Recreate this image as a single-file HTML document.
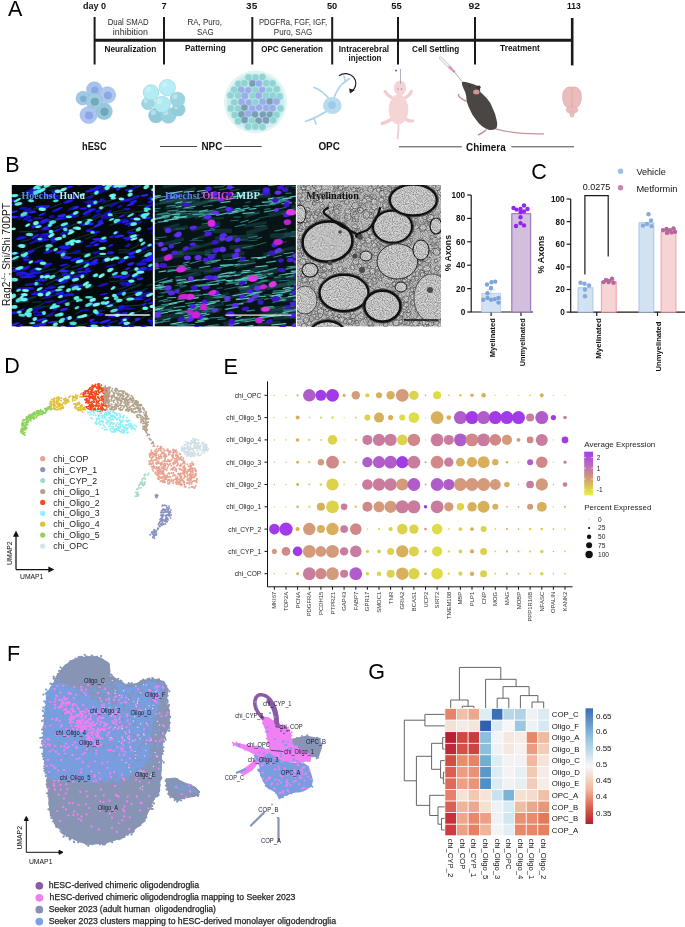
<!DOCTYPE html><html><head><meta charset="utf-8"><style>html,body{margin:0;padding:0;background:#fff;}body{width:685px;height:927px;overflow:hidden;}svg{display:block;will-change:transform;}</style></head><body>
<svg width="685" height="927" viewBox="0 0 685 927">
<defs><filter id="emn" x="0" y="0" width="100%" height="100%"><feTurbulence type="fractalNoise" baseFrequency="0.9" numOctaves="2" seed="3" result="t"/><feColorMatrix in="t" type="matrix" values="0 0 0 0 0  0 0 0 0 0  0 0 0 0 0  0 0 0 1.6 -0.55" result="a"/><feComposite in="a" in2="SourceGraphic" operator="in"/></filter><filter id="bl4"><feGaussianBlur stdDeviation="0.4"/></filter><filter id="bl5"><feGaussianBlur stdDeviation="0.6"/></filter><linearGradient id="gexp" x1="0" y1="0" x2="0" y2="1"><stop offset="0" stop-color="#a23cf0"/><stop offset="0.35" stop-color="#c070b4"/><stop offset="0.65" stop-color="#d6a468"/><stop offset="1" stop-color="#e8f43c"/></linearGradient><linearGradient id="ghm" x1="0" y1="0" x2="0" y2="1"><stop offset="0" stop-color="#3b6db3"/><stop offset="0.25" stop-color="#8fc2de"/><stop offset="0.5" stop-color="#f7f7f7"/><stop offset="0.7" stop-color="#f2b79c"/><stop offset="0.85" stop-color="#dc6450"/><stop offset="1" stop-color="#b51f2e"/></linearGradient><radialGradient id="gnpc" cx="0.4" cy="0.35" r="0.7"><stop offset="0" stop-color="#c4f0f6"/><stop offset="1" stop-color="#8cd4e2"/></radialGradient><radialGradient id="gsph" cx="0.5" cy="0.5" r="0.5"><stop offset="0.85" stop-color="#d6f1f0"/><stop offset="1" stop-color="#e6f6f5"/></radialGradient></defs>
<text x="8.0" y="16.1" font-size="21.5" font-weight="normal" fill="#000" text-anchor="start" font-family='"Liberation Sans", sans-serif' >A</text>
<text x="5.3" y="171.6" font-size="21.5" font-weight="normal" fill="#000" text-anchor="start" font-family='"Liberation Sans", sans-serif' >B</text>
<text x="531.2" y="178.8" font-size="21.5" font-weight="normal" fill="#000" text-anchor="start" font-family='"Liberation Sans", sans-serif' >C</text>
<text x="4.2" y="373.3" font-size="21.5" font-weight="normal" fill="#000" text-anchor="start" font-family='"Liberation Sans", sans-serif' >D</text>
<text x="223.6" y="373.9" font-size="21.5" font-weight="normal" fill="#000" text-anchor="start" font-family='"Liberation Sans", sans-serif' >E</text>
<text x="7.0" y="660.7" font-size="21.5" font-weight="normal" fill="#000" text-anchor="start" font-family='"Liberation Sans", sans-serif' >F</text>
<text x="368.3" y="679.0" font-size="21.5" font-weight="normal" fill="#000" text-anchor="start" font-family='"Liberation Sans", sans-serif' >G</text>
<g stroke="#1a1a1a" stroke-linecap="butt">
<line x1="94.6" y1="40.3" x2="572.5" y2="40.3" stroke-width="3"/>
<line x1="94.6" y1="17" x2="94.6" y2="64.5" stroke-width="2"/>
<line x1="164.0" y1="17" x2="164.0" y2="64.5" stroke-width="2"/>
<line x1="252.3" y1="17" x2="252.3" y2="64.5" stroke-width="2"/>
<line x1="332.2" y1="17" x2="332.2" y2="64.5" stroke-width="2"/>
<line x1="398.0" y1="17" x2="398.0" y2="64.5" stroke-width="2"/>
<line x1="475.0" y1="17" x2="475.0" y2="64.5" stroke-width="2"/>
<line x1="572.2" y1="18" x2="572.2" y2="65.4" stroke-width="2.6"/>
</g>
<text x="82.9" y="9.1" font-size="9.2" font-weight="bold" fill="#111" text-anchor="start" font-family='"Liberation Sans", sans-serif' textLength="23.1" lengthAdjust="spacingAndGlyphs" >day 0</text>
<text x="161.5" y="9.1" font-size="9.2" font-weight="bold" fill="#111" text-anchor="start" font-family='"Liberation Sans", sans-serif' textLength="5.1" lengthAdjust="spacingAndGlyphs" >7</text>
<text x="246.1" y="9.1" font-size="9.2" font-weight="bold" fill="#111" text-anchor="start" font-family='"Liberation Sans", sans-serif' textLength="11.1" lengthAdjust="spacingAndGlyphs" >35</text>
<text x="326.9" y="9.1" font-size="9.2" font-weight="bold" fill="#111" text-anchor="start" font-family='"Liberation Sans", sans-serif' textLength="10.3" lengthAdjust="spacingAndGlyphs" >50</text>
<text x="391.3" y="9.1" font-size="9.2" font-weight="bold" fill="#111" text-anchor="start" font-family='"Liberation Sans", sans-serif' textLength="10.5" lengthAdjust="spacingAndGlyphs" >55</text>
<text x="468.4" y="9.1" font-size="9.2" font-weight="bold" fill="#111" text-anchor="start" font-family='"Liberation Sans", sans-serif' textLength="11.6" lengthAdjust="spacingAndGlyphs" >92</text>
<text x="567.0" y="9.1" font-size="9.2" font-weight="bold" fill="#111" text-anchor="start" font-family='"Liberation Sans", sans-serif' textLength="13.6" lengthAdjust="spacingAndGlyphs" >113</text>
<text x="107.7" y="24.8" font-size="9.2" font-weight="normal" fill="#2a2a2a" text-anchor="start" font-family='"Liberation Sans", sans-serif' textLength="40.9" lengthAdjust="spacingAndGlyphs" >Dual SMAD</text>
<text x="112.8" y="35.0" font-size="9.2" font-weight="normal" fill="#2a2a2a" text-anchor="start" font-family='"Liberation Sans", sans-serif' textLength="35.1" lengthAdjust="spacingAndGlyphs" >inhibition</text>
<text x="104.5" y="51.6" font-size="9.0" font-weight="bold" fill="#111" text-anchor="start" font-family='"Liberation Sans", sans-serif' textLength="51.7" lengthAdjust="spacingAndGlyphs" >Neuralization</text>
<text x="187.4" y="24.8" font-size="9.0" font-weight="normal" fill="#2a2a2a" text-anchor="start" font-family='"Liberation Sans", sans-serif' textLength="34.6" lengthAdjust="spacingAndGlyphs" >RA, Puro,</text>
<text x="196.9" y="35.0" font-size="9.2" font-weight="normal" fill="#2a2a2a" text-anchor="start" font-family='"Liberation Sans", sans-serif' textLength="16.8" lengthAdjust="spacingAndGlyphs" >SAG</text>
<text x="185.1" y="51.4" font-size="9.0" font-weight="bold" fill="#111" text-anchor="start" font-family='"Liberation Sans", sans-serif' textLength="40.6" lengthAdjust="spacingAndGlyphs" >Patterning</text>
<text x="258.9" y="24.5" font-size="9.0" font-weight="normal" fill="#2a2a2a" text-anchor="start" font-family='"Liberation Sans", sans-serif' textLength="68.3" lengthAdjust="spacingAndGlyphs" >PDGFRa, FGF, IGF,</text>
<text x="273.8" y="35.0" font-size="9.0" font-weight="normal" fill="#2a2a2a" text-anchor="start" font-family='"Liberation Sans", sans-serif' textLength="38.5" lengthAdjust="spacingAndGlyphs" >Puro, SAG</text>
<text x="261.2" y="52.0" font-size="9.2" font-weight="bold" fill="#111" text-anchor="start" font-family='"Liberation Sans", sans-serif' textLength="61.7" lengthAdjust="spacingAndGlyphs" >OPC Generation</text>
<text x="338.8" y="51.6" font-size="9.0" font-weight="bold" fill="#111" text-anchor="start" font-family='"Liberation Sans", sans-serif' textLength="50.3" lengthAdjust="spacingAndGlyphs" >Intracerebral</text>
<text x="348.6" y="61.0" font-size="9.0" font-weight="bold" fill="#111" text-anchor="start" font-family='"Liberation Sans", sans-serif' textLength="32.9" lengthAdjust="spacingAndGlyphs" >injection</text>
<text x="412.1" y="51.8" font-size="9.2" font-weight="bold" fill="#111" text-anchor="start" font-family='"Liberation Sans", sans-serif' textLength="47.1" lengthAdjust="spacingAndGlyphs" >Cell Settling</text>
<text x="500.1" y="51.3" font-size="8.6" font-weight="bold" fill="#111" text-anchor="start" font-family='"Liberation Sans", sans-serif' textLength="39.7" lengthAdjust="spacingAndGlyphs" >Treatment</text>
<text x="82.0" y="149.7" font-size="11.0" font-weight="bold" fill="#111" text-anchor="start" font-family='"Liberation Sans", sans-serif' textLength="24.6" lengthAdjust="spacingAndGlyphs" >hESC</text>
<text x="201.5" y="149.8" font-size="11.0" font-weight="bold" fill="#111" text-anchor="start" font-family='"Liberation Sans", sans-serif' textLength="20.8" lengthAdjust="spacingAndGlyphs" >NPC</text>
<text x="318.4" y="150.0" font-size="11.0" font-weight="bold" fill="#111" text-anchor="start" font-family='"Liberation Sans", sans-serif' textLength="21.5" lengthAdjust="spacingAndGlyphs" >OPC</text>
<text x="466.0" y="150.5" font-size="11.0" font-weight="bold" fill="#111" text-anchor="start" font-family='"Liberation Sans", sans-serif' textLength="39.7" lengthAdjust="spacingAndGlyphs" >Chimera</text>
<g stroke="#333" stroke-width="0.9">
<line x1="160" y1="146.5" x2="197" y2="146.5"/><line x1="224.4" y1="146.5" x2="261.7" y2="146.5"/>
<line x1="399" y1="146.8" x2="461.8" y2="146.8"/><line x1="511.4" y1="146.8" x2="574" y2="146.8"/>
</g>
<circle cx="82.9" cy="98.2" r="6.9" fill="#a2c6e6" stroke="#8fb4dc" stroke-width="0.5"/>
<circle cx="83.4" cy="98.7" r="3.3" fill="#7fb0cc"/>
<circle cx="94.3" cy="89.6" r="7.8" fill="#a8c2ee" stroke="#8fb4dc" stroke-width="0.5"/>
<circle cx="94.8" cy="90.1" r="3.7" fill="#8aa6e2"/>
<circle cx="107.4" cy="95.0" r="8.3" fill="#b0c8f0" stroke="#8fb4dc" stroke-width="0.5"/>
<circle cx="107.9" cy="95.5" r="4.0" fill="#8ea8e6"/>
<circle cx="104.0" cy="111.3" r="8.3" fill="#96c8dc" stroke="#8fb4dc" stroke-width="0.5"/>
<circle cx="104.5" cy="111.8" r="4.0" fill="#6fa6b8"/>
<circle cx="94.3" cy="101.2" r="8.3" fill="#9ccde0" stroke="#8fb4dc" stroke-width="0.5"/>
<circle cx="94.8" cy="101.7" r="4.0" fill="#73a9ba"/>
<circle cx="88.6" cy="115.0" r="8.6" fill="#aec4f0" stroke="#8fb4dc" stroke-width="0.5"/>
<circle cx="89.1" cy="115.5" r="4.1" fill="#8ca6e4"/>
<circle cx="156" cy="115.5" r="7.4" fill="#90cad8" stroke="#84cadb" stroke-width="0.5"/>
<circle cx="153.4" cy="112.5" r="2.6" fill="#d8f6fa" opacity="0.5"/>
<circle cx="168.3" cy="115.5" r="7.8" fill="#98d0dc" stroke="#84cadb" stroke-width="0.5"/>
<circle cx="165.6" cy="112.4" r="2.7" fill="#d8f6fa" opacity="0.5"/>
<circle cx="178.5" cy="109.5" r="6.6" fill="#94ccda" stroke="#84cadb" stroke-width="0.5"/>
<circle cx="176.2" cy="106.9" r="2.3" fill="#d8f6fa" opacity="0.5"/>
<circle cx="177.5" cy="99.6" r="7.4" fill="#9ad4e0" stroke="#84cadb" stroke-width="0.5"/>
<circle cx="174.9" cy="96.6" r="2.6" fill="#d8f6fa" opacity="0.5"/>
<circle cx="147.9" cy="103.5" r="6.3" fill="#9ed6e2" stroke="#84cadb" stroke-width="0.5"/>
<circle cx="145.7" cy="101.0" r="2.2" fill="#d8f6fa" opacity="0.5"/>
<circle cx="151" cy="92.5" r="7.8" fill="#b4ecf4" stroke="#84cadb" stroke-width="0.5"/>
<circle cx="148.3" cy="89.4" r="2.7" fill="#d8f6fa" opacity="0.5"/>
<circle cx="167.3" cy="87.6" r="8.2" fill="#b6eef6" stroke="#84cadb" stroke-width="0.5"/>
<circle cx="164.4" cy="84.3" r="2.9" fill="#d8f6fa" opacity="0.5"/>
<circle cx="162.2" cy="104.5" r="8.2" fill="#b2eaf2" stroke="#84cadb" stroke-width="0.5"/>
<circle cx="159.3" cy="101.2" r="2.9" fill="#d8f6fa" opacity="0.5"/>
<circle cx="255.5" cy="102" r="31.5" fill="#e2f4f3"/>
<circle cx="255.5" cy="102" r="28.8" fill="#cdeceb"/>
<circle cx="248.5" cy="77.5" r="3.9" fill="#b8e6e4"/><circle cx="248.5" cy="77.5" r="3.15" fill="#8fd3d3"/>
<circle cx="255.5" cy="77.6" r="3.9" fill="#b8e6e4"/><circle cx="255.5" cy="77.6" r="3.15" fill="#8fd3d3"/>
<circle cx="262.4" cy="77.1" r="3.9" fill="#b8e6e4"/><circle cx="262.4" cy="77.1" r="3.15" fill="#8fd3d3"/>
<circle cx="238.5" cy="83.9" r="3.9" fill="#b8e6e4"/><circle cx="238.5" cy="83.9" r="3.15" fill="#8fd3d3"/>
<circle cx="244.4" cy="83.2" r="3.9" fill="#b8e6e4"/><circle cx="244.4" cy="83.2" r="3.15" fill="#8fd3d3"/>
<circle cx="252.5" cy="83.5" r="3.9" fill="#a6c6da"/><circle cx="252.5" cy="83.5" r="3.15" fill="#7a9fb2"/>
<circle cx="258.9" cy="83.6" r="3.9" fill="#b8c8f0"/><circle cx="258.9" cy="83.6" r="3.15" fill="#98aee8"/>
<circle cx="266.3" cy="83.2" r="3.9" fill="#b8e6e4"/><circle cx="266.3" cy="83.2" r="3.15" fill="#8fd3d3"/>
<circle cx="272.5" cy="83.3" r="3.9" fill="#b8e6e4"/><circle cx="272.5" cy="83.3" r="3.15" fill="#8fd3d3"/>
<circle cx="234.1" cy="90.0" r="3.9" fill="#b8e6e4"/><circle cx="234.1" cy="90.0" r="3.15" fill="#8fd3d3"/>
<circle cx="241.1" cy="89.9" r="3.9" fill="#b8c8f0"/><circle cx="241.1" cy="89.9" r="3.15" fill="#98aee8"/>
<circle cx="248.4" cy="90.3" r="3.9" fill="#b8c8f0"/><circle cx="248.4" cy="90.3" r="3.15" fill="#98aee8"/>
<circle cx="255.2" cy="90.2" r="3.9" fill="#b8e6e4"/><circle cx="255.2" cy="90.2" r="3.15" fill="#8fd3d3"/>
<circle cx="262.3" cy="90.1" r="3.9" fill="#b8c8f0"/><circle cx="262.3" cy="90.1" r="3.15" fill="#98aee8"/>
<circle cx="269.1" cy="90.3" r="3.9" fill="#b8e6e4"/><circle cx="269.1" cy="90.3" r="3.15" fill="#8fd3d3"/>
<circle cx="276.7" cy="89.2" r="3.9" fill="#b8e6e4"/><circle cx="276.7" cy="89.2" r="3.15" fill="#8fd3d3"/>
<circle cx="230.5" cy="95.3" r="3.9" fill="#b8e6e4"/><circle cx="230.5" cy="95.3" r="3.15" fill="#8fd3d3"/>
<circle cx="238.1" cy="95.5" r="3.9" fill="#b8e6e4"/><circle cx="238.1" cy="95.5" r="3.15" fill="#8fd3d3"/>
<circle cx="244.8" cy="96.0" r="3.9" fill="#b8c8f0"/><circle cx="244.8" cy="96.0" r="3.15" fill="#98aee8"/>
<circle cx="252.6" cy="95.8" r="3.9" fill="#b8e6e4"/><circle cx="252.6" cy="95.8" r="3.15" fill="#8fd3d3"/>
<circle cx="258.6" cy="95.7" r="3.9" fill="#b8c8f0"/><circle cx="258.6" cy="95.7" r="3.15" fill="#98aee8"/>
<circle cx="265.8" cy="95.5" r="3.9" fill="#b8e6e4"/><circle cx="265.8" cy="95.5" r="3.15" fill="#8fd3d3"/>
<circle cx="272.7" cy="95.5" r="3.9" fill="#b8e6e4"/><circle cx="272.7" cy="95.5" r="3.15" fill="#8fd3d3"/>
<circle cx="279.6" cy="96.4" r="3.9" fill="#b8e6e4"/><circle cx="279.6" cy="96.4" r="3.15" fill="#8fd3d3"/>
<circle cx="234.2" cy="102.4" r="3.9" fill="#b8e6e4"/><circle cx="234.2" cy="102.4" r="3.15" fill="#8fd3d3"/>
<circle cx="241.6" cy="101.8" r="3.9" fill="#b8c8f0"/><circle cx="241.6" cy="101.8" r="3.15" fill="#98aee8"/>
<circle cx="249.0" cy="102.6" r="3.9" fill="#b8c8f0"/><circle cx="249.0" cy="102.6" r="3.15" fill="#98aee8"/>
<circle cx="255.2" cy="102.1" r="3.9" fill="#b8e6e4"/><circle cx="255.2" cy="102.1" r="3.15" fill="#8fd3d3"/>
<circle cx="262.6" cy="101.7" r="3.9" fill="#b8c8f0"/><circle cx="262.6" cy="101.7" r="3.15" fill="#98aee8"/>
<circle cx="269.8" cy="101.5" r="3.9" fill="#a6c6da"/><circle cx="269.8" cy="101.5" r="3.15" fill="#7a9fb2"/>
<circle cx="276.4" cy="101.5" r="3.9" fill="#b8c8f0"/><circle cx="276.4" cy="101.5" r="3.15" fill="#98aee8"/>
<circle cx="230.8" cy="108.4" r="3.9" fill="#b8e6e4"/><circle cx="230.8" cy="108.4" r="3.15" fill="#8fd3d3"/>
<circle cx="238.0" cy="108.7" r="3.9" fill="#b8e6e4"/><circle cx="238.0" cy="108.7" r="3.15" fill="#8fd3d3"/>
<circle cx="244.4" cy="107.6" r="3.9" fill="#a6c6da"/><circle cx="244.4" cy="107.6" r="3.15" fill="#7a9fb2"/>
<circle cx="252.2" cy="108.7" r="3.9" fill="#b8c8f0"/><circle cx="252.2" cy="108.7" r="3.15" fill="#98aee8"/>
<circle cx="259.1" cy="107.6" r="3.9" fill="#b8c8f0"/><circle cx="259.1" cy="107.6" r="3.15" fill="#98aee8"/>
<circle cx="266.3" cy="107.9" r="3.9" fill="#b8c8f0"/><circle cx="266.3" cy="107.9" r="3.15" fill="#98aee8"/>
<circle cx="272.5" cy="108.2" r="3.9" fill="#b8c8f0"/><circle cx="272.5" cy="108.2" r="3.15" fill="#98aee8"/>
<circle cx="280.5" cy="108.4" r="3.9" fill="#b8e6e4"/><circle cx="280.5" cy="108.4" r="3.15" fill="#8fd3d3"/>
<circle cx="234.8" cy="114.8" r="3.9" fill="#b8e6e4"/><circle cx="234.8" cy="114.8" r="3.15" fill="#8fd3d3"/>
<circle cx="241.6" cy="114.5" r="3.9" fill="#a6c6da"/><circle cx="241.6" cy="114.5" r="3.15" fill="#7a9fb2"/>
<circle cx="248.4" cy="113.7" r="3.9" fill="#b8c8f0"/><circle cx="248.4" cy="113.7" r="3.15" fill="#98aee8"/>
<circle cx="255.0" cy="114.5" r="3.9" fill="#a6c6da"/><circle cx="255.0" cy="114.5" r="3.15" fill="#7a9fb2"/>
<circle cx="263.0" cy="114.6" r="3.9" fill="#a6c6da"/><circle cx="263.0" cy="114.6" r="3.15" fill="#7a9fb2"/>
<circle cx="270.0" cy="114.6" r="3.9" fill="#a6c6da"/><circle cx="270.0" cy="114.6" r="3.15" fill="#7a9fb2"/>
<circle cx="276.4" cy="114.7" r="3.9" fill="#b8e6e4"/><circle cx="276.4" cy="114.7" r="3.15" fill="#8fd3d3"/>
<circle cx="238.1" cy="121.0" r="3.9" fill="#b8e6e4"/><circle cx="238.1" cy="121.0" r="3.15" fill="#8fd3d3"/>
<circle cx="244.7" cy="119.9" r="3.9" fill="#a6c6da"/><circle cx="244.7" cy="119.9" r="3.15" fill="#7a9fb2"/>
<circle cx="251.6" cy="120.6" r="3.9" fill="#b8e6e4"/><circle cx="251.6" cy="120.6" r="3.15" fill="#8fd3d3"/>
<circle cx="258.6" cy="121.0" r="3.9" fill="#a6c6da"/><circle cx="258.6" cy="121.0" r="3.15" fill="#7a9fb2"/>
<circle cx="266.0" cy="120.2" r="3.9" fill="#a6c6da"/><circle cx="266.0" cy="120.2" r="3.15" fill="#7a9fb2"/>
<circle cx="273.2" cy="120.1" r="3.9" fill="#b8e6e4"/><circle cx="273.2" cy="120.1" r="3.15" fill="#8fd3d3"/>
<circle cx="248.1" cy="126.6" r="3.9" fill="#b8e6e4"/><circle cx="248.1" cy="126.6" r="3.15" fill="#8fd3d3"/>
<circle cx="255.2" cy="126.3" r="3.9" fill="#b8e6e4"/><circle cx="255.2" cy="126.3" r="3.15" fill="#8fd3d3"/>
<circle cx="262.4" cy="126.8" r="3.9" fill="#b8e6e4"/><circle cx="262.4" cy="126.8" r="3.15" fill="#8fd3d3"/>
<g stroke="#a9d3ee" stroke-width="1.6" fill="none" stroke-linecap="round"><path d="M330 100 Q322 90 314 87.5"/><path d="M334 98 Q338 86 346 81 L349.5 78.5 M345.5 82 L344 76"/><path d="M327 111 Q316 118 305.5 121.5 M314 118.5 L316 124"/></g>
<ellipse cx="332.3" cy="105.5" rx="9.3" ry="8.6" fill="#b7dcf2"/><circle cx="332" cy="105" r="3.9" fill="#9ccbea"/>
<path d="M339 75.8 A10 9.5 0 1 1 352 91" fill="none" stroke="#222" stroke-width="1.1"/><path d="M349 88.5 L355 90 L350 93.5 Z" fill="#222"/>
<g fill="none" stroke="#f2cdd0" stroke-linecap="round"><path d="M391.5 97.5 Q387.5 95.5 385 91.5" stroke-width="3.2"/><path d="M405.5 97.5 Q409.5 95.5 411.5 91.5" stroke-width="3.2"/><path d="M392 119 Q386.5 122.5 382 123.5" stroke-width="3.4"/><path d="M405 119 Q410 121.5 412.5 121" stroke-width="3.4"/><path d="M398.5 124 Q398.8 131 397.6 138.5" stroke-width="1.8"/></g><g fill="#f5d4d6"><ellipse cx="398.5" cy="109.5" rx="9.8" ry="15"/><ellipse cx="400" cy="88" rx="6.2" ry="7.6"/></g>
<line x1="400.5" y1="69" x2="400.5" y2="84" stroke="#9aa0b0" stroke-width="0.8"/><circle cx="396" cy="70.5" r="1" fill="#4060d0"/><circle cx="398" cy="89" r="0.6" fill="#506080"/><circle cx="401.5" cy="89" r="0.6" fill="#506080"/>
<g stroke-linecap="round"><line x1="440.5" y1="58" x2="450.5" y2="68" stroke="#c8c8cc" stroke-width="3.2"/><line x1="440.5" y1="58" x2="450.5" y2="68" stroke="#f0f0f2" stroke-width="2"/><line x1="449.5" y1="67" x2="454" y2="71.5" stroke="#e890c0" stroke-width="2.4"/><line x1="454" y1="71.5" x2="461.5" y2="81" stroke="#777" stroke-width="0.6"/></g>
<path d="M466 101.2 Q462 99 459.5 97 Q458 95.5 458.5 94.5" stroke="#c89090" stroke-width="1.5" fill="none" stroke-linecap="round"/><path d="M495.4 128.9 Q515 134.5 544.1 133.9" stroke="#c89494" stroke-width="1.2" fill="none"/><path d="M486 130 Q482 133.5 478.6 134.7" stroke="#c48c8c" stroke-width="1.6" fill="none" stroke-linecap="round"/><path d="M461.9 81.9 Q464 81.5 468.6 82.7 Q474 84 477.8 86.1 Q480.5 88.5 480.3 91.9 Q484 95 487 98.6 Q491 103 492.9 108.7 Q495.5 114 496.3 118.8 Q497.5 123 497.1 125.5 Q497 128 495.4 128.9 Q492 130.5 488.7 129.7 Q485 128.5 482 126.3 Q478 123 475.3 118.8 Q472 114.5 470.3 110.4 Q468 106 466.9 102 Q466.3 98.5 466.1 95.3 Q465.5 92 463.5 88.6 Q461.5 85 461.9 81.9 Z" fill="#4a4643"/><ellipse cx="478.6" cy="87.3" rx="2" ry="1.9" fill="#3a3634"/><ellipse cx="476.3" cy="92" rx="3.2" ry="2.5" fill="#d49494"/><circle cx="469.4" cy="86.1" r="0.6" fill="#111"/>
<g fill="#ebbcbc" stroke="#dca4a4" stroke-width="0.4"><path d="M572 87 Q566 86 563 92 Q561 100 565 106 Q569 110 572 109 Q575 110 579 106 Q583 100 581 92 Q578 86 572 87 Z"/><ellipse cx="572" cy="110" rx="6" ry="3.5"/><rect x="570" y="111" width="4" height="6" rx="1.5"/></g><line x1="572" y1="88" x2="572" y2="108" stroke="#d49a9a" stroke-width="0.5"/>
<svg x="11.8" y="185.0" width="141.2" height="141.3" overflow="hidden">
<rect width="141.2" height="141.3" fill="#040a0c"/>
<g filter="url(#bl4)">
<line x1="21.3" y1="98.6" x2="36.3" y2="94.4" stroke="#123030" stroke-width="1.2"/>
<line x1="28.8" y1="113.8" x2="45.9" y2="109.3" stroke="#123030" stroke-width="1.2"/>
<line x1="71.3" y1="31.8" x2="79.0" y2="29.2" stroke="#123030" stroke-width="1.2"/>
<line x1="83.2" y1="7.2" x2="99.4" y2="0.6" stroke="#123030" stroke-width="1.2"/>
<line x1="31.3" y1="3.2" x2="51.0" y2="0.2" stroke="#123030" stroke-width="1.2"/>
<line x1="125.8" y1="87.7" x2="133.7" y2="84.9" stroke="#123030" stroke-width="1.2"/>
<line x1="70.2" y1="14.1" x2="88.7" y2="7.9" stroke="#123030" stroke-width="1.2"/>
<line x1="19.8" y1="117.4" x2="29.3" y2="116.8" stroke="#123030" stroke-width="1.2"/>
<line x1="63.7" y1="78.3" x2="75.4" y2="75.1" stroke="#123030" stroke-width="1.2"/>
<line x1="24.5" y1="2.5" x2="41.6" y2="-4.4" stroke="#123030" stroke-width="1.2"/>
<line x1="111.9" y1="27.7" x2="131.4" y2="26.1" stroke="#123030" stroke-width="1.2"/>
<line x1="108.1" y1="109.4" x2="122.9" y2="107.0" stroke="#123030" stroke-width="1.2"/>
<line x1="15.0" y1="67.2" x2="31.6" y2="60.2" stroke="#123030" stroke-width="1.2"/>
<line x1="132.9" y1="127.7" x2="145.1" y2="123.6" stroke="#123030" stroke-width="1.2"/>
<line x1="63.4" y1="53.8" x2="82.4" y2="47.7" stroke="#123030" stroke-width="1.2"/>
<line x1="1.0" y1="10.7" x2="17.6" y2="10.1" stroke="#123030" stroke-width="1.2"/>
<line x1="70.0" y1="69.4" x2="84.5" y2="67.2" stroke="#123030" stroke-width="1.2"/>
<line x1="29.7" y1="86.7" x2="44.1" y2="83.7" stroke="#123030" stroke-width="1.2"/>
<line x1="23.6" y1="22.1" x2="35.7" y2="21.2" stroke="#123030" stroke-width="1.2"/>
<line x1="48.0" y1="85.0" x2="58.6" y2="80.0" stroke="#123030" stroke-width="1.2"/>
<line x1="6.7" y1="116.9" x2="23.1" y2="111.4" stroke="#123030" stroke-width="1.2"/>
<line x1="97.6" y1="96.6" x2="116.3" y2="95.5" stroke="#123030" stroke-width="1.2"/>
<line x1="56.9" y1="142.7" x2="76.0" y2="138.4" stroke="#123030" stroke-width="1.2"/>
<line x1="127.0" y1="69.3" x2="138.6" y2="64.7" stroke="#123030" stroke-width="1.2"/>
<line x1="126.0" y1="20.9" x2="134.7" y2="19.8" stroke="#123030" stroke-width="1.2"/>
<line x1="110.9" y1="68.2" x2="127.0" y2="60.1" stroke="#123030" stroke-width="1.2"/>
<line x1="35.0" y1="39.7" x2="46.9" y2="34.5" stroke="#123030" stroke-width="1.2"/>
<line x1="7.2" y1="46.8" x2="26.0" y2="46.0" stroke="#123030" stroke-width="1.2"/>
<line x1="106.8" y1="67.6" x2="117.8" y2="67.0" stroke="#123030" stroke-width="1.2"/>
<line x1="74.4" y1="104.3" x2="82.1" y2="101.1" stroke="#123030" stroke-width="1.2"/>
<line x1="120.4" y1="114.1" x2="138.5" y2="110.2" stroke="#123030" stroke-width="1.2"/>
<line x1="59.7" y1="82.6" x2="76.8" y2="76.4" stroke="#123030" stroke-width="1.2"/>
<line x1="75.7" y1="37.7" x2="90.9" y2="29.6" stroke="#123030" stroke-width="1.2"/>
<line x1="97.9" y1="137.5" x2="106.0" y2="135.7" stroke="#123030" stroke-width="1.2"/>
<line x1="91.8" y1="122.5" x2="105.8" y2="117.0" stroke="#123030" stroke-width="1.2"/>
<line x1="56.7" y1="138.2" x2="73.9" y2="130.4" stroke="#123030" stroke-width="1.2"/>
<line x1="11.0" y1="10.8" x2="18.9" y2="8.5" stroke="#123030" stroke-width="1.2"/>
<line x1="17.7" y1="124.8" x2="32.1" y2="118.1" stroke="#123030" stroke-width="1.2"/>
<line x1="76.3" y1="44.8" x2="89.2" y2="39.5" stroke="#123030" stroke-width="1.2"/>
<line x1="21.4" y1="24.1" x2="33.8" y2="22.0" stroke="#123030" stroke-width="1.2"/>
<line x1="78.0" y1="3.8" x2="94.4" y2="2.3" stroke="#123030" stroke-width="1.2"/>
<line x1="111.0" y1="113.5" x2="118.8" y2="111.3" stroke="#123030" stroke-width="1.2"/>
<line x1="6.3" y1="109.5" x2="16.3" y2="107.9" stroke="#123030" stroke-width="1.2"/>
<line x1="34.2" y1="99.6" x2="44.7" y2="94.3" stroke="#123030" stroke-width="1.2"/>
<line x1="54.2" y1="42.6" x2="71.9" y2="36.0" stroke="#123030" stroke-width="1.2"/>
<line x1="71.1" y1="77.9" x2="88.6" y2="69.6" stroke="#123030" stroke-width="1.2"/>
<line x1="85.5" y1="71.9" x2="102.3" y2="71.0" stroke="#123030" stroke-width="1.2"/>
<line x1="42.7" y1="100.0" x2="56.6" y2="96.7" stroke="#123030" stroke-width="1.2"/>
<line x1="6.4" y1="117.0" x2="25.1" y2="110.7" stroke="#123030" stroke-width="1.2"/>
<line x1="43.8" y1="143.3" x2="52.2" y2="139.2" stroke="#123030" stroke-width="1.2"/>
<line x1="7.8" y1="117.0" x2="24.2" y2="112.1" stroke="#123030" stroke-width="1.2"/>
<line x1="88.5" y1="-0.1" x2="103.6" y2="-4.6" stroke="#123030" stroke-width="1.2"/>
<line x1="73.2" y1="54.4" x2="85.0" y2="49.5" stroke="#123030" stroke-width="1.2"/>
<line x1="4.2" y1="60.9" x2="15.0" y2="59.1" stroke="#123030" stroke-width="1.2"/>
<line x1="117.3" y1="103.6" x2="129.8" y2="98.6" stroke="#123030" stroke-width="1.2"/>
<line x1="53.7" y1="68.7" x2="69.3" y2="67.9" stroke="#123030" stroke-width="1.2"/>
<line x1="9.6" y1="67.7" x2="23.3" y2="65.4" stroke="#123030" stroke-width="1.2"/>
<line x1="128.1" y1="111.8" x2="143.4" y2="109.6" stroke="#123030" stroke-width="1.2"/>
<line x1="95.3" y1="123.5" x2="111.5" y2="120.6" stroke="#123030" stroke-width="1.2"/>
<line x1="33.1" y1="132.0" x2="45.5" y2="129.4" stroke="#123030" stroke-width="1.2"/>
<line x1="118.4" y1="139.0" x2="136.0" y2="129.7" stroke="#123030" stroke-width="1.2"/>
<line x1="43.0" y1="42.9" x2="54.6" y2="37.7" stroke="#123030" stroke-width="1.2"/>
<line x1="78.4" y1="8.7" x2="90.0" y2="8.0" stroke="#123030" stroke-width="1.2"/>
<line x1="106.3" y1="65.1" x2="115.6" y2="64.6" stroke="#123030" stroke-width="1.2"/>
<line x1="100.6" y1="27.3" x2="112.4" y2="25.0" stroke="#123030" stroke-width="1.2"/>
<line x1="97.3" y1="35.4" x2="115.6" y2="28.9" stroke="#123030" stroke-width="1.2"/>
<line x1="34.4" y1="121.5" x2="44.1" y2="119.8" stroke="#123030" stroke-width="1.2"/>
<line x1="26.4" y1="85.1" x2="37.2" y2="81.6" stroke="#123030" stroke-width="1.2"/>
<line x1="135.5" y1="65.8" x2="148.4" y2="63.0" stroke="#123030" stroke-width="1.2"/>
<line x1="38.3" y1="22.7" x2="50.1" y2="18.2" stroke="#123030" stroke-width="1.2"/>
<line x1="24.7" y1="138.5" x2="33.1" y2="137.5" stroke="#123030" stroke-width="1.2"/>
<line x1="134.6" y1="100.8" x2="142.5" y2="98.7" stroke="#123030" stroke-width="1.2"/>
<line x1="2.8" y1="86.5" x2="18.0" y2="80.5" stroke="#123030" stroke-width="1.2"/>
<line x1="-1.9" y1="77.2" x2="6.7" y2="74.1" stroke="#123030" stroke-width="1.2"/>
<line x1="63.8" y1="128.8" x2="75.2" y2="123.6" stroke="#123030" stroke-width="1.2"/>
<line x1="113.5" y1="118.1" x2="126.4" y2="111.7" stroke="#123030" stroke-width="1.2"/>
<line x1="24.6" y1="56.4" x2="38.2" y2="50.8" stroke="#123030" stroke-width="1.2"/>
<line x1="115.1" y1="121.2" x2="134.1" y2="119.6" stroke="#123030" stroke-width="1.2"/>
<line x1="-0.4" y1="82.7" x2="8.5" y2="82.0" stroke="#123030" stroke-width="1.2"/>
<line x1="106.9" y1="108.8" x2="116.1" y2="104.3" stroke="#123030" stroke-width="1.2"/>
<line x1="117.0" y1="86.3" x2="131.9" y2="82.1" stroke="#123030" stroke-width="1.2"/>
<line x1="114.8" y1="46.8" x2="125.4" y2="43.2" stroke="#123030" stroke-width="1.2"/>
<line x1="40.9" y1="89.4" x2="57.6" y2="81.1" stroke="#123030" stroke-width="1.2"/>
<line x1="7.0" y1="72.4" x2="21.8" y2="66.1" stroke="#123030" stroke-width="1.2"/>
<line x1="36.7" y1="5.7" x2="44.9" y2="3.5" stroke="#123030" stroke-width="1.2"/>
<line x1="97.2" y1="93.2" x2="106.2" y2="89.0" stroke="#123030" stroke-width="1.2"/>
<line x1="134.0" y1="76.3" x2="146.7" y2="74.1" stroke="#123030" stroke-width="1.2"/>
<line x1="104.1" y1="74.3" x2="113.0" y2="73.3" stroke="#123030" stroke-width="1.2"/>
<line x1="28.5" y1="3.0" x2="40.3" y2="-0.0" stroke="#123030" stroke-width="1.2"/>
<line x1="89.5" y1="22.6" x2="105.4" y2="18.3" stroke="#123030" stroke-width="1.2"/>
<line x1="20.8" y1="122.3" x2="38.5" y2="121.0" stroke="#123030" stroke-width="1.2"/>
<line x1="97.0" y1="29.0" x2="114.3" y2="27.6" stroke="#123030" stroke-width="1.2"/>
<line x1="75.5" y1="130.8" x2="94.2" y2="124.8" stroke="#123030" stroke-width="1.2"/>
<line x1="135.6" y1="135.0" x2="151.2" y2="126.8" stroke="#123030" stroke-width="1.2"/>
<line x1="48.8" y1="87.4" x2="63.9" y2="85.2" stroke="#123030" stroke-width="1.2"/>
<line x1="92.2" y1="20.8" x2="110.8" y2="16.1" stroke="#123030" stroke-width="1.2"/>
<line x1="126.8" y1="27.5" x2="146.2" y2="22.8" stroke="#123030" stroke-width="1.2"/>
<line x1="111.2" y1="106.0" x2="128.8" y2="100.1" stroke="#123030" stroke-width="1.2"/>
<line x1="9.2" y1="56.7" x2="19.0" y2="54.3" stroke="#123030" stroke-width="1.2"/>
<line x1="117.0" y1="50.4" x2="125.5" y2="46.0" stroke="#123030" stroke-width="1.2"/>
<line x1="59.3" y1="82.5" x2="67.4" y2="81.0" stroke="#123030" stroke-width="1.2"/>
<line x1="28.0" y1="12.8" x2="46.6" y2="8.0" stroke="#123030" stroke-width="1.2"/>
<line x1="128.8" y1="72.7" x2="137.6" y2="69.2" stroke="#123030" stroke-width="1.2"/>
<line x1="59.5" y1="91.4" x2="76.5" y2="88.9" stroke="#123030" stroke-width="1.2"/>
<line x1="92.8" y1="34.3" x2="105.3" y2="30.2" stroke="#123030" stroke-width="1.2"/>
<line x1="69.1" y1="36.1" x2="83.0" y2="32.1" stroke="#123030" stroke-width="1.2"/>
<line x1="2.2" y1="118.2" x2="17.2" y2="116.3" stroke="#123030" stroke-width="1.2"/>
<line x1="105.4" y1="104.7" x2="124.3" y2="98.4" stroke="#123030" stroke-width="1.2"/>
<line x1="54.9" y1="-2.4" x2="70.5" y2="-6.0" stroke="#123030" stroke-width="1.2"/>
<line x1="81.9" y1="144.0" x2="91.5" y2="140.1" stroke="#123030" stroke-width="1.2"/>
<line x1="105.1" y1="116.7" x2="117.4" y2="110.5" stroke="#123030" stroke-width="1.2"/>
<line x1="51.5" y1="118.7" x2="65.0" y2="114.9" stroke="#123030" stroke-width="1.2"/>
<line x1="54.3" y1="89.6" x2="69.3" y2="86.9" stroke="#123030" stroke-width="1.2"/>
<line x1="124.4" y1="107.7" x2="136.0" y2="103.1" stroke="#123030" stroke-width="1.2"/>
<line x1="112.1" y1="113.8" x2="129.7" y2="106.4" stroke="#123030" stroke-width="1.2"/>
<line x1="121.8" y1="128.2" x2="130.2" y2="125.1" stroke="#123030" stroke-width="1.2"/>
<line x1="90.3" y1="18.5" x2="107.0" y2="12.1" stroke="#123030" stroke-width="1.2"/>
<line x1="97.4" y1="40.6" x2="107.2" y2="36.5" stroke="#123030" stroke-width="1.2"/>
<line x1="70.2" y1="102.0" x2="80.7" y2="100.2" stroke="#123030" stroke-width="1.2"/>
<line x1="46.3" y1="92.6" x2="57.8" y2="87.8" stroke="#123030" stroke-width="1.2"/>
<ellipse transform="translate(17.8,5.5) rotate(-26)" rx="4.9" ry="1.2" fill="#1a12a0"/>
<ellipse transform="translate(93.4,0.1) rotate(-17)" rx="5.0" ry="1.3" fill="#1a12a0"/>
<ellipse transform="translate(76.1,77.8) rotate(-1)" rx="4.0" ry="0.9" fill="#2418f0"/>
<ellipse transform="translate(48.0,108.2) rotate(-15)" rx="4.7" ry="1.2" fill="#2418f0"/>
<ellipse transform="translate(61.6,31.2) rotate(-5)" rx="5.5" ry="1.5" fill="#1a12a0"/>
<ellipse transform="translate(129.8,107.3) rotate(-30)" rx="3.7" ry="1.0" fill="#1410b8"/>
<ellipse transform="translate(45.1,45.4) rotate(-24)" rx="3.3" ry="0.9" fill="#2418f0"/>
<ellipse transform="translate(-1.5,20.3) rotate(-25)" rx="3.0" ry="1.3" fill="#1c14e0"/>
<ellipse transform="translate(89.5,15.0) rotate(-24)" rx="2.9" ry="1.4" fill="#1c14e0"/>
<ellipse transform="translate(9.5,32.7) rotate(-24)" rx="4.6" ry="1.0" fill="#1a12a0"/>
<ellipse transform="translate(113.1,133.8) rotate(-18)" rx="4.9" ry="1.5" fill="#1410b8"/>
<ellipse transform="translate(115.7,98.2) rotate(-13)" rx="5.6" ry="1.2" fill="#1c14e0"/>
<ellipse transform="translate(128.2,110.6) rotate(-2)" rx="4.5" ry="1.0" fill="#1c14e0"/>
<ellipse transform="translate(111.7,34.8) rotate(-5)" rx="4.2" ry="1.1" fill="#1410b8"/>
<ellipse transform="translate(47.2,94.8) rotate(-6)" rx="4.8" ry="1.2" fill="#1c14e0"/>
<ellipse transform="translate(14.0,83.2) rotate(-26)" rx="4.2" ry="1.5" fill="#2418f0"/>
<ellipse transform="translate(42.9,54.5) rotate(-3)" rx="3.4" ry="1.4" fill="#1c14e0"/>
<ellipse transform="translate(52.1,124.4) rotate(-11)" rx="4.0" ry="1.4" fill="#2a22f4"/>
<ellipse transform="translate(29.1,127.1) rotate(-11)" rx="5.0" ry="0.9" fill="#1a12a0"/>
<ellipse transform="translate(45.6,24.5) rotate(-24)" rx="5.7" ry="1.2" fill="#1c14e0"/>
<ellipse transform="translate(29.0,21.4) rotate(-7)" rx="5.9" ry="0.9" fill="#2a22f4"/>
<ellipse transform="translate(33.6,49.2) rotate(-9)" rx="5.5" ry="1.0" fill="#2418f0"/>
<ellipse transform="translate(98.8,67.7) rotate(-5)" rx="3.6" ry="1.5" fill="#2418f0"/>
<ellipse transform="translate(39.4,107.5) rotate(-28)" rx="4.9" ry="1.4" fill="#1c14e0"/>
<ellipse transform="translate(33.2,143.8) rotate(-1)" rx="3.6" ry="1.2" fill="#2418f0"/>
<ellipse transform="translate(103.2,1.1) rotate(-24)" rx="4.5" ry="1.5" fill="#1a12a0"/>
<ellipse transform="translate(109.9,31.0) rotate(-24)" rx="2.9" ry="0.9" fill="#2a22f4"/>
<ellipse transform="translate(141.0,70.5) rotate(-1)" rx="5.0" ry="1.3" fill="#2a22f4"/>
<ellipse transform="translate(53.0,133.8) rotate(-29)" rx="5.2" ry="1.3" fill="#1c14e0"/>
<ellipse transform="translate(108.0,21.4) rotate(-28)" rx="2.9" ry="1.2" fill="#1410b8"/>
<ellipse transform="translate(13.4,72.2) rotate(-9)" rx="3.5" ry="1.2" fill="#2a22f4"/>
<ellipse transform="translate(109.9,137.1) rotate(-30)" rx="4.4" ry="1.1" fill="#2a22f4"/>
<ellipse transform="translate(119.9,141.3) rotate(-21)" rx="3.4" ry="1.3" fill="#1410b8"/>
<ellipse transform="translate(121.6,16.9) rotate(-19)" rx="3.7" ry="1.6" fill="#2418f0"/>
<ellipse transform="translate(117.5,38.1) rotate(-20)" rx="5.2" ry="0.9" fill="#2418f0"/>
<ellipse transform="translate(113.2,99.1) rotate(-29)" rx="4.3" ry="0.9" fill="#1410b8"/>
<ellipse transform="translate(81.4,78.6) rotate(-11)" rx="5.5" ry="1.5" fill="#2418f0"/>
<ellipse transform="translate(86.4,26.2) rotate(-18)" rx="3.1" ry="1.4" fill="#1410b8"/>
<ellipse transform="translate(28.9,55.3) rotate(-8)" rx="5.3" ry="1.5" fill="#1c14e0"/>
<ellipse transform="translate(32.9,44.3) rotate(-4)" rx="3.6" ry="1.2" fill="#1c14e0"/>
<ellipse transform="translate(88.0,129.5) rotate(-2)" rx="4.1" ry="1.4" fill="#2418f0"/>
<ellipse transform="translate(24.5,87.7) rotate(-3)" rx="5.9" ry="1.5" fill="#1c14e0"/>
<ellipse transform="translate(129.7,78.8) rotate(-5)" rx="5.7" ry="1.6" fill="#1c14e0"/>
<ellipse transform="translate(87.7,-1.7) rotate(-14)" rx="5.2" ry="1.6" fill="#1c14e0"/>
<ellipse transform="translate(89.7,6.2) rotate(-17)" rx="5.8" ry="1.6" fill="#1a12a0"/>
<ellipse transform="translate(57.0,141.9) rotate(-15)" rx="5.5" ry="1.5" fill="#1410b8"/>
<ellipse transform="translate(24.4,40.9) rotate(-28)" rx="5.2" ry="1.1" fill="#2418f0"/>
<ellipse transform="translate(20.5,57.5) rotate(-19)" rx="3.6" ry="1.1" fill="#1a12a0"/>
<ellipse transform="translate(106.6,51.2) rotate(-11)" rx="4.3" ry="1.5" fill="#2418f0"/>
<ellipse transform="translate(64.7,66.6) rotate(-13)" rx="4.3" ry="1.1" fill="#1410b8"/>
<ellipse transform="translate(110.5,98.0) rotate(-8)" rx="3.6" ry="1.3" fill="#1a12a0"/>
<ellipse transform="translate(58.9,30.8) rotate(-24)" rx="5.6" ry="1.5" fill="#2418f0"/>
<ellipse transform="translate(140.8,74.8) rotate(-8)" rx="5.7" ry="1.0" fill="#1410b8"/>
<ellipse transform="translate(119.6,67.9) rotate(-15)" rx="4.6" ry="1.1" fill="#1c14e0"/>
<ellipse transform="translate(124.4,91.8) rotate(-21)" rx="4.7" ry="1.0" fill="#1c14e0"/>
<ellipse transform="translate(26.9,76.2) rotate(-13)" rx="4.9" ry="1.3" fill="#2418f0"/>
<ellipse transform="translate(91.3,99.9) rotate(-18)" rx="6.0" ry="1.5" fill="#1a12a0"/>
<ellipse transform="translate(98.9,60.5) rotate(-19)" rx="2.6" ry="1.1" fill="#2418f0"/>
<ellipse transform="translate(128.3,93.8) rotate(-10)" rx="3.4" ry="1.4" fill="#2a22f4"/>
<ellipse transform="translate(69.4,83.4) rotate(-19)" rx="5.6" ry="0.9" fill="#1410b8"/>
<ellipse transform="translate(138.4,75.0) rotate(-25)" rx="4.3" ry="1.1" fill="#2418f0"/>
<ellipse transform="translate(124.1,12.2) rotate(-25)" rx="4.8" ry="1.5" fill="#1a12a0"/>
<ellipse transform="translate(22.4,84.7) rotate(-27)" rx="5.0" ry="1.4" fill="#1c14e0"/>
<ellipse transform="translate(121.8,67.8) rotate(-25)" rx="5.5" ry="1.3" fill="#2a22f4"/>
<ellipse transform="translate(52.5,41.6) rotate(-26)" rx="5.2" ry="1.6" fill="#1a12a0"/>
<ellipse transform="translate(52.9,89.2) rotate(-19)" rx="3.1" ry="1.5" fill="#1c14e0"/>
<ellipse transform="translate(95.9,27.1) rotate(-27)" rx="4.3" ry="1.0" fill="#1410b8"/>
<ellipse transform="translate(2.8,139.3) rotate(-18)" rx="5.3" ry="1.1" fill="#2a22f4"/>
<ellipse transform="translate(37.2,116.6) rotate(-7)" rx="5.7" ry="0.9" fill="#1a12a0"/>
<ellipse transform="translate(81.8,18.7) rotate(-5)" rx="4.3" ry="1.0" fill="#2a22f4"/>
<ellipse transform="translate(55.6,93.6) rotate(-3)" rx="5.4" ry="1.4" fill="#1c14e0"/>
<ellipse transform="translate(57.6,91.9) rotate(-9)" rx="2.7" ry="1.5" fill="#1410b8"/>
<ellipse transform="translate(32.5,35.8) rotate(-23)" rx="4.5" ry="1.3" fill="#2a22f4"/>
<ellipse transform="translate(53.0,47.4) rotate(-24)" rx="5.8" ry="1.5" fill="#1410b8"/>
<ellipse transform="translate(120.8,38.9) rotate(-29)" rx="5.4" ry="1.4" fill="#1c14e0"/>
<ellipse transform="translate(141.5,7.3) rotate(-10)" rx="2.9" ry="1.2" fill="#1410b8"/>
<ellipse transform="translate(113.3,140.2) rotate(-22)" rx="3.7" ry="1.1" fill="#2418f0"/>
<ellipse transform="translate(23.1,107.5) rotate(-18)" rx="2.8" ry="1.2" fill="#1a12a0"/>
<ellipse transform="translate(139.2,72.6) rotate(-7)" rx="4.2" ry="1.5" fill="#2418f0"/>
<ellipse transform="translate(9.8,88.0) rotate(-2)" rx="5.8" ry="1.4" fill="#2418f0"/>
<ellipse transform="translate(58.2,30.4) rotate(-25)" rx="3.5" ry="1.0" fill="#2418f0"/>
<ellipse transform="translate(4.6,85.2) rotate(-13)" rx="4.6" ry="1.4" fill="#2a22f4"/>
<ellipse transform="translate(38.4,10.7) rotate(-0)" rx="4.5" ry="1.1" fill="#1c14e0"/>
<ellipse transform="translate(98.2,119.8) rotate(-19)" rx="3.4" ry="1.2" fill="#1410b8"/>
<ellipse transform="translate(6.1,141.7) rotate(-29)" rx="5.1" ry="1.1" fill="#2418f0"/>
<ellipse transform="translate(1.8,68.4) rotate(-2)" rx="5.8" ry="1.2" fill="#2a22f4"/>
<ellipse transform="translate(101.5,131.1) rotate(-11)" rx="4.5" ry="1.1" fill="#1c14e0"/>
<ellipse transform="translate(35.6,43.8) rotate(-1)" rx="3.1" ry="0.9" fill="#2418f0"/>
<ellipse transform="translate(80.8,119.0) rotate(-12)" rx="4.3" ry="1.0" fill="#2418f0"/>
<ellipse transform="translate(113.3,141.1) rotate(-7)" rx="3.4" ry="1.4" fill="#1a12a0"/>
<ellipse transform="translate(48.0,66.9) rotate(-15)" rx="5.2" ry="1.1" fill="#1410b8"/>
<ellipse transform="translate(32.9,95.0) rotate(-16)" rx="3.3" ry="1.0" fill="#2a22f4"/>
<ellipse transform="translate(136.6,21.2) rotate(-22)" rx="4.4" ry="1.2" fill="#1c14e0"/>
<ellipse transform="translate(18.2,35.4) rotate(-10)" rx="2.6" ry="1.4" fill="#2418f0"/>
<ellipse transform="translate(67.4,91.1) rotate(-19)" rx="5.4" ry="1.0" fill="#2a22f4"/>
<ellipse transform="translate(43.2,124.4) rotate(-17)" rx="3.0" ry="1.1" fill="#1410b8"/>
<ellipse transform="translate(41.0,53.8) rotate(-24)" rx="3.2" ry="1.5" fill="#1410b8"/>
<ellipse transform="translate(125.4,1.8) rotate(-22)" rx="5.2" ry="1.1" fill="#1a12a0"/>
<ellipse transform="translate(82.0,57.0) rotate(-25)" rx="4.8" ry="1.1" fill="#1c14e0"/>
<ellipse transform="translate(106.4,4.1) rotate(-15)" rx="2.6" ry="1.2" fill="#2a22f4"/>
<ellipse transform="translate(63.7,74.3) rotate(-17)" rx="5.4" ry="1.3" fill="#2418f0"/>
<ellipse transform="translate(18.8,125.6) rotate(-16)" rx="4.3" ry="0.9" fill="#1a12a0"/>
<ellipse transform="translate(141.1,59.8) rotate(-21)" rx="3.4" ry="1.6" fill="#1c14e0"/>
<ellipse transform="translate(35.5,42.0) rotate(-20)" rx="5.4" ry="1.0" fill="#2a22f4"/>
<ellipse transform="translate(104.1,47.7) rotate(-17)" rx="3.1" ry="1.4" fill="#2a22f4"/>
<ellipse transform="translate(29.7,93.0) rotate(-23)" rx="3.2" ry="1.3" fill="#1a12a0"/>
<ellipse transform="translate(69.2,86.8) rotate(-3)" rx="3.8" ry="1.0" fill="#2a22f4"/>
<ellipse transform="translate(109.9,123.6) rotate(-16)" rx="4.4" ry="1.6" fill="#1410b8"/>
<ellipse transform="translate(8.9,52.7) rotate(-14)" rx="4.5" ry="1.5" fill="#1410b8"/>
<ellipse transform="translate(52.0,96.7) rotate(-29)" rx="5.3" ry="1.3" fill="#1c14e0"/>
<ellipse transform="translate(54.2,62.8) rotate(-9)" rx="5.3" ry="1.5" fill="#1c14e0"/>
<ellipse transform="translate(1.6,32.0) rotate(-1)" rx="4.9" ry="1.2" fill="#2a22f4"/>
<ellipse transform="translate(20.4,27.0) rotate(-7)" rx="4.1" ry="1.3" fill="#2a22f4"/>
<ellipse transform="translate(56.9,2.2) rotate(-12)" rx="4.2" ry="1.2" fill="#2418f0"/>
<ellipse transform="translate(111.9,122.0) rotate(-11)" rx="6.0" ry="1.3" fill="#1410b8"/>
<ellipse transform="translate(16.0,26.0) rotate(-7)" rx="5.2" ry="1.5" fill="#1a12a0"/>
<ellipse transform="translate(11.1,23.1) rotate(-8)" rx="3.8" ry="1.2" fill="#1410b8"/>
<ellipse transform="translate(109.8,76.4) rotate(-29)" rx="4.0" ry="1.6" fill="#2418f0"/>
<ellipse transform="translate(141.2,16.0) rotate(-16)" rx="5.6" ry="1.3" fill="#1c14e0"/>
<ellipse transform="translate(39.7,102.8) rotate(-11)" rx="4.4" ry="1.2" fill="#1c14e0"/>
<ellipse transform="translate(85.3,2.4) rotate(-17)" rx="3.3" ry="1.1" fill="#1c14e0"/>
<ellipse transform="translate(122.7,51.1) rotate(-13)" rx="5.5" ry="1.0" fill="#2a22f4"/>
<ellipse transform="translate(-0.6,128.8) rotate(-21)" rx="4.9" ry="1.0" fill="#1c14e0"/>
<ellipse transform="translate(62.4,12.2) rotate(-8)" rx="3.7" ry="1.0" fill="#2418f0"/>
<ellipse transform="translate(64.5,91.2) rotate(-22)" rx="5.3" ry="1.3" fill="#1a12a0"/>
<ellipse transform="translate(80.0,18.2) rotate(-17)" rx="5.9" ry="1.2" fill="#1410b8"/>
<ellipse transform="translate(113.3,92.0) rotate(-24)" rx="5.6" ry="1.5" fill="#2418f0"/>
<ellipse transform="translate(85.0,67.6) rotate(-28)" rx="3.6" ry="1.2" fill="#1410b8"/>
<ellipse transform="translate(23.5,126.9) rotate(-29)" rx="3.0" ry="1.3" fill="#1410b8"/>
<ellipse transform="translate(113.7,36.6) rotate(-17)" rx="3.9" ry="1.2" fill="#2418f0"/>
<ellipse transform="translate(125.8,114.1) rotate(-1)" rx="6.0" ry="1.1" fill="#2a22f4"/>
<ellipse transform="translate(63.3,103.3) rotate(-5)" rx="2.9" ry="1.3" fill="#1410b8"/>
<ellipse transform="translate(88.4,36.6) rotate(-27)" rx="3.2" ry="1.4" fill="#2418f0"/>
<ellipse transform="translate(-2.5,143.6) rotate(-16)" rx="3.7" ry="0.9" fill="#1c14e0"/>
<ellipse transform="translate(78.1,45.7) rotate(-0)" rx="4.3" ry="1.3" fill="#2418f0"/>
<ellipse transform="translate(41.2,137.0) rotate(-8)" rx="5.3" ry="0.9" fill="#2a22f4"/>
<ellipse transform="translate(132.0,141.1) rotate(-5)" rx="3.0" ry="0.9" fill="#2418f0"/>
<ellipse transform="translate(72.9,125.3) rotate(-6)" rx="5.3" ry="1.0" fill="#1410b8"/>
<ellipse transform="translate(27.1,130.1) rotate(-1)" rx="5.4" ry="1.0" fill="#1410b8"/>
<ellipse transform="translate(115.0,24.1) rotate(-3)" rx="3.9" ry="1.3" fill="#1a12a0"/>
<ellipse transform="translate(15.0,33.1) rotate(-27)" rx="4.5" ry="1.0" fill="#2418f0"/>
<ellipse transform="translate(49.9,30.7) rotate(-12)" rx="4.3" ry="1.6" fill="#2a22f4"/>
<ellipse transform="translate(23.4,51.4) rotate(-30)" rx="4.5" ry="1.2" fill="#2418f0"/>
<ellipse transform="translate(-1.7,113.9) rotate(-21)" rx="3.1" ry="1.4" fill="#1a12a0"/>
<ellipse transform="translate(76.8,141.3) rotate(-3)" rx="3.0" ry="1.1" fill="#1410b8"/>
<ellipse transform="translate(43.8,54.5) rotate(-12)" rx="4.3" ry="1.2" fill="#2a22f4"/>
<ellipse transform="translate(65.8,11.9) rotate(-20)" rx="4.3" ry="1.0" fill="#1c14e0"/>
<ellipse transform="translate(131.4,63.8) rotate(-28)" rx="5.0" ry="1.2" fill="#2418f0"/>
<ellipse transform="translate(1.1,15.7) rotate(-9)" rx="5.9" ry="0.9" fill="#2a22f4"/>
<ellipse transform="translate(93.4,136.5) rotate(-18)" rx="5.7" ry="1.2" fill="#2a22f4"/>
<ellipse transform="translate(95.4,118.0) rotate(-27)" rx="3.0" ry="1.6" fill="#2418f0"/>
<ellipse transform="translate(75.5,84.0) rotate(-19)" rx="2.8" ry="1.1" fill="#2418f0"/>
<ellipse transform="translate(102.1,1.9) rotate(-19)" rx="2.8" ry="1.1" fill="#1c14e0"/>
<ellipse transform="translate(135.6,33.0) rotate(-6)" rx="4.3" ry="1.2" fill="#2418f0"/>
<ellipse transform="translate(19.9,7.2) rotate(-30)" rx="4.0" ry="1.6" fill="#2418f0"/>
<ellipse transform="translate(142.0,12.2) rotate(-17)" rx="5.9" ry="1.6" fill="#1c14e0"/>
<ellipse transform="translate(85.4,4.0) rotate(-25)" rx="4.1" ry="1.1" fill="#1c14e0"/>
<ellipse transform="translate(30.2,107.4) rotate(-5)" rx="5.7" ry="1.4" fill="#1410b8"/>
<ellipse transform="translate(94.0,74.6) rotate(-30)" rx="3.3" ry="1.5" fill="#2a22f4"/>
<ellipse transform="translate(38.5,129.4) rotate(-24)" rx="4.6" ry="1.2" fill="#1a12a0"/>
<ellipse transform="translate(138.4,83.9) rotate(-10)" rx="5.7" ry="1.5" fill="#1410b8"/>
<ellipse transform="translate(36.6,66.7) rotate(-15)" rx="4.7" ry="1.3" fill="#1c14e0"/>
<ellipse transform="translate(128.3,108.1) rotate(-27)" rx="3.2" ry="1.1" fill="#1410b8"/>
<ellipse transform="translate(42.2,56.6) rotate(-27)" rx="4.3" ry="1.3" fill="#1a12a0"/>
<ellipse transform="translate(132.7,110.6) rotate(-16)" rx="3.3" ry="1.1" fill="#1a12a0"/>
<ellipse transform="translate(115.9,83.6) rotate(-19)" rx="3.1" ry="1.0" fill="#2a22f4"/>
<ellipse transform="translate(24.4,140.8) rotate(-5)" rx="4.1" ry="1.3" fill="#2a22f4"/>
<ellipse transform="translate(23.0,5.6) rotate(-27)" rx="2.9" ry="1.3" fill="#2a22f4"/>
<ellipse transform="translate(118.8,47.7) rotate(-5)" rx="3.7" ry="1.0" fill="#1c14e0"/>
<ellipse transform="translate(118.9,4.9) rotate(-19)" rx="3.2" ry="1.3" fill="#1c14e0"/>
<ellipse transform="translate(34.1,36.5) rotate(-25)" rx="5.0" ry="1.1" fill="#2418f0"/>
<ellipse transform="translate(78.9,39.0) rotate(-8)" rx="3.1" ry="1.2" fill="#2a22f4"/>
<ellipse transform="translate(92.0,109.2) rotate(-13)" rx="4.1" ry="0.9" fill="#1c14e0"/>
<ellipse transform="translate(39.0,106.6) rotate(-9)" rx="4.2" ry="1.1" fill="#2418f0"/>
<ellipse transform="translate(26.6,54.4) rotate(-24)" rx="5.3" ry="1.3" fill="#1a12a0"/>
<ellipse transform="translate(115.8,52.8) rotate(-4)" rx="5.6" ry="1.1" fill="#1c14e0"/>
<ellipse transform="translate(71.0,-1.1) rotate(-14)" rx="5.9" ry="1.1" fill="#2418f0"/>
<ellipse transform="translate(59.6,109.8) rotate(-8)" rx="3.0" ry="1.2" fill="#2a22f4"/>
<ellipse transform="translate(109.5,108.0) rotate(-16)" rx="5.7" ry="1.3" fill="#1c14e0"/>
<ellipse transform="translate(18.4,89.0) rotate(-10)" rx="4.1" ry="1.3" fill="#1c14e0"/>
<ellipse transform="translate(139.2,118.1) rotate(-12)" rx="3.3" ry="1.0" fill="#2418f0"/>
<ellipse transform="translate(105.9,91.6) rotate(-7)" rx="5.5" ry="1.4" fill="#2a22f4"/>
<ellipse transform="translate(138.4,135.7) rotate(-1)" rx="2.8" ry="1.0" fill="#2418f0"/>
<ellipse transform="translate(140.5,138.1) rotate(-3)" rx="3.6" ry="1.3" fill="#1a12a0"/>
<ellipse transform="translate(116.9,4.6) rotate(-9)" rx="4.6" ry="0.9" fill="#1c14e0"/>
<ellipse transform="translate(52.1,86.1) rotate(-2)" rx="4.9" ry="1.0" fill="#2a22f4"/>
<ellipse transform="translate(124.7,106.8) rotate(-13)" rx="3.4" ry="1.0" fill="#2418f0"/>
<ellipse transform="translate(132.6,119.3) rotate(-20)" rx="2.9" ry="1.0" fill="#2418f0"/>
<ellipse transform="translate(62.4,22.9) rotate(-17)" rx="4.9" ry="1.5" fill="#2a22f4"/>
<ellipse transform="translate(52.0,79.9) rotate(-12)" rx="4.7" ry="1.0" fill="#1c14e0"/>
<ellipse transform="translate(49.7,67.1) rotate(-5)" rx="5.2" ry="1.5" fill="#2a22f4"/>
<ellipse transform="translate(84.8,47.3) rotate(-12)" rx="3.3" ry="1.4" fill="#1c14e0"/>
<ellipse transform="translate(43.4,6.7) rotate(-0)" rx="4.1" ry="1.2" fill="#2418f0"/>
<ellipse transform="translate(31.0,106.5) rotate(-11)" rx="5.1" ry="1.3" fill="#1c14e0"/>
<ellipse transform="translate(1.0,26.9) rotate(-11)" rx="5.2" ry="1.0" fill="#2a22f4"/>
<ellipse transform="translate(120.9,33.8) rotate(-2)" rx="3.7" ry="0.9" fill="#2418f0"/>
<ellipse transform="translate(78.6,12.0) rotate(-22)" rx="3.7" ry="1.6" fill="#1a12a0"/>
<ellipse transform="translate(87.0,39.7) rotate(-26)" rx="5.5" ry="1.4" fill="#2a22f4"/>
<ellipse transform="translate(13.2,114.3) rotate(-14)" rx="4.5" ry="1.6" fill="#1410b8"/>
<ellipse transform="translate(22.8,109.1) rotate(-3)" rx="3.9" ry="1.0" fill="#1c14e0"/>
<ellipse transform="translate(75.9,27.2) rotate(-25)" rx="5.5" ry="1.4" fill="#2a22f4"/>
<ellipse transform="translate(138.6,143.6) rotate(-14)" rx="3.4" ry="1.5" fill="#1410b8"/>
<ellipse transform="translate(26.0,99.2) rotate(-2)" rx="5.5" ry="1.3" fill="#1a12a0"/>
<ellipse transform="translate(93.9,32.1) rotate(-12)" rx="5.1" ry="1.4" fill="#1410b8"/>
<ellipse transform="translate(135.7,115.3) rotate(-25)" rx="4.2" ry="0.9" fill="#1c14e0"/>
<ellipse transform="translate(9.5,103.8) rotate(-7)" rx="4.9" ry="1.5" fill="#1a12a0"/>
<ellipse transform="translate(76.8,61.0) rotate(-9)" rx="3.7" ry="1.1" fill="#1a12a0"/>
<ellipse transform="translate(77.8,16.6) rotate(-8)" rx="6.0" ry="1.4" fill="#1a12a0"/>
<ellipse transform="translate(62.9,100.7) rotate(-6)" rx="5.0" ry="1.5" fill="#1a12a0"/>
<ellipse transform="translate(46.3,13.3) rotate(-24)" rx="2.5" ry="1.1" fill="#1410b8"/>
<ellipse transform="translate(70.3,39.5) rotate(-0)" rx="3.1" ry="1.4" fill="#1a12a0"/>
<ellipse transform="translate(17.7,99.4) rotate(-11)" rx="5.3" ry="1.3" fill="#1a12a0"/>
<ellipse transform="translate(67.5,101.1) rotate(-13)" rx="3.1" ry="1.5" fill="#2418f0"/>
<ellipse transform="translate(42.9,11.4) rotate(-10)" rx="6.0" ry="1.1" fill="#1c14e0"/>
<ellipse transform="translate(143.5,138.6) rotate(-19)" rx="3.6" ry="1.2" fill="#2418f0"/>
<ellipse transform="translate(37.0,102.5) rotate(-25)" rx="5.2" ry="1.0" fill="#1a12a0"/>
<ellipse transform="translate(142.7,26.9) rotate(-9)" rx="3.1" ry="0.9" fill="#1410b8"/>
<ellipse transform="translate(88.1,126.0) rotate(-16)" rx="2.8" ry="1.4" fill="#1a12a0"/>
<ellipse transform="translate(134.2,74.7) rotate(-23)" rx="3.3" ry="1.4" fill="#1c14e0"/>
<ellipse transform="translate(71.6,23.6) rotate(-4)" rx="3.6" ry="1.2" fill="#2418f0"/>
<ellipse transform="translate(22.3,85.5) rotate(-8)" rx="4.2" ry="1.3" fill="#1a12a0"/>
<ellipse transform="translate(59.5,23.6) rotate(-27)" rx="3.8" ry="1.0" fill="#1a12a0"/>
<ellipse transform="translate(33.8,22.8) rotate(-29)" rx="5.0" ry="1.2" fill="#2a22f4"/>
<ellipse transform="translate(94.4,141.9) rotate(-26)" rx="4.9" ry="1.1" fill="#2a22f4"/>
<ellipse transform="translate(84.9,30.2) rotate(-23)" rx="4.7" ry="1.1" fill="#1410b8"/>
<ellipse transform="translate(19.0,66.5) rotate(-18)" rx="3.9" ry="1.5" fill="#1c14e0"/>
<ellipse transform="translate(56.3,109.8) rotate(-11)" rx="5.2" ry="1.5" fill="#1c14e0"/>
<ellipse transform="translate(106.7,37.6) rotate(-21)" rx="4.6" ry="1.0" fill="#1410b8"/>
<ellipse transform="translate(49.0,109.4) rotate(-3)" rx="3.6" ry="1.4" fill="#1c14e0"/>
<ellipse transform="translate(128.3,37.4) rotate(-24)" rx="2.7" ry="1.1" fill="#1a12a0"/>
<ellipse transform="translate(117.6,123.7) rotate(-5)" rx="6.0" ry="0.9" fill="#1a12a0"/>
<ellipse transform="translate(32.6,54.6) rotate(-5)" rx="5.1" ry="1.1" fill="#2418f0"/>
<ellipse transform="translate(138.2,43.7) rotate(-3)" rx="3.3" ry="1.0" fill="#1410b8"/>
<ellipse transform="translate(14.8,74.8) rotate(-8)" rx="3.8" ry="1.1" fill="#2418f0"/>
<ellipse transform="translate(75.1,38.5) rotate(-28)" rx="4.9" ry="1.2" fill="#2a22f4"/>
<ellipse transform="translate(104.4,129.1) rotate(-16)" rx="3.7" ry="1.4" fill="#2a22f4"/>
<ellipse transform="translate(132.9,10.4) rotate(-9)" rx="3.9" ry="1.1" fill="#2a22f4"/>
<ellipse transform="translate(116.1,60.3) rotate(-29)" rx="3.0" ry="1.6" fill="#1a12a0"/>
<ellipse transform="translate(12.8,130.7) rotate(-18)" rx="3.3" ry="1.0" fill="#1c14e0"/>
<ellipse transform="translate(14.0,91.8) rotate(-5)" rx="5.9" ry="1.4" fill="#2418f0"/>
<ellipse transform="translate(9.6,53.3) rotate(-12)" rx="5.7" ry="1.1" fill="#1c14e0"/>
<ellipse transform="translate(35.9,79.7) rotate(-17)" rx="4.6" ry="1.6" fill="#1c14e0"/>
<ellipse transform="translate(83.2,76.0) rotate(-29)" rx="3.4" ry="1.5" fill="#2a22f4"/>
<ellipse transform="translate(25.5,3.2) rotate(-7)" rx="5.0" ry="1.2" fill="#1a12a0"/>
<ellipse transform="translate(82.5,137.7) rotate(-5)" rx="4.8" ry="1.0" fill="#1c14e0"/>
<ellipse transform="translate(9.1,89.8) rotate(-2)" rx="5.8" ry="1.4" fill="#1a12a0"/>
<ellipse transform="translate(15.6,24.1) rotate(-15)" rx="4.1" ry="1.0" fill="#1410b8"/>
<ellipse transform="translate(128.6,30.5) rotate(-0)" rx="2.6" ry="1.1" fill="#1c14e0"/>
<ellipse transform="translate(69.0,77.2) rotate(-21)" rx="2.6" ry="1.3" fill="#2a22f4"/>
<ellipse transform="translate(31.8,51.3) rotate(-6)" rx="5.5" ry="1.0" fill="#1a12a0"/>
<ellipse transform="translate(84.3,59.8) rotate(-14)" rx="3.0" ry="1.3" fill="#2a22f4"/>
<ellipse transform="translate(108.3,-1.2) rotate(-26)" rx="4.6" ry="1.3" fill="#1410b8"/>
<ellipse transform="translate(79.8,24.7) rotate(-7)" rx="4.2" ry="1.2" fill="#2418f0"/>
<ellipse transform="translate(7.6,126.2) rotate(-28)" rx="5.8" ry="1.0" fill="#2a22f4"/>
<ellipse transform="translate(93.5,29.9) rotate(-21)" rx="5.3" ry="1.3" fill="#1a12a0"/>
<ellipse transform="translate(27.6,95.1) rotate(-9)" rx="4.7" ry="1.0" fill="#1c14e0"/>
<ellipse transform="translate(135.2,108.4) rotate(-14)" rx="5.1" ry="1.3" fill="#1a12a0"/>
<ellipse transform="translate(89.6,16.2) rotate(-11)" rx="5.5" ry="1.0" fill="#1a12a0"/>
<ellipse transform="translate(50.1,116.7) rotate(-20)" rx="5.5" ry="1.1" fill="#2418f0"/>
<ellipse transform="translate(11.9,31.1) rotate(-7)" rx="5.3" ry="1.0" fill="#1c14e0"/>
<ellipse transform="translate(109.6,50.9) rotate(-9)" rx="2.8" ry="1.1" fill="#2a22f4"/>
<ellipse transform="translate(58.0,89.9) rotate(-29)" rx="5.4" ry="1.0" fill="#2a22f4"/>
<ellipse transform="translate(30.4,29.3) rotate(-22)" rx="4.2" ry="1.0" fill="#2418f0"/>
<ellipse transform="translate(26.3,33.2) rotate(-4)" rx="5.7" ry="1.2" fill="#1a12a0"/>
<ellipse transform="translate(76.9,78.7) rotate(-23)" rx="2.6" ry="1.1" fill="#1a12a0"/>
<ellipse transform="translate(44.0,119.6) rotate(-29)" rx="2.8" ry="1.5" fill="#1a12a0"/>
<ellipse transform="translate(142.1,68.0) rotate(-7)" rx="4.8" ry="1.2" fill="#1a12a0"/>
<ellipse transform="translate(120.1,-0.9) rotate(-18)" rx="2.7" ry="1.2" fill="#1c14e0"/>
<ellipse transform="translate(143.3,46.7) rotate(-21)" rx="3.8" ry="1.3" fill="#2a22f4"/>
<ellipse transform="translate(1.9,127.6) rotate(-3)" rx="3.8" ry="1.1" fill="#1c14e0"/>
<ellipse transform="translate(36.3,111.7) rotate(-15)" rx="4.9" ry="1.3" fill="#1410b8"/>
<ellipse transform="translate(80.0,135.2) rotate(-26)" rx="2.9" ry="1.2" fill="#2a22f4"/>
<ellipse transform="translate(135.3,75.1) rotate(-1)" rx="5.4" ry="1.5" fill="#2418f0"/>
<ellipse transform="translate(88.7,-0.0) rotate(-10)" rx="3.3" ry="1.3" fill="#1a12a0"/>
<ellipse transform="translate(30.8,139.1) rotate(-1)" rx="3.7" ry="1.3" fill="#2a22f4"/>
<ellipse transform="translate(81.0,115.5) rotate(-15)" rx="3.5" ry="1.1" fill="#1a12a0"/>
<ellipse transform="translate(115.2,15.2) rotate(-12)" rx="5.9" ry="1.4" fill="#1c14e0"/>
<ellipse transform="translate(100.1,51.7) rotate(-14)" rx="2.8" ry="1.5" fill="#1a12a0"/>
<ellipse transform="translate(78.8,5.5) rotate(-15)" rx="5.7" ry="1.4" fill="#2418f0"/>
<ellipse transform="translate(98.1,131.1) rotate(-29)" rx="2.6" ry="1.5" fill="#1410b8"/>
<ellipse transform="translate(75.3,27.1) rotate(-2)" rx="2.9" ry="1.4" fill="#2418f0"/>
<ellipse transform="translate(94.9,0.9) rotate(-29)" rx="3.8" ry="1.2" fill="#1410b8"/>
<ellipse transform="translate(101.7,19.6) rotate(-27)" rx="5.0" ry="1.3" fill="#1410b8"/>
<ellipse transform="translate(109.2,122.1) rotate(-29)" rx="3.5" ry="1.5" fill="#1c14e0"/>
<ellipse transform="translate(17.7,89.3) rotate(-7)" rx="4.5" ry="1.5" fill="#2418f0"/>
<ellipse transform="translate(17.1,103.5) rotate(-1)" rx="5.6" ry="1.4" fill="#1c14e0"/>
<ellipse transform="translate(16.4,33.5) rotate(-28)" rx="3.0" ry="1.6" fill="#1410b8"/>
<ellipse transform="translate(116.6,99.2) rotate(-11)" rx="3.5" ry="1.6" fill="#1c14e0"/>
<ellipse transform="translate(48.4,33.7) rotate(-6)" rx="5.7" ry="1.4" fill="#1c14e0"/>
<ellipse transform="translate(141.8,41.8) rotate(-10)" rx="2.5" ry="1.4" fill="#2a22f4"/>
<ellipse transform="translate(29.3,134.8) rotate(-16)" rx="5.4" ry="1.0" fill="#2a22f4"/>
<ellipse transform="translate(24.0,40.3) rotate(-14)" rx="5.0" ry="1.2" fill="#1c14e0"/>
<ellipse transform="translate(51.9,61.7) rotate(-8)" rx="5.7" ry="1.5" fill="#1c14e0"/>
<ellipse transform="translate(91.1,55.8) rotate(-5)" rx="4.6" ry="1.6" fill="#2a22f4"/>
<ellipse transform="translate(93.3,75.9) rotate(-20)" rx="3.7" ry="1.2" fill="#1410b8"/>
<ellipse transform="translate(131.3,76.7) rotate(-7)" rx="4.3" ry="1.3" fill="#1410b8"/>
<ellipse transform="translate(26.2,123.5) rotate(-15)" rx="5.4" ry="1.0" fill="#1410b8"/>
<ellipse transform="translate(56.7,16.4) rotate(-18)" rx="5.2" ry="1.4" fill="#2418f0"/>
<ellipse transform="translate(118.8,53.2) rotate(-21)" rx="5.9" ry="1.3" fill="#1c14e0"/>
<ellipse transform="translate(119.9,71.8) rotate(-10)" rx="3.7" ry="1.5" fill="#1c14e0"/>
<ellipse transform="translate(111.2,128.9) rotate(-13)" rx="5.0" ry="1.5" fill="#2418f0"/>
<ellipse transform="translate(86.0,6.7) rotate(-7)" rx="4.9" ry="1.4" fill="#1a12a0"/>
<ellipse transform="translate(75.4,86.3) rotate(-9)" rx="4.4" ry="1.4" fill="#1c14e0"/>
<ellipse transform="translate(97.2,28.5) rotate(-11)" rx="2.6" ry="1.4" fill="#1c14e0"/>
<ellipse transform="translate(50.9,85.4) rotate(-10)" rx="2.6" ry="1.4" fill="#2a22f4"/>
<ellipse transform="translate(66.8,132.5) rotate(-27)" rx="4.0" ry="0.9" fill="#1410b8"/>
<ellipse transform="translate(39.8,31.6) rotate(-13)" rx="2.8" ry="1.4" fill="#1410b8"/>
<ellipse transform="translate(20.1,91.6) rotate(-14)" rx="4.7" ry="1.1" fill="#1c14e0"/>
<ellipse transform="translate(119.0,78.8) rotate(-18)" rx="3.7" ry="1.4" fill="#2a22f4"/>
<ellipse transform="translate(98.8,80.8) rotate(-13)" rx="5.9" ry="1.0" fill="#1410b8"/>
<ellipse transform="translate(97.7,137.9) rotate(-16)" rx="3.5" ry="1.0" fill="#1410b8"/>
<ellipse transform="translate(123.0,-0.4) rotate(-10)" rx="3.2" ry="1.5" fill="#2418f0"/>
<ellipse transform="translate(68.2,57.1) rotate(-16)" rx="3.3" ry="1.3" fill="#1c14e0"/>
<ellipse transform="translate(9.4,113.0) rotate(-29)" rx="4.0" ry="1.3" fill="#1c14e0"/>
<ellipse transform="translate(129.3,84.5) rotate(-19)" rx="6.0" ry="1.6" fill="#2a22f4"/>
<ellipse transform="translate(125.8,134.3) rotate(-12)" rx="2.8" ry="1.5" fill="#2a22f4"/>
<ellipse transform="translate(86.1,54.2) rotate(-1)" rx="5.8" ry="1.2" fill="#2a22f4"/>
<ellipse transform="translate(54.4,72.5) rotate(-0)" rx="5.5" ry="1.5" fill="#2a22f4"/>
<ellipse transform="translate(118.6,19.7) rotate(-18)" rx="4.0" ry="0.9" fill="#2a22f4"/>
<ellipse transform="translate(34.8,89.7) rotate(-21)" rx="3.5" ry="1.4" fill="#1c14e0"/>
<ellipse transform="translate(74.7,80.6) rotate(-34)" rx="3.2" ry="1.4" fill="#50dcd4"/>
<ellipse transform="translate(75.9,100.7) rotate(-3)" rx="2.6" ry="1.2" fill="#50dcd4"/>
<ellipse transform="translate(26.7,84.1) rotate(4)" rx="3.3" ry="1.3" fill="#62f4e8"/>
<ellipse transform="translate(31.2,78.2) rotate(0)" rx="3.3" ry="1.7" fill="#62f4e8"/>
<ellipse transform="translate(118.2,9.7) rotate(-19)" rx="2.7" ry="1.9" fill="#62f4e8"/>
<ellipse transform="translate(39.2,46.7) rotate(-2)" rx="2.4" ry="1.9" fill="#62f4e8"/>
<ellipse transform="translate(20.4,138.1) rotate(-4)" rx="3.1" ry="1.2" fill="#50dcd4"/>
<ellipse transform="translate(44.0,15.9) rotate(-6)" rx="2.9" ry="1.4" fill="#50dcd4"/>
<ellipse transform="translate(111.8,0.5) rotate(-13)" rx="3.3" ry="1.9" fill="#5aeee2"/>
<ellipse transform="translate(24.1,38.1) rotate(-17)" rx="2.9" ry="1.9" fill="#72f8ee"/>
<ellipse transform="translate(30.4,24.2) rotate(5)" rx="3.7" ry="1.8" fill="#72f8ee"/>
<ellipse transform="translate(2.1,10.7) rotate(4)" rx="3.7" ry="1.5" fill="#5aeee2"/>
<ellipse transform="translate(89.3,22.8) rotate(-8)" rx="2.3" ry="1.6" fill="#50dcd4"/>
<ellipse transform="translate(50.5,134.4) rotate(-19)" rx="2.8" ry="1.5" fill="#50dcd4"/>
<ellipse transform="translate(124.6,84.0) rotate(-16)" rx="2.2" ry="1.7" fill="#62f4e8"/>
<ellipse transform="translate(46.0,6.2) rotate(-4)" rx="3.2" ry="1.8" fill="#72f8ee"/>
<ellipse transform="translate(56.6,105.1) rotate(-32)" rx="2.7" ry="1.8" fill="#62f4e8"/>
<ellipse transform="translate(6.9,83.5) rotate(-9)" rx="3.5" ry="1.2" fill="#72f8ee"/>
<ellipse transform="translate(48.6,111.7) rotate(-18)" rx="2.6" ry="1.4" fill="#72f8ee"/>
<ellipse transform="translate(34.3,1.2) rotate(-6)" rx="2.1" ry="1.4" fill="#72f8ee"/>
<ellipse transform="translate(8.7,82.7) rotate(-11)" rx="3.0" ry="1.6" fill="#62f4e8"/>
<ellipse transform="translate(75.5,70.4) rotate(-25)" rx="3.5" ry="1.6" fill="#5aeee2"/>
<ellipse transform="translate(118.8,30.2) rotate(-27)" rx="3.7" ry="1.2" fill="#50dcd4"/>
<ellipse transform="translate(134.3,25.7) rotate(3)" rx="2.4" ry="1.2" fill="#5aeee2"/>
<ellipse transform="translate(84.8,127.7) rotate(3)" rx="2.2" ry="1.8" fill="#50dcd4"/>
<ellipse transform="translate(126.7,44.3) rotate(-29)" rx="2.9" ry="1.9" fill="#50dcd4"/>
<ellipse transform="translate(49.4,95.0) rotate(-22)" rx="3.2" ry="1.5" fill="#72f8ee"/>
<ellipse transform="translate(109.6,13.9) rotate(3)" rx="2.9" ry="1.5" fill="#72f8ee"/>
<ellipse transform="translate(16.2,128.9) rotate(-2)" rx="3.8" ry="1.8" fill="#62f4e8"/>
<ellipse transform="translate(40.4,91.9) rotate(-26)" rx="3.4" ry="1.7" fill="#50dcd4"/>
<ellipse transform="translate(57.7,133.0) rotate(-16)" rx="2.4" ry="1.8" fill="#72f8ee"/>
<ellipse transform="translate(47.0,105.0) rotate(-6)" rx="3.8" ry="1.3" fill="#50dcd4"/>
<ellipse transform="translate(12.5,109.7) rotate(1)" rx="3.3" ry="1.6" fill="#72f8ee"/>
<ellipse transform="translate(133.4,123.3) rotate(2)" rx="3.0" ry="1.8" fill="#62f4e8"/>
<ellipse transform="translate(137.7,60.1) rotate(-26)" rx="2.3" ry="1.3" fill="#5aeee2"/>
<ellipse transform="translate(97.4,0.6) rotate(-20)" rx="3.6" ry="1.7" fill="#62f4e8"/>
<ellipse transform="translate(24.4,2.1) rotate(-31)" rx="3.5" ry="1.5" fill="#5aeee2"/>
<ellipse transform="translate(66.1,115.6) rotate(-23)" rx="2.2" ry="1.3" fill="#62f4e8"/>
<ellipse transform="translate(68.2,115.0) rotate(2)" rx="2.6" ry="1.6" fill="#50dcd4"/>
<ellipse transform="translate(40.7,37.2) rotate(-10)" rx="3.6" ry="1.9" fill="#50dcd4"/>
<ellipse transform="translate(2.3,94.6) rotate(2)" rx="3.9" ry="1.9" fill="#5aeee2"/>
<ellipse transform="translate(19.2,15.8) rotate(5)" rx="3.0" ry="1.5" fill="#5aeee2"/>
<ellipse transform="translate(26.8,3.1) rotate(-0)" rx="2.2" ry="1.5" fill="#5aeee2"/>
<ellipse transform="translate(2.9,68.4) rotate(-7)" rx="2.9" ry="1.3" fill="#5aeee2"/>
<ellipse transform="translate(11.0,70.1) rotate(-5)" rx="2.3" ry="1.6" fill="#50dcd4"/>
<ellipse transform="translate(2.4,122.3) rotate(-3)" rx="3.3" ry="1.4" fill="#62f4e8"/>
<ellipse transform="translate(104.5,0.2) rotate(-26)" rx="3.5" ry="1.9" fill="#50dcd4"/>
<ellipse transform="translate(46.6,53.6) rotate(-10)" rx="3.7" ry="1.7" fill="#62f4e8"/>
<ellipse transform="translate(95.3,3.0) rotate(-16)" rx="2.7" ry="2.0" fill="#62f4e8"/>
<ellipse transform="translate(97.9,120.8) rotate(-13)" rx="3.6" ry="1.2" fill="#50dcd4"/>
<ellipse transform="translate(46.1,121.2) rotate(-6)" rx="2.0" ry="1.2" fill="#50dcd4"/>
<ellipse transform="translate(89.8,90.7) rotate(-32)" rx="3.5" ry="1.6" fill="#72f8ee"/>
<ellipse transform="translate(119.5,96.1) rotate(-2)" rx="3.2" ry="1.6" fill="#72f8ee"/>
<ellipse transform="translate(84.6,7.7) rotate(-33)" rx="2.5" ry="1.8" fill="#62f4e8"/>
<ellipse transform="translate(137.8,109.9) rotate(-21)" rx="3.7" ry="1.5" fill="#72f8ee"/>
<ellipse transform="translate(36.3,-0.7) rotate(-1)" rx="3.2" ry="1.3" fill="#50dcd4"/>
<ellipse transform="translate(84.5,119.6) rotate(-17)" rx="3.9" ry="1.7" fill="#72f8ee"/>
<ellipse transform="translate(63.2,103.1) rotate(-24)" rx="3.9" ry="1.9" fill="#50dcd4"/>
<ellipse transform="translate(132.4,32.0) rotate(-8)" rx="2.3" ry="1.8" fill="#5aeee2"/>
<ellipse transform="translate(26.6,41.7) rotate(-11)" rx="3.3" ry="1.2" fill="#5aeee2"/>
<ellipse transform="translate(30.1,91.7) rotate(-5)" rx="2.1" ry="1.7" fill="#72f8ee"/>
<ellipse transform="translate(126.9,108.7) rotate(-20)" rx="3.8" ry="1.8" fill="#5aeee2"/>
<ellipse transform="translate(118.4,114.1) rotate(-5)" rx="4.0" ry="1.5" fill="#5aeee2"/>
<ellipse transform="translate(76.5,101.1) rotate(-28)" rx="3.4" ry="1.7" fill="#5aeee2"/>
<ellipse transform="translate(29.3,-0.2) rotate(-24)" rx="2.4" ry="1.5" fill="#72f8ee"/>
<ellipse transform="translate(37.2,60.9) rotate(-5)" rx="3.8" ry="1.9" fill="#50dcd4"/>
<ellipse transform="translate(101.3,13.2) rotate(-1)" rx="2.7" ry="1.4" fill="#62f4e8"/>
<ellipse transform="translate(64.1,43.0) rotate(-9)" rx="3.3" ry="1.5" fill="#50dcd4"/>
<ellipse transform="translate(60.4,58.8) rotate(-22)" rx="2.3" ry="1.7" fill="#72f8ee"/>
<ellipse transform="translate(61.3,138.3) rotate(-0)" rx="3.6" ry="1.9" fill="#50dcd4"/>
<ellipse transform="translate(7.3,114.8) rotate(-27)" rx="3.8" ry="2.0" fill="#50dcd4"/>
<ellipse transform="translate(35.4,0.3) rotate(-0)" rx="2.3" ry="1.6" fill="#50dcd4"/>
<ellipse transform="translate(99.7,34.5) rotate(-22)" rx="2.6" ry="1.2" fill="#5aeee2"/>
<ellipse transform="translate(107.7,0.9) rotate(-3)" rx="3.0" ry="1.8" fill="#72f8ee"/>
<ellipse transform="translate(107.4,115.6) rotate(-13)" rx="3.3" ry="1.8" fill="#5aeee2"/>
<ellipse transform="translate(24.5,98.7) rotate(-29)" rx="2.1" ry="1.9" fill="#50dcd4"/>
<ellipse transform="translate(83.5,126.3) rotate(-9)" rx="2.4" ry="2.0" fill="#62f4e8"/>
<ellipse transform="translate(7.5,127.2) rotate(-5)" rx="2.4" ry="1.5" fill="#5aeee2"/>
<ellipse transform="translate(40.8,122.0) rotate(-30)" rx="3.4" ry="1.4" fill="#62f4e8"/>
<ellipse transform="translate(13.6,105.5) rotate(3)" rx="3.5" ry="1.6" fill="#72f8ee"/>
<ellipse transform="translate(118.6,6.1) rotate(-14)" rx="2.3" ry="1.2" fill="#62f4e8"/>
<ellipse transform="translate(121.6,51.1) rotate(-14)" rx="3.6" ry="1.5" fill="#72f8ee"/>
<ellipse transform="translate(68.6,131.8) rotate(-10)" rx="3.5" ry="1.3" fill="#62f4e8"/>
<ellipse transform="translate(137.8,68.8) rotate(-6)" rx="2.5" ry="1.5" fill="#50dcd4"/>
<ellipse transform="translate(19.0,77.0) rotate(-26)" rx="2.5" ry="1.3" fill="#72f8ee"/>
<ellipse transform="translate(13.5,69.5) rotate(-33)" rx="3.1" ry="1.9" fill="#5aeee2"/>
<ellipse transform="translate(10.7,29.7) rotate(-23)" rx="2.2" ry="1.7" fill="#62f4e8"/>
<ellipse transform="translate(142.3,35.2) rotate(-14)" rx="3.4" ry="2.0" fill="#62f4e8"/>
<ellipse transform="translate(15.9,40.2) rotate(-30)" rx="2.8" ry="1.3" fill="#72f8ee"/>
<ellipse transform="translate(125.2,34.1) rotate(1)" rx="3.4" ry="1.5" fill="#72f8ee"/>
<ellipse transform="translate(25.3,7.1) rotate(-4)" rx="4.0" ry="1.5" fill="#50dcd4"/>
<ellipse transform="translate(12.4,29.1) rotate(-24)" rx="3.5" ry="1.9" fill="#50dcd4"/>
<ellipse transform="translate(78.1,35.1) rotate(3)" rx="3.0" ry="1.2" fill="#5aeee2"/>
<ellipse transform="translate(48.7,129.5) rotate(-13)" rx="3.1" ry="1.9" fill="#62f4e8"/>
<ellipse transform="translate(102.2,125.6) rotate(-16)" rx="3.9" ry="1.6" fill="#50dcd4"/>
<ellipse transform="translate(92.7,-0.9) rotate(-27)" rx="2.7" ry="1.5" fill="#5aeee2"/>
<ellipse transform="translate(90.6,63.4) rotate(-5)" rx="3.6" ry="1.5" fill="#72f8ee"/>
<ellipse transform="translate(9.9,61.0) rotate(2)" rx="3.7" ry="1.9" fill="#62f4e8"/>
<ellipse transform="translate(60.7,87.9) rotate(-2)" rx="2.0" ry="1.7" fill="#72f8ee"/>
<ellipse transform="translate(74.0,98.7) rotate(-31)" rx="3.6" ry="1.5" fill="#72f8ee"/>
<ellipse transform="translate(134.5,1.8) rotate(-33)" rx="3.2" ry="1.9" fill="#62f4e8"/>
<ellipse transform="translate(91.7,118.0) rotate(-3)" rx="3.1" ry="1.7" fill="#5aeee2"/>
<ellipse transform="translate(28.6,109.6) rotate(-3)" rx="3.0" ry="1.8" fill="#72f8ee"/>
<ellipse transform="translate(67.0,104.1) rotate(-10)" rx="2.6" ry="1.3" fill="#72f8ee"/>
<ellipse transform="translate(3.6,72.9) rotate(-25)" rx="3.9" ry="1.2" fill="#5aeee2"/>
<ellipse transform="translate(39.5,50.4) rotate(-32)" rx="3.5" ry="1.7" fill="#72f8ee"/>
<ellipse transform="translate(57.0,31.9) rotate(3)" rx="3.1" ry="1.3" fill="#5aeee2"/>
<ellipse transform="translate(63.9,27.9) rotate(-21)" rx="3.0" ry="1.7" fill="#5aeee2"/>
<ellipse transform="translate(82.3,140.8) rotate(2)" rx="3.7" ry="1.3" fill="#62f4e8"/>
<ellipse transform="translate(123.3,89.9) rotate(-27)" rx="3.6" ry="1.5" fill="#5aeee2"/>
<ellipse transform="translate(24.9,7.4) rotate(-31)" rx="4.0" ry="1.9" fill="#50dcd4"/>
<ellipse transform="translate(0.9,95.0) rotate(-22)" rx="2.2" ry="1.2" fill="#50dcd4"/>
<ellipse transform="translate(129.2,55.1) rotate(-16)" rx="2.1" ry="1.7" fill="#62f4e8"/>
<ellipse transform="translate(30.1,5.3) rotate(-27)" rx="3.9" ry="1.7" fill="#62f4e8"/>
<ellipse transform="translate(102.6,110.7) rotate(2)" rx="2.5" ry="1.9" fill="#62f4e8"/>
<ellipse transform="translate(112.6,88.1) rotate(-7)" rx="3.5" ry="1.8" fill="#50dcd4"/>
<ellipse transform="translate(59.1,47.7) rotate(-24)" rx="3.7" ry="1.4" fill="#72f8ee"/>
<ellipse transform="translate(114.3,72.6) rotate(-21)" rx="2.7" ry="1.4" fill="#72f8ee"/>
<ellipse transform="translate(142.7,3.9) rotate(-27)" rx="3.6" ry="1.7" fill="#72f8ee"/>
<ellipse transform="translate(80.7,47.4) rotate(-0)" rx="2.1" ry="1.4" fill="#50dcd4"/>
<ellipse transform="translate(66.0,56.4) rotate(-5)" rx="3.1" ry="1.5" fill="#72f8ee"/>
<ellipse transform="translate(1.8,43.8) rotate(-3)" rx="2.2" ry="1.4" fill="#72f8ee"/>
<ellipse transform="translate(126.7,66.0) rotate(-24)" rx="3.1" ry="1.7" fill="#5aeee2"/>
<ellipse transform="translate(23.0,134.0) rotate(-16)" rx="2.4" ry="1.8" fill="#62f4e8"/>
<ellipse transform="translate(27.8,104.0) rotate(-25)" rx="3.3" ry="1.4" fill="#62f4e8"/>
<ellipse transform="translate(119.9,128.5) rotate(-18)" rx="2.9" ry="1.3" fill="#62f4e8"/>
<ellipse transform="translate(91.9,53.1) rotate(-14)" rx="2.9" ry="1.5" fill="#5aeee2"/>
<ellipse transform="translate(90.9,68.9) rotate(1)" rx="3.5" ry="1.2" fill="#5aeee2"/>
<ellipse transform="translate(95.2,117.8) rotate(-33)" rx="2.7" ry="1.3" fill="#72f8ee"/>
<ellipse transform="translate(66.4,43.4) rotate(4)" rx="2.8" ry="1.7" fill="#72f8ee"/>
<ellipse transform="translate(138.5,80.3) rotate(-27)" rx="2.4" ry="1.4" fill="#50dcd4"/>
<ellipse transform="translate(53.4,44.4) rotate(1)" rx="2.3" ry="1.8" fill="#50dcd4"/>
<ellipse transform="translate(35.6,64.2) rotate(-30)" rx="2.2" ry="1.4" fill="#50dcd4"/>
<ellipse transform="translate(104.3,113.1) rotate(-34)" rx="2.6" ry="1.7" fill="#50dcd4"/>
<ellipse transform="translate(42.3,120.4) rotate(-29)" rx="2.3" ry="1.9" fill="#5aeee2"/>
<ellipse transform="translate(64.6,113.0) rotate(-17)" rx="2.9" ry="1.9" fill="#5aeee2"/>
<ellipse transform="translate(105.6,130.4) rotate(-1)" rx="2.6" ry="1.7" fill="#72f8ee"/>
<ellipse transform="translate(54.7,92.5) rotate(-11)" rx="3.7" ry="1.7" fill="#62f4e8"/>
<ellipse transform="translate(103.6,47.8) rotate(-34)" rx="2.1" ry="1.2" fill="#62f4e8"/>
<ellipse transform="translate(32.1,128.0) rotate(-34)" rx="2.0" ry="2.0" fill="#5aeee2"/>
<ellipse transform="translate(114.8,138.4) rotate(-31)" rx="2.3" ry="1.6" fill="#50dcd4"/>
<ellipse transform="translate(83.5,17.4) rotate(-17)" rx="2.1" ry="1.7" fill="#50dcd4"/>
<ellipse transform="translate(135.3,23.8) rotate(2)" rx="3.6" ry="1.3" fill="#50dcd4"/>
<ellipse transform="translate(59.0,45.7) rotate(-3)" rx="2.3" ry="1.4" fill="#5aeee2"/>
<ellipse transform="translate(17.1,130.5) rotate(-0)" rx="2.7" ry="2.0" fill="#5aeee2"/>
<ellipse transform="translate(131.1,58.6) rotate(-35)" rx="3.0" ry="1.3" fill="#50dcd4"/>
<ellipse transform="translate(77.0,119.6) rotate(-24)" rx="4.0" ry="1.7" fill="#50dcd4"/>
<ellipse transform="translate(67.7,76.3) rotate(-17)" rx="4.0" ry="1.6" fill="#62f4e8"/>
<ellipse transform="translate(77.1,112.2) rotate(-0)" rx="3.9" ry="1.3" fill="#50dcd4"/>
<ellipse transform="translate(105.1,0.9) rotate(-24)" rx="2.8" ry="1.3" fill="#72f8ee"/>
<ellipse transform="translate(49.4,102.1) rotate(-14)" rx="3.7" ry="1.3" fill="#50dcd4"/>
<ellipse transform="translate(60.2,56.4) rotate(-21)" rx="3.7" ry="1.8" fill="#62f4e8"/>
<ellipse transform="translate(128.5,87.3) rotate(-4)" rx="4.0" ry="1.5" fill="#72f8ee"/>
<ellipse transform="translate(75.6,37.8) rotate(-31)" rx="3.1" ry="1.7" fill="#50dcd4"/>
<ellipse transform="translate(104.1,36.3) rotate(-35)" rx="2.6" ry="1.8" fill="#5aeee2"/>
<ellipse transform="translate(104.4,73.1) rotate(-3)" rx="3.1" ry="1.5" fill="#5aeee2"/>
<ellipse transform="translate(35.5,-0.1) rotate(-22)" rx="4.0" ry="2.0" fill="#62f4e8"/>
<ellipse transform="translate(114.9,138.3) rotate(-5)" rx="3.4" ry="1.5" fill="#62f4e8"/>
<ellipse transform="translate(63.6,94.7) rotate(-15)" rx="3.6" ry="1.7" fill="#62f4e8"/>
<ellipse transform="translate(52.3,51.1) rotate(-9)" rx="2.1" ry="1.9" fill="#50dcd4"/>
<ellipse transform="translate(132.6,30.2) rotate(-14)" rx="3.9" ry="2.0" fill="#5aeee2"/>
<ellipse transform="translate(38.3,40.0) rotate(-30)" rx="2.4" ry="1.6" fill="#5aeee2"/>
<ellipse transform="translate(0.6,111.0) rotate(-24)" rx="3.7" ry="1.9" fill="#5aeee2"/>
<ellipse transform="translate(135.9,29.1) rotate(-34)" rx="2.1" ry="1.5" fill="#5aeee2"/>
<ellipse transform="translate(101.2,103.1) rotate(-33)" rx="2.7" ry="1.4" fill="#62f4e8"/>
<ellipse transform="translate(65.1,122.7) rotate(-24)" rx="2.5" ry="1.4" fill="#50dcd4"/>
<ellipse transform="translate(70.5,9.5) rotate(-13)" rx="2.7" ry="1.3" fill="#50dcd4"/>
<ellipse transform="translate(51.7,4.5) rotate(-21)" rx="3.4" ry="1.5" fill="#72f8ee"/>
<ellipse transform="translate(6.7,105.3) rotate(-21)" rx="2.5" ry="1.3" fill="#50dcd4"/>
<ellipse transform="translate(95.5,74.7) rotate(-16)" rx="3.2" ry="1.9" fill="#72f8ee"/>
<ellipse transform="translate(51.1,69.6) rotate(-25)" rx="2.6" ry="1.8" fill="#50dcd4"/>
<ellipse transform="translate(112.9,134.9) rotate(-5)" rx="2.2" ry="1.4" fill="#72f8ee"/>
<ellipse transform="translate(67.7,37.3) rotate(-2)" rx="2.6" ry="1.4" fill="#72f8ee"/>
<ellipse transform="translate(10.0,130.2) rotate(4)" rx="3.4" ry="1.4" fill="#50dcd4"/>
<ellipse transform="translate(122.2,53.9) rotate(-19)" rx="3.6" ry="1.2" fill="#72f8ee"/>
<ellipse transform="translate(141.8,14.4) rotate(-0)" rx="2.5" ry="1.4" fill="#50dcd4"/>
<ellipse transform="translate(49.5,136.2) rotate(-15)" rx="3.0" ry="1.8" fill="#5aeee2"/>
<ellipse transform="translate(140.5,121.3) rotate(-8)" rx="2.9" ry="1.6" fill="#72f8ee"/>
<ellipse transform="translate(55.8,58.5) rotate(-19)" rx="2.6" ry="1.8" fill="#50dcd4"/>
<ellipse transform="translate(94.4,113.1) rotate(-10)" rx="2.8" ry="1.3" fill="#62f4e8"/>
<ellipse transform="translate(98.5,85.0) rotate(-25)" rx="3.4" ry="1.8" fill="#62f4e8"/>
<ellipse transform="translate(36.2,108.8) rotate(-32)" rx="3.1" ry="1.9" fill="#62f4e8"/>
<ellipse transform="translate(52.5,39.3) rotate(-19)" rx="3.8" ry="1.6" fill="#5aeee2"/>
<ellipse transform="translate(0.7,112.2) rotate(-22)" rx="3.9" ry="1.5" fill="#62f4e8"/>
<ellipse transform="translate(77.2,21.0) rotate(-4)" rx="2.0" ry="1.6" fill="#72f8ee"/>
<ellipse transform="translate(98.4,29.8) rotate(3)" rx="2.6" ry="1.5" fill="#5aeee2"/>
<ellipse transform="translate(17.4,125.4) rotate(-33)" rx="3.7" ry="1.9" fill="#5aeee2"/>
<ellipse transform="translate(80.8,114.9) rotate(-17)" rx="3.3" ry="1.8" fill="#72f8ee"/>
<ellipse transform="translate(70.5,91.5) rotate(-30)" rx="2.1" ry="1.7" fill="#5aeee2"/>
<ellipse transform="translate(98.9,142.8) rotate(-21)" rx="2.4" ry="1.5" fill="#62f4e8"/>
<ellipse transform="translate(3.0,10.4) rotate(-8)" rx="3.4" ry="1.2" fill="#5aeee2"/>
<ellipse transform="translate(32.8,136.4) rotate(-24)" rx="3.3" ry="1.2" fill="#72f8ee"/>
<ellipse transform="translate(103.1,88.7) rotate(-24)" rx="3.4" ry="1.3" fill="#50dcd4"/>
<ellipse transform="translate(42.6,121.8) rotate(-10)" rx="3.2" ry="1.8" fill="#5aeee2"/>
<ellipse transform="translate(100.7,10.5) rotate(-10)" rx="3.5" ry="1.9" fill="#72f8ee"/>
<ellipse transform="translate(5.5,15.2) rotate(-28)" rx="4.0" ry="1.2" fill="#62f4e8"/>
<ellipse transform="translate(112.0,108.7) rotate(-33)" rx="2.2" ry="1.7" fill="#50dcd4"/>
<ellipse transform="translate(17.7,49.5) rotate(5)" rx="3.7" ry="1.8" fill="#50dcd4"/>
<ellipse transform="translate(83.7,90.3) rotate(-19)" rx="2.8" ry="1.7" fill="#5aeee2"/>
<ellipse transform="translate(45.3,130.2) rotate(-14)" rx="2.5" ry="1.5" fill="#50dcd4"/>
<ellipse transform="translate(55.5,119.2) rotate(-13)" rx="2.5" ry="1.8" fill="#50dcd4"/>
<ellipse transform="translate(43.5,139.4) rotate(-25)" rx="2.7" ry="1.9" fill="#5aeee2"/>
<ellipse transform="translate(72.5,130.8) rotate(-16)" rx="3.2" ry="1.6" fill="#72f8ee"/>
<ellipse transform="translate(12.4,114.6) rotate(-7)" rx="3.6" ry="1.9" fill="#62f4e8"/>
<ellipse transform="translate(105.2,35.5) rotate(-8)" rx="3.3" ry="1.6" fill="#50dcd4"/>
<ellipse transform="translate(9.9,112.1) rotate(-31)" rx="2.1" ry="1.3" fill="#72f8ee"/>
<ellipse transform="translate(35.1,91.6) rotate(-16)" rx="3.1" ry="1.7" fill="#72f8ee"/>
<ellipse transform="translate(2.4,121.6) rotate(-6)" rx="3.2" ry="1.5" fill="#62f4e8"/>
<ellipse transform="translate(43.8,64.6) rotate(-24)" rx="2.4" ry="1.6" fill="#50dcd4"/>
<ellipse transform="translate(135.6,69.8) rotate(-27)" rx="3.5" ry="1.5" fill="#50dcd4"/>
<ellipse transform="translate(121.8,39.1) rotate(-11)" rx="3.3" ry="1.8" fill="#5aeee2"/>
<ellipse transform="translate(100.5,74.3) rotate(-26)" rx="2.1" ry="1.4" fill="#72f8ee"/>
<ellipse transform="translate(28.0,54.1) rotate(0)" rx="2.5" ry="1.3" fill="#5aeee2"/>
<ellipse transform="translate(6.5,18.9) rotate(-12)" rx="3.9" ry="1.7" fill="#5aeee2"/>
<ellipse transform="translate(95.9,-1.2) rotate(-5)" rx="2.9" ry="1.4" fill="#5aeee2"/>
</g>
<line x1="93.2" y1="130.0" x2="138.2" y2="130.0" stroke="#e8e8e8" stroke-width="1.3"/>
</svg>
<text x="21.6" y="199.0" font-size="9.8" font-weight="bold" fill="#5a8ae4" text-anchor="start" font-family='"Liberation Serif", serif' textLength="34.4" lengthAdjust="spacingAndGlyphs" >Hoechst</text>
<text x="59.6" y="199.0" font-size="9.8" font-weight="bold" fill="#b8f0f6" text-anchor="start" font-family='"Liberation Serif", serif' textLength="25.4" lengthAdjust="spacingAndGlyphs" >HuNu</text>
<svg x="154.8" y="185.0" width="141.2" height="141.3" overflow="hidden">
<rect width="141.2" height="141.3" fill="#071416"/>
<g filter="url(#bl5)">
<line x1="79.1" y1="90.1" x2="113.4" y2="81.3" stroke="#2a7474" stroke-width="4.1" opacity="0.3"/>
<line x1="129.1" y1="130.9" x2="148.7" y2="128.5" stroke="#2a7474" stroke-width="4.0" opacity="0.3"/>
<line x1="68.6" y1="139.3" x2="96.3" y2="133.9" stroke="#2a7474" stroke-width="4.9" opacity="0.3"/>
<line x1="89.3" y1="41.4" x2="111.7" y2="37.4" stroke="#2a7474" stroke-width="2.6" opacity="0.3"/>
<line x1="84.9" y1="105.4" x2="110.5" y2="104.0" stroke="#2a7474" stroke-width="4.8" opacity="0.3"/>
<line x1="76.8" y1="97.4" x2="93.8" y2="91.6" stroke="#2a7474" stroke-width="5.0" opacity="0.3"/>
<line x1="34.4" y1="28.4" x2="71.7" y2="25.2" stroke="#2a7474" stroke-width="2.8" opacity="0.3"/>
<line x1="40.2" y1="32.7" x2="60.8" y2="25.3" stroke="#2a7474" stroke-width="3.8" opacity="0.3"/>
<line x1="37.5" y1="55.1" x2="56.2" y2="49.1" stroke="#2a7474" stroke-width="2.6" opacity="0.3"/>
<line x1="126.3" y1="107.1" x2="154.0" y2="98.4" stroke="#2a7474" stroke-width="2.9" opacity="0.3"/>
<line x1="8.7" y1="43.6" x2="24.6" y2="39.5" stroke="#2a7474" stroke-width="3.0" opacity="0.3"/>
<line x1="20.1" y1="93.3" x2="46.1" y2="88.5" stroke="#2a7474" stroke-width="3.4" opacity="0.3"/>
<line x1="74.2" y1="112.7" x2="95.7" y2="105.4" stroke="#2a7474" stroke-width="3.7" opacity="0.3"/>
<line x1="49.2" y1="112.0" x2="67.0" y2="111.2" stroke="#2a7474" stroke-width="2.5" opacity="0.3"/>
<line x1="74.7" y1="62.3" x2="97.6" y2="61.5" stroke="#2a7474" stroke-width="4.3" opacity="0.3"/>
<line x1="15.5" y1="69.9" x2="44.1" y2="59.9" stroke="#2a7474" stroke-width="2.7" opacity="0.3"/>
<line x1="84.0" y1="104.5" x2="110.0" y2="99.1" stroke="#2a7474" stroke-width="3.8" opacity="0.3"/>
<line x1="30.7" y1="126.1" x2="69.1" y2="119.1" stroke="#2a7474" stroke-width="2.6" opacity="0.3"/>
<line x1="52.0" y1="115.3" x2="74.0" y2="108.2" stroke="#2a7474" stroke-width="3.0" opacity="0.3"/>
<line x1="101.2" y1="88.6" x2="123.1" y2="85.7" stroke="#2a7474" stroke-width="4.4" opacity="0.3"/>
<line x1="140.9" y1="119.5" x2="166.7" y2="117.7" stroke="#2a7474" stroke-width="4.8" opacity="0.3"/>
<line x1="125.7" y1="107.5" x2="155.0" y2="102.5" stroke="#2a7474" stroke-width="4.6" opacity="0.3"/>
<line x1="87.6" y1="103.2" x2="107.3" y2="96.8" stroke="#2a7474" stroke-width="3.2" opacity="0.3"/>
<line x1="81.1" y1="81.4" x2="100.3" y2="75.8" stroke="#2a7474" stroke-width="4.9" opacity="0.3"/>
<line x1="1.2" y1="133.5" x2="35.1" y2="128.4" stroke="#2a7474" stroke-width="5.0" opacity="0.3"/>
<line x1="96.2" y1="-2.0" x2="133.9" y2="-9.8" stroke="#2a7474" stroke-width="4.8" opacity="0.3"/>
<line x1="117.1" y1="17.3" x2="132.2" y2="12.0" stroke="#2a7474" stroke-width="4.5" opacity="0.3"/>
<line x1="113.6" y1="30.6" x2="131.0" y2="26.7" stroke="#2a7474" stroke-width="4.5" opacity="0.3"/>
<line x1="105.7" y1="124.7" x2="144.8" y2="121.4" stroke="#2a7474" stroke-width="4.6" opacity="0.3"/>
<line x1="-7.4" y1="-2.0" x2="28.8" y2="-6.9" stroke="#2a7474" stroke-width="3.3" opacity="0.3"/>
<line x1="10.0" y1="46.0" x2="33.1" y2="41.9" stroke="#2a7474" stroke-width="3.6" opacity="0.3"/>
<line x1="21.6" y1="9.1" x2="40.7" y2="3.1" stroke="#2a7474" stroke-width="2.8" opacity="0.3"/>
<line x1="54.7" y1="16.2" x2="89.3" y2="10.6" stroke="#2a7474" stroke-width="3.7" opacity="0.3"/>
<line x1="89.8" y1="31.6" x2="104.6" y2="26.7" stroke="#2a7474" stroke-width="3.3" opacity="0.3"/>
<line x1="46.4" y1="34.2" x2="69.0" y2="32.9" stroke="#2a7474" stroke-width="2.5" opacity="0.3"/>
<line x1="60.1" y1="53.4" x2="82.1" y2="51.3" stroke="#2a7474" stroke-width="3.1" opacity="0.3"/>
<line x1="-3.4" y1="20.5" x2="35.0" y2="11.6" stroke="#2a7474" stroke-width="2.8" opacity="0.3"/>
<line x1="141.6" y1="92.0" x2="179.5" y2="83.0" stroke="#2a7474" stroke-width="4.5" opacity="0.3"/>
<line x1="-3.5" y1="32.0" x2="30.8" y2="26.1" stroke="#2a7474" stroke-width="4.5" opacity="0.3"/>
<line x1="50.3" y1="126.1" x2="67.1" y2="123.9" stroke="#2a7474" stroke-width="3.0" opacity="0.3"/>
<line x1="21.1" y1="127.1" x2="46.8" y2="125.4" stroke="#2a7474" stroke-width="3.2" opacity="0.3"/>
<line x1="104.1" y1="130.7" x2="133.6" y2="122.6" stroke="#2a7474" stroke-width="4.2" opacity="0.3"/>
<line x1="138.5" y1="115.0" x2="164.1" y2="109.6" stroke="#2a7474" stroke-width="2.7" opacity="0.3"/>
<line x1="110.0" y1="20.3" x2="129.3" y2="13.5" stroke="#2a7474" stroke-width="2.9" opacity="0.3"/>
<line x1="49.9" y1="67.2" x2="68.9" y2="63.3" stroke="#2a7474" stroke-width="4.4" opacity="0.3"/>
<line x1="5.1" y1="16.9" x2="33.2" y2="16.0" stroke="#2a7474" stroke-width="4.8" opacity="0.3"/>
<line x1="78.9" y1="10.5" x2="115.7" y2="10.4" stroke="#2a7474" stroke-width="4.7" opacity="0.3"/>
<line x1="72.9" y1="53.4" x2="102.5" y2="51.2" stroke="#2a7474" stroke-width="5.0" opacity="0.3"/>
<line x1="67.1" y1="71.6" x2="89.6" y2="68.0" stroke="#2a7474" stroke-width="3.9" opacity="0.3"/>
<line x1="34.2" y1="64.5" x2="70.8" y2="54.5" stroke="#2a7474" stroke-width="3.1" opacity="0.3"/>
<line x1="37.6" y1="123.5" x2="60.1" y2="122.1" stroke="#2a7474" stroke-width="4.8" opacity="0.3"/>
<line x1="126.8" y1="115.5" x2="146.3" y2="111.7" stroke="#2a7474" stroke-width="4.6" opacity="0.3"/>
<line x1="28.4" y1="85.6" x2="65.2" y2="84.8" stroke="#2a7474" stroke-width="3.4" opacity="0.3"/>
<line x1="8.6" y1="1.6" x2="31.3" y2="-2.0" stroke="#2a7474" stroke-width="3.2" opacity="0.3"/>
<line x1="118.7" y1="92.8" x2="149.2" y2="90.9" stroke="#2a7474" stroke-width="3.3" opacity="0.3"/>
<line x1="91.5" y1="48.7" x2="112.7" y2="41.9" stroke="#2a7474" stroke-width="4.5" opacity="0.3"/>
<line x1="130.6" y1="1.6" x2="161.8" y2="-9.0" stroke="#2a7474" stroke-width="3.5" opacity="0.3"/>
<line x1="39.4" y1="130.0" x2="64.9" y2="125.6" stroke="#2a7474" stroke-width="3.4" opacity="0.3"/>
<line x1="29.8" y1="32.8" x2="45.4" y2="27.3" stroke="#2a7474" stroke-width="3.9" opacity="0.3"/>
<line x1="105.3" y1="95.8" x2="126.8" y2="95.7" stroke="#2a7474" stroke-width="2.7" opacity="0.3"/>
<line x1="57.4" y1="46.2" x2="76.9" y2="45.9" stroke="#2a7474" stroke-width="4.3" opacity="0.3"/>
<line x1="10.5" y1="23.1" x2="44.9" y2="15.4" stroke="#2a7474" stroke-width="3.3" opacity="0.3"/>
<line x1="36.3" y1="44.9" x2="65.2" y2="37.9" stroke="#2a7474" stroke-width="4.0" opacity="0.3"/>
<line x1="-0.1" y1="75.8" x2="28.7" y2="68.9" stroke="#2a7474" stroke-width="4.7" opacity="0.3"/>
<line x1="135.0" y1="93.8" x2="159.2" y2="86.5" stroke="#2a7474" stroke-width="4.1" opacity="0.3"/>
<line x1="35.1" y1="21.3" x2="62.4" y2="13.5" stroke="#2a7474" stroke-width="4.1" opacity="0.3"/>
<line x1="108.7" y1="-1.3" x2="138.3" y2="-9.9" stroke="#2a7474" stroke-width="3.3" opacity="0.3"/>
<line x1="103.0" y1="139.2" x2="125.7" y2="137.2" stroke="#2a7474" stroke-width="3.4" opacity="0.3"/>
<line x1="136.9" y1="22.6" x2="166.9" y2="12.6" stroke="#2a7474" stroke-width="3.9" opacity="0.3"/>
<line x1="106.1" y1="131.5" x2="139.8" y2="126.2" stroke="#2a7474" stroke-width="3.5" opacity="0.3"/>
<line x1="88.4" y1="92.5" x2="118.5" y2="89.5" stroke="#2a7474" stroke-width="4.4" opacity="0.3"/>
<line x1="136.4" y1="88.4" x2="173.1" y2="85.1" stroke="#2a7474" stroke-width="3.5" opacity="0.3"/>
<line x1="115.3" y1="50.8" x2="151.0" y2="49.3" stroke="#2a7474" stroke-width="4.7" opacity="0.3"/>
<line x1="132.2" y1="99.0" x2="158.8" y2="92.2" stroke="#2a7474" stroke-width="4.1" opacity="0.3"/>
<line x1="129.4" y1="49.8" x2="149.6" y2="48.1" stroke="#2a7474" stroke-width="4.8" opacity="0.3"/>
<line x1="22.2" y1="17.5" x2="39.8" y2="14.7" stroke="#2a7474" stroke-width="4.6" opacity="0.3"/>
<line x1="28.7" y1="113.5" x2="44.2" y2="109.1" stroke="#2a7474" stroke-width="3.9" opacity="0.3"/>
<line x1="108.4" y1="69.7" x2="139.8" y2="62.6" stroke="#2a7474" stroke-width="3.4" opacity="0.3"/>
<line x1="71.4" y1="-2.7" x2="90.9" y2="-7.2" stroke="#2a7474" stroke-width="4.1" opacity="0.3"/>
<line x1="20.7" y1="32.9" x2="60.2" y2="28.0" stroke="#2a7474" stroke-width="3.5" opacity="0.3"/>
<line x1="112.3" y1="102.3" x2="147.3" y2="96.9" stroke="#2a7474" stroke-width="4.0" opacity="0.3"/>
<line x1="5.1" y1="60.1" x2="29.1" y2="53.8" stroke="#2a7474" stroke-width="3.4" opacity="0.3"/>
<line x1="128.4" y1="29.8" x2="145.8" y2="25.7" stroke="#2a7474" stroke-width="2.9" opacity="0.3"/>
<line x1="-6.3" y1="131.5" x2="20.7" y2="121.9" stroke="#2a7474" stroke-width="3.8" opacity="0.3"/>
<line x1="17.2" y1="68.2" x2="55.8" y2="67.9" stroke="#2a7474" stroke-width="3.5" opacity="0.3"/>
<line x1="112.2" y1="69.6" x2="128.9" y2="66.1" stroke="#2a7474" stroke-width="4.5" opacity="0.3"/>
<line x1="111.5" y1="103.5" x2="150.3" y2="95.0" stroke="#2a7474" stroke-width="4.3" opacity="0.3"/>
<line x1="117.8" y1="133.2" x2="154.5" y2="131.5" stroke="#2a7474" stroke-width="3.4" opacity="0.3"/>
<line x1="49.0" y1="88.1" x2="66.5" y2="83.8" stroke="#2a7474" stroke-width="3.4" opacity="0.3"/>
<line x1="22.1" y1="24.3" x2="52.6" y2="16.8" stroke="#2a7474" stroke-width="2.6" opacity="0.3"/>
<line x1="81.1" y1="114.5" x2="95.5" y2="113.2" stroke="#6ad6cc" stroke-width="1.3"/>
<line x1="116.4" y1="111.4" x2="125.6" y2="109.4" stroke="#6ad6cc" stroke-width="1.2"/>
<line x1="118.0" y1="106.2" x2="133.7" y2="105.2" stroke="#2e8480" stroke-width="1.2"/>
<line x1="120.7" y1="112.3" x2="126.3" y2="111.1" stroke="#5ccac2" stroke-width="1.0"/>
<line x1="39.9" y1="120.1" x2="50.2" y2="119.3" stroke="#3a9a96" stroke-width="1.2"/>
<line x1="32.5" y1="120.4" x2="43.7" y2="119.7" stroke="#5ccac2" stroke-width="1.0"/>
<line x1="126.3" y1="107.9" x2="136.4" y2="105.4" stroke="#5ccac2" stroke-width="1.2"/>
<line x1="44.7" y1="118.0" x2="50.3" y2="116.7" stroke="#5ccac2" stroke-width="1.2"/>
<line x1="81.4" y1="114.1" x2="91.6" y2="113.2" stroke="#3a9a96" stroke-width="0.8"/>
<line x1="41.5" y1="118.1" x2="51.4" y2="116.6" stroke="#4cb8b0" stroke-width="0.7"/>
<line x1="86.5" y1="117.4" x2="97.3" y2="116.6" stroke="#2e8480" stroke-width="0.8"/>
<line x1="0.0" y1="129.3" x2="13.4" y2="127.2" stroke="#6ad6cc" stroke-width="1.0"/>
<line x1="54.8" y1="117.3" x2="65.1" y2="115.6" stroke="#4cb8b0" stroke-width="1.1"/>
<line x1="10.5" y1="120.5" x2="22.5" y2="118.0" stroke="#6ad6cc" stroke-width="0.9"/>
<line x1="140.2" y1="105.6" x2="151.2" y2="103.7" stroke="#3a9a96" stroke-width="0.7"/>
<line x1="130.2" y1="105.0" x2="138.9" y2="102.8" stroke="#4cb8b0" stroke-width="1.1"/>
<line x1="5.5" y1="125.8" x2="16.9" y2="124.1" stroke="#3a9a96" stroke-width="0.8"/>
<line x1="-2.4" y1="127.6" x2="6.6" y2="126.9" stroke="#3a9a96" stroke-width="0.7"/>
<line x1="98.5" y1="111.2" x2="104.4" y2="110.1" stroke="#3a9a96" stroke-width="1.2"/>
<line x1="51.9" y1="119.2" x2="64.9" y2="116.0" stroke="#3a9a96" stroke-width="1.1"/>
<line x1="125.4" y1="115.1" x2="131.8" y2="114.4" stroke="#2e8480" stroke-width="0.9"/>
<line x1="-5.0" y1="125.0" x2="8.2" y2="123.4" stroke="#6ad6cc" stroke-width="1.1"/>
<line x1="-3.2" y1="132.1" x2="5.6" y2="131.3" stroke="#6ad6cc" stroke-width="0.8"/>
<line x1="94.6" y1="109.7" x2="101.4" y2="108.0" stroke="#4cb8b0" stroke-width="1.1"/>
<line x1="139.1" y1="102.0" x2="145.6" y2="101.2" stroke="#5ccac2" stroke-width="0.9"/>
<line x1="34.3" y1="125.0" x2="42.2" y2="123.6" stroke="#6ad6cc" stroke-width="0.7"/>
<line x1="134.5" y1="109.3" x2="147.4" y2="106.4" stroke="#4cb8b0" stroke-width="1.2"/>
<line x1="33.0" y1="121.1" x2="40.0" y2="120.4" stroke="#2e8480" stroke-width="1.0"/>
<line x1="128.2" y1="125.3" x2="141.4" y2="123.9" stroke="#3a9a96" stroke-width="0.7"/>
<line x1="114.9" y1="130.6" x2="122.4" y2="128.7" stroke="#3a9a96" stroke-width="0.9"/>
<line x1="81.0" y1="132.6" x2="86.6" y2="131.3" stroke="#4cb8b0" stroke-width="1.3"/>
<line x1="77.3" y1="137.1" x2="88.3" y2="134.4" stroke="#3a9a96" stroke-width="1.3"/>
<line x1="89.5" y1="137.0" x2="104.1" y2="134.5" stroke="#4cb8b0" stroke-width="0.9"/>
<line x1="117.6" y1="131.4" x2="127.2" y2="130.6" stroke="#5ccac2" stroke-width="1.0"/>
<line x1="62.7" y1="134.4" x2="70.8" y2="133.8" stroke="#5ccac2" stroke-width="0.7"/>
<line x1="77.5" y1="139.5" x2="84.5" y2="138.1" stroke="#5ccac2" stroke-width="1.2"/>
<line x1="3.6" y1="148.2" x2="16.0" y2="147.2" stroke="#2e8480" stroke-width="0.8"/>
<line x1="52.5" y1="140.9" x2="64.1" y2="139.7" stroke="#5ccac2" stroke-width="0.7"/>
<line x1="13.8" y1="143.0" x2="29.5" y2="140.0" stroke="#4cb8b0" stroke-width="0.7"/>
<line x1="104.0" y1="132.7" x2="119.1" y2="131.1" stroke="#6ad6cc" stroke-width="1.3"/>
<line x1="99.8" y1="134.8" x2="113.1" y2="132.3" stroke="#3a9a96" stroke-width="0.9"/>
<line x1="123.5" y1="129.3" x2="133.4" y2="128.2" stroke="#3a9a96" stroke-width="1.1"/>
<line x1="116.5" y1="140.0" x2="131.3" y2="138.6" stroke="#6ad6cc" stroke-width="1.2"/>
<line x1="-5.3" y1="154.8" x2="5.9" y2="153.3" stroke="#5ccac2" stroke-width="0.8"/>
<line x1="127.7" y1="127.7" x2="141.6" y2="124.8" stroke="#5ccac2" stroke-width="1.2"/>
<line x1="71.9" y1="143.5" x2="80.1" y2="141.8" stroke="#2e8480" stroke-width="0.8"/>
<line x1="80.0" y1="136.2" x2="93.5" y2="134.1" stroke="#4cb8b0" stroke-width="0.8"/>
<line x1="28.2" y1="140.3" x2="40.1" y2="139.5" stroke="#3a9a96" stroke-width="1.1"/>
<line x1="40.5" y1="137.4" x2="49.7" y2="136.1" stroke="#4cb8b0" stroke-width="1.2"/>
<line x1="76.1" y1="143.8" x2="84.1" y2="142.5" stroke="#3a9a96" stroke-width="1.0"/>
<line x1="3.9" y1="144.6" x2="17.3" y2="142.7" stroke="#6ad6cc" stroke-width="1.2"/>
<line x1="86.1" y1="136.3" x2="100.5" y2="133.0" stroke="#2e8480" stroke-width="1.3"/>
<line x1="91.7" y1="141.6" x2="98.4" y2="140.4" stroke="#6ad6cc" stroke-width="1.2"/>
<line x1="16.7" y1="146.7" x2="24.9" y2="145.5" stroke="#6ad6cc" stroke-width="1.0"/>
<line x1="100.4" y1="135.9" x2="109.8" y2="135.1" stroke="#4cb8b0" stroke-width="1.3"/>
<line x1="42.6" y1="142.3" x2="50.3" y2="141.4" stroke="#3a9a96" stroke-width="1.2"/>
<line x1="73.6" y1="28.6" x2="81.2" y2="26.8" stroke="#4cb8b0" stroke-width="1.0"/>
<line x1="-8.1" y1="39.4" x2="1.5" y2="38.1" stroke="#2e8480" stroke-width="1.1"/>
<line x1="101.1" y1="21.4" x2="111.4" y2="20.0" stroke="#3a9a96" stroke-width="1.0"/>
<line x1="120.7" y1="17.3" x2="132.7" y2="14.9" stroke="#5ccac2" stroke-width="1.0"/>
<line x1="20.4" y1="29.5" x2="36.0" y2="28.5" stroke="#3a9a96" stroke-width="0.7"/>
<line x1="43.9" y1="26.5" x2="52.5" y2="24.9" stroke="#5ccac2" stroke-width="0.8"/>
<line x1="3.0" y1="37.1" x2="13.3" y2="36.3" stroke="#6ad6cc" stroke-width="0.9"/>
<line x1="37.5" y1="27.1" x2="46.0" y2="25.7" stroke="#2e8480" stroke-width="0.8"/>
<line x1="117.7" y1="25.5" x2="131.5" y2="22.2" stroke="#3a9a96" stroke-width="0.7"/>
<line x1="144.9" y1="12.5" x2="158.4" y2="10.6" stroke="#2e8480" stroke-width="0.7"/>
<line x1="37.6" y1="29.6" x2="49.1" y2="28.9" stroke="#4cb8b0" stroke-width="1.0"/>
<line x1="8.9" y1="33.3" x2="14.6" y2="31.9" stroke="#2e8480" stroke-width="1.2"/>
<line x1="61.0" y1="23.9" x2="72.3" y2="21.9" stroke="#3a9a96" stroke-width="0.8"/>
<line x1="44.1" y1="27.5" x2="57.8" y2="25.5" stroke="#3a9a96" stroke-width="0.9"/>
<line x1="114.1" y1="19.4" x2="123.7" y2="17.9" stroke="#3a9a96" stroke-width="1.1"/>
<line x1="84.2" y1="26.0" x2="90.4" y2="24.8" stroke="#2e8480" stroke-width="1.0"/>
<line x1="124.5" y1="14.8" x2="137.0" y2="13.1" stroke="#3a9a96" stroke-width="1.1"/>
<line x1="109.1" y1="27.0" x2="119.7" y2="25.3" stroke="#4cb8b0" stroke-width="1.1"/>
<line x1="116.6" y1="18.4" x2="132.2" y2="15.3" stroke="#2e8480" stroke-width="1.2"/>
<line x1="88.1" y1="21.4" x2="93.7" y2="20.6" stroke="#2e8480" stroke-width="0.9"/>
<line x1="20.6" y1="32.9" x2="31.6" y2="32.3" stroke="#4cb8b0" stroke-width="1.1"/>
<line x1="17.2" y1="33.1" x2="32.4" y2="31.1" stroke="#5ccac2" stroke-width="1.0"/>
<line x1="126.5" y1="18.9" x2="137.1" y2="17.7" stroke="#5ccac2" stroke-width="1.0"/>
<line x1="8.7" y1="32.0" x2="14.7" y2="31.2" stroke="#4cb8b0" stroke-width="0.8"/>
<line x1="48.7" y1="32.7" x2="56.8" y2="31.8" stroke="#3a9a96" stroke-width="0.9"/>
<line x1="94.2" y1="24.3" x2="101.5" y2="23.5" stroke="#6ad6cc" stroke-width="1.0"/>
<line x1="9.1" y1="35.7" x2="23.7" y2="33.5" stroke="#5ccac2" stroke-width="1.3"/>
<line x1="48.5" y1="29.7" x2="57.6" y2="28.3" stroke="#3a9a96" stroke-width="0.9"/>
<line x1="70.5" y1="99.1" x2="85.2" y2="96.9" stroke="#3a9a96" stroke-width="1.0"/>
<line x1="72.4" y1="96.5" x2="77.7" y2="96.2" stroke="#4cb8b0" stroke-width="1.1"/>
<line x1="83.2" y1="94.9" x2="88.5" y2="93.6" stroke="#3a9a96" stroke-width="1.3"/>
<line x1="4.9" y1="104.7" x2="15.1" y2="103.4" stroke="#2e8480" stroke-width="1.3"/>
<line x1="99.4" y1="87.7" x2="104.8" y2="87.1" stroke="#4cb8b0" stroke-width="0.9"/>
<line x1="106.2" y1="96.0" x2="112.5" y2="95.2" stroke="#2e8480" stroke-width="1.2"/>
<line x1="87.1" y1="94.0" x2="97.0" y2="92.2" stroke="#2e8480" stroke-width="0.9"/>
<line x1="84.8" y1="97.9" x2="91.6" y2="97.2" stroke="#5ccac2" stroke-width="1.2"/>
<line x1="-7.6" y1="115.7" x2="0.9" y2="114.2" stroke="#4cb8b0" stroke-width="0.7"/>
<line x1="84.8" y1="96.2" x2="99.2" y2="94.0" stroke="#4cb8b0" stroke-width="1.0"/>
<line x1="7.1" y1="108.1" x2="14.8" y2="106.3" stroke="#2e8480" stroke-width="1.2"/>
<line x1="93.4" y1="94.4" x2="108.9" y2="93.0" stroke="#4cb8b0" stroke-width="1.1"/>
<line x1="79.7" y1="95.4" x2="95.4" y2="93.4" stroke="#6ad6cc" stroke-width="1.2"/>
<line x1="70.5" y1="95.7" x2="78.5" y2="95.2" stroke="#6ad6cc" stroke-width="1.0"/>
<line x1="56.3" y1="97.1" x2="70.3" y2="94.7" stroke="#4cb8b0" stroke-width="0.9"/>
<line x1="61.8" y1="96.2" x2="70.9" y2="94.6" stroke="#5ccac2" stroke-width="0.9"/>
<line x1="140.8" y1="88.5" x2="150.4" y2="86.9" stroke="#6ad6cc" stroke-width="1.3"/>
<line x1="-1.1" y1="104.8" x2="7.5" y2="102.9" stroke="#3a9a96" stroke-width="1.1"/>
<line x1="80.3" y1="99.3" x2="91.9" y2="97.9" stroke="#5ccac2" stroke-width="1.2"/>
<line x1="88.6" y1="93.5" x2="103.8" y2="90.6" stroke="#5ccac2" stroke-width="0.7"/>
<line x1="83.0" y1="103.0" x2="91.3" y2="102.2" stroke="#2e8480" stroke-width="1.0"/>
<line x1="119.4" y1="92.8" x2="126.1" y2="91.7" stroke="#2e8480" stroke-width="1.0"/>
<line x1="30.1" y1="106.3" x2="45.9" y2="105.1" stroke="#3a9a96" stroke-width="0.8"/>
<line x1="43.9" y1="101.1" x2="55.7" y2="99.7" stroke="#3a9a96" stroke-width="1.3"/>
<line x1="13.1" y1="106.4" x2="18.5" y2="105.8" stroke="#2e8480" stroke-width="0.9"/>
<line x1="35.2" y1="106.2" x2="44.9" y2="105.6" stroke="#6ad6cc" stroke-width="0.8"/>
<line x1="98.4" y1="92.9" x2="106.9" y2="91.0" stroke="#6ad6cc" stroke-width="0.8"/>
<line x1="86.6" y1="93.9" x2="95.3" y2="92.7" stroke="#6ad6cc" stroke-width="1.3"/>
<line x1="29.0" y1="7.2" x2="39.4" y2="6.2" stroke="#6ad6cc" stroke-width="1.0"/>
<line x1="135.2" y1="-3.8" x2="143.3" y2="-4.7" stroke="#3a9a96" stroke-width="1.2"/>
<line x1="128.5" y1="-4.6" x2="136.8" y2="-6.0" stroke="#5ccac2" stroke-width="1.1"/>
<line x1="-6.7" y1="14.6" x2="2.4" y2="13.5" stroke="#2e8480" stroke-width="1.2"/>
<line x1="64.3" y1="5.0" x2="79.5" y2="2.3" stroke="#2e8480" stroke-width="0.8"/>
<line x1="12.0" y1="12.9" x2="21.1" y2="11.8" stroke="#4cb8b0" stroke-width="1.1"/>
<line x1="16.5" y1="8.9" x2="23.2" y2="7.5" stroke="#4cb8b0" stroke-width="1.1"/>
<line x1="113.6" y1="0.8" x2="123.3" y2="-0.6" stroke="#6ad6cc" stroke-width="0.8"/>
<line x1="12.5" y1="8.7" x2="27.7" y2="6.3" stroke="#6ad6cc" stroke-width="1.0"/>
<line x1="10.9" y1="13.2" x2="24.8" y2="10.8" stroke="#5ccac2" stroke-width="1.3"/>
<line x1="113.3" y1="-2.9" x2="127.6" y2="-6.1" stroke="#5ccac2" stroke-width="1.0"/>
<line x1="125.6" y1="-1.6" x2="138.4" y2="-3.9" stroke="#4cb8b0" stroke-width="1.2"/>
<line x1="126.4" y1="-3.3" x2="140.6" y2="-4.5" stroke="#2e8480" stroke-width="0.7"/>
<line x1="40.6" y1="13.8" x2="49.6" y2="11.8" stroke="#2e8480" stroke-width="0.8"/>
<line x1="128.0" y1="-0.4" x2="138.6" y2="-2.6" stroke="#6ad6cc" stroke-width="0.8"/>
<line x1="144.2" y1="-6.0" x2="149.4" y2="-6.9" stroke="#3a9a96" stroke-width="1.0"/>
<line x1="141.6" y1="-6.8" x2="153.4" y2="-8.8" stroke="#4cb8b0" stroke-width="1.1"/>
<line x1="-3.9" y1="13.5" x2="10.9" y2="11.4" stroke="#4cb8b0" stroke-width="0.9"/>
<line x1="145.0" y1="-10.0" x2="159.0" y2="-12.3" stroke="#4cb8b0" stroke-width="1.1"/>
<line x1="106.5" y1="-1.8" x2="115.8" y2="-2.9" stroke="#4cb8b0" stroke-width="1.3"/>
<line x1="112.7" y1="-2.3" x2="121.8" y2="-3.7" stroke="#3a9a96" stroke-width="1.2"/>
<line x1="46.6" y1="8.3" x2="53.1" y2="6.7" stroke="#6ad6cc" stroke-width="1.1"/>
<line x1="68.2" y1="-1.7" x2="79.9" y2="-3.4" stroke="#5ccac2" stroke-width="1.3"/>
<line x1="119.6" y1="-2.1" x2="133.7" y2="-4.4" stroke="#4cb8b0" stroke-width="0.8"/>
<line x1="-1.7" y1="11.5" x2="6.0" y2="10.7" stroke="#5ccac2" stroke-width="1.3"/>
<line x1="4.7" y1="15.5" x2="19.2" y2="12.7" stroke="#5ccac2" stroke-width="1.0"/>
<line x1="42.3" y1="6.4" x2="50.8" y2="5.4" stroke="#6ad6cc" stroke-width="1.0"/>
<line x1="-8.6" y1="14.7" x2="-2.6" y2="13.3" stroke="#6ad6cc" stroke-width="0.7"/>
<line x1="4.3" y1="33.6" x2="14.9" y2="30.9" stroke="#3a9a96" stroke-width="1.0"/>
<line x1="-0.0" y1="33.7" x2="10.8" y2="31.2" stroke="#5ccac2" stroke-width="0.7"/>
<line x1="109.4" y1="24.5" x2="115.7" y2="23.6" stroke="#2e8480" stroke-width="1.0"/>
<line x1="52.7" y1="29.8" x2="62.6" y2="29.2" stroke="#4cb8b0" stroke-width="1.1"/>
<line x1="-5.8" y1="35.8" x2="9.6" y2="32.2" stroke="#4cb8b0" stroke-width="1.2"/>
<line x1="79.8" y1="26.0" x2="94.9" y2="22.6" stroke="#4cb8b0" stroke-width="1.1"/>
<line x1="145.3" y1="15.6" x2="159.5" y2="13.3" stroke="#4cb8b0" stroke-width="1.1"/>
<line x1="73.6" y1="29.0" x2="84.1" y2="26.9" stroke="#4cb8b0" stroke-width="1.0"/>
<line x1="140.1" y1="17.9" x2="147.6" y2="17.1" stroke="#5ccac2" stroke-width="1.0"/>
<line x1="19.0" y1="31.4" x2="25.0" y2="31.0" stroke="#6ad6cc" stroke-width="1.2"/>
<line x1="115.9" y1="18.5" x2="121.7" y2="17.5" stroke="#5ccac2" stroke-width="0.9"/>
<line x1="25.2" y1="27.0" x2="36.9" y2="26.1" stroke="#2e8480" stroke-width="1.0"/>
<line x1="64.1" y1="23.0" x2="70.5" y2="21.4" stroke="#3a9a96" stroke-width="1.0"/>
<line x1="144.7" y1="21.3" x2="151.6" y2="19.6" stroke="#2e8480" stroke-width="1.2"/>
<line x1="111.1" y1="20.9" x2="125.4" y2="17.4" stroke="#3a9a96" stroke-width="0.8"/>
<line x1="21.0" y1="27.3" x2="31.2" y2="25.9" stroke="#5ccac2" stroke-width="0.7"/>
<line x1="90.5" y1="17.6" x2="95.9" y2="16.7" stroke="#2e8480" stroke-width="0.8"/>
<line x1="12.3" y1="26.1" x2="23.6" y2="25.1" stroke="#2e8480" stroke-width="1.1"/>
<line x1="98.5" y1="21.5" x2="104.9" y2="20.6" stroke="#3a9a96" stroke-width="0.8"/>
<line x1="80.5" y1="23.8" x2="85.5" y2="23.4" stroke="#5ccac2" stroke-width="1.2"/>
<line x1="16.9" y1="29.7" x2="25.4" y2="28.8" stroke="#5ccac2" stroke-width="1.2"/>
<line x1="61.3" y1="30.4" x2="74.6" y2="27.7" stroke="#4cb8b0" stroke-width="1.2"/>
<line x1="117.6" y1="17.5" x2="125.5" y2="15.8" stroke="#5ccac2" stroke-width="1.1"/>
<line x1="45.4" y1="26.6" x2="53.2" y2="24.9" stroke="#4cb8b0" stroke-width="0.9"/>
<line x1="73.9" y1="26.6" x2="89.8" y2="25.6" stroke="#5ccac2" stroke-width="1.1"/>
<line x1="87.4" y1="28.6" x2="99.5" y2="27.4" stroke="#4cb8b0" stroke-width="1.2"/>
<line x1="145.2" y1="12.1" x2="160.4" y2="9.0" stroke="#3a9a96" stroke-width="1.1"/>
<line x1="44.0" y1="31.6" x2="58.5" y2="28.8" stroke="#3a9a96" stroke-width="1.3"/>
<line x1="28.7" y1="18.1" x2="36.8" y2="16.9" stroke="#4cb8b0" stroke-width="0.9"/>
<line x1="78.0" y1="11.9" x2="90.0" y2="10.2" stroke="#5ccac2" stroke-width="1.1"/>
<line x1="1.7" y1="29.5" x2="15.2" y2="28.4" stroke="#3a9a96" stroke-width="0.8"/>
<line x1="52.8" y1="16.3" x2="64.9" y2="14.6" stroke="#2e8480" stroke-width="1.0"/>
<line x1="99.0" y1="10.9" x2="110.8" y2="9.0" stroke="#3a9a96" stroke-width="0.8"/>
<line x1="48.1" y1="21.4" x2="57.8" y2="20.2" stroke="#2e8480" stroke-width="1.0"/>
<line x1="11.8" y1="21.1" x2="20.8" y2="20.3" stroke="#3a9a96" stroke-width="0.9"/>
<line x1="113.0" y1="14.1" x2="119.5" y2="12.9" stroke="#6ad6cc" stroke-width="1.2"/>
<line x1="134.9" y1="12.2" x2="146.7" y2="10.4" stroke="#5ccac2" stroke-width="1.3"/>
<line x1="143.2" y1="10.7" x2="149.1" y2="9.7" stroke="#2e8480" stroke-width="1.3"/>
<line x1="1.8" y1="29.6" x2="12.9" y2="27.4" stroke="#2e8480" stroke-width="1.0"/>
<line x1="6.7" y1="31.4" x2="16.7" y2="29.7" stroke="#4cb8b0" stroke-width="1.1"/>
<line x1="140.5" y1="3.4" x2="150.6" y2="0.9" stroke="#5ccac2" stroke-width="1.0"/>
<line x1="20.9" y1="22.1" x2="26.8" y2="21.2" stroke="#5ccac2" stroke-width="1.2"/>
<line x1="116.7" y1="14.8" x2="124.5" y2="13.2" stroke="#2e8480" stroke-width="1.1"/>
<line x1="143.5" y1="5.9" x2="150.8" y2="4.7" stroke="#4cb8b0" stroke-width="0.8"/>
<line x1="20.4" y1="18.3" x2="27.6" y2="16.8" stroke="#6ad6cc" stroke-width="1.1"/>
<line x1="-8.3" y1="26.4" x2="0.5" y2="25.0" stroke="#5ccac2" stroke-width="1.2"/>
<line x1="130.7" y1="8.4" x2="136.7" y2="8.0" stroke="#3a9a96" stroke-width="0.8"/>
<line x1="107.1" y1="17.3" x2="119.4" y2="16.5" stroke="#5ccac2" stroke-width="1.2"/>
<line x1="120.1" y1="13.1" x2="128.5" y2="11.9" stroke="#4cb8b0" stroke-width="0.8"/>
<line x1="127.7" y1="13.9" x2="135.5" y2="12.8" stroke="#6ad6cc" stroke-width="1.1"/>
<line x1="65.6" y1="17.6" x2="75.6" y2="16.4" stroke="#4cb8b0" stroke-width="1.1"/>
<line x1="70.7" y1="14.7" x2="81.4" y2="13.0" stroke="#4cb8b0" stroke-width="1.0"/>
<line x1="29.5" y1="23.0" x2="40.5" y2="21.3" stroke="#4cb8b0" stroke-width="1.1"/>
<line x1="-1.9" y1="23.9" x2="5.8" y2="23.2" stroke="#2e8480" stroke-width="0.9"/>
<line x1="140.9" y1="3.9" x2="154.9" y2="3.0" stroke="#2e8480" stroke-width="1.1"/>
<line x1="54.5" y1="13.2" x2="63.1" y2="12.1" stroke="#2e8480" stroke-width="0.9"/>
<line x1="85.8" y1="88.1" x2="94.0" y2="87.0" stroke="#6ad6cc" stroke-width="1.0"/>
<line x1="2.5" y1="100.5" x2="9.1" y2="99.9" stroke="#4cb8b0" stroke-width="0.9"/>
<line x1="53.0" y1="93.6" x2="60.9" y2="92.2" stroke="#6ad6cc" stroke-width="1.0"/>
<line x1="59.2" y1="93.6" x2="72.2" y2="90.9" stroke="#3a9a96" stroke-width="1.1"/>
<line x1="7.1" y1="98.0" x2="17.8" y2="96.1" stroke="#3a9a96" stroke-width="1.3"/>
<line x1="87.3" y1="86.0" x2="95.5" y2="85.4" stroke="#6ad6cc" stroke-width="1.0"/>
<line x1="102.6" y1="91.3" x2="111.2" y2="90.0" stroke="#3a9a96" stroke-width="0.8"/>
<line x1="136.1" y1="86.4" x2="144.8" y2="85.9" stroke="#5ccac2" stroke-width="1.2"/>
<line x1="39.4" y1="95.3" x2="53.9" y2="94.1" stroke="#3a9a96" stroke-width="1.0"/>
<line x1="130.9" y1="84.0" x2="142.6" y2="81.8" stroke="#3a9a96" stroke-width="1.3"/>
<line x1="11.3" y1="96.1" x2="17.0" y2="94.7" stroke="#2e8480" stroke-width="1.0"/>
<line x1="109.1" y1="86.2" x2="122.4" y2="82.9" stroke="#3a9a96" stroke-width="1.2"/>
<line x1="-6.8" y1="104.1" x2="8.5" y2="100.9" stroke="#3a9a96" stroke-width="1.0"/>
<line x1="29.5" y1="97.7" x2="44.5" y2="94.6" stroke="#6ad6cc" stroke-width="1.3"/>
<line x1="86.2" y1="94.4" x2="100.6" y2="92.9" stroke="#3a9a96" stroke-width="0.7"/>
<line x1="100.4" y1="81.9" x2="112.6" y2="80.7" stroke="#6ad6cc" stroke-width="1.0"/>
<line x1="112.9" y1="89.4" x2="118.1" y2="88.4" stroke="#4cb8b0" stroke-width="1.3"/>
<line x1="92.4" y1="90.5" x2="107.1" y2="89.2" stroke="#5ccac2" stroke-width="0.7"/>
<line x1="134.5" y1="81.9" x2="139.9" y2="81.5" stroke="#3a9a96" stroke-width="1.1"/>
<line x1="131.8" y1="81.8" x2="141.9" y2="81.0" stroke="#3a9a96" stroke-width="0.7"/>
<line x1="61.0" y1="91.9" x2="74.6" y2="90.4" stroke="#4cb8b0" stroke-width="1.2"/>
<line x1="24.6" y1="101.2" x2="31.2" y2="100.7" stroke="#2e8480" stroke-width="1.1"/>
<line x1="133.7" y1="88.6" x2="141.9" y2="88.1" stroke="#2e8480" stroke-width="0.9"/>
<line x1="21.7" y1="96.1" x2="31.4" y2="94.2" stroke="#6ad6cc" stroke-width="0.9"/>
<line x1="74.0" y1="89.0" x2="80.2" y2="87.9" stroke="#4cb8b0" stroke-width="0.8"/>
<line x1="63.4" y1="89.8" x2="76.8" y2="86.7" stroke="#2e8480" stroke-width="1.0"/>
<line x1="93.9" y1="87.1" x2="98.9" y2="86.8" stroke="#2e8480" stroke-width="1.1"/>
<line x1="41.8" y1="95.2" x2="49.4" y2="94.6" stroke="#2e8480" stroke-width="1.2"/>
<line x1="119.9" y1="66.9" x2="127.8" y2="65.5" stroke="#2e8480" stroke-width="0.9"/>
<line x1="131.5" y1="72.1" x2="138.1" y2="70.8" stroke="#3a9a96" stroke-width="1.0"/>
<line x1="12.7" y1="85.3" x2="19.0" y2="84.7" stroke="#3a9a96" stroke-width="1.0"/>
<line x1="96.3" y1="73.0" x2="111.2" y2="72.1" stroke="#6ad6cc" stroke-width="1.0"/>
<line x1="118.4" y1="72.3" x2="127.0" y2="70.2" stroke="#3a9a96" stroke-width="0.9"/>
<line x1="69.5" y1="81.4" x2="84.7" y2="79.0" stroke="#4cb8b0" stroke-width="0.9"/>
<line x1="28.2" y1="83.9" x2="35.7" y2="82.5" stroke="#3a9a96" stroke-width="1.2"/>
<line x1="78.6" y1="73.6" x2="86.8" y2="72.0" stroke="#3a9a96" stroke-width="1.2"/>
<line x1="18.5" y1="85.6" x2="30.9" y2="84.7" stroke="#3a9a96" stroke-width="1.2"/>
<line x1="12.5" y1="86.8" x2="27.0" y2="83.6" stroke="#3a9a96" stroke-width="1.2"/>
<line x1="82.9" y1="76.3" x2="94.0" y2="75.3" stroke="#3a9a96" stroke-width="1.0"/>
<line x1="128.7" y1="68.8" x2="138.8" y2="67.4" stroke="#4cb8b0" stroke-width="0.9"/>
<line x1="-7.2" y1="85.5" x2="4.4" y2="83.2" stroke="#5ccac2" stroke-width="0.7"/>
<line x1="44.3" y1="82.8" x2="55.4" y2="81.0" stroke="#4cb8b0" stroke-width="1.0"/>
<line x1="23.9" y1="81.1" x2="32.0" y2="79.5" stroke="#4cb8b0" stroke-width="0.8"/>
<line x1="80.4" y1="80.0" x2="91.4" y2="79.3" stroke="#6ad6cc" stroke-width="0.8"/>
<line x1="91.0" y1="79.1" x2="100.9" y2="77.8" stroke="#2e8480" stroke-width="0.8"/>
<line x1="102.6" y1="73.6" x2="111.0" y2="72.3" stroke="#6ad6cc" stroke-width="1.1"/>
<line x1="55.7" y1="76.8" x2="65.6" y2="74.8" stroke="#4cb8b0" stroke-width="1.2"/>
<line x1="49.7" y1="76.6" x2="59.9" y2="75.7" stroke="#2e8480" stroke-width="1.3"/>
<line x1="65.1" y1="80.5" x2="78.5" y2="79.7" stroke="#5ccac2" stroke-width="1.3"/>
<line x1="51.5" y1="79.0" x2="62.6" y2="76.5" stroke="#3a9a96" stroke-width="0.9"/>
<line x1="3.9" y1="87.0" x2="11.3" y2="85.9" stroke="#5ccac2" stroke-width="1.2"/>
<line x1="28.2" y1="78.2" x2="34.8" y2="76.9" stroke="#3a9a96" stroke-width="1.1"/>
<line x1="62.6" y1="83.0" x2="78.1" y2="79.9" stroke="#3a9a96" stroke-width="1.0"/>
<line x1="74.0" y1="74.7" x2="83.4" y2="73.0" stroke="#5ccac2" stroke-width="0.7"/>
<line x1="-8.1" y1="88.0" x2="0.1" y2="87.2" stroke="#2e8480" stroke-width="0.8"/>
<line x1="111.3" y1="77.5" x2="121.3" y2="76.2" stroke="#4cb8b0" stroke-width="1.2"/>
<line x1="124.7" y1="113.9" x2="135.9" y2="111.6" stroke="#2e8480" stroke-width="1.0"/>
<line x1="109.0" y1="110.1" x2="115.3" y2="109.7" stroke="#2e8480" stroke-width="0.8"/>
<line x1="133.2" y1="111.8" x2="141.5" y2="110.6" stroke="#5ccac2" stroke-width="1.2"/>
<line x1="13.0" y1="126.2" x2="27.0" y2="124.9" stroke="#4cb8b0" stroke-width="1.1"/>
<line x1="-3.3" y1="125.1" x2="7.8" y2="124.3" stroke="#2e8480" stroke-width="0.8"/>
<line x1="20.3" y1="128.7" x2="28.2" y2="128.2" stroke="#4cb8b0" stroke-width="1.3"/>
<line x1="117.2" y1="108.3" x2="127.5" y2="107.3" stroke="#4cb8b0" stroke-width="1.3"/>
<line x1="40.3" y1="122.6" x2="48.2" y2="120.8" stroke="#2e8480" stroke-width="1.2"/>
<line x1="87.5" y1="112.1" x2="101.5" y2="109.0" stroke="#6ad6cc" stroke-width="0.8"/>
<line x1="141.9" y1="105.1" x2="153.4" y2="103.2" stroke="#3a9a96" stroke-width="1.0"/>
<line x1="-8.8" y1="126.3" x2="5.1" y2="124.5" stroke="#5ccac2" stroke-width="1.3"/>
<line x1="114.4" y1="111.0" x2="127.9" y2="109.8" stroke="#5ccac2" stroke-width="1.2"/>
<line x1="47.9" y1="120.6" x2="60.7" y2="117.7" stroke="#5ccac2" stroke-width="1.2"/>
<line x1="97.5" y1="115.6" x2="108.6" y2="113.3" stroke="#2e8480" stroke-width="0.7"/>
<line x1="66.5" y1="117.3" x2="75.7" y2="115.5" stroke="#3a9a96" stroke-width="0.8"/>
<line x1="96.5" y1="112.2" x2="111.3" y2="111.3" stroke="#4cb8b0" stroke-width="1.0"/>
<line x1="14.0" y1="126.7" x2="25.5" y2="124.7" stroke="#5ccac2" stroke-width="0.8"/>
<line x1="48.7" y1="123.4" x2="54.4" y2="122.0" stroke="#3a9a96" stroke-width="0.8"/>
<line x1="81.2" y1="119.2" x2="88.5" y2="118.6" stroke="#6ad6cc" stroke-width="1.1"/>
<line x1="115.2" y1="113.4" x2="127.5" y2="112.3" stroke="#3a9a96" stroke-width="1.0"/>
<line x1="48.7" y1="118.4" x2="57.7" y2="116.3" stroke="#4cb8b0" stroke-width="0.8"/>
<line x1="118.2" y1="116.0" x2="130.6" y2="114.8" stroke="#5ccac2" stroke-width="1.2"/>
<line x1="22.5" y1="127.9" x2="37.2" y2="125.6" stroke="#3a9a96" stroke-width="1.1"/>
<line x1="71.2" y1="120.5" x2="81.7" y2="119.1" stroke="#2e8480" stroke-width="1.2"/>
<line x1="18.9" y1="122.6" x2="30.7" y2="121.2" stroke="#4cb8b0" stroke-width="0.9"/>
<line x1="32.7" y1="124.0" x2="45.0" y2="121.2" stroke="#4cb8b0" stroke-width="1.0"/>
<line x1="108.9" y1="114.4" x2="113.9" y2="113.6" stroke="#3a9a96" stroke-width="1.0"/>
<line x1="138.2" y1="115.0" x2="143.2" y2="114.4" stroke="#3a9a96" stroke-width="1.1"/>
<line x1="103.6" y1="93.7" x2="112.1" y2="91.7" stroke="#4cb8b0" stroke-width="1.3"/>
<line x1="86.9" y1="95.3" x2="92.6" y2="95.0" stroke="#3a9a96" stroke-width="0.8"/>
<line x1="72.1" y1="91.7" x2="78.1" y2="90.5" stroke="#2e8480" stroke-width="0.9"/>
<line x1="38.9" y1="100.6" x2="51.6" y2="99.6" stroke="#3a9a96" stroke-width="1.3"/>
<line x1="65.7" y1="89.3" x2="80.9" y2="86.8" stroke="#6ad6cc" stroke-width="1.0"/>
<line x1="23.9" y1="97.7" x2="32.5" y2="95.7" stroke="#3a9a96" stroke-width="1.0"/>
<line x1="130.4" y1="89.2" x2="145.3" y2="86.9" stroke="#6ad6cc" stroke-width="1.0"/>
<line x1="140.0" y1="88.2" x2="147.4" y2="87.7" stroke="#2e8480" stroke-width="1.1"/>
<line x1="62.1" y1="98.0" x2="67.6" y2="97.1" stroke="#2e8480" stroke-width="0.8"/>
<line x1="21.2" y1="95.2" x2="27.7" y2="94.7" stroke="#6ad6cc" stroke-width="0.8"/>
<line x1="47.6" y1="94.4" x2="62.1" y2="92.4" stroke="#5ccac2" stroke-width="1.2"/>
<line x1="0.3" y1="100.8" x2="5.5" y2="99.7" stroke="#6ad6cc" stroke-width="1.0"/>
<line x1="102.9" y1="87.2" x2="110.4" y2="85.7" stroke="#5ccac2" stroke-width="1.1"/>
<line x1="87.6" y1="92.9" x2="102.0" y2="90.2" stroke="#4cb8b0" stroke-width="0.9"/>
<line x1="-1.5" y1="103.2" x2="12.7" y2="101.5" stroke="#5ccac2" stroke-width="1.3"/>
<line x1="60.9" y1="96.2" x2="68.9" y2="95.1" stroke="#3a9a96" stroke-width="1.3"/>
<line x1="123.8" y1="90.3" x2="134.8" y2="88.4" stroke="#4cb8b0" stroke-width="0.9"/>
<line x1="50.9" y1="98.2" x2="57.1" y2="97.6" stroke="#3a9a96" stroke-width="0.9"/>
<line x1="36.4" y1="102.0" x2="51.2" y2="99.8" stroke="#3a9a96" stroke-width="1.1"/>
<line x1="21.9" y1="98.3" x2="30.0" y2="97.8" stroke="#5ccac2" stroke-width="0.9"/>
<line x1="104.1" y1="86.6" x2="113.6" y2="86.0" stroke="#2e8480" stroke-width="0.7"/>
<line x1="132.2" y1="83.5" x2="139.0" y2="82.8" stroke="#2e8480" stroke-width="0.8"/>
<line x1="137.9" y1="88.0" x2="143.9" y2="87.5" stroke="#3a9a96" stroke-width="0.9"/>
<line x1="81.8" y1="95.5" x2="88.6" y2="94.5" stroke="#5ccac2" stroke-width="0.8"/>
<line x1="70.8" y1="92.3" x2="81.9" y2="89.7" stroke="#3a9a96" stroke-width="1.0"/>
<line x1="52.4" y1="100.0" x2="64.0" y2="98.7" stroke="#6ad6cc" stroke-width="1.1"/>
<line x1="4.2" y1="97.8" x2="18.2" y2="94.7" stroke="#4cb8b0" stroke-width="1.0"/>
<line x1="79.4" y1="90.7" x2="85.7" y2="89.7" stroke="#6ad6cc" stroke-width="0.9"/>
<line x1="42.8" y1="111.1" x2="48.8" y2="109.7" stroke="#3a9a96" stroke-width="0.7"/>
<line x1="77.7" y1="110.7" x2="88.7" y2="109.0" stroke="#5ccac2" stroke-width="1.1"/>
<line x1="127.9" y1="103.5" x2="135.4" y2="102.2" stroke="#6ad6cc" stroke-width="1.2"/>
<line x1="0.6" y1="124.2" x2="9.6" y2="122.6" stroke="#5ccac2" stroke-width="0.9"/>
<line x1="139.4" y1="100.2" x2="146.3" y2="99.1" stroke="#6ad6cc" stroke-width="1.2"/>
<line x1="91.5" y1="110.3" x2="104.7" y2="108.6" stroke="#4cb8b0" stroke-width="0.9"/>
<line x1="57.6" y1="110.4" x2="66.1" y2="109.5" stroke="#5ccac2" stroke-width="1.1"/>
<line x1="3.6" y1="116.4" x2="12.8" y2="114.1" stroke="#3a9a96" stroke-width="0.9"/>
<line x1="30.4" y1="118.6" x2="40.4" y2="117.2" stroke="#2e8480" stroke-width="1.3"/>
<line x1="12.3" y1="112.9" x2="21.3" y2="112.5" stroke="#4cb8b0" stroke-width="1.0"/>
<line x1="99.1" y1="104.6" x2="104.5" y2="103.7" stroke="#3a9a96" stroke-width="1.0"/>
<line x1="22.6" y1="114.4" x2="33.9" y2="112.5" stroke="#2e8480" stroke-width="1.2"/>
<line x1="93.2" y1="108.3" x2="107.3" y2="106.8" stroke="#5ccac2" stroke-width="1.2"/>
<line x1="85.5" y1="102.3" x2="94.2" y2="101.1" stroke="#6ad6cc" stroke-width="1.0"/>
<line x1="6.4" y1="119.7" x2="14.8" y2="118.9" stroke="#3a9a96" stroke-width="0.9"/>
<line x1="102.8" y1="97.5" x2="113.4" y2="95.7" stroke="#2e8480" stroke-width="1.2"/>
<line x1="14.3" y1="118.7" x2="29.5" y2="115.9" stroke="#6ad6cc" stroke-width="1.0"/>
<line x1="-1.4" y1="122.8" x2="11.3" y2="120.9" stroke="#3a9a96" stroke-width="0.8"/>
<line x1="48.3" y1="109.5" x2="56.5" y2="108.8" stroke="#5ccac2" stroke-width="1.0"/>
<line x1="69.7" y1="104.4" x2="74.9" y2="103.5" stroke="#2e8480" stroke-width="0.7"/>
<line x1="133.5" y1="103.3" x2="147.6" y2="101.5" stroke="#3a9a96" stroke-width="1.1"/>
<line x1="38.8" y1="113.3" x2="43.8" y2="112.5" stroke="#5ccac2" stroke-width="1.3"/>
<line x1="7.9" y1="116.8" x2="16.7" y2="115.3" stroke="#2e8480" stroke-width="1.1"/>
<line x1="131.0" y1="92.3" x2="139.6" y2="90.4" stroke="#3a9a96" stroke-width="1.2"/>
<line x1="61.2" y1="113.1" x2="73.9" y2="111.5" stroke="#3a9a96" stroke-width="0.9"/>
<line x1="3.3" y1="121.5" x2="12.7" y2="120.6" stroke="#2e8480" stroke-width="0.9"/>
<line x1="85.8" y1="109.6" x2="93.3" y2="108.0" stroke="#5ccac2" stroke-width="1.2"/>
<line x1="58.5" y1="112.6" x2="70.2" y2="110.6" stroke="#2e8480" stroke-width="1.3"/>
<line x1="55.1" y1="133.0" x2="68.7" y2="132.1" stroke="#3a9a96" stroke-width="0.9"/>
<line x1="91.7" y1="126.0" x2="100.0" y2="125.2" stroke="#2e8480" stroke-width="1.3"/>
<line x1="107.9" y1="122.5" x2="118.7" y2="121.5" stroke="#4cb8b0" stroke-width="1.2"/>
<line x1="28.8" y1="131.1" x2="43.7" y2="127.5" stroke="#4cb8b0" stroke-width="1.0"/>
<line x1="46.1" y1="131.1" x2="54.9" y2="129.0" stroke="#6ad6cc" stroke-width="0.9"/>
<line x1="44.4" y1="124.6" x2="49.5" y2="124.2" stroke="#2e8480" stroke-width="1.3"/>
<line x1="49.8" y1="124.0" x2="57.4" y2="123.4" stroke="#2e8480" stroke-width="1.0"/>
<line x1="5.0" y1="137.1" x2="15.3" y2="135.9" stroke="#3a9a96" stroke-width="0.8"/>
<line x1="139.4" y1="118.3" x2="147.3" y2="116.8" stroke="#5ccac2" stroke-width="1.3"/>
<line x1="140.2" y1="115.7" x2="151.7" y2="113.2" stroke="#3a9a96" stroke-width="1.3"/>
<line x1="117.4" y1="117.6" x2="127.1" y2="115.6" stroke="#3a9a96" stroke-width="0.8"/>
<line x1="128.5" y1="122.7" x2="143.2" y2="120.0" stroke="#6ad6cc" stroke-width="0.7"/>
<line x1="9.0" y1="134.8" x2="15.0" y2="134.0" stroke="#2e8480" stroke-width="1.0"/>
<line x1="7.7" y1="135.3" x2="16.0" y2="133.2" stroke="#3a9a96" stroke-width="1.2"/>
<line x1="-7.1" y1="138.9" x2="3.6" y2="137.3" stroke="#2e8480" stroke-width="1.1"/>
<line x1="-6.6" y1="136.5" x2="1.9" y2="135.8" stroke="#4cb8b0" stroke-width="1.0"/>
<line x1="29.6" y1="132.9" x2="41.7" y2="130.5" stroke="#4cb8b0" stroke-width="1.3"/>
<line x1="106.6" y1="123.9" x2="120.3" y2="122.8" stroke="#4cb8b0" stroke-width="0.8"/>
<line x1="22.9" y1="135.1" x2="33.8" y2="133.5" stroke="#5ccac2" stroke-width="0.7"/>
<line x1="37.6" y1="130.1" x2="52.0" y2="128.0" stroke="#5ccac2" stroke-width="1.2"/>
<line x1="45.5" y1="134.1" x2="53.0" y2="133.1" stroke="#5ccac2" stroke-width="1.1"/>
<line x1="15.4" y1="139.2" x2="28.1" y2="136.9" stroke="#6ad6cc" stroke-width="1.1"/>
<line x1="137.4" y1="120.9" x2="151.8" y2="119.4" stroke="#2e8480" stroke-width="0.9"/>
<line x1="70.2" y1="124.5" x2="83.5" y2="121.8" stroke="#4cb8b0" stroke-width="1.3"/>
<line x1="16.9" y1="139.9" x2="28.7" y2="138.9" stroke="#2e8480" stroke-width="1.0"/>
<line x1="42.2" y1="136.0" x2="54.4" y2="133.8" stroke="#5ccac2" stroke-width="1.1"/>
<line x1="42.3" y1="133.6" x2="51.3" y2="132.3" stroke="#2e8480" stroke-width="0.8"/>
<line x1="-1.2" y1="138.7" x2="8.2" y2="136.9" stroke="#3a9a96" stroke-width="1.0"/>
<line x1="132.5" y1="100.6" x2="144.6" y2="96.6" stroke="#226260" stroke-width="0.8"/>
<line x1="58.9" y1="2.2" x2="69.1" y2="1.8" stroke="#2a7a78" stroke-width="0.9"/>
<line x1="113.4" y1="15.6" x2="124.3" y2="15.1" stroke="#348e8a" stroke-width="0.9"/>
<line x1="124.2" y1="58.3" x2="131.8" y2="56.5" stroke="#2a7a78" stroke-width="0.6"/>
<line x1="11.2" y1="16.5" x2="19.1" y2="15.6" stroke="#226260" stroke-width="0.9"/>
<line x1="108.0" y1="143.9" x2="115.2" y2="142.2" stroke="#226260" stroke-width="0.9"/>
<line x1="75.3" y1="35.9" x2="83.8" y2="35.1" stroke="#226260" stroke-width="1.0"/>
<line x1="107.4" y1="72.3" x2="115.0" y2="70.2" stroke="#348e8a" stroke-width="1.0"/>
<line x1="20.7" y1="91.9" x2="25.9" y2="91.5" stroke="#348e8a" stroke-width="0.8"/>
<line x1="92.3" y1="29.3" x2="105.0" y2="28.1" stroke="#2a7a78" stroke-width="0.7"/>
<line x1="49.8" y1="126.8" x2="55.0" y2="126.3" stroke="#226260" stroke-width="1.0"/>
<line x1="103.5" y1="33.2" x2="113.6" y2="31.3" stroke="#226260" stroke-width="0.8"/>
<line x1="119.6" y1="46.1" x2="131.4" y2="43.8" stroke="#2a7a78" stroke-width="1.1"/>
<line x1="35.8" y1="-2.8" x2="47.9" y2="-5.6" stroke="#226260" stroke-width="1.0"/>
<line x1="143.9" y1="2.4" x2="157.4" y2="1.7" stroke="#2a7a78" stroke-width="1.0"/>
<line x1="67.1" y1="1.3" x2="76.9" y2="-1.8" stroke="#226260" stroke-width="1.0"/>
<line x1="135.8" y1="51.8" x2="148.1" y2="50.3" stroke="#348e8a" stroke-width="0.6"/>
<line x1="-1.4" y1="53.1" x2="12.0" y2="51.8" stroke="#2a7a78" stroke-width="0.9"/>
<line x1="117.4" y1="20.2" x2="127.7" y2="16.7" stroke="#2a7a78" stroke-width="0.9"/>
<line x1="55.4" y1="11.1" x2="63.1" y2="9.3" stroke="#2a7a78" stroke-width="0.8"/>
<line x1="139.2" y1="107.8" x2="144.5" y2="106.1" stroke="#348e8a" stroke-width="0.9"/>
<line x1="59.5" y1="94.9" x2="66.9" y2="93.8" stroke="#226260" stroke-width="1.0"/>
<line x1="85.5" y1="37.5" x2="93.8" y2="35.0" stroke="#348e8a" stroke-width="1.1"/>
<line x1="20.4" y1="100.6" x2="27.5" y2="99.5" stroke="#2a7a78" stroke-width="0.9"/>
<line x1="49.0" y1="46.4" x2="60.3" y2="44.5" stroke="#348e8a" stroke-width="1.0"/>
<line x1="52.5" y1="98.3" x2="57.4" y2="96.6" stroke="#2a7a78" stroke-width="0.7"/>
<line x1="20.3" y1="-0.4" x2="32.7" y2="-0.6" stroke="#2a7a78" stroke-width="0.7"/>
<line x1="20.5" y1="43.9" x2="30.1" y2="43.9" stroke="#226260" stroke-width="1.0"/>
<line x1="99.1" y1="42.1" x2="110.4" y2="40.4" stroke="#226260" stroke-width="1.0"/>
<line x1="80.7" y1="55.3" x2="93.1" y2="54.9" stroke="#226260" stroke-width="1.0"/>
<line x1="4.0" y1="122.4" x2="10.8" y2="120.8" stroke="#226260" stroke-width="0.9"/>
<line x1="126.3" y1="28.5" x2="140.1" y2="27.4" stroke="#226260" stroke-width="0.7"/>
<line x1="87.5" y1="62.8" x2="100.5" y2="60.4" stroke="#348e8a" stroke-width="0.8"/>
<line x1="107.7" y1="101.7" x2="112.9" y2="101.3" stroke="#348e8a" stroke-width="0.6"/>
<line x1="49.9" y1="70.0" x2="61.8" y2="69.7" stroke="#348e8a" stroke-width="0.8"/>
<line x1="37.4" y1="54.5" x2="43.2" y2="53.1" stroke="#2a7a78" stroke-width="0.8"/>
<line x1="46.9" y1="39.1" x2="56.5" y2="37.6" stroke="#226260" stroke-width="1.1"/>
<line x1="35.1" y1="78.6" x2="47.0" y2="75.2" stroke="#2a7a78" stroke-width="1.1"/>
<line x1="83.2" y1="103.0" x2="92.3" y2="102.3" stroke="#2a7a78" stroke-width="0.7"/>
<line x1="46.2" y1="127.2" x2="59.0" y2="123.0" stroke="#348e8a" stroke-width="0.8"/>
<line x1="50.3" y1="124.7" x2="63.0" y2="123.8" stroke="#2a7a78" stroke-width="1.0"/>
<line x1="78.7" y1="32.1" x2="85.9" y2="32.0" stroke="#2a7a78" stroke-width="0.9"/>
<line x1="79.2" y1="81.6" x2="84.7" y2="80.2" stroke="#2a7a78" stroke-width="0.9"/>
<line x1="53.9" y1="93.8" x2="65.5" y2="90.3" stroke="#348e8a" stroke-width="1.0"/>
<line x1="81.0" y1="-0.4" x2="92.5" y2="-4.0" stroke="#226260" stroke-width="0.6"/>
<line x1="37.6" y1="111.5" x2="46.1" y2="109.6" stroke="#2a7a78" stroke-width="1.0"/>
<line x1="66.3" y1="55.3" x2="76.8" y2="51.6" stroke="#348e8a" stroke-width="0.7"/>
<line x1="-0.5" y1="97.4" x2="12.5" y2="92.8" stroke="#2a7a78" stroke-width="0.9"/>
<line x1="102.3" y1="53.6" x2="107.1" y2="52.2" stroke="#348e8a" stroke-width="0.9"/>
<line x1="18.9" y1="105.3" x2="32.1" y2="100.6" stroke="#226260" stroke-width="0.7"/>
<line x1="23.9" y1="94.9" x2="30.7" y2="94.8" stroke="#348e8a" stroke-width="0.8"/>
<line x1="138.5" y1="-1.9" x2="148.0" y2="-3.3" stroke="#348e8a" stroke-width="1.1"/>
<line x1="22.1" y1="85.9" x2="33.1" y2="84.3" stroke="#2a7a78" stroke-width="0.6"/>
<line x1="27.8" y1="23.6" x2="38.8" y2="23.4" stroke="#2a7a78" stroke-width="0.8"/>
<line x1="75.4" y1="5.9" x2="84.3" y2="4.4" stroke="#226260" stroke-width="0.9"/>
<line x1="129.0" y1="125.9" x2="142.7" y2="125.7" stroke="#348e8a" stroke-width="1.1"/>
<line x1="17.2" y1="22.2" x2="23.8" y2="21.9" stroke="#226260" stroke-width="1.0"/>
<line x1="55.4" y1="8.5" x2="64.7" y2="8.1" stroke="#2a7a78" stroke-width="0.7"/>
<line x1="92.0" y1="6.9" x2="105.7" y2="4.9" stroke="#2a7a78" stroke-width="0.8"/>
<line x1="73.8" y1="24.5" x2="83.4" y2="24.4" stroke="#2a7a78" stroke-width="0.9"/>
<line x1="61.9" y1="103.3" x2="67.7" y2="102.8" stroke="#348e8a" stroke-width="0.7"/>
<line x1="-9.2" y1="27.7" x2="3.7" y2="25.9" stroke="#2a7a78" stroke-width="1.0"/>
<line x1="116.4" y1="69.4" x2="125.3" y2="66.7" stroke="#348e8a" stroke-width="1.0"/>
<line x1="80.0" y1="41.8" x2="90.5" y2="39.4" stroke="#2a7a78" stroke-width="1.1"/>
<line x1="34.7" y1="55.6" x2="48.5" y2="55.4" stroke="#2a7a78" stroke-width="0.6"/>
<line x1="142.8" y1="13.0" x2="148.8" y2="11.5" stroke="#2a7a78" stroke-width="1.1"/>
<line x1="142.1" y1="1.6" x2="155.1" y2="-1.9" stroke="#348e8a" stroke-width="0.7"/>
<line x1="26.1" y1="137.0" x2="38.3" y2="134.5" stroke="#2a7a78" stroke-width="0.8"/>
<line x1="32.5" y1="89.9" x2="41.8" y2="87.4" stroke="#226260" stroke-width="0.7"/>
<line x1="2.0" y1="82.2" x2="9.1" y2="81.0" stroke="#226260" stroke-width="0.9"/>
<line x1="136.9" y1="1.6" x2="143.3" y2="1.5" stroke="#348e8a" stroke-width="0.7"/>
<line x1="50.6" y1="10.2" x2="57.3" y2="9.3" stroke="#2a7a78" stroke-width="0.8"/>
<line x1="21.9" y1="140.7" x2="32.5" y2="138.3" stroke="#348e8a" stroke-width="0.8"/>
<line x1="100.5" y1="98.1" x2="112.0" y2="95.6" stroke="#348e8a" stroke-width="0.6"/>
<line x1="-0.5" y1="137.3" x2="8.5" y2="137.2" stroke="#2a7a78" stroke-width="0.8"/>
<line x1="103.3" y1="110.5" x2="117.1" y2="109.7" stroke="#226260" stroke-width="0.6"/>
<line x1="136.3" y1="46.9" x2="150.2" y2="46.1" stroke="#348e8a" stroke-width="0.7"/>
<line x1="71.2" y1="9.4" x2="78.7" y2="8.2" stroke="#348e8a" stroke-width="1.0"/>
<line x1="26.8" y1="85.8" x2="36.2" y2="84.0" stroke="#226260" stroke-width="0.8"/>
<line x1="22.8" y1="108.8" x2="34.0" y2="105.9" stroke="#226260" stroke-width="0.9"/>
<line x1="68.6" y1="74.5" x2="76.3" y2="74.3" stroke="#348e8a" stroke-width="0.8"/>
<line x1="22.0" y1="82.7" x2="33.8" y2="80.4" stroke="#348e8a" stroke-width="0.7"/>
<line x1="26.6" y1="129.0" x2="35.6" y2="125.8" stroke="#2a7a78" stroke-width="0.9"/>
<line x1="-7.6" y1="130.6" x2="0.5" y2="128.0" stroke="#348e8a" stroke-width="0.9"/>
<line x1="82.5" y1="26.1" x2="88.2" y2="24.7" stroke="#226260" stroke-width="0.8"/>
<line x1="140.7" y1="85.4" x2="149.7" y2="84.3" stroke="#2a7a78" stroke-width="0.8"/>
<line x1="49.7" y1="78.4" x2="61.6" y2="74.8" stroke="#348e8a" stroke-width="1.0"/>
<line x1="11.7" y1="82.3" x2="25.3" y2="80.9" stroke="#2a7a78" stroke-width="0.7"/>
<line x1="132.9" y1="96.2" x2="138.7" y2="95.7" stroke="#226260" stroke-width="0.8"/>
<line x1="93.3" y1="-1.9" x2="103.1" y2="-4.8" stroke="#226260" stroke-width="0.7"/>
<line x1="74.3" y1="103.6" x2="87.4" y2="100.7" stroke="#2a7a78" stroke-width="0.8"/>
<line x1="142.7" y1="118.9" x2="152.9" y2="118.7" stroke="#2a7a78" stroke-width="0.6"/>
<line x1="54.9" y1="44.2" x2="64.6" y2="41.1" stroke="#348e8a" stroke-width="1.0"/>
<line x1="14.0" y1="60.1" x2="25.9" y2="57.5" stroke="#2a7a78" stroke-width="1.0"/>
<line x1="82.7" y1="79.9" x2="90.0" y2="79.6" stroke="#226260" stroke-width="0.9"/>
<line x1="132.8" y1="24.6" x2="145.4" y2="23.5" stroke="#226260" stroke-width="1.0"/>
<line x1="93.5" y1="52.6" x2="103.1" y2="51.0" stroke="#2a7a78" stroke-width="1.0"/>
<line x1="4.4" y1="108.1" x2="14.1" y2="106.3" stroke="#226260" stroke-width="1.0"/>
<line x1="-4.3" y1="59.5" x2="3.5" y2="57.9" stroke="#226260" stroke-width="0.8"/>
<line x1="77.3" y1="9.9" x2="89.9" y2="6.9" stroke="#2a7a78" stroke-width="0.6"/>
<line x1="127.8" y1="-0.1" x2="133.0" y2="-1.9" stroke="#2a7a78" stroke-width="0.7"/>
<line x1="-4.3" y1="54.5" x2="3.9" y2="54.5" stroke="#348e8a" stroke-width="0.8"/>
<line x1="93.3" y1="55.8" x2="102.5" y2="55.1" stroke="#2a7a78" stroke-width="0.7"/>
<line x1="124.2" y1="96.0" x2="134.8" y2="95.0" stroke="#2a7a78" stroke-width="0.9"/>
<line x1="2.6" y1="112.2" x2="8.6" y2="110.9" stroke="#348e8a" stroke-width="0.9"/>
<line x1="33.2" y1="26.3" x2="42.7" y2="26.1" stroke="#2a7a78" stroke-width="1.0"/>
<line x1="101.1" y1="60.3" x2="111.4" y2="57.3" stroke="#348e8a" stroke-width="0.7"/>
<line x1="93.3" y1="37.8" x2="104.1" y2="33.9" stroke="#2a7a78" stroke-width="1.0"/>
<line x1="71.5" y1="97.9" x2="85.2" y2="96.9" stroke="#2a7a78" stroke-width="0.9"/>
<line x1="119.1" y1="55.0" x2="130.2" y2="52.4" stroke="#226260" stroke-width="0.7"/>
<ellipse transform="translate(60.5,27.6) rotate(4)" rx="4.1" ry="1.9" fill="#6430ec"/>
<ellipse transform="translate(95.2,106.2) rotate(-1)" rx="2.9" ry="2.3" fill="#4a1ee8"/>
<ellipse transform="translate(90.5,123.7) rotate(-14)" rx="3.9" ry="2.0" fill="#3c18c8"/>
<ellipse transform="translate(61.2,107.7) rotate(-9)" rx="3.3" ry="2.1" fill="#6430ec"/>
<ellipse transform="translate(59.6,41.1) rotate(-18)" rx="3.4" ry="2.0" fill="#3c18c8"/>
<ellipse transform="translate(59.3,9.0) rotate(-24)" rx="3.5" ry="2.7" fill="#5a28f4"/>
<ellipse transform="translate(87.2,111.5) rotate(-16)" rx="2.9" ry="2.0" fill="#4a1ee8"/>
<ellipse transform="translate(60.2,125.4) rotate(-23)" rx="3.1" ry="1.9" fill="#6430ec"/>
<ellipse transform="translate(32.5,72.9) rotate(1)" rx="3.5" ry="2.3" fill="#6430ec"/>
<ellipse transform="translate(74.5,53.9) rotate(-25)" rx="3.9" ry="2.5" fill="#5a28f4"/>
<ellipse transform="translate(16.5,61.3) rotate(-15)" rx="2.9" ry="2.0" fill="#4a1ee8"/>
<ellipse transform="translate(36.1,93.8) rotate(-21)" rx="2.9" ry="2.6" fill="#6430ec"/>
<ellipse transform="translate(13.3,45.3) rotate(-7)" rx="3.2" ry="2.6" fill="#5a28f4"/>
<ellipse transform="translate(80.3,120.2) rotate(-9)" rx="3.6" ry="2.2" fill="#5a28f4"/>
<ellipse transform="translate(72.5,113.6) rotate(-24)" rx="3.3" ry="2.3" fill="#6430ec"/>
<ellipse transform="translate(102.9,103.2) rotate(-4)" rx="3.7" ry="2.6" fill="#6430ec"/>
<ellipse transform="translate(75.0,2.2) rotate(-3)" rx="3.0" ry="2.4" fill="#5a28f4"/>
<ellipse transform="translate(128.5,-1.0) rotate(-15)" rx="3.8" ry="1.8" fill="#6430ec"/>
<ellipse transform="translate(50.9,102.6) rotate(-8)" rx="4.0" ry="1.8" fill="#4a1ee8"/>
<ellipse transform="translate(26.3,134.3) rotate(-11)" rx="3.4" ry="2.3" fill="#3c18c8"/>
<ellipse transform="translate(142.3,90.2) rotate(1)" rx="3.2" ry="2.3" fill="#3c18c8"/>
<ellipse transform="translate(13.2,103.0) rotate(-14)" rx="3.7" ry="2.7" fill="#6430ec"/>
<ellipse transform="translate(67.4,53.5) rotate(-16)" rx="2.9" ry="2.2" fill="#6430ec"/>
<ellipse transform="translate(13.4,13.2) rotate(-10)" rx="3.3" ry="2.3" fill="#3c18c8"/>
<ellipse transform="translate(82.7,65.5) rotate(-12)" rx="3.2" ry="2.0" fill="#6430ec"/>
<ellipse transform="translate(38.3,42.6) rotate(-11)" rx="3.7" ry="2.0" fill="#5a28f4"/>
<ellipse transform="translate(61.3,65.5) rotate(-24)" rx="3.7" ry="2.4" fill="#4a1ee8"/>
<ellipse transform="translate(75.0,25.0) rotate(-21)" rx="3.7" ry="2.2" fill="#3c18c8"/>
<ellipse transform="translate(35.3,134.6) rotate(-24)" rx="4.1" ry="2.1" fill="#5a28f4"/>
<ellipse transform="translate(87.4,98.0) rotate(-15)" rx="3.6" ry="2.1" fill="#3c18c8"/>
<ellipse transform="translate(31.2,19.5) rotate(4)" rx="4.1" ry="2.1" fill="#3c18c8"/>
<ellipse transform="translate(130.1,4.7) rotate(-1)" rx="3.4" ry="2.2" fill="#3c18c8"/>
<ellipse transform="translate(37.9,121.3) rotate(-10)" rx="3.3" ry="2.1" fill="#4a1ee8"/>
<ellipse transform="translate(133.1,122.2) rotate(-4)" rx="3.6" ry="2.0" fill="#3c18c8"/>
<ellipse transform="translate(95.8,115.2) rotate(-22)" rx="4.1" ry="2.1" fill="#6430ec"/>
<ellipse transform="translate(61.0,84.0) rotate(-2)" rx="3.5" ry="1.9" fill="#3c18c8"/>
<ellipse transform="translate(22.3,106.2) rotate(-20)" rx="2.8" ry="1.9" fill="#5a28f4"/>
<ellipse transform="translate(22.5,50.6) rotate(3)" rx="3.7" ry="2.0" fill="#4a1ee8"/>
<ellipse transform="translate(139.0,118.8) rotate(3)" rx="4.2" ry="2.2" fill="#4a1ee8"/>
<ellipse transform="translate(135.8,75.0) rotate(-6)" rx="3.8" ry="2.3" fill="#4a1ee8"/>
<ellipse transform="translate(125.4,2.5) rotate(-10)" rx="3.4" ry="2.1" fill="#3c18c8"/>
<ellipse transform="translate(53.3,48.8) rotate(-9)" rx="3.8" ry="2.4" fill="#4a1ee8"/>
<ellipse transform="translate(127.6,142.3) rotate(-10)" rx="3.5" ry="2.4" fill="#3c18c8"/>
<ellipse transform="translate(117.1,68.0) rotate(4)" rx="3.5" ry="2.6" fill="#3c18c8"/>
<ellipse transform="translate(52.8,32.0) rotate(-1)" rx="3.2" ry="2.4" fill="#5a28f4"/>
<ellipse transform="translate(141.4,70.3) rotate(-17)" rx="4.0" ry="2.6" fill="#6430ec"/>
<ellipse transform="translate(140.7,140.2) rotate(-21)" rx="3.8" ry="2.3" fill="#6430ec"/>
<ellipse transform="translate(82.8,55.0) rotate(-23)" rx="3.0" ry="2.3" fill="#5a28f4"/>
<ellipse transform="translate(43.3,72.6) rotate(-9)" rx="3.6" ry="2.6" fill="#6430ec"/>
<ellipse transform="translate(87.8,73.7) rotate(-18)" rx="3.2" ry="1.9" fill="#3c18c8"/>
<ellipse transform="translate(9.5,64.1) rotate(-15)" rx="3.5" ry="2.0" fill="#6430ec"/>
<ellipse transform="translate(123.3,65.3) rotate(-23)" rx="3.7" ry="2.0" fill="#6430ec"/>
<ellipse transform="translate(31.1,63.4) rotate(-24)" rx="3.2" ry="2.2" fill="#4a1ee8"/>
<ellipse transform="translate(126.8,85.1) rotate(4)" rx="4.1" ry="2.1" fill="#3c18c8"/>
<ellipse transform="translate(114.3,136.5) rotate(-25)" rx="3.6" ry="1.9" fill="#3c18c8"/>
<ellipse transform="translate(3.0,129.7) rotate(-23)" rx="3.7" ry="2.7" fill="#6430ec"/>
<ellipse transform="translate(75.0,128.4) rotate(-14)" rx="4.0" ry="2.3" fill="#3c18c8"/>
<ellipse transform="translate(131.9,30.2) rotate(-13)" rx="3.6" ry="1.9" fill="#4a1ee8"/>
<ellipse transform="translate(20.9,9.9) rotate(-24)" rx="3.1" ry="1.8" fill="#3c18c8"/>
<ellipse transform="translate(111.2,7.6) rotate(-11)" rx="4.0" ry="2.7" fill="#3c18c8"/>
<ellipse transform="translate(55.9,71.9) rotate(-6)" rx="3.3" ry="2.1" fill="#5a28f4"/>
<ellipse transform="translate(59.5,107.7) rotate(-17)" rx="4.1" ry="2.5" fill="#4a1ee8"/>
<ellipse transform="translate(60.3,92.8) rotate(3)" rx="2.9" ry="2.2" fill="#5a28f4"/>
<ellipse transform="translate(56.9,72.2) rotate(-22)" rx="3.7" ry="2.6" fill="#4a1ee8"/>
<ellipse transform="translate(80.7,70.6) rotate(-21)" rx="3.8" ry="2.5" fill="#5a28f4"/>
<ellipse transform="translate(60.3,57.3) rotate(-6)" rx="3.5" ry="2.3" fill="#3c18c8"/>
<ellipse transform="translate(19.9,67.7) rotate(-9)" rx="3.4" ry="2.0" fill="#4a1ee8"/>
<ellipse transform="translate(123.2,7.6) rotate(-4)" rx="3.4" ry="2.2" fill="#6430ec"/>
<ellipse transform="translate(40.9,143.0) rotate(-23)" rx="3.6" ry="1.8" fill="#4a1ee8"/>
<ellipse transform="translate(121.4,24.9) rotate(-14)" rx="2.8" ry="1.8" fill="#6430ec"/>
<ellipse transform="translate(76.2,129.6) rotate(-4)" rx="3.7" ry="2.4" fill="#4a1ee8"/>
<ellipse transform="translate(1.3,80.2) rotate(-8)" rx="3.0" ry="2.6" fill="#6430ec"/>
<ellipse transform="translate(45.1,131.9) rotate(-24)" rx="3.6" ry="2.5" fill="#4a1ee8"/>
<ellipse transform="translate(8.4,80.4) rotate(5)" rx="3.7" ry="2.5" fill="#3c18c8"/>
<ellipse transform="translate(66.3,14.5) rotate(2)" rx="3.5" ry="2.1" fill="#6430ec"/>
<ellipse transform="translate(16.6,108.1) rotate(-9)" rx="3.6" ry="2.3" fill="#5a28f4"/>
<ellipse transform="translate(73.9,9.1) rotate(-2)" rx="2.9" ry="2.0" fill="#3c18c8"/>
<ellipse transform="translate(132.4,17.4) rotate(-22)" rx="3.3" ry="1.8" fill="#6430ec"/>
<ellipse transform="translate(105.7,117.3) rotate(4)" rx="3.1" ry="2.5" fill="#3c18c8"/>
<ellipse transform="translate(53.2,92.2) rotate(-12)" rx="3.9" ry="1.8" fill="#5a28f4"/>
<ellipse transform="translate(39.6,102.9) rotate(3)" rx="3.3" ry="2.6" fill="#3c18c8"/>
<ellipse transform="translate(55.9,92.9) rotate(-14)" rx="3.6" ry="2.3" fill="#4a1ee8"/>
<ellipse transform="translate(121.1,114.0) rotate(-7)" rx="4.2" ry="2.6" fill="#3c18c8"/>
<ellipse transform="translate(38.0,59.3) rotate(-5)" rx="3.2" ry="1.9" fill="#4a1ee8"/>
<ellipse transform="translate(73.7,24.1) rotate(-3)" rx="3.1" ry="2.2" fill="#5a28f4"/>
<ellipse transform="translate(76.5,139.3) rotate(1)" rx="3.0" ry="1.9" fill="#5a28f4"/>
<ellipse transform="translate(137.5,130.4) rotate(-15)" rx="3.6" ry="2.4" fill="#4a1ee8"/>
<ellipse transform="translate(111.5,5.0) rotate(3)" rx="3.5" ry="2.7" fill="#4a1ee8"/>
<ellipse transform="translate(23.6,49.3) rotate(-24)" rx="3.4" ry="2.4" fill="#6430ec"/>
<ellipse transform="translate(131.8,19.8) rotate(-8)" rx="3.1" ry="2.6" fill="#3c18c8"/>
<ellipse transform="translate(68.3,50.4) rotate(-13)" rx="3.8" ry="2.2" fill="#5a28f4"/>
<ellipse transform="translate(49.8,117.2) rotate(-22)" rx="2.9" ry="2.7" fill="#4a1ee8"/>
<ellipse transform="translate(50.8,75.1) rotate(-5)" rx="2.9" ry="2.4" fill="#4a1ee8"/>
<ellipse transform="translate(5.8,59.3) rotate(-15)" rx="2.9" ry="2.4" fill="#6430ec"/>
<ellipse transform="translate(67.9,64.5) rotate(-8)" rx="3.3" ry="2.7" fill="#6430ec"/>
<ellipse transform="translate(142.3,101.8) rotate(-10)" rx="3.7" ry="2.7" fill="#3c18c8"/>
<ellipse transform="translate(119.7,59.9) rotate(-10)" rx="3.2" ry="2.5" fill="#4a1ee8"/>
<ellipse transform="translate(100.4,111.4) rotate(-19)" rx="3.1" ry="2.2" fill="#6430ec"/>
<ellipse transform="translate(125.9,75.5) rotate(-12)" rx="3.0" ry="2.1" fill="#3c18c8"/>
<ellipse transform="translate(53.7,3.9) rotate(-6)" rx="3.2" ry="2.3" fill="#4a1ee8"/>
<ellipse transform="translate(37.4,131.5) rotate(-23)" rx="3.1" ry="2.2" fill="#6430ec"/>
<ellipse transform="translate(77.1,136.2) rotate(1)" rx="3.1" ry="2.5" fill="#3c18c8"/>
<ellipse transform="translate(120.5,15.3) rotate(-14)" rx="3.3" ry="2.4" fill="#3c18c8"/>
<ellipse transform="translate(139.2,107.8) rotate(-10)" rx="2.9" ry="1.8" fill="#4a1ee8"/>
<ellipse transform="translate(142.4,76.9) rotate(-3)" rx="3.6" ry="2.1" fill="#6430ec"/>
<ellipse transform="translate(35.4,111.8) rotate(-11)" rx="4.4" ry="3.0" fill="#d82ae0"/>
<ellipse transform="translate(56.6,38.2) rotate(-3)" rx="3.9" ry="3.6" fill="#d82ae0"/>
<ellipse transform="translate(41.0,129.7) rotate(-10)" rx="4.3" ry="3.6" fill="#cc24d8"/>
<ellipse transform="translate(48.8,121.9) rotate(-1)" rx="3.6" ry="3.5" fill="#cc24d8"/>
<ellipse transform="translate(26.3,84.3) rotate(-11)" rx="5.3" ry="3.1" fill="#d82ae0"/>
<ellipse transform="translate(35.1,126.8) rotate(-6)" rx="3.4" ry="2.7" fill="#c020d0"/>
<ellipse transform="translate(136.1,27.3) rotate(1)" rx="5.2" ry="3.3" fill="#e038e8"/>
<ellipse transform="translate(108.5,101.8) rotate(-10)" rx="3.7" ry="2.4" fill="#cc24d8"/>
<ellipse transform="translate(132.6,37.2) rotate(-7)" rx="3.7" ry="2.9" fill="#c020d0"/>
<ellipse transform="translate(13.3,72.5) rotate(-23)" rx="4.5" ry="3.1" fill="#cc24d8"/>
<ellipse transform="translate(28.2,111.7) rotate(-7)" rx="5.0" ry="2.8" fill="#cc24d8"/>
<ellipse transform="translate(110.7,124.2) rotate(-5)" rx="4.4" ry="2.4" fill="#e038e8"/>
<ellipse transform="translate(98.2,93.5) rotate(-8)" rx="5.3" ry="3.3" fill="#e038e8"/>
<ellipse transform="translate(57.5,107.7) rotate(-22)" rx="4.2" ry="2.4" fill="#d82ae0"/>
<ellipse transform="translate(104.1,135.3) rotate(2)" rx="3.7" ry="3.0" fill="#cc24d8"/>
<ellipse transform="translate(117.8,99.3) rotate(-23)" rx="4.1" ry="2.8" fill="#e038e8"/>
<ellipse transform="translate(123.3,57.1) rotate(-6)" rx="4.7" ry="3.1" fill="#c020d0"/>
</g>
<line x1="70.5" y1="130.2" x2="136.6" y2="130.2" stroke="#e8e8e8" stroke-width="1.3"/>
</svg>
<text x="165.0" y="199.0" font-size="9.8" font-weight="bold" fill="#5a84e0" text-anchor="start" font-family='"Liberation Serif", serif' textLength="35.0" lengthAdjust="spacingAndGlyphs" >Hoechst</text>
<text x="202.5" y="199.0" font-size="9.8" font-weight="bold" fill="#e848e0" text-anchor="start" font-family='"Liberation Serif", serif' textLength="31.5" lengthAdjust="spacingAndGlyphs" >OLIG2</text>
<text x="236.0" y="199.0" font-size="9.8" font-weight="bold" fill="#b0eaf0" text-anchor="start" font-family='"Liberation Serif", serif' textLength="24.0" lengthAdjust="spacingAndGlyphs" >MBP</text>
<svg x="297.0" y="185.0" width="144.0" height="141.3" overflow="hidden">
<rect width="144.0" height="141.3" fill="#c8c8c8"/>
<circle cx="58.8" cy="76.6" r="3.1" fill="#d6d6d6" stroke="#484848" stroke-width="0.5"/>
<circle cx="25.4" cy="31.8" r="1.3" fill="#d6d6d6" stroke="#484848" stroke-width="0.5"/>
<circle cx="16.8" cy="1.2" r="1.5" fill="#d6d6d6" stroke="#484848" stroke-width="0.5"/>
<circle cx="74.0" cy="139.8" r="2.7" fill="#d6d6d6" stroke="#484848" stroke-width="0.5"/>
<circle cx="54.5" cy="57.2" r="2.7" fill="#d6d6d6" stroke="#484848" stroke-width="0.5"/>
<circle cx="47.0" cy="10.4" r="3.1" fill="#d6d6d6" stroke="#484848" stroke-width="0.5"/>
<circle cx="88.9" cy="15.8" r="1.4" fill="#d6d6d6" stroke="#484848" stroke-width="0.5"/>
<circle cx="13.6" cy="135.5" r="1.4" fill="#d6d6d6" stroke="#484848" stroke-width="0.5"/>
<circle cx="90.0" cy="137.0" r="1.3" fill="#d6d6d6" stroke="#484848" stroke-width="0.5"/>
<circle cx="55.6" cy="67.4" r="3.2" fill="#d6d6d6" stroke="#484848" stroke-width="0.5"/>
<circle cx="27.2" cy="36.5" r="1.7" fill="#d6d6d6" stroke="#484848" stroke-width="0.5"/>
<circle cx="7.1" cy="95.2" r="3.0" fill="#d6d6d6" stroke="#484848" stroke-width="0.5"/>
<circle cx="62.8" cy="5.3" r="2.8" fill="#d6d6d6" stroke="#484848" stroke-width="0.5"/>
<circle cx="106.1" cy="92.3" r="1.9" fill="#d6d6d6" stroke="#484848" stroke-width="0.5"/>
<circle cx="119.6" cy="89.1" r="2.5" fill="#d6d6d6" stroke="#484848" stroke-width="0.5"/>
<circle cx="77.8" cy="33.0" r="2.2" fill="#d6d6d6" stroke="#484848" stroke-width="0.5"/>
<circle cx="114.3" cy="96.6" r="2.0" fill="#d6d6d6" stroke="#484848" stroke-width="0.5"/>
<circle cx="118.0" cy="118.6" r="1.3" fill="#d6d6d6" stroke="#484848" stroke-width="0.5"/>
<circle cx="22.6" cy="31.5" r="1.2" fill="#d6d6d6" stroke="#484848" stroke-width="0.5"/>
<circle cx="108.5" cy="91.4" r="2.4" fill="#d6d6d6" stroke="#484848" stroke-width="0.5"/>
<circle cx="143.2" cy="50.4" r="1.6" fill="#d6d6d6" stroke="#484848" stroke-width="0.5"/>
<circle cx="16.1" cy="48.1" r="3.0" fill="#d6d6d6" stroke="#484848" stroke-width="0.5"/>
<circle cx="87.4" cy="8.4" r="2.2" fill="#d6d6d6" stroke="#484848" stroke-width="0.5"/>
<circle cx="6.9" cy="88.0" r="1.5" fill="#d6d6d6" stroke="#484848" stroke-width="0.5"/>
<circle cx="25.8" cy="90.8" r="3.0" fill="#d6d6d6" stroke="#484848" stroke-width="0.5"/>
<circle cx="89.2" cy="41.5" r="2.6" fill="#d6d6d6" stroke="#484848" stroke-width="0.5"/>
<circle cx="39.2" cy="1.0" r="1.8" fill="#d6d6d6" stroke="#484848" stroke-width="0.5"/>
<circle cx="99.1" cy="88.5" r="1.6" fill="#d6d6d6" stroke="#484848" stroke-width="0.5"/>
<circle cx="121.0" cy="117.4" r="1.8" fill="#d6d6d6" stroke="#484848" stroke-width="0.5"/>
<circle cx="138.4" cy="37.1" r="1.3" fill="#d6d6d6" stroke="#484848" stroke-width="0.5"/>
<circle cx="73.8" cy="122.2" r="2.5" fill="#d6d6d6" stroke="#484848" stroke-width="0.5"/>
<circle cx="78.7" cy="68.9" r="1.8" fill="#d6d6d6" stroke="#484848" stroke-width="0.5"/>
<circle cx="43.2" cy="57.0" r="2.4" fill="#d6d6d6" stroke="#484848" stroke-width="0.5"/>
<circle cx="135.8" cy="10.3" r="1.8" fill="#d6d6d6" stroke="#484848" stroke-width="0.5"/>
<circle cx="135.9" cy="92.9" r="1.4" fill="#d6d6d6" stroke="#484848" stroke-width="0.5"/>
<circle cx="63.6" cy="92.0" r="3.2" fill="#d6d6d6" stroke="#484848" stroke-width="0.5"/>
<circle cx="12.1" cy="127.5" r="2.9" fill="#d6d6d6" stroke="#484848" stroke-width="0.5"/>
<circle cx="40.1" cy="75.4" r="3.0" fill="#d6d6d6" stroke="#484848" stroke-width="0.5"/>
<circle cx="35.0" cy="99.1" r="2.4" fill="#d6d6d6" stroke="#484848" stroke-width="0.5"/>
<circle cx="10.5" cy="38.4" r="2.1" fill="#d6d6d6" stroke="#484848" stroke-width="0.5"/>
<circle cx="20.1" cy="133.4" r="1.8" fill="#d6d6d6" stroke="#484848" stroke-width="0.5"/>
<circle cx="33.4" cy="84.4" r="2.4" fill="#d6d6d6" stroke="#484848" stroke-width="0.5"/>
<circle cx="46.0" cy="46.0" r="2.3" fill="#d6d6d6" stroke="#484848" stroke-width="0.5"/>
<circle cx="130.9" cy="11.2" r="3.2" fill="#d6d6d6" stroke="#484848" stroke-width="0.5"/>
<circle cx="135.1" cy="96.6" r="3.0" fill="#d6d6d6" stroke="#484848" stroke-width="0.5"/>
<circle cx="55.0" cy="136.0" r="2.8" fill="#d6d6d6" stroke="#484848" stroke-width="0.5"/>
<circle cx="98.9" cy="63.4" r="1.7" fill="#d6d6d6" stroke="#484848" stroke-width="0.5"/>
<circle cx="99.6" cy="104.0" r="1.2" fill="#d6d6d6" stroke="#484848" stroke-width="0.5"/>
<circle cx="44.8" cy="75.7" r="1.7" fill="#d6d6d6" stroke="#484848" stroke-width="0.5"/>
<circle cx="18.6" cy="26.6" r="1.2" fill="#d6d6d6" stroke="#484848" stroke-width="0.5"/>
<circle cx="17.4" cy="55.3" r="2.3" fill="#d6d6d6" stroke="#484848" stroke-width="0.5"/>
<circle cx="91.9" cy="43.5" r="1.5" fill="#d6d6d6" stroke="#484848" stroke-width="0.5"/>
<circle cx="132.5" cy="89.3" r="2.7" fill="#d6d6d6" stroke="#484848" stroke-width="0.5"/>
<circle cx="99.2" cy="45.5" r="2.5" fill="#d6d6d6" stroke="#484848" stroke-width="0.5"/>
<circle cx="45.9" cy="92.3" r="3.0" fill="#d6d6d6" stroke="#484848" stroke-width="0.5"/>
<circle cx="2.3" cy="112.4" r="1.5" fill="#d6d6d6" stroke="#484848" stroke-width="0.5"/>
<circle cx="2.3" cy="10.6" r="2.4" fill="#d6d6d6" stroke="#484848" stroke-width="0.5"/>
<circle cx="123.5" cy="130.8" r="1.5" fill="#d6d6d6" stroke="#484848" stroke-width="0.5"/>
<circle cx="61.8" cy="133.1" r="3.2" fill="#d6d6d6" stroke="#484848" stroke-width="0.5"/>
<circle cx="119.0" cy="35.1" r="1.8" fill="#d6d6d6" stroke="#484848" stroke-width="0.5"/>
<circle cx="21.5" cy="37.2" r="2.1" fill="#d6d6d6" stroke="#484848" stroke-width="0.5"/>
<circle cx="114.8" cy="93.3" r="1.6" fill="#d6d6d6" stroke="#484848" stroke-width="0.5"/>
<circle cx="25.7" cy="63.7" r="3.2" fill="#d6d6d6" stroke="#484848" stroke-width="0.5"/>
<circle cx="68.0" cy="111.5" r="2.7" fill="#d6d6d6" stroke="#484848" stroke-width="0.5"/>
<circle cx="126.4" cy="70.1" r="2.0" fill="#d6d6d6" stroke="#484848" stroke-width="0.5"/>
<circle cx="65.9" cy="113.3" r="1.8" fill="#d6d6d6" stroke="#484848" stroke-width="0.5"/>
<circle cx="27.8" cy="118.2" r="2.3" fill="#d6d6d6" stroke="#484848" stroke-width="0.5"/>
<circle cx="92.4" cy="24.6" r="1.3" fill="#d6d6d6" stroke="#484848" stroke-width="0.5"/>
<circle cx="32.4" cy="60.7" r="1.3" fill="#d6d6d6" stroke="#484848" stroke-width="0.5"/>
<circle cx="39.3" cy="133.3" r="2.2" fill="#d6d6d6" stroke="#484848" stroke-width="0.5"/>
<circle cx="0.7" cy="113.4" r="1.9" fill="#d6d6d6" stroke="#484848" stroke-width="0.5"/>
<circle cx="24.9" cy="90.1" r="2.7" fill="#d6d6d6" stroke="#484848" stroke-width="0.5"/>
<circle cx="46.7" cy="100.4" r="3.1" fill="#d6d6d6" stroke="#484848" stroke-width="0.5"/>
<circle cx="48.9" cy="70.2" r="1.2" fill="#d6d6d6" stroke="#484848" stroke-width="0.5"/>
<circle cx="85.2" cy="41.3" r="2.6" fill="#d6d6d6" stroke="#484848" stroke-width="0.5"/>
<circle cx="109.2" cy="48.1" r="2.7" fill="#d6d6d6" stroke="#484848" stroke-width="0.5"/>
<circle cx="135.7" cy="23.9" r="3.0" fill="#d6d6d6" stroke="#484848" stroke-width="0.5"/>
<circle cx="68.7" cy="133.3" r="1.4" fill="#d6d6d6" stroke="#484848" stroke-width="0.5"/>
<circle cx="55.2" cy="22.9" r="1.8" fill="#d6d6d6" stroke="#484848" stroke-width="0.5"/>
<circle cx="128.2" cy="75.0" r="2.0" fill="#d6d6d6" stroke="#484848" stroke-width="0.5"/>
<circle cx="138.6" cy="7.4" r="1.2" fill="#d6d6d6" stroke="#484848" stroke-width="0.5"/>
<circle cx="110.6" cy="78.8" r="3.0" fill="#d6d6d6" stroke="#484848" stroke-width="0.5"/>
<circle cx="71.5" cy="133.4" r="1.9" fill="#d6d6d6" stroke="#484848" stroke-width="0.5"/>
<circle cx="33.0" cy="124.9" r="2.4" fill="#d6d6d6" stroke="#484848" stroke-width="0.5"/>
<circle cx="4.3" cy="1.4" r="1.2" fill="#d6d6d6" stroke="#484848" stroke-width="0.5"/>
<circle cx="105.1" cy="90.2" r="1.4" fill="#d6d6d6" stroke="#484848" stroke-width="0.5"/>
<circle cx="114.7" cy="109.7" r="2.6" fill="#d6d6d6" stroke="#484848" stroke-width="0.5"/>
<circle cx="83.2" cy="61.3" r="2.7" fill="#d6d6d6" stroke="#484848" stroke-width="0.5"/>
<circle cx="56.0" cy="131.0" r="2.5" fill="#d6d6d6" stroke="#484848" stroke-width="0.5"/>
<circle cx="96.9" cy="130.8" r="3.4" fill="#d6d6d6" stroke="#484848" stroke-width="0.5"/>
<circle cx="76.7" cy="15.9" r="2.4" fill="#d6d6d6" stroke="#484848" stroke-width="0.5"/>
<circle cx="132.3" cy="29.4" r="1.8" fill="#d6d6d6" stroke="#484848" stroke-width="0.5"/>
<circle cx="39.6" cy="32.8" r="3.0" fill="#d6d6d6" stroke="#484848" stroke-width="0.5"/>
<circle cx="77.1" cy="12.1" r="2.3" fill="#d6d6d6" stroke="#484848" stroke-width="0.5"/>
<circle cx="100.2" cy="3.8" r="1.6" fill="#d6d6d6" stroke="#484848" stroke-width="0.5"/>
<circle cx="2.0" cy="98.4" r="2.1" fill="#d6d6d6" stroke="#484848" stroke-width="0.5"/>
<circle cx="2.0" cy="34.9" r="1.6" fill="#d6d6d6" stroke="#484848" stroke-width="0.5"/>
<circle cx="81.9" cy="60.3" r="2.1" fill="#d6d6d6" stroke="#484848" stroke-width="0.5"/>
<circle cx="47.4" cy="5.5" r="1.9" fill="#d6d6d6" stroke="#484848" stroke-width="0.5"/>
<circle cx="91.3" cy="76.0" r="2.5" fill="#d6d6d6" stroke="#484848" stroke-width="0.5"/>
<circle cx="22.9" cy="5.9" r="2.9" fill="#d6d6d6" stroke="#484848" stroke-width="0.5"/>
<circle cx="102.8" cy="93.0" r="3.3" fill="#d6d6d6" stroke="#484848" stroke-width="0.5"/>
<circle cx="44.1" cy="103.4" r="1.8" fill="#d6d6d6" stroke="#484848" stroke-width="0.5"/>
<circle cx="86.3" cy="128.1" r="2.2" fill="#d6d6d6" stroke="#484848" stroke-width="0.5"/>
<circle cx="88.5" cy="139.5" r="2.3" fill="#d6d6d6" stroke="#484848" stroke-width="0.5"/>
<circle cx="34.4" cy="134.9" r="2.7" fill="#d6d6d6" stroke="#484848" stroke-width="0.5"/>
<circle cx="46.9" cy="38.8" r="1.2" fill="#d6d6d6" stroke="#484848" stroke-width="0.5"/>
<circle cx="12.4" cy="138.4" r="2.4" fill="#d6d6d6" stroke="#484848" stroke-width="0.5"/>
<circle cx="112.1" cy="34.0" r="3.0" fill="#d6d6d6" stroke="#484848" stroke-width="0.5"/>
<circle cx="101.7" cy="123.6" r="2.3" fill="#d6d6d6" stroke="#484848" stroke-width="0.5"/>
<circle cx="132.2" cy="80.3" r="1.5" fill="#d6d6d6" stroke="#484848" stroke-width="0.5"/>
<circle cx="130.9" cy="42.6" r="3.2" fill="#d6d6d6" stroke="#484848" stroke-width="0.5"/>
<circle cx="79.1" cy="56.5" r="2.3" fill="#d6d6d6" stroke="#484848" stroke-width="0.5"/>
<circle cx="53.6" cy="11.0" r="1.3" fill="#d6d6d6" stroke="#484848" stroke-width="0.5"/>
<circle cx="12.2" cy="127.6" r="2.0" fill="#d6d6d6" stroke="#484848" stroke-width="0.5"/>
<circle cx="3.3" cy="56.6" r="2.6" fill="#d6d6d6" stroke="#484848" stroke-width="0.5"/>
<circle cx="91.3" cy="129.1" r="2.0" fill="#d6d6d6" stroke="#484848" stroke-width="0.5"/>
<circle cx="137.4" cy="1.7" r="1.5" fill="#d6d6d6" stroke="#484848" stroke-width="0.5"/>
<circle cx="70.6" cy="91.3" r="2.1" fill="#d6d6d6" stroke="#484848" stroke-width="0.5"/>
<circle cx="113.0" cy="77.2" r="1.2" fill="#d6d6d6" stroke="#484848" stroke-width="0.5"/>
<circle cx="56.2" cy="90.6" r="1.8" fill="#d6d6d6" stroke="#484848" stroke-width="0.5"/>
<circle cx="26.8" cy="90.9" r="2.2" fill="#d6d6d6" stroke="#484848" stroke-width="0.5"/>
<circle cx="142.3" cy="134.5" r="1.9" fill="#d6d6d6" stroke="#484848" stroke-width="0.5"/>
<circle cx="4.7" cy="25.1" r="2.2" fill="#d6d6d6" stroke="#484848" stroke-width="0.5"/>
<circle cx="61.0" cy="61.1" r="1.4" fill="#d6d6d6" stroke="#484848" stroke-width="0.5"/>
<circle cx="43.1" cy="58.0" r="2.9" fill="#d6d6d6" stroke="#484848" stroke-width="0.5"/>
<circle cx="16.7" cy="89.6" r="2.0" fill="#d6d6d6" stroke="#484848" stroke-width="0.5"/>
<circle cx="111.6" cy="96.1" r="1.6" fill="#d6d6d6" stroke="#484848" stroke-width="0.5"/>
<circle cx="101.6" cy="52.2" r="3.0" fill="#d6d6d6" stroke="#484848" stroke-width="0.5"/>
<circle cx="3.0" cy="44.2" r="2.3" fill="#d6d6d6" stroke="#484848" stroke-width="0.5"/>
<circle cx="42.3" cy="55.0" r="2.5" fill="#d6d6d6" stroke="#484848" stroke-width="0.5"/>
<circle cx="34.3" cy="121.4" r="1.8" fill="#d6d6d6" stroke="#484848" stroke-width="0.5"/>
<circle cx="99.4" cy="135.7" r="1.4" fill="#d6d6d6" stroke="#484848" stroke-width="0.5"/>
<circle cx="126.2" cy="24.8" r="2.2" fill="#d6d6d6" stroke="#484848" stroke-width="0.5"/>
<circle cx="17.0" cy="131.1" r="1.9" fill="#d6d6d6" stroke="#484848" stroke-width="0.5"/>
<circle cx="74.1" cy="137.2" r="1.5" fill="#d6d6d6" stroke="#484848" stroke-width="0.5"/>
<circle cx="11.3" cy="98.1" r="1.3" fill="#d6d6d6" stroke="#484848" stroke-width="0.5"/>
<circle cx="18.2" cy="36.0" r="1.2" fill="#d6d6d6" stroke="#484848" stroke-width="0.5"/>
<circle cx="49.4" cy="8.0" r="3.2" fill="#d6d6d6" stroke="#484848" stroke-width="0.5"/>
<circle cx="73.5" cy="4.4" r="2.8" fill="#d6d6d6" stroke="#484848" stroke-width="0.5"/>
<circle cx="34.3" cy="124.5" r="1.3" fill="#d6d6d6" stroke="#484848" stroke-width="0.5"/>
<circle cx="17.5" cy="52.5" r="3.0" fill="#d6d6d6" stroke="#484848" stroke-width="0.5"/>
<circle cx="134.3" cy="136.3" r="1.7" fill="#d6d6d6" stroke="#484848" stroke-width="0.5"/>
<circle cx="53.6" cy="120.6" r="3.0" fill="#d6d6d6" stroke="#484848" stroke-width="0.5"/>
<circle cx="135.4" cy="11.5" r="1.3" fill="#d6d6d6" stroke="#484848" stroke-width="0.5"/>
<circle cx="57.9" cy="119.2" r="2.7" fill="#d6d6d6" stroke="#484848" stroke-width="0.5"/>
<circle cx="59.8" cy="96.4" r="2.2" fill="#d6d6d6" stroke="#484848" stroke-width="0.5"/>
<circle cx="120.1" cy="40.6" r="2.9" fill="#d6d6d6" stroke="#484848" stroke-width="0.5"/>
<circle cx="21.9" cy="83.3" r="1.9" fill="#d6d6d6" stroke="#484848" stroke-width="0.5"/>
<circle cx="48.6" cy="37.7" r="1.3" fill="#d6d6d6" stroke="#484848" stroke-width="0.5"/>
<circle cx="13.6" cy="94.8" r="2.7" fill="#d6d6d6" stroke="#484848" stroke-width="0.5"/>
<circle cx="94.8" cy="61.1" r="2.5" fill="#d6d6d6" stroke="#484848" stroke-width="0.5"/>
<circle cx="114.4" cy="139.1" r="2.1" fill="#d6d6d6" stroke="#484848" stroke-width="0.5"/>
<circle cx="107.7" cy="114.7" r="3.1" fill="#d6d6d6" stroke="#484848" stroke-width="0.5"/>
<circle cx="96.5" cy="32.4" r="3.0" fill="#d6d6d6" stroke="#484848" stroke-width="0.5"/>
<circle cx="80.7" cy="104.7" r="2.8" fill="#d6d6d6" stroke="#484848" stroke-width="0.5"/>
<circle cx="29.8" cy="10.1" r="2.9" fill="#d6d6d6" stroke="#484848" stroke-width="0.5"/>
<circle cx="96.0" cy="2.4" r="1.3" fill="#d6d6d6" stroke="#484848" stroke-width="0.5"/>
<circle cx="60.9" cy="92.2" r="1.5" fill="#d6d6d6" stroke="#484848" stroke-width="0.5"/>
<circle cx="100.1" cy="48.6" r="2.6" fill="#d6d6d6" stroke="#484848" stroke-width="0.5"/>
<circle cx="39.2" cy="33.0" r="1.5" fill="#d6d6d6" stroke="#484848" stroke-width="0.5"/>
<circle cx="98.8" cy="88.0" r="1.4" fill="#d6d6d6" stroke="#484848" stroke-width="0.5"/>
<circle cx="16.3" cy="118.1" r="1.8" fill="#d6d6d6" stroke="#484848" stroke-width="0.5"/>
<circle cx="133.7" cy="138.0" r="3.0" fill="#d6d6d6" stroke="#484848" stroke-width="0.5"/>
<circle cx="19.9" cy="14.6" r="3.0" fill="#d6d6d6" stroke="#484848" stroke-width="0.5"/>
<circle cx="60.0" cy="4.6" r="1.4" fill="#d6d6d6" stroke="#484848" stroke-width="0.5"/>
<circle cx="41.0" cy="35.1" r="1.3" fill="#d6d6d6" stroke="#484848" stroke-width="0.5"/>
<circle cx="103.3" cy="8.2" r="1.8" fill="#d6d6d6" stroke="#484848" stroke-width="0.5"/>
<circle cx="100.5" cy="105.9" r="2.9" fill="#d6d6d6" stroke="#484848" stroke-width="0.5"/>
<circle cx="34.1" cy="24.0" r="2.6" fill="#d6d6d6" stroke="#484848" stroke-width="0.5"/>
<circle cx="116.0" cy="104.4" r="2.8" fill="#d6d6d6" stroke="#484848" stroke-width="0.5"/>
<circle cx="59.7" cy="101.3" r="3.2" fill="#d6d6d6" stroke="#484848" stroke-width="0.5"/>
<circle cx="88.7" cy="20.5" r="3.0" fill="#d6d6d6" stroke="#484848" stroke-width="0.5"/>
<circle cx="5.1" cy="1.5" r="1.9" fill="#d6d6d6" stroke="#484848" stroke-width="0.5"/>
<circle cx="53.7" cy="137.1" r="2.8" fill="#d6d6d6" stroke="#484848" stroke-width="0.5"/>
<circle cx="62.6" cy="81.1" r="2.1" fill="#d6d6d6" stroke="#484848" stroke-width="0.5"/>
<circle cx="129.5" cy="87.3" r="2.0" fill="#d6d6d6" stroke="#484848" stroke-width="0.5"/>
<circle cx="134.7" cy="115.2" r="2.1" fill="#d6d6d6" stroke="#484848" stroke-width="0.5"/>
<circle cx="138.4" cy="8.1" r="3.1" fill="#d6d6d6" stroke="#484848" stroke-width="0.5"/>
<circle cx="65.0" cy="68.9" r="3.1" fill="#d6d6d6" stroke="#484848" stroke-width="0.5"/>
<circle cx="60.8" cy="61.5" r="1.7" fill="#d6d6d6" stroke="#484848" stroke-width="0.5"/>
<circle cx="98.4" cy="101.3" r="2.7" fill="#d6d6d6" stroke="#484848" stroke-width="0.5"/>
<circle cx="22.9" cy="123.4" r="2.3" fill="#d6d6d6" stroke="#484848" stroke-width="0.5"/>
<circle cx="16.4" cy="29.3" r="1.5" fill="#d6d6d6" stroke="#484848" stroke-width="0.5"/>
<circle cx="20.6" cy="72.8" r="2.9" fill="#d6d6d6" stroke="#484848" stroke-width="0.5"/>
<circle cx="100.5" cy="137.2" r="3.4" fill="#d6d6d6" stroke="#484848" stroke-width="0.5"/>
<circle cx="89.7" cy="121.1" r="3.2" fill="#d6d6d6" stroke="#484848" stroke-width="0.5"/>
<circle cx="73.6" cy="118.9" r="2.4" fill="#d6d6d6" stroke="#484848" stroke-width="0.5"/>
<circle cx="108.8" cy="114.0" r="3.2" fill="#d6d6d6" stroke="#484848" stroke-width="0.5"/>
<circle cx="73.2" cy="11.3" r="1.3" fill="#d6d6d6" stroke="#484848" stroke-width="0.5"/>
<circle cx="101.8" cy="85.8" r="3.1" fill="#d6d6d6" stroke="#484848" stroke-width="0.5"/>
<circle cx="25.2" cy="115.5" r="3.4" fill="#d6d6d6" stroke="#484848" stroke-width="0.5"/>
<circle cx="69.2" cy="12.8" r="2.7" fill="#d6d6d6" stroke="#484848" stroke-width="0.5"/>
<circle cx="11.4" cy="112.3" r="3.0" fill="#d6d6d6" stroke="#484848" stroke-width="0.5"/>
<circle cx="54.7" cy="127.8" r="2.0" fill="#d6d6d6" stroke="#484848" stroke-width="0.5"/>
<circle cx="118.6" cy="41.6" r="2.8" fill="#d6d6d6" stroke="#484848" stroke-width="0.5"/>
<circle cx="15.9" cy="47.9" r="2.1" fill="#d6d6d6" stroke="#484848" stroke-width="0.5"/>
<circle cx="127.9" cy="116.6" r="1.4" fill="#d6d6d6" stroke="#484848" stroke-width="0.5"/>
<circle cx="66.3" cy="119.4" r="3.4" fill="#d6d6d6" stroke="#484848" stroke-width="0.5"/>
<circle cx="66.3" cy="22.8" r="2.9" fill="#d6d6d6" stroke="#484848" stroke-width="0.5"/>
<circle cx="27.7" cy="84.2" r="1.9" fill="#d6d6d6" stroke="#484848" stroke-width="0.5"/>
<circle cx="9.7" cy="3.1" r="2.1" fill="#d6d6d6" stroke="#484848" stroke-width="0.5"/>
<circle cx="6.7" cy="90.2" r="2.8" fill="#d6d6d6" stroke="#484848" stroke-width="0.5"/>
<circle cx="105.2" cy="70.7" r="2.6" fill="#d6d6d6" stroke="#484848" stroke-width="0.5"/>
<circle cx="124.8" cy="44.5" r="2.5" fill="#d6d6d6" stroke="#484848" stroke-width="0.5"/>
<circle cx="24.1" cy="96.3" r="3.4" fill="#d6d6d6" stroke="#484848" stroke-width="0.5"/>
<circle cx="47.8" cy="97.1" r="1.5" fill="#d6d6d6" stroke="#484848" stroke-width="0.5"/>
<circle cx="143.9" cy="8.7" r="1.8" fill="#d6d6d6" stroke="#484848" stroke-width="0.5"/>
<circle cx="59.5" cy="107.8" r="2.4" fill="#d6d6d6" stroke="#484848" stroke-width="0.5"/>
<circle cx="12.1" cy="90.7" r="1.4" fill="#d6d6d6" stroke="#484848" stroke-width="0.5"/>
<circle cx="48.2" cy="135.5" r="2.3" fill="#d6d6d6" stroke="#484848" stroke-width="0.5"/>
<circle cx="0.8" cy="33.7" r="1.8" fill="#d6d6d6" stroke="#484848" stroke-width="0.5"/>
<circle cx="25.1" cy="106.9" r="1.8" fill="#d6d6d6" stroke="#484848" stroke-width="0.5"/>
<circle cx="96.4" cy="77.8" r="3.1" fill="#d6d6d6" stroke="#484848" stroke-width="0.5"/>
<circle cx="48.8" cy="0.3" r="2.6" fill="#d6d6d6" stroke="#484848" stroke-width="0.5"/>
<circle cx="81.4" cy="4.9" r="2.2" fill="#d6d6d6" stroke="#484848" stroke-width="0.5"/>
<circle cx="21.7" cy="140.7" r="2.4" fill="#d6d6d6" stroke="#484848" stroke-width="0.5"/>
<circle cx="116.3" cy="89.3" r="2.5" fill="#d6d6d6" stroke="#484848" stroke-width="0.5"/>
<circle cx="123.1" cy="3.8" r="2.0" fill="#d6d6d6" stroke="#484848" stroke-width="0.5"/>
<circle cx="94.8" cy="46.5" r="3.2" fill="#d6d6d6" stroke="#484848" stroke-width="0.5"/>
<circle cx="42.8" cy="101.7" r="2.4" fill="#d6d6d6" stroke="#484848" stroke-width="0.5"/>
<circle cx="75.0" cy="121.7" r="3.3" fill="#d6d6d6" stroke="#484848" stroke-width="0.5"/>
<circle cx="141.2" cy="47.3" r="2.4" fill="#d6d6d6" stroke="#484848" stroke-width="0.5"/>
<circle cx="20.2" cy="110.3" r="2.5" fill="#d6d6d6" stroke="#484848" stroke-width="0.5"/>
<circle cx="69.9" cy="73.2" r="2.0" fill="#d6d6d6" stroke="#484848" stroke-width="0.5"/>
<circle cx="29.0" cy="64.4" r="2.7" fill="#d6d6d6" stroke="#484848" stroke-width="0.5"/>
<circle cx="11.4" cy="35.0" r="1.8" fill="#d6d6d6" stroke="#484848" stroke-width="0.5"/>
<circle cx="110.6" cy="69.3" r="3.1" fill="#d6d6d6" stroke="#484848" stroke-width="0.5"/>
<circle cx="57.3" cy="24.8" r="1.8" fill="#d6d6d6" stroke="#484848" stroke-width="0.5"/>
<circle cx="4.2" cy="69.8" r="2.2" fill="#d6d6d6" stroke="#484848" stroke-width="0.5"/>
<circle cx="57.8" cy="91.8" r="2.5" fill="#d6d6d6" stroke="#484848" stroke-width="0.5"/>
<circle cx="47.1" cy="97.4" r="1.5" fill="#d6d6d6" stroke="#484848" stroke-width="0.5"/>
<circle cx="95.5" cy="56.8" r="2.9" fill="#d6d6d6" stroke="#484848" stroke-width="0.5"/>
<circle cx="121.4" cy="68.5" r="1.4" fill="#d6d6d6" stroke="#484848" stroke-width="0.5"/>
<circle cx="93.5" cy="1.0" r="1.4" fill="#d6d6d6" stroke="#484848" stroke-width="0.5"/>
<circle cx="29.3" cy="112.2" r="2.0" fill="#d6d6d6" stroke="#484848" stroke-width="0.5"/>
<circle cx="101.9" cy="70.9" r="2.5" fill="#d6d6d6" stroke="#484848" stroke-width="0.5"/>
<circle cx="1.5" cy="132.2" r="2.2" fill="#d6d6d6" stroke="#484848" stroke-width="0.5"/>
<circle cx="11.5" cy="79.3" r="3.1" fill="#d6d6d6" stroke="#484848" stroke-width="0.5"/>
<circle cx="67.5" cy="91.2" r="1.4" fill="#d6d6d6" stroke="#484848" stroke-width="0.5"/>
<circle cx="24.3" cy="45.6" r="1.3" fill="#d6d6d6" stroke="#484848" stroke-width="0.5"/>
<circle cx="88.8" cy="0.7" r="2.2" fill="#d6d6d6" stroke="#484848" stroke-width="0.5"/>
<circle cx="97.7" cy="21.0" r="3.4" fill="#d6d6d6" stroke="#484848" stroke-width="0.5"/>
<circle cx="85.5" cy="106.2" r="2.8" fill="#d6d6d6" stroke="#484848" stroke-width="0.5"/>
<circle cx="81.4" cy="54.6" r="2.5" fill="#d6d6d6" stroke="#484848" stroke-width="0.5"/>
<circle cx="101.3" cy="51.5" r="1.2" fill="#d6d6d6" stroke="#484848" stroke-width="0.5"/>
<circle cx="134.6" cy="38.8" r="3.2" fill="#d6d6d6" stroke="#484848" stroke-width="0.5"/>
<circle cx="143.8" cy="7.1" r="3.2" fill="#d6d6d6" stroke="#484848" stroke-width="0.5"/>
<circle cx="49.9" cy="122.0" r="2.9" fill="#d6d6d6" stroke="#484848" stroke-width="0.5"/>
<circle cx="39.3" cy="112.2" r="1.4" fill="#d6d6d6" stroke="#484848" stroke-width="0.5"/>
<circle cx="129.9" cy="83.5" r="3.4" fill="#d6d6d6" stroke="#484848" stroke-width="0.5"/>
<circle cx="66.8" cy="99.5" r="1.8" fill="#d6d6d6" stroke="#484848" stroke-width="0.5"/>
<circle cx="39.3" cy="5.4" r="2.8" fill="#d6d6d6" stroke="#484848" stroke-width="0.5"/>
<circle cx="139.1" cy="58.9" r="1.3" fill="#d6d6d6" stroke="#484848" stroke-width="0.5"/>
<circle cx="11.4" cy="28.7" r="2.8" fill="#d6d6d6" stroke="#484848" stroke-width="0.5"/>
<circle cx="43.2" cy="65.5" r="3.1" fill="#d6d6d6" stroke="#484848" stroke-width="0.5"/>
<circle cx="97.6" cy="5.8" r="3.2" fill="#d6d6d6" stroke="#484848" stroke-width="0.5"/>
<circle cx="99.3" cy="22.7" r="1.3" fill="#d6d6d6" stroke="#484848" stroke-width="0.5"/>
<circle cx="128.0" cy="38.3" r="2.3" fill="#d6d6d6" stroke="#484848" stroke-width="0.5"/>
<circle cx="41.1" cy="104.6" r="2.1" fill="#d6d6d6" stroke="#484848" stroke-width="0.5"/>
<circle cx="97.0" cy="128.4" r="1.4" fill="#d6d6d6" stroke="#484848" stroke-width="0.5"/>
<circle cx="53.7" cy="103.2" r="3.0" fill="#d6d6d6" stroke="#484848" stroke-width="0.5"/>
<circle cx="124.0" cy="55.7" r="2.7" fill="#d6d6d6" stroke="#484848" stroke-width="0.5"/>
<circle cx="82.2" cy="120.8" r="1.6" fill="#d6d6d6" stroke="#484848" stroke-width="0.5"/>
<circle cx="10.8" cy="24.3" r="1.9" fill="#d6d6d6" stroke="#484848" stroke-width="0.5"/>
<circle cx="105.4" cy="86.9" r="1.8" fill="#d6d6d6" stroke="#484848" stroke-width="0.5"/>
<circle cx="6.6" cy="56.3" r="3.3" fill="#d6d6d6" stroke="#484848" stroke-width="0.5"/>
<circle cx="12.3" cy="128.6" r="2.1" fill="#d6d6d6" stroke="#484848" stroke-width="0.5"/>
<circle cx="87.9" cy="50.6" r="3.3" fill="#d6d6d6" stroke="#484848" stroke-width="0.5"/>
<circle cx="115.7" cy="94.7" r="2.3" fill="#d6d6d6" stroke="#484848" stroke-width="0.5"/>
<circle cx="84.1" cy="33.1" r="2.6" fill="#d6d6d6" stroke="#484848" stroke-width="0.5"/>
<circle cx="130.1" cy="10.2" r="2.2" fill="#d6d6d6" stroke="#484848" stroke-width="0.5"/>
<circle cx="71.2" cy="74.7" r="3.4" fill="#d6d6d6" stroke="#484848" stroke-width="0.5"/>
<circle cx="83.5" cy="64.7" r="1.4" fill="#d6d6d6" stroke="#484848" stroke-width="0.5"/>
<circle cx="42.5" cy="124.2" r="2.6" fill="#d6d6d6" stroke="#484848" stroke-width="0.5"/>
<circle cx="108.2" cy="130.1" r="3.2" fill="#d6d6d6" stroke="#484848" stroke-width="0.5"/>
<circle cx="128.2" cy="138.1" r="3.2" fill="#d6d6d6" stroke="#484848" stroke-width="0.5"/>
<circle cx="99.5" cy="72.9" r="1.3" fill="#d6d6d6" stroke="#484848" stroke-width="0.5"/>
<circle cx="135.1" cy="67.2" r="1.9" fill="#d6d6d6" stroke="#484848" stroke-width="0.5"/>
<circle cx="52.0" cy="106.6" r="2.9" fill="#d6d6d6" stroke="#484848" stroke-width="0.5"/>
<circle cx="42.1" cy="22.6" r="2.1" fill="#d6d6d6" stroke="#484848" stroke-width="0.5"/>
<circle cx="18.0" cy="85.7" r="3.1" fill="#d6d6d6" stroke="#484848" stroke-width="0.5"/>
<circle cx="58.2" cy="20.6" r="3.3" fill="#d6d6d6" stroke="#484848" stroke-width="0.5"/>
<circle cx="25.3" cy="26.2" r="2.3" fill="#d6d6d6" stroke="#484848" stroke-width="0.5"/>
<circle cx="97.7" cy="50.1" r="1.5" fill="#d6d6d6" stroke="#484848" stroke-width="0.5"/>
<circle cx="43.5" cy="123.9" r="3.3" fill="#d6d6d6" stroke="#484848" stroke-width="0.5"/>
<circle cx="35.2" cy="98.3" r="2.9" fill="#d6d6d6" stroke="#484848" stroke-width="0.5"/>
<circle cx="119.2" cy="1.7" r="1.3" fill="#d6d6d6" stroke="#484848" stroke-width="0.5"/>
<circle cx="12.2" cy="79.8" r="1.6" fill="#d6d6d6" stroke="#484848" stroke-width="0.5"/>
<circle cx="132.1" cy="34.9" r="2.2" fill="#d6d6d6" stroke="#484848" stroke-width="0.5"/>
<circle cx="19.5" cy="127.4" r="1.7" fill="#d6d6d6" stroke="#484848" stroke-width="0.5"/>
<circle cx="39.2" cy="42.5" r="1.6" fill="#d6d6d6" stroke="#484848" stroke-width="0.5"/>
<circle cx="12.1" cy="113.2" r="1.4" fill="#d6d6d6" stroke="#484848" stroke-width="0.5"/>
<circle cx="43.4" cy="3.4" r="2.4" fill="#d6d6d6" stroke="#484848" stroke-width="0.5"/>
<circle cx="72.6" cy="129.7" r="1.3" fill="#d6d6d6" stroke="#484848" stroke-width="0.5"/>
<circle cx="137.2" cy="17.9" r="2.0" fill="#d6d6d6" stroke="#484848" stroke-width="0.5"/>
<circle cx="132.2" cy="122.2" r="3.2" fill="#d6d6d6" stroke="#484848" stroke-width="0.5"/>
<circle cx="25.5" cy="21.2" r="2.0" fill="#d6d6d6" stroke="#484848" stroke-width="0.5"/>
<circle cx="47.9" cy="84.2" r="1.3" fill="#d6d6d6" stroke="#484848" stroke-width="0.5"/>
<circle cx="83.5" cy="0.5" r="1.9" fill="#d6d6d6" stroke="#484848" stroke-width="0.5"/>
<circle cx="79.2" cy="37.1" r="2.8" fill="#d6d6d6" stroke="#484848" stroke-width="0.5"/>
<circle cx="108.2" cy="87.9" r="2.2" fill="#d6d6d6" stroke="#484848" stroke-width="0.5"/>
<circle cx="59.3" cy="72.5" r="3.0" fill="#d6d6d6" stroke="#484848" stroke-width="0.5"/>
<circle cx="144.0" cy="30.8" r="3.1" fill="#d6d6d6" stroke="#484848" stroke-width="0.5"/>
<circle cx="108.5" cy="76.0" r="2.2" fill="#d6d6d6" stroke="#484848" stroke-width="0.5"/>
<circle cx="110.6" cy="138.2" r="2.3" fill="#d6d6d6" stroke="#484848" stroke-width="0.5"/>
<circle cx="3.9" cy="84.8" r="1.6" fill="#d6d6d6" stroke="#484848" stroke-width="0.5"/>
<circle cx="16.2" cy="82.1" r="1.8" fill="#d6d6d6" stroke="#484848" stroke-width="0.5"/>
<circle cx="111.8" cy="56.9" r="3.1" fill="#d6d6d6" stroke="#484848" stroke-width="0.5"/>
<circle cx="8.9" cy="135.3" r="2.7" fill="#d6d6d6" stroke="#484848" stroke-width="0.5"/>
<circle cx="6.0" cy="38.8" r="3.2" fill="#d6d6d6" stroke="#484848" stroke-width="0.5"/>
<circle cx="116.8" cy="8.5" r="2.9" fill="#d6d6d6" stroke="#484848" stroke-width="0.5"/>
<circle cx="61.6" cy="61.4" r="3.0" fill="#d6d6d6" stroke="#484848" stroke-width="0.5"/>
<circle cx="23.1" cy="88.8" r="1.9" fill="#d6d6d6" stroke="#484848" stroke-width="0.5"/>
<circle cx="123.4" cy="131.0" r="3.2" fill="#d6d6d6" stroke="#484848" stroke-width="0.5"/>
<circle cx="26.7" cy="10.3" r="2.2" fill="#d6d6d6" stroke="#484848" stroke-width="0.5"/>
<circle cx="18.6" cy="31.9" r="2.4" fill="#d6d6d6" stroke="#484848" stroke-width="0.5"/>
<circle cx="108.6" cy="81.0" r="3.4" fill="#d6d6d6" stroke="#484848" stroke-width="0.5"/>
<circle cx="107.8" cy="137.0" r="2.6" fill="#d6d6d6" stroke="#484848" stroke-width="0.5"/>
<circle cx="52.4" cy="135.5" r="2.5" fill="#d6d6d6" stroke="#484848" stroke-width="0.5"/>
<circle cx="90.2" cy="20.6" r="1.4" fill="#d6d6d6" stroke="#484848" stroke-width="0.5"/>
<circle cx="0.6" cy="18.5" r="1.8" fill="#d6d6d6" stroke="#484848" stroke-width="0.5"/>
<circle cx="53.0" cy="100.5" r="2.1" fill="#d6d6d6" stroke="#484848" stroke-width="0.5"/>
<circle cx="53.5" cy="62.3" r="2.5" fill="#d6d6d6" stroke="#484848" stroke-width="0.5"/>
<circle cx="121.7" cy="139.1" r="1.7" fill="#d6d6d6" stroke="#484848" stroke-width="0.5"/>
<circle cx="56.9" cy="59.6" r="2.6" fill="#d6d6d6" stroke="#484848" stroke-width="0.5"/>
<circle cx="50.8" cy="26.9" r="3.2" fill="#d6d6d6" stroke="#484848" stroke-width="0.5"/>
<circle cx="47.4" cy="104.7" r="2.6" fill="#d6d6d6" stroke="#484848" stroke-width="0.5"/>
<circle cx="5.1" cy="37.2" r="2.4" fill="#d6d6d6" stroke="#484848" stroke-width="0.5"/>
<circle cx="106.6" cy="137.8" r="1.6" fill="#d6d6d6" stroke="#484848" stroke-width="0.5"/>
<circle cx="8.8" cy="116.0" r="3.2" fill="#d6d6d6" stroke="#484848" stroke-width="0.5"/>
<circle cx="14.5" cy="56.2" r="1.7" fill="#d6d6d6" stroke="#484848" stroke-width="0.5"/>
<circle cx="41.1" cy="48.0" r="2.1" fill="#d6d6d6" stroke="#484848" stroke-width="0.5"/>
<circle cx="59.9" cy="35.2" r="1.8" fill="#d6d6d6" stroke="#484848" stroke-width="0.5"/>
<circle cx="83.9" cy="66.2" r="2.3" fill="#d6d6d6" stroke="#484848" stroke-width="0.5"/>
<circle cx="23.2" cy="67.5" r="3.0" fill="#d6d6d6" stroke="#484848" stroke-width="0.5"/>
<circle cx="31.9" cy="21.9" r="2.2" fill="#d6d6d6" stroke="#484848" stroke-width="0.5"/>
<circle cx="24.5" cy="32.9" r="1.8" fill="#d6d6d6" stroke="#484848" stroke-width="0.5"/>
<circle cx="136.6" cy="93.5" r="2.2" fill="#d6d6d6" stroke="#484848" stroke-width="0.5"/>
<circle cx="85.3" cy="63.3" r="2.5" fill="#d6d6d6" stroke="#484848" stroke-width="0.5"/>
<circle cx="93.3" cy="42.3" r="1.9" fill="#d6d6d6" stroke="#484848" stroke-width="0.5"/>
<circle cx="143.3" cy="109.7" r="2.4" fill="#d6d6d6" stroke="#484848" stroke-width="0.5"/>
<circle cx="96.3" cy="44.2" r="1.6" fill="#d6d6d6" stroke="#484848" stroke-width="0.5"/>
<circle cx="114.6" cy="45.3" r="2.4" fill="#d6d6d6" stroke="#484848" stroke-width="0.5"/>
<circle cx="124.7" cy="87.5" r="2.3" fill="#d6d6d6" stroke="#484848" stroke-width="0.5"/>
<circle cx="77.1" cy="41.6" r="2.9" fill="#d6d6d6" stroke="#484848" stroke-width="0.5"/>
<circle cx="43.0" cy="104.9" r="2.9" fill="#d6d6d6" stroke="#484848" stroke-width="0.5"/>
<circle cx="94.6" cy="90.1" r="1.5" fill="#d6d6d6" stroke="#484848" stroke-width="0.5"/>
<circle cx="134.9" cy="63.8" r="3.3" fill="#d6d6d6" stroke="#484848" stroke-width="0.5"/>
<circle cx="62.8" cy="119.5" r="2.0" fill="#d6d6d6" stroke="#484848" stroke-width="0.5"/>
<circle cx="57.7" cy="41.7" r="2.9" fill="#d6d6d6" stroke="#484848" stroke-width="0.5"/>
<circle cx="78.9" cy="42.3" r="1.2" fill="#d6d6d6" stroke="#484848" stroke-width="0.5"/>
<circle cx="124.6" cy="0.5" r="2.0" fill="#d6d6d6" stroke="#484848" stroke-width="0.5"/>
<circle cx="38.2" cy="100.1" r="1.6" fill="#d6d6d6" stroke="#484848" stroke-width="0.5"/>
<circle cx="115.7" cy="118.2" r="2.3" fill="#d6d6d6" stroke="#484848" stroke-width="0.5"/>
<circle cx="86.7" cy="76.7" r="2.4" fill="#d6d6d6" stroke="#484848" stroke-width="0.5"/>
<circle cx="63.5" cy="19.3" r="1.4" fill="#d6d6d6" stroke="#484848" stroke-width="0.5"/>
<circle cx="84.2" cy="15.0" r="2.7" fill="#d6d6d6" stroke="#484848" stroke-width="0.5"/>
<circle cx="92.9" cy="117.9" r="2.2" fill="#d6d6d6" stroke="#484848" stroke-width="0.5"/>
<circle cx="59.2" cy="45.7" r="2.3" fill="#d6d6d6" stroke="#484848" stroke-width="0.5"/>
<circle cx="98.2" cy="122.4" r="1.7" fill="#d6d6d6" stroke="#484848" stroke-width="0.5"/>
<circle cx="120.4" cy="125.7" r="2.3" fill="#d6d6d6" stroke="#484848" stroke-width="0.5"/>
<circle cx="76.2" cy="131.7" r="2.5" fill="#d6d6d6" stroke="#484848" stroke-width="0.5"/>
<circle cx="23.7" cy="120.6" r="2.1" fill="#d6d6d6" stroke="#484848" stroke-width="0.5"/>
<circle cx="25.5" cy="105.7" r="2.0" fill="#d6d6d6" stroke="#484848" stroke-width="0.5"/>
<circle cx="133.7" cy="55.7" r="1.8" fill="#d6d6d6" stroke="#484848" stroke-width="0.5"/>
<circle cx="27.3" cy="108.8" r="1.7" fill="#d6d6d6" stroke="#484848" stroke-width="0.5"/>
<circle cx="22.6" cy="54.1" r="2.8" fill="#d6d6d6" stroke="#484848" stroke-width="0.5"/>
<circle cx="143.6" cy="140.2" r="2.9" fill="#d6d6d6" stroke="#484848" stroke-width="0.5"/>
<circle cx="120.8" cy="77.5" r="2.3" fill="#d6d6d6" stroke="#484848" stroke-width="0.5"/>
<circle cx="44.8" cy="134.7" r="3.0" fill="#d6d6d6" stroke="#484848" stroke-width="0.5"/>
<circle cx="1.6" cy="21.3" r="3.2" fill="#d6d6d6" stroke="#484848" stroke-width="0.5"/>
<circle cx="129.7" cy="141.3" r="1.8" fill="#d6d6d6" stroke="#484848" stroke-width="0.5"/>
<circle cx="69.4" cy="114.9" r="1.7" fill="#d6d6d6" stroke="#484848" stroke-width="0.5"/>
<circle cx="78.0" cy="16.8" r="1.5" fill="#d6d6d6" stroke="#484848" stroke-width="0.5"/>
<circle cx="55.1" cy="104.1" r="1.2" fill="#d6d6d6" stroke="#484848" stroke-width="0.5"/>
<circle cx="69.0" cy="11.2" r="1.8" fill="#d6d6d6" stroke="#484848" stroke-width="0.5"/>
<circle cx="128.3" cy="140.9" r="1.5" fill="#d6d6d6" stroke="#484848" stroke-width="0.5"/>
<circle cx="34.3" cy="26.8" r="1.7" fill="#d6d6d6" stroke="#484848" stroke-width="0.5"/>
<circle cx="43.7" cy="11.6" r="2.5" fill="#d6d6d6" stroke="#484848" stroke-width="0.5"/>
<circle cx="57.4" cy="91.1" r="3.1" fill="#d6d6d6" stroke="#484848" stroke-width="0.5"/>
<circle cx="140.2" cy="126.1" r="1.3" fill="#d6d6d6" stroke="#484848" stroke-width="0.5"/>
<circle cx="125.8" cy="13.7" r="2.5" fill="#d6d6d6" stroke="#484848" stroke-width="0.5"/>
<circle cx="105.1" cy="53.3" r="2.9" fill="#d6d6d6" stroke="#484848" stroke-width="0.5"/>
<circle cx="85.4" cy="132.4" r="1.8" fill="#d6d6d6" stroke="#484848" stroke-width="0.5"/>
<circle cx="75.4" cy="71.4" r="1.7" fill="#d6d6d6" stroke="#484848" stroke-width="0.5"/>
<circle cx="102.3" cy="133.4" r="2.8" fill="#d6d6d6" stroke="#484848" stroke-width="0.5"/>
<circle cx="66.0" cy="55.4" r="1.8" fill="#d6d6d6" stroke="#484848" stroke-width="0.5"/>
<circle cx="141.1" cy="121.2" r="1.5" fill="#d6d6d6" stroke="#484848" stroke-width="0.5"/>
<circle cx="2.7" cy="60.0" r="3.2" fill="#d6d6d6" stroke="#484848" stroke-width="0.5"/>
<circle cx="31.6" cy="103.8" r="3.1" fill="#d6d6d6" stroke="#484848" stroke-width="0.5"/>
<circle cx="47.9" cy="88.9" r="2.6" fill="#d6d6d6" stroke="#484848" stroke-width="0.5"/>
<circle cx="14.3" cy="98.4" r="1.8" fill="#d6d6d6" stroke="#484848" stroke-width="0.5"/>
<circle cx="2.9" cy="35.6" r="3.3" fill="#d6d6d6" stroke="#484848" stroke-width="0.5"/>
<circle cx="10.5" cy="30.3" r="2.6" fill="#d6d6d6" stroke="#484848" stroke-width="0.5"/>
<circle cx="26.7" cy="90.2" r="2.8" fill="#d6d6d6" stroke="#484848" stroke-width="0.5"/>
<circle cx="72.7" cy="96.2" r="2.8" fill="#d6d6d6" stroke="#484848" stroke-width="0.5"/>
<circle cx="97.1" cy="138.3" r="1.7" fill="#d6d6d6" stroke="#484848" stroke-width="0.5"/>
<circle cx="6.4" cy="40.9" r="3.3" fill="#d6d6d6" stroke="#484848" stroke-width="0.5"/>
<circle cx="60.7" cy="70.3" r="2.5" fill="#d6d6d6" stroke="#484848" stroke-width="0.5"/>
<circle cx="96.1" cy="0.3" r="2.4" fill="#d6d6d6" stroke="#484848" stroke-width="0.5"/>
<circle cx="5.5" cy="69.3" r="1.2" fill="#d6d6d6" stroke="#484848" stroke-width="0.5"/>
<circle cx="17.5" cy="80.5" r="2.2" fill="#d6d6d6" stroke="#484848" stroke-width="0.5"/>
<circle cx="33.8" cy="114.7" r="1.6" fill="#d6d6d6" stroke="#484848" stroke-width="0.5"/>
<circle cx="20.0" cy="28.2" r="2.0" fill="#d6d6d6" stroke="#484848" stroke-width="0.5"/>
<circle cx="69.4" cy="122.3" r="1.8" fill="#d6d6d6" stroke="#484848" stroke-width="0.5"/>
<circle cx="109.9" cy="99.5" r="2.5" fill="#d6d6d6" stroke="#484848" stroke-width="0.5"/>
<circle cx="29.8" cy="27.2" r="3.2" fill="#d6d6d6" stroke="#484848" stroke-width="0.5"/>
<circle cx="59.6" cy="110.6" r="1.5" fill="#d6d6d6" stroke="#484848" stroke-width="0.5"/>
<circle cx="134.9" cy="11.9" r="1.8" fill="#d6d6d6" stroke="#484848" stroke-width="0.5"/>
<circle cx="80.2" cy="118.0" r="3.3" fill="#d6d6d6" stroke="#484848" stroke-width="0.5"/>
<circle cx="20.0" cy="8.3" r="1.9" fill="#d6d6d6" stroke="#484848" stroke-width="0.5"/>
<circle cx="75.5" cy="86.5" r="3.1" fill="#d6d6d6" stroke="#484848" stroke-width="0.5"/>
<circle cx="124.0" cy="98.6" r="3.3" fill="#d6d6d6" stroke="#484848" stroke-width="0.5"/>
<circle cx="123.2" cy="6.8" r="2.0" fill="#d6d6d6" stroke="#484848" stroke-width="0.5"/>
<circle cx="6.3" cy="35.1" r="2.3" fill="#d6d6d6" stroke="#484848" stroke-width="0.5"/>
<circle cx="71.0" cy="110.2" r="3.1" fill="#d6d6d6" stroke="#484848" stroke-width="0.5"/>
<circle cx="86.2" cy="66.7" r="1.4" fill="#d6d6d6" stroke="#484848" stroke-width="0.5"/>
<circle cx="33.1" cy="130.6" r="3.3" fill="#d6d6d6" stroke="#484848" stroke-width="0.5"/>
<circle cx="120.9" cy="113.3" r="2.9" fill="#d6d6d6" stroke="#484848" stroke-width="0.5"/>
<circle cx="19.6" cy="65.2" r="1.2" fill="#d6d6d6" stroke="#484848" stroke-width="0.5"/>
<circle cx="116.2" cy="111.9" r="3.0" fill="#d6d6d6" stroke="#484848" stroke-width="0.5"/>
<circle cx="91.4" cy="40.8" r="2.1" fill="#d6d6d6" stroke="#484848" stroke-width="0.5"/>
<circle cx="0.8" cy="36.8" r="2.8" fill="#d6d6d6" stroke="#484848" stroke-width="0.5"/>
<circle cx="63.3" cy="25.0" r="3.1" fill="#d6d6d6" stroke="#484848" stroke-width="0.5"/>
<circle cx="61.3" cy="65.5" r="1.6" fill="#d6d6d6" stroke="#484848" stroke-width="0.5"/>
<circle cx="60.1" cy="138.8" r="2.1" fill="#d6d6d6" stroke="#484848" stroke-width="0.5"/>
<circle cx="23.8" cy="126.9" r="2.8" fill="#d6d6d6" stroke="#484848" stroke-width="0.5"/>
<circle cx="6.3" cy="3.2" r="1.9" fill="#d6d6d6" stroke="#484848" stroke-width="0.5"/>
<circle cx="58.3" cy="114.2" r="1.3" fill="#d6d6d6" stroke="#484848" stroke-width="0.5"/>
<circle cx="105.5" cy="64.0" r="1.7" fill="#d6d6d6" stroke="#484848" stroke-width="0.5"/>
<circle cx="16.4" cy="64.9" r="1.5" fill="#d6d6d6" stroke="#484848" stroke-width="0.5"/>
<circle cx="6.9" cy="141.2" r="2.8" fill="#d6d6d6" stroke="#484848" stroke-width="0.5"/>
<circle cx="100.5" cy="109.5" r="1.4" fill="#d6d6d6" stroke="#484848" stroke-width="0.5"/>
<circle cx="110.5" cy="34.3" r="2.4" fill="#d6d6d6" stroke="#484848" stroke-width="0.5"/>
<circle cx="70.1" cy="14.5" r="3.2" fill="#d6d6d6" stroke="#484848" stroke-width="0.5"/>
<circle cx="119.7" cy="93.3" r="2.3" fill="#d6d6d6" stroke="#484848" stroke-width="0.5"/>
<circle cx="16.5" cy="18.3" r="1.3" fill="#d6d6d6" stroke="#484848" stroke-width="0.5"/>
<circle cx="122.4" cy="133.5" r="2.8" fill="#d6d6d6" stroke="#484848" stroke-width="0.5"/>
<circle cx="35.1" cy="118.4" r="3.4" fill="#d6d6d6" stroke="#484848" stroke-width="0.5"/>
<circle cx="7.3" cy="84.3" r="1.6" fill="#d6d6d6" stroke="#484848" stroke-width="0.5"/>
<circle cx="67.5" cy="15.9" r="2.6" fill="#d6d6d6" stroke="#484848" stroke-width="0.5"/>
<circle cx="101.5" cy="94.5" r="2.1" fill="#d6d6d6" stroke="#484848" stroke-width="0.5"/>
<circle cx="77.0" cy="17.1" r="3.3" fill="#d6d6d6" stroke="#484848" stroke-width="0.5"/>
<circle cx="98.1" cy="73.4" r="2.7" fill="#d6d6d6" stroke="#484848" stroke-width="0.5"/>
<circle cx="133.6" cy="27.6" r="2.0" fill="#d6d6d6" stroke="#484848" stroke-width="0.5"/>
<circle cx="34.4" cy="41.8" r="3.1" fill="#d6d6d6" stroke="#484848" stroke-width="0.5"/>
<circle cx="75.5" cy="26.3" r="2.2" fill="#d6d6d6" stroke="#484848" stroke-width="0.5"/>
<circle cx="64.1" cy="131.1" r="3.3" fill="#d6d6d6" stroke="#484848" stroke-width="0.5"/>
<circle cx="109.0" cy="22.3" r="3.1" fill="#d6d6d6" stroke="#484848" stroke-width="0.5"/>
<circle cx="130.6" cy="65.2" r="1.6" fill="#d6d6d6" stroke="#484848" stroke-width="0.5"/>
<circle cx="63.3" cy="94.4" r="2.9" fill="#d6d6d6" stroke="#484848" stroke-width="0.5"/>
<circle cx="10.2" cy="125.8" r="1.6" fill="#d6d6d6" stroke="#484848" stroke-width="0.5"/>
<circle cx="58.2" cy="31.7" r="3.4" fill="#d6d6d6" stroke="#484848" stroke-width="0.5"/>
<circle cx="69.2" cy="26.7" r="1.5" fill="#d6d6d6" stroke="#484848" stroke-width="0.5"/>
<circle cx="1.0" cy="17.7" r="2.9" fill="#d6d6d6" stroke="#484848" stroke-width="0.5"/>
<circle cx="15.8" cy="114.0" r="3.0" fill="#d6d6d6" stroke="#484848" stroke-width="0.5"/>
<circle cx="72.0" cy="82.3" r="1.6" fill="#d6d6d6" stroke="#484848" stroke-width="0.5"/>
<circle cx="110.8" cy="102.0" r="2.3" fill="#d6d6d6" stroke="#484848" stroke-width="0.5"/>
<circle cx="73.2" cy="40.8" r="1.5" fill="#d6d6d6" stroke="#484848" stroke-width="0.5"/>
<circle cx="51.1" cy="135.3" r="2.5" fill="#d6d6d6" stroke="#484848" stroke-width="0.5"/>
<circle cx="96.5" cy="14.8" r="3.2" fill="#d6d6d6" stroke="#484848" stroke-width="0.5"/>
<circle cx="81.3" cy="59.0" r="1.6" fill="#d6d6d6" stroke="#484848" stroke-width="0.5"/>
<circle cx="3.1" cy="62.3" r="1.9" fill="#d6d6d6" stroke="#484848" stroke-width="0.5"/>
<circle cx="111.3" cy="129.0" r="2.4" fill="#d6d6d6" stroke="#484848" stroke-width="0.5"/>
<circle cx="134.9" cy="9.6" r="3.2" fill="#d6d6d6" stroke="#484848" stroke-width="0.5"/>
<circle cx="74.0" cy="137.5" r="3.1" fill="#d6d6d6" stroke="#484848" stroke-width="0.5"/>
<circle cx="68.2" cy="98.4" r="1.7" fill="#d6d6d6" stroke="#484848" stroke-width="0.5"/>
<circle cx="29.8" cy="120.5" r="2.4" fill="#d6d6d6" stroke="#484848" stroke-width="0.5"/>
<circle cx="60.0" cy="136.7" r="1.5" fill="#d6d6d6" stroke="#484848" stroke-width="0.5"/>
<circle cx="5.3" cy="63.5" r="2.2" fill="#d6d6d6" stroke="#484848" stroke-width="0.5"/>
<circle cx="127.9" cy="89.5" r="1.5" fill="#d6d6d6" stroke="#484848" stroke-width="0.5"/>
<circle cx="105.3" cy="69.4" r="3.3" fill="#d6d6d6" stroke="#484848" stroke-width="0.5"/>
<circle cx="36.6" cy="20.7" r="1.7" fill="#d6d6d6" stroke="#484848" stroke-width="0.5"/>
<circle cx="25.0" cy="79.7" r="2.1" fill="#d6d6d6" stroke="#484848" stroke-width="0.5"/>
<circle cx="71.6" cy="65.4" r="2.9" fill="#d6d6d6" stroke="#484848" stroke-width="0.5"/>
<circle cx="62.1" cy="5.1" r="1.4" fill="#d6d6d6" stroke="#484848" stroke-width="0.5"/>
<circle cx="23.9" cy="49.7" r="3.2" fill="#d6d6d6" stroke="#484848" stroke-width="0.5"/>
<circle cx="68.5" cy="59.7" r="1.6" fill="#d6d6d6" stroke="#484848" stroke-width="0.5"/>
<circle cx="6.9" cy="6.5" r="1.7" fill="#d6d6d6" stroke="#484848" stroke-width="0.5"/>
<circle cx="44.8" cy="98.9" r="3.0" fill="#d6d6d6" stroke="#484848" stroke-width="0.5"/>
<circle cx="56.5" cy="118.1" r="1.8" fill="#d6d6d6" stroke="#484848" stroke-width="0.5"/>
<circle cx="114.4" cy="55.2" r="1.6" fill="#d6d6d6" stroke="#484848" stroke-width="0.5"/>
<circle cx="130.1" cy="137.6" r="2.0" fill="#d6d6d6" stroke="#484848" stroke-width="0.5"/>
<circle cx="98.8" cy="79.9" r="1.9" fill="#d6d6d6" stroke="#484848" stroke-width="0.5"/>
<circle cx="39.7" cy="11.6" r="2.0" fill="#d6d6d6" stroke="#484848" stroke-width="0.5"/>
<circle cx="83.2" cy="31.4" r="3.1" fill="#d6d6d6" stroke="#484848" stroke-width="0.5"/>
<circle cx="16.7" cy="83.2" r="2.3" fill="#d6d6d6" stroke="#484848" stroke-width="0.5"/>
<circle cx="88.2" cy="71.7" r="1.2" fill="#d6d6d6" stroke="#484848" stroke-width="0.5"/>
<circle cx="36.2" cy="115.0" r="3.3" fill="#d6d6d6" stroke="#484848" stroke-width="0.5"/>
<circle cx="42.0" cy="131.1" r="1.7" fill="#d6d6d6" stroke="#484848" stroke-width="0.5"/>
<circle cx="110.4" cy="25.9" r="1.7" fill="#d6d6d6" stroke="#484848" stroke-width="0.5"/>
<circle cx="96.8" cy="86.2" r="2.7" fill="#d6d6d6" stroke="#484848" stroke-width="0.5"/>
<circle cx="74.4" cy="49.3" r="2.9" fill="#d6d6d6" stroke="#484848" stroke-width="0.5"/>
<circle cx="84.7" cy="34.6" r="1.8" fill="#d6d6d6" stroke="#484848" stroke-width="0.5"/>
<circle cx="84.0" cy="25.2" r="3.1" fill="#d6d6d6" stroke="#484848" stroke-width="0.5"/>
<circle cx="54.0" cy="117.7" r="2.4" fill="#d6d6d6" stroke="#484848" stroke-width="0.5"/>
<circle cx="50.6" cy="31.9" r="3.4" fill="#d6d6d6" stroke="#484848" stroke-width="0.5"/>
<circle cx="27.9" cy="83.6" r="2.4" fill="#d6d6d6" stroke="#484848" stroke-width="0.5"/>
<circle cx="140.6" cy="59.0" r="1.6" fill="#d6d6d6" stroke="#484848" stroke-width="0.5"/>
<circle cx="65.7" cy="67.6" r="1.8" fill="#d6d6d6" stroke="#484848" stroke-width="0.5"/>
<circle cx="85.3" cy="4.3" r="1.2" fill="#d6d6d6" stroke="#484848" stroke-width="0.5"/>
<circle cx="71.0" cy="120.9" r="3.2" fill="#d6d6d6" stroke="#484848" stroke-width="0.5"/>
<circle cx="58.1" cy="94.7" r="2.0" fill="#d6d6d6" stroke="#484848" stroke-width="0.5"/>
<circle cx="18.7" cy="112.0" r="2.2" fill="#d6d6d6" stroke="#484848" stroke-width="0.5"/>
<circle cx="136.0" cy="65.4" r="2.3" fill="#d6d6d6" stroke="#484848" stroke-width="0.5"/>
<circle cx="97.8" cy="48.8" r="2.4" fill="#d6d6d6" stroke="#484848" stroke-width="0.5"/>
<circle cx="136.0" cy="58.9" r="1.4" fill="#d6d6d6" stroke="#484848" stroke-width="0.5"/>
<circle cx="80.7" cy="83.7" r="2.6" fill="#d6d6d6" stroke="#484848" stroke-width="0.5"/>
<circle cx="141.6" cy="92.5" r="2.7" fill="#d6d6d6" stroke="#484848" stroke-width="0.5"/>
<circle cx="10.5" cy="30.3" r="2.9" fill="#d6d6d6" stroke="#484848" stroke-width="0.5"/>
<circle cx="33.8" cy="23.5" r="2.9" fill="#d6d6d6" stroke="#484848" stroke-width="0.5"/>
<circle cx="44.0" cy="11.3" r="2.8" fill="#d6d6d6" stroke="#484848" stroke-width="0.5"/>
<circle cx="46.3" cy="101.5" r="3.4" fill="#d6d6d6" stroke="#484848" stroke-width="0.5"/>
<circle cx="11.4" cy="3.2" r="2.5" fill="#d6d6d6" stroke="#484848" stroke-width="0.5"/>
<circle cx="123.1" cy="82.7" r="2.4" fill="#d6d6d6" stroke="#484848" stroke-width="0.5"/>
<circle cx="10.4" cy="39.6" r="2.5" fill="#d6d6d6" stroke="#484848" stroke-width="0.5"/>
<circle cx="94.8" cy="83.3" r="2.2" fill="#d6d6d6" stroke="#484848" stroke-width="0.5"/>
<circle cx="42.2" cy="104.9" r="2.4" fill="#d6d6d6" stroke="#484848" stroke-width="0.5"/>
<circle cx="30.0" cy="32.8" r="1.3" fill="#d6d6d6" stroke="#484848" stroke-width="0.5"/>
<circle cx="134.6" cy="52.2" r="1.8" fill="#d6d6d6" stroke="#484848" stroke-width="0.5"/>
<circle cx="90.8" cy="9.0" r="3.2" fill="#d6d6d6" stroke="#484848" stroke-width="0.5"/>
<circle cx="4.1" cy="42.4" r="1.9" fill="#d6d6d6" stroke="#484848" stroke-width="0.5"/>
<circle cx="139.0" cy="76.0" r="1.7" fill="#d6d6d6" stroke="#484848" stroke-width="0.5"/>
<circle cx="143.8" cy="100.8" r="1.2" fill="#d6d6d6" stroke="#484848" stroke-width="0.5"/>
<circle cx="139.2" cy="50.6" r="2.1" fill="#d6d6d6" stroke="#484848" stroke-width="0.5"/>
<circle cx="116.5" cy="117.8" r="2.6" fill="#d6d6d6" stroke="#484848" stroke-width="0.5"/>
<circle cx="17.7" cy="45.0" r="2.4" fill="#d6d6d6" stroke="#484848" stroke-width="0.5"/>
<circle cx="78.5" cy="97.8" r="1.5" fill="#d6d6d6" stroke="#484848" stroke-width="0.5"/>
<circle cx="104.3" cy="133.3" r="1.4" fill="#d6d6d6" stroke="#484848" stroke-width="0.5"/>
<circle cx="43.0" cy="46.6" r="2.1" fill="#d6d6d6" stroke="#484848" stroke-width="0.5"/>
<circle cx="93.1" cy="5.5" r="1.3" fill="#d6d6d6" stroke="#484848" stroke-width="0.5"/>
<circle cx="43.5" cy="13.7" r="3.4" fill="#d6d6d6" stroke="#484848" stroke-width="0.5"/>
<circle cx="85.7" cy="8.7" r="3.2" fill="#d6d6d6" stroke="#484848" stroke-width="0.5"/>
<circle cx="128.5" cy="22.9" r="2.8" fill="#d6d6d6" stroke="#484848" stroke-width="0.5"/>
<circle cx="3.4" cy="27.0" r="3.3" fill="#d6d6d6" stroke="#484848" stroke-width="0.5"/>
<circle cx="140.7" cy="65.8" r="3.2" fill="#d6d6d6" stroke="#484848" stroke-width="0.5"/>
<circle cx="62.6" cy="58.4" r="2.5" fill="#d6d6d6" stroke="#484848" stroke-width="0.5"/>
<circle cx="4.4" cy="37.3" r="1.4" fill="#d6d6d6" stroke="#484848" stroke-width="0.5"/>
<circle cx="1.5" cy="119.1" r="1.5" fill="#d6d6d6" stroke="#484848" stroke-width="0.5"/>
<circle cx="75.9" cy="108.5" r="2.9" fill="#d6d6d6" stroke="#484848" stroke-width="0.5"/>
<circle cx="104.4" cy="128.4" r="2.3" fill="#d6d6d6" stroke="#484848" stroke-width="0.5"/>
<circle cx="48.5" cy="128.2" r="1.3" fill="#d6d6d6" stroke="#484848" stroke-width="0.5"/>
<circle cx="49.6" cy="69.9" r="3.2" fill="#d6d6d6" stroke="#484848" stroke-width="0.5"/>
<circle cx="43.2" cy="97.8" r="1.6" fill="#d6d6d6" stroke="#484848" stroke-width="0.5"/>
<circle cx="128.8" cy="39.8" r="2.0" fill="#d6d6d6" stroke="#484848" stroke-width="0.5"/>
<circle cx="120.6" cy="115.2" r="2.2" fill="#d6d6d6" stroke="#484848" stroke-width="0.5"/>
<circle cx="24.0" cy="15.2" r="2.3" fill="#d6d6d6" stroke="#484848" stroke-width="0.5"/>
<circle cx="124.7" cy="43.1" r="1.5" fill="#d6d6d6" stroke="#484848" stroke-width="0.5"/>
<circle cx="14.1" cy="102.8" r="1.4" fill="#d6d6d6" stroke="#484848" stroke-width="0.5"/>
<circle cx="41.6" cy="20.7" r="1.5" fill="#d6d6d6" stroke="#484848" stroke-width="0.5"/>
<circle cx="96.6" cy="115.9" r="3.3" fill="#d6d6d6" stroke="#484848" stroke-width="0.5"/>
<circle cx="118.1" cy="102.4" r="2.5" fill="#d6d6d6" stroke="#484848" stroke-width="0.5"/>
<circle cx="7.8" cy="35.5" r="2.1" fill="#d6d6d6" stroke="#484848" stroke-width="0.5"/>
<circle cx="61.5" cy="46.0" r="2.1" fill="#d6d6d6" stroke="#484848" stroke-width="0.5"/>
<circle cx="65.5" cy="56.5" r="2.2" fill="#d6d6d6" stroke="#484848" stroke-width="0.5"/>
<circle cx="90.5" cy="109.2" r="2.1" fill="#d6d6d6" stroke="#484848" stroke-width="0.5"/>
<circle cx="119.5" cy="137.2" r="2.8" fill="#d6d6d6" stroke="#484848" stroke-width="0.5"/>
<circle cx="88.7" cy="6.8" r="2.3" fill="#d6d6d6" stroke="#484848" stroke-width="0.5"/>
<circle cx="73.1" cy="99.4" r="2.2" fill="#d6d6d6" stroke="#484848" stroke-width="0.5"/>
<circle cx="39.2" cy="104.5" r="2.0" fill="#d6d6d6" stroke="#484848" stroke-width="0.5"/>
<circle cx="73.2" cy="113.8" r="2.6" fill="#d6d6d6" stroke="#484848" stroke-width="0.5"/>
<circle cx="30.7" cy="118.9" r="2.6" fill="#d6d6d6" stroke="#484848" stroke-width="0.5"/>
<circle cx="114.4" cy="48.5" r="3.1" fill="#d6d6d6" stroke="#484848" stroke-width="0.5"/>
<circle cx="50.7" cy="137.9" r="1.4" fill="#d6d6d6" stroke="#484848" stroke-width="0.5"/>
<circle cx="57.6" cy="61.1" r="2.0" fill="#d6d6d6" stroke="#484848" stroke-width="0.5"/>
<circle cx="132.5" cy="108.3" r="3.1" fill="#d6d6d6" stroke="#484848" stroke-width="0.5"/>
<circle cx="48.2" cy="136.8" r="2.1" fill="#d6d6d6" stroke="#484848" stroke-width="0.5"/>
<circle cx="23.7" cy="127.0" r="3.3" fill="#d6d6d6" stroke="#484848" stroke-width="0.5"/>
<circle cx="143.7" cy="51.1" r="2.7" fill="#d6d6d6" stroke="#484848" stroke-width="0.5"/>
<circle cx="103.2" cy="37.4" r="1.4" fill="#d6d6d6" stroke="#484848" stroke-width="0.5"/>
<circle cx="72.5" cy="47.1" r="2.6" fill="#d6d6d6" stroke="#484848" stroke-width="0.5"/>
<circle cx="36.5" cy="68.9" r="2.0" fill="#d6d6d6" stroke="#484848" stroke-width="0.5"/>
<circle cx="30.7" cy="131.2" r="1.7" fill="#d6d6d6" stroke="#484848" stroke-width="0.5"/>
<circle cx="46.4" cy="46.0" r="3.3" fill="#d6d6d6" stroke="#484848" stroke-width="0.5"/>
<circle cx="92.0" cy="119.4" r="1.8" fill="#d6d6d6" stroke="#484848" stroke-width="0.5"/>
<circle cx="31.1" cy="133.8" r="1.3" fill="#d6d6d6" stroke="#484848" stroke-width="0.5"/>
<circle cx="135.2" cy="130.3" r="3.3" fill="#d6d6d6" stroke="#484848" stroke-width="0.5"/>
<circle cx="79.9" cy="86.6" r="1.8" fill="#d6d6d6" stroke="#484848" stroke-width="0.5"/>
<circle cx="56.9" cy="32.7" r="1.4" fill="#d6d6d6" stroke="#484848" stroke-width="0.5"/>
<circle cx="49.8" cy="17.0" r="2.5" fill="#d6d6d6" stroke="#484848" stroke-width="0.5"/>
<circle cx="0.5" cy="76.5" r="1.5" fill="#d6d6d6" stroke="#484848" stroke-width="0.5"/>
<circle cx="72.0" cy="113.6" r="1.5" fill="#d6d6d6" stroke="#484848" stroke-width="0.5"/>
<circle cx="47.4" cy="102.3" r="3.3" fill="#d6d6d6" stroke="#484848" stroke-width="0.5"/>
<circle cx="90.5" cy="100.3" r="2.0" fill="#d6d6d6" stroke="#484848" stroke-width="0.5"/>
<circle cx="101.5" cy="12.4" r="3.2" fill="#d6d6d6" stroke="#484848" stroke-width="0.5"/>
<circle cx="80.6" cy="88.9" r="2.9" fill="#d6d6d6" stroke="#484848" stroke-width="0.5"/>
<circle cx="79.5" cy="111.3" r="1.9" fill="#d6d6d6" stroke="#484848" stroke-width="0.5"/>
<circle cx="112.0" cy="59.8" r="1.5" fill="#d6d6d6" stroke="#484848" stroke-width="0.5"/>
<circle cx="95.7" cy="118.4" r="3.0" fill="#d6d6d6" stroke="#484848" stroke-width="0.5"/>
<circle cx="88.6" cy="110.2" r="2.0" fill="#d6d6d6" stroke="#484848" stroke-width="0.5"/>
<circle cx="40.2" cy="95.2" r="1.3" fill="#d6d6d6" stroke="#484848" stroke-width="0.5"/>
<circle cx="40.6" cy="7.3" r="3.3" fill="#d6d6d6" stroke="#484848" stroke-width="0.5"/>
<circle cx="80.7" cy="120.2" r="2.7" fill="#d6d6d6" stroke="#484848" stroke-width="0.5"/>
<circle cx="114.6" cy="74.3" r="3.2" fill="#d6d6d6" stroke="#484848" stroke-width="0.5"/>
<circle cx="93.2" cy="93.4" r="1.7" fill="#d6d6d6" stroke="#484848" stroke-width="0.5"/>
<circle cx="56.7" cy="44.7" r="1.7" fill="#d6d6d6" stroke="#484848" stroke-width="0.5"/>
<circle cx="98.0" cy="99.6" r="3.4" fill="#d6d6d6" stroke="#484848" stroke-width="0.5"/>
<circle cx="21.3" cy="26.1" r="2.1" fill="#d6d6d6" stroke="#484848" stroke-width="0.5"/>
<circle cx="94.3" cy="109.4" r="2.3" fill="#d6d6d6" stroke="#484848" stroke-width="0.5"/>
<circle cx="82.0" cy="28.5" r="1.7" fill="#d6d6d6" stroke="#484848" stroke-width="0.5"/>
<circle cx="75.0" cy="25.6" r="2.3" fill="#d6d6d6" stroke="#484848" stroke-width="0.5"/>
<circle cx="94.6" cy="67.4" r="3.1" fill="#d6d6d6" stroke="#484848" stroke-width="0.5"/>
<circle cx="99.0" cy="137.7" r="3.1" fill="#d6d6d6" stroke="#484848" stroke-width="0.5"/>
<circle cx="142.6" cy="121.2" r="2.8" fill="#d6d6d6" stroke="#484848" stroke-width="0.5"/>
<circle cx="107.7" cy="78.6" r="2.9" fill="#d6d6d6" stroke="#484848" stroke-width="0.5"/>
<circle cx="141.9" cy="50.7" r="3.1" fill="#d6d6d6" stroke="#484848" stroke-width="0.5"/>
<circle cx="95.3" cy="30.8" r="1.5" fill="#d6d6d6" stroke="#484848" stroke-width="0.5"/>
<circle cx="35.2" cy="127.5" r="2.4" fill="#d6d6d6" stroke="#484848" stroke-width="0.5"/>
<circle cx="92.7" cy="61.5" r="1.5" fill="#d6d6d6" stroke="#484848" stroke-width="0.5"/>
<circle cx="16.2" cy="69.7" r="1.4" fill="#d6d6d6" stroke="#484848" stroke-width="0.5"/>
<circle cx="137.6" cy="91.9" r="1.5" fill="#d6d6d6" stroke="#484848" stroke-width="0.5"/>
<circle cx="83.2" cy="94.2" r="1.8" fill="#d6d6d6" stroke="#484848" stroke-width="0.5"/>
<circle cx="117.3" cy="40.3" r="1.2" fill="#d6d6d6" stroke="#484848" stroke-width="0.5"/>
<circle cx="54.6" cy="67.4" r="1.3" fill="#d6d6d6" stroke="#484848" stroke-width="0.5"/>
<circle cx="121.8" cy="12.0" r="2.5" fill="#d6d6d6" stroke="#484848" stroke-width="0.5"/>
<circle cx="61.4" cy="15.1" r="1.6" fill="#d6d6d6" stroke="#484848" stroke-width="0.5"/>
<circle cx="40.4" cy="22.3" r="1.5" fill="#d6d6d6" stroke="#484848" stroke-width="0.5"/>
<circle cx="143.5" cy="66.2" r="1.3" fill="#d6d6d6" stroke="#484848" stroke-width="0.5"/>
<circle cx="127.8" cy="24.3" r="2.6" fill="#d6d6d6" stroke="#484848" stroke-width="0.5"/>
<circle cx="79.5" cy="88.7" r="1.6" fill="#d6d6d6" stroke="#484848" stroke-width="0.5"/>
<circle cx="122.5" cy="78.3" r="1.5" fill="#d6d6d6" stroke="#484848" stroke-width="0.5"/>
<circle cx="17.4" cy="18.5" r="1.7" fill="#d6d6d6" stroke="#484848" stroke-width="0.5"/>
<circle cx="132.3" cy="101.2" r="1.3" fill="#d6d6d6" stroke="#484848" stroke-width="0.5"/>
<circle cx="63.1" cy="70.2" r="2.0" fill="#d6d6d6" stroke="#484848" stroke-width="0.5"/>
<circle cx="91.3" cy="62.3" r="2.9" fill="#d6d6d6" stroke="#484848" stroke-width="0.5"/>
<circle cx="34.9" cy="117.3" r="1.2" fill="#d6d6d6" stroke="#484848" stroke-width="0.5"/>
<circle cx="66.4" cy="54.0" r="1.4" fill="#d6d6d6" stroke="#484848" stroke-width="0.5"/>
<circle cx="63.3" cy="24.8" r="2.3" fill="#d6d6d6" stroke="#484848" stroke-width="0.5"/>
<circle cx="110.4" cy="77.0" r="3.3" fill="#d6d6d6" stroke="#484848" stroke-width="0.5"/>
<circle cx="1.9" cy="108.0" r="1.8" fill="#d6d6d6" stroke="#484848" stroke-width="0.5"/>
<circle cx="105.4" cy="115.8" r="1.6" fill="#d6d6d6" stroke="#484848" stroke-width="0.5"/>
<circle cx="89.7" cy="46.8" r="3.0" fill="#d6d6d6" stroke="#484848" stroke-width="0.5"/>
<circle cx="45.1" cy="118.8" r="1.4" fill="#d6d6d6" stroke="#484848" stroke-width="0.5"/>
<circle cx="113.0" cy="91.8" r="3.3" fill="#d6d6d6" stroke="#484848" stroke-width="0.5"/>
<circle cx="139.1" cy="32.5" r="2.7" fill="#d6d6d6" stroke="#484848" stroke-width="0.5"/>
<circle cx="128.5" cy="65.2" r="1.6" fill="#d6d6d6" stroke="#484848" stroke-width="0.5"/>
<circle cx="76.0" cy="105.7" r="1.5" fill="#d6d6d6" stroke="#484848" stroke-width="0.5"/>
<circle cx="107.0" cy="121.7" r="2.8" fill="#d6d6d6" stroke="#484848" stroke-width="0.5"/>
<circle cx="77.0" cy="96.1" r="3.3" fill="#d6d6d6" stroke="#484848" stroke-width="0.5"/>
<circle cx="57.9" cy="28.3" r="1.6" fill="#d6d6d6" stroke="#484848" stroke-width="0.5"/>
<circle cx="10.8" cy="43.5" r="2.4" fill="#d6d6d6" stroke="#484848" stroke-width="0.5"/>
<circle cx="55.6" cy="82.3" r="2.4" fill="#d6d6d6" stroke="#484848" stroke-width="0.5"/>
<circle cx="110.6" cy="41.3" r="3.4" fill="#d6d6d6" stroke="#484848" stroke-width="0.5"/>
<circle cx="116.0" cy="134.1" r="1.3" fill="#d6d6d6" stroke="#484848" stroke-width="0.5"/>
<circle cx="99.2" cy="64.0" r="2.1" fill="#d6d6d6" stroke="#484848" stroke-width="0.5"/>
<circle cx="102.0" cy="16.3" r="2.2" fill="#d6d6d6" stroke="#484848" stroke-width="0.5"/>
<circle cx="1.1" cy="128.2" r="2.1" fill="#d6d6d6" stroke="#484848" stroke-width="0.5"/>
<circle cx="72.9" cy="138.4" r="2.2" fill="#d6d6d6" stroke="#484848" stroke-width="0.5"/>
<circle cx="81.9" cy="32.8" r="3.4" fill="#d6d6d6" stroke="#484848" stroke-width="0.5"/>
<circle cx="103.9" cy="136.4" r="1.9" fill="#d6d6d6" stroke="#484848" stroke-width="0.5"/>
<circle cx="22.8" cy="112.8" r="1.6" fill="#d6d6d6" stroke="#484848" stroke-width="0.5"/>
<circle cx="98.5" cy="103.2" r="2.8" fill="#d6d6d6" stroke="#484848" stroke-width="0.5"/>
<circle cx="114.8" cy="43.3" r="1.7" fill="#d6d6d6" stroke="#484848" stroke-width="0.5"/>
<circle cx="23.4" cy="130.4" r="2.2" fill="#d6d6d6" stroke="#484848" stroke-width="0.5"/>
<circle cx="6.3" cy="90.1" r="2.1" fill="#d6d6d6" stroke="#484848" stroke-width="0.5"/>
<circle cx="140.4" cy="83.4" r="2.6" fill="#d6d6d6" stroke="#484848" stroke-width="0.5"/>
<circle cx="37.2" cy="12.7" r="1.5" fill="#d6d6d6" stroke="#484848" stroke-width="0.5"/>
<circle cx="17.7" cy="14.2" r="1.8" fill="#d6d6d6" stroke="#484848" stroke-width="0.5"/>
<circle cx="96.0" cy="107.9" r="1.9" fill="#d6d6d6" stroke="#484848" stroke-width="0.5"/>
<circle cx="97.4" cy="14.2" r="1.5" fill="#d6d6d6" stroke="#484848" stroke-width="0.5"/>
<circle cx="49.1" cy="32.1" r="1.8" fill="#d6d6d6" stroke="#484848" stroke-width="0.5"/>
<circle cx="21.2" cy="2.8" r="3.4" fill="#d6d6d6" stroke="#484848" stroke-width="0.5"/>
<circle cx="5.1" cy="18.2" r="2.1" fill="#d6d6d6" stroke="#484848" stroke-width="0.5"/>
<circle cx="104.2" cy="89.9" r="2.9" fill="#d6d6d6" stroke="#484848" stroke-width="0.5"/>
<circle cx="71.9" cy="55.6" r="2.4" fill="#d6d6d6" stroke="#484848" stroke-width="0.5"/>
<circle cx="8.8" cy="52.6" r="2.1" fill="#d6d6d6" stroke="#484848" stroke-width="0.5"/>
<circle cx="34.3" cy="19.7" r="2.7" fill="#d6d6d6" stroke="#484848" stroke-width="0.5"/>
<circle cx="17.5" cy="12.2" r="2.0" fill="#d6d6d6" stroke="#484848" stroke-width="0.5"/>
<circle cx="23.1" cy="46.9" r="2.6" fill="#d6d6d6" stroke="#484848" stroke-width="0.5"/>
<circle cx="114.2" cy="6.8" r="1.5" fill="#d6d6d6" stroke="#484848" stroke-width="0.5"/>
<circle cx="39.8" cy="5.6" r="1.4" fill="#d6d6d6" stroke="#484848" stroke-width="0.5"/>
<circle cx="132.9" cy="62.5" r="3.2" fill="#d6d6d6" stroke="#484848" stroke-width="0.5"/>
<circle cx="15.0" cy="122.0" r="2.7" fill="#d6d6d6" stroke="#484848" stroke-width="0.5"/>
<circle cx="116.6" cy="38.7" r="1.8" fill="#d6d6d6" stroke="#484848" stroke-width="0.5"/>
<circle cx="86.3" cy="113.7" r="2.5" fill="#d6d6d6" stroke="#484848" stroke-width="0.5"/>
<circle cx="38.1" cy="88.1" r="1.5" fill="#d6d6d6" stroke="#484848" stroke-width="0.5"/>
<circle cx="143.7" cy="97.4" r="1.5" fill="#d6d6d6" stroke="#484848" stroke-width="0.5"/>
<circle cx="112.1" cy="5.4" r="2.0" fill="#d6d6d6" stroke="#484848" stroke-width="0.5"/>
<circle cx="69.5" cy="29.9" r="3.3" fill="#d6d6d6" stroke="#484848" stroke-width="0.5"/>
<circle cx="137.1" cy="20.1" r="2.7" fill="#d6d6d6" stroke="#484848" stroke-width="0.5"/>
<circle cx="57.1" cy="96.6" r="2.7" fill="#d6d6d6" stroke="#484848" stroke-width="0.5"/>
<circle cx="135.4" cy="44.1" r="2.1" fill="#d6d6d6" stroke="#484848" stroke-width="0.5"/>
<circle cx="85.1" cy="91.4" r="1.6" fill="#d6d6d6" stroke="#484848" stroke-width="0.5"/>
<circle cx="56.8" cy="4.6" r="2.2" fill="#d6d6d6" stroke="#484848" stroke-width="0.5"/>
<circle cx="73.6" cy="107.9" r="3.4" fill="#d6d6d6" stroke="#484848" stroke-width="0.5"/>
<circle cx="104.9" cy="8.9" r="1.3" fill="#d6d6d6" stroke="#484848" stroke-width="0.5"/>
<circle cx="102.3" cy="77.3" r="2.9" fill="#d6d6d6" stroke="#484848" stroke-width="0.5"/>
<circle cx="108.9" cy="48.5" r="2.6" fill="#d6d6d6" stroke="#484848" stroke-width="0.5"/>
<circle cx="0.1" cy="93.2" r="2.1" fill="#d6d6d6" stroke="#484848" stroke-width="0.5"/>
<circle cx="34.5" cy="73.7" r="3.3" fill="#d6d6d6" stroke="#484848" stroke-width="0.5"/>
<circle cx="134.4" cy="111.5" r="2.3" fill="#d6d6d6" stroke="#484848" stroke-width="0.5"/>
<circle cx="12.4" cy="28.6" r="1.7" fill="#d6d6d6" stroke="#484848" stroke-width="0.5"/>
<circle cx="74.2" cy="31.2" r="2.0" fill="#d6d6d6" stroke="#484848" stroke-width="0.5"/>
<circle cx="88.4" cy="82.7" r="1.9" fill="#d6d6d6" stroke="#484848" stroke-width="0.5"/>
<circle cx="138.6" cy="88.9" r="1.8" fill="#d6d6d6" stroke="#484848" stroke-width="0.5"/>
<circle cx="37.6" cy="100.9" r="2.3" fill="#d6d6d6" stroke="#484848" stroke-width="0.5"/>
<circle cx="68.4" cy="80.6" r="2.2" fill="#d6d6d6" stroke="#484848" stroke-width="0.5"/>
<circle cx="124.5" cy="23.8" r="2.1" fill="#d6d6d6" stroke="#484848" stroke-width="0.5"/>
<circle cx="127.8" cy="32.6" r="2.1" fill="#d6d6d6" stroke="#484848" stroke-width="0.5"/>
<circle cx="139.2" cy="97.3" r="1.9" fill="#d6d6d6" stroke="#484848" stroke-width="0.5"/>
<circle cx="130.8" cy="74.9" r="3.1" fill="#d6d6d6" stroke="#484848" stroke-width="0.5"/>
<circle cx="99.9" cy="38.8" r="2.9" fill="#d6d6d6" stroke="#484848" stroke-width="0.5"/>
<circle cx="58.6" cy="122.4" r="3.1" fill="#d6d6d6" stroke="#484848" stroke-width="0.5"/>
<circle cx="97.2" cy="99.3" r="2.0" fill="#d6d6d6" stroke="#484848" stroke-width="0.5"/>
<circle cx="15.3" cy="104.7" r="2.2" fill="#d6d6d6" stroke="#484848" stroke-width="0.5"/>
<circle cx="132.6" cy="33.8" r="2.8" fill="#d6d6d6" stroke="#484848" stroke-width="0.5"/>
<circle cx="74.8" cy="10.7" r="1.4" fill="#d6d6d6" stroke="#484848" stroke-width="0.5"/>
<circle cx="28.8" cy="58.7" r="2.2" fill="#d6d6d6" stroke="#484848" stroke-width="0.5"/>
<circle cx="19.1" cy="77.2" r="3.2" fill="#d6d6d6" stroke="#484848" stroke-width="0.5"/>
<circle cx="133.2" cy="95.3" r="2.0" fill="#d6d6d6" stroke="#484848" stroke-width="0.5"/>
<circle cx="134.7" cy="7.4" r="3.3" fill="#d6d6d6" stroke="#484848" stroke-width="0.5"/>
<circle cx="96.5" cy="52.5" r="2.5" fill="#d6d6d6" stroke="#484848" stroke-width="0.5"/>
<circle cx="57.8" cy="96.4" r="1.6" fill="#d6d6d6" stroke="#484848" stroke-width="0.5"/>
<circle cx="39.7" cy="26.6" r="2.6" fill="#d6d6d6" stroke="#484848" stroke-width="0.5"/>
<circle cx="4.1" cy="52.3" r="2.4" fill="#d6d6d6" stroke="#484848" stroke-width="0.5"/>
<circle cx="133.2" cy="132.4" r="1.3" fill="#d6d6d6" stroke="#484848" stroke-width="0.5"/>
<circle cx="77.4" cy="21.9" r="3.1" fill="#d6d6d6" stroke="#484848" stroke-width="0.5"/>
<circle cx="139.6" cy="67.0" r="3.4" fill="#d6d6d6" stroke="#484848" stroke-width="0.5"/>
<circle cx="113.6" cy="3.6" r="2.9" fill="#d6d6d6" stroke="#484848" stroke-width="0.5"/>
<circle cx="75.5" cy="52.5" r="3.1" fill="#d6d6d6" stroke="#484848" stroke-width="0.5"/>
<circle cx="131.6" cy="16.0" r="1.8" fill="#d6d6d6" stroke="#484848" stroke-width="0.5"/>
<circle cx="122.3" cy="62.6" r="2.0" fill="#d6d6d6" stroke="#484848" stroke-width="0.5"/>
<circle cx="119.4" cy="104.9" r="3.3" fill="#d6d6d6" stroke="#484848" stroke-width="0.5"/>
<circle cx="94.7" cy="133.7" r="3.1" fill="#d6d6d6" stroke="#484848" stroke-width="0.5"/>
<circle cx="127.7" cy="72.9" r="3.2" fill="#d6d6d6" stroke="#484848" stroke-width="0.5"/>
<circle cx="31.8" cy="138.9" r="2.5" fill="#d6d6d6" stroke="#484848" stroke-width="0.5"/>
<circle cx="142.7" cy="103.1" r="2.0" fill="#d6d6d6" stroke="#484848" stroke-width="0.5"/>
<circle cx="86.7" cy="128.8" r="2.0" fill="#d6d6d6" stroke="#484848" stroke-width="0.5"/>
<circle cx="2.9" cy="37.1" r="1.7" fill="#d6d6d6" stroke="#484848" stroke-width="0.5"/>
<circle cx="77.1" cy="94.7" r="2.1" fill="#d6d6d6" stroke="#484848" stroke-width="0.5"/>
<circle cx="95.6" cy="47.5" r="2.3" fill="#d6d6d6" stroke="#484848" stroke-width="0.5"/>
<circle cx="63.5" cy="25.3" r="2.8" fill="#d6d6d6" stroke="#484848" stroke-width="0.5"/>
<circle cx="118.5" cy="138.3" r="2.9" fill="#d6d6d6" stroke="#484848" stroke-width="0.5"/>
<circle cx="9.7" cy="13.6" r="1.5" fill="#d6d6d6" stroke="#484848" stroke-width="0.5"/>
<circle cx="6.4" cy="77.4" r="2.6" fill="#d6d6d6" stroke="#484848" stroke-width="0.5"/>
<circle cx="50.3" cy="118.0" r="2.5" fill="#d6d6d6" stroke="#484848" stroke-width="0.5"/>
<circle cx="126.1" cy="42.4" r="3.2" fill="#d6d6d6" stroke="#484848" stroke-width="0.5"/>
<circle cx="77.3" cy="125.7" r="1.7" fill="#d6d6d6" stroke="#484848" stroke-width="0.5"/>
<circle cx="108.9" cy="11.7" r="2.2" fill="#d6d6d6" stroke="#484848" stroke-width="0.5"/>
<circle cx="11.1" cy="13.7" r="3.1" fill="#d6d6d6" stroke="#484848" stroke-width="0.5"/>
<circle cx="109.2" cy="119.8" r="2.4" fill="#d6d6d6" stroke="#484848" stroke-width="0.5"/>
<circle cx="26.2" cy="28.2" r="1.7" fill="#d6d6d6" stroke="#484848" stroke-width="0.5"/>
<circle cx="79.9" cy="42.7" r="3.1" fill="#d6d6d6" stroke="#484848" stroke-width="0.5"/>
<circle cx="79.8" cy="111.8" r="2.3" fill="#d6d6d6" stroke="#484848" stroke-width="0.5"/>
<circle cx="77.7" cy="0.2" r="3.2" fill="#d6d6d6" stroke="#484848" stroke-width="0.5"/>
<circle cx="125.3" cy="89.4" r="2.2" fill="#d6d6d6" stroke="#484848" stroke-width="0.5"/>
<circle cx="52.4" cy="136.3" r="2.3" fill="#d6d6d6" stroke="#484848" stroke-width="0.5"/>
<circle cx="23.2" cy="84.4" r="1.5" fill="#d6d6d6" stroke="#484848" stroke-width="0.5"/>
<circle cx="110.7" cy="76.5" r="1.3" fill="#d6d6d6" stroke="#484848" stroke-width="0.5"/>
<circle cx="14.6" cy="134.0" r="2.2" fill="#d6d6d6" stroke="#484848" stroke-width="0.5"/>
<circle cx="133.9" cy="32.1" r="2.7" fill="#d6d6d6" stroke="#484848" stroke-width="0.5"/>
<circle cx="7.7" cy="95.0" r="2.6" fill="#d6d6d6" stroke="#484848" stroke-width="0.5"/>
<circle cx="45.3" cy="51.3" r="1.4" fill="#d6d6d6" stroke="#484848" stroke-width="0.5"/>
<circle cx="111.6" cy="125.9" r="1.8" fill="#d6d6d6" stroke="#484848" stroke-width="0.5"/>
<circle cx="129.1" cy="10.4" r="2.4" fill="#d6d6d6" stroke="#484848" stroke-width="0.5"/>
<circle cx="11.9" cy="125.7" r="2.8" fill="#d6d6d6" stroke="#484848" stroke-width="0.5"/>
<circle cx="131.2" cy="120.1" r="1.6" fill="#d6d6d6" stroke="#484848" stroke-width="0.5"/>
<circle cx="80.7" cy="33.2" r="2.7" fill="#d6d6d6" stroke="#484848" stroke-width="0.5"/>
<circle cx="68.3" cy="114.8" r="2.6" fill="#d6d6d6" stroke="#484848" stroke-width="0.5"/>
<circle cx="17.8" cy="63.4" r="1.3" fill="#d6d6d6" stroke="#484848" stroke-width="0.5"/>
<circle cx="116.5" cy="92.9" r="1.5" fill="#d6d6d6" stroke="#484848" stroke-width="0.5"/>
<circle cx="41.3" cy="93.5" r="3.1" fill="#d6d6d6" stroke="#484848" stroke-width="0.5"/>
<circle cx="57.0" cy="100.3" r="2.3" fill="#d6d6d6" stroke="#484848" stroke-width="0.5"/>
<circle cx="13.0" cy="72.7" r="2.4" fill="#d6d6d6" stroke="#484848" stroke-width="0.5"/>
<circle cx="71.5" cy="55.4" r="3.0" fill="#d6d6d6" stroke="#484848" stroke-width="0.5"/>
<circle cx="45.1" cy="41.8" r="1.9" fill="#d6d6d6" stroke="#484848" stroke-width="0.5"/>
<circle cx="56.9" cy="125.1" r="1.2" fill="#d6d6d6" stroke="#484848" stroke-width="0.5"/>
<circle cx="10.9" cy="43.8" r="1.9" fill="#d6d6d6" stroke="#484848" stroke-width="0.5"/>
<circle cx="73.4" cy="105.7" r="3.1" fill="#d6d6d6" stroke="#484848" stroke-width="0.5"/>
<circle cx="124.5" cy="76.5" r="1.3" fill="#d6d6d6" stroke="#484848" stroke-width="0.5"/>
<circle cx="32.4" cy="128.6" r="2.8" fill="#d6d6d6" stroke="#484848" stroke-width="0.5"/>
<circle cx="43.3" cy="84.1" r="2.8" fill="#d6d6d6" stroke="#484848" stroke-width="0.5"/>
<circle cx="1.0" cy="66.2" r="1.9" fill="#d6d6d6" stroke="#484848" stroke-width="0.5"/>
<circle cx="122.9" cy="77.7" r="1.8" fill="#d6d6d6" stroke="#484848" stroke-width="0.5"/>
<circle cx="33.9" cy="75.8" r="2.1" fill="#d6d6d6" stroke="#484848" stroke-width="0.5"/>
<circle cx="1.8" cy="17.5" r="1.6" fill="#d6d6d6" stroke="#484848" stroke-width="0.5"/>
<circle cx="17.9" cy="86.5" r="1.5" fill="#d6d6d6" stroke="#484848" stroke-width="0.5"/>
<circle cx="57.0" cy="35.0" r="1.6" fill="#d6d6d6" stroke="#484848" stroke-width="0.5"/>
<circle cx="8.6" cy="112.8" r="2.6" fill="#d6d6d6" stroke="#484848" stroke-width="0.5"/>
<circle cx="28.8" cy="127.2" r="2.3" fill="#d6d6d6" stroke="#484848" stroke-width="0.5"/>
<circle cx="115.4" cy="80.3" r="1.2" fill="#d6d6d6" stroke="#484848" stroke-width="0.5"/>
<circle cx="87.6" cy="114.1" r="3.3" fill="#d6d6d6" stroke="#484848" stroke-width="0.5"/>
<circle cx="77.2" cy="60.3" r="2.5" fill="#d6d6d6" stroke="#484848" stroke-width="0.5"/>
<circle cx="61.7" cy="24.8" r="1.2" fill="#d6d6d6" stroke="#484848" stroke-width="0.5"/>
<circle cx="131.4" cy="28.2" r="1.8" fill="#d6d6d6" stroke="#484848" stroke-width="0.5"/>
<circle cx="19.8" cy="119.5" r="2.0" fill="#d6d6d6" stroke="#484848" stroke-width="0.5"/>
<circle cx="33.8" cy="85.2" r="1.3" fill="#d6d6d6" stroke="#484848" stroke-width="0.5"/>
<circle cx="46.3" cy="40.1" r="2.0" fill="#d6d6d6" stroke="#484848" stroke-width="0.5"/>
<circle cx="58.0" cy="63.4" r="1.3" fill="#d6d6d6" stroke="#484848" stroke-width="0.5"/>
<circle cx="103.3" cy="5.9" r="2.5" fill="#d6d6d6" stroke="#484848" stroke-width="0.5"/>
<circle cx="5.7" cy="76.5" r="3.1" fill="#d6d6d6" stroke="#484848" stroke-width="0.5"/>
<circle cx="72.6" cy="90.3" r="1.4" fill="#d6d6d6" stroke="#484848" stroke-width="0.5"/>
<circle cx="60.4" cy="48.9" r="3.0" fill="#d6d6d6" stroke="#484848" stroke-width="0.5"/>
<circle cx="79.1" cy="40.6" r="2.8" fill="#d6d6d6" stroke="#484848" stroke-width="0.5"/>
<circle cx="97.6" cy="109.8" r="3.0" fill="#d6d6d6" stroke="#484848" stroke-width="0.5"/>
<circle cx="31.9" cy="81.3" r="3.4" fill="#d6d6d6" stroke="#484848" stroke-width="0.5"/>
<circle cx="35.7" cy="103.1" r="3.2" fill="#d6d6d6" stroke="#484848" stroke-width="0.5"/>
<circle cx="29.9" cy="125.0" r="1.6" fill="#d6d6d6" stroke="#484848" stroke-width="0.5"/>
<circle cx="123.2" cy="11.8" r="1.2" fill="#d6d6d6" stroke="#484848" stroke-width="0.5"/>
<rect width="144.0" height="141.3" fill="#000" filter="url(#emn)" opacity="0.55"/>
<ellipse transform="translate(30.5,56.5) rotate(-6)" rx="25.0" ry="20.0" fill="#d8d8d8" stroke="#111" stroke-width="2.6"/>
<ellipse transform="translate(30.5,56.5) rotate(-6)" rx="23.7" ry="18.7" fill="#000" filter="url(#emn)" opacity="0.5"/>
<ellipse transform="translate(30.5,56.5) rotate(-6)" rx="26.6" ry="21.6" fill="none" stroke="#333" stroke-width="0.7"/>
<ellipse transform="translate(95.5,41.7) rotate(0)" rx="19.5" ry="16.0" fill="#d8d8d8" stroke="#111" stroke-width="2.2"/>
<ellipse transform="translate(95.5,41.7) rotate(0)" rx="18.4" ry="14.9" fill="#000" filter="url(#emn)" opacity="0.5"/>
<ellipse transform="translate(95.5,41.7) rotate(0)" rx="21.1" ry="17.6" fill="none" stroke="#333" stroke-width="0.7"/>
<ellipse transform="translate(116.3,15.0) rotate(0)" rx="23.5" ry="15.5" fill="#d8d8d8" stroke="#111" stroke-width="2.4"/>
<ellipse transform="translate(116.3,15.0) rotate(0)" rx="22.3" ry="14.3" fill="#000" filter="url(#emn)" opacity="0.5"/>
<ellipse transform="translate(116.3,15.0) rotate(0)" rx="25.1" ry="17.1" fill="none" stroke="#333" stroke-width="0.7"/>
<ellipse transform="translate(100.3,76.4) rotate(0)" rx="20.3" ry="17.6" fill="#d8d8d8" stroke="#111" stroke-width="0.9"/>
<ellipse transform="translate(100.3,76.4) rotate(0)" rx="19.9" ry="17.2" fill="#000" filter="url(#emn)" opacity="0.5"/>
<ellipse transform="translate(47.0,107.9) rotate(0)" rx="24.5" ry="18.1" fill="#d8d8d8" stroke="#111" stroke-width="2.4"/>
<ellipse transform="translate(47.0,107.9) rotate(0)" rx="23.3" ry="16.9" fill="#000" filter="url(#emn)" opacity="0.5"/>
<ellipse transform="translate(47.0,107.9) rotate(0)" rx="26.1" ry="19.7" fill="none" stroke="#333" stroke-width="0.7"/>
<ellipse transform="translate(85.4,121.1) rotate(0)" rx="18.1" ry="15.5" fill="#d8d8d8" stroke="#111" stroke-width="2.6"/>
<ellipse transform="translate(85.4,121.1) rotate(0)" rx="16.8" ry="14.2" fill="#000" filter="url(#emn)" opacity="0.5"/>
<ellipse transform="translate(85.4,121.1) rotate(0)" rx="19.7" ry="17.1" fill="none" stroke="#333" stroke-width="0.7"/>
<ellipse transform="translate(30.5,146.0) rotate(0)" rx="16" ry="10" fill="#d8d8d8" stroke="#111" stroke-width="2.4"/>
<ellipse transform="translate(30.5,146.0) rotate(0)" rx="14.8" ry="8.8" fill="#000" filter="url(#emn)" opacity="0.5"/>
<ellipse transform="translate(30.5,146.0) rotate(0)" rx="17.6" ry="11.6" fill="none" stroke="#333" stroke-width="0.7"/>
<ellipse transform="translate(135.0,113.0) rotate(0)" rx="18.0" ry="24.0" fill="#d8d8d8" stroke="#111" stroke-width="0.6"/>
<ellipse transform="translate(135.0,113.0) rotate(0)" rx="17.7" ry="23.7" fill="#000" filter="url(#emn)" opacity="0.5"/>
<ellipse transform="translate(8.0,115.0) rotate(0)" rx="12" ry="14" fill="#d8d8d8" stroke="#111" stroke-width="0.7"/>
<ellipse transform="translate(8.0,115.0) rotate(0)" rx="11.7" ry="13.7" fill="#000" filter="url(#emn)" opacity="0.5"/>
<ellipse transform="translate(13.0,85.0) rotate(0)" rx="8" ry="7" fill="#d8d8d8" stroke="#111" stroke-width="1.1"/>
<ellipse transform="translate(13.0,85.0) rotate(0)" rx="7.5" ry="6.5" fill="#000" filter="url(#emn)" opacity="0.5"/>
<ellipse transform="translate(124.0,65.0) rotate(0)" rx="8" ry="10" fill="#d8d8d8" stroke="#111" stroke-width="1.0"/>
<ellipse transform="translate(124.0,65.0) rotate(0)" rx="7.5" ry="9.5" fill="#000" filter="url(#emn)" opacity="0.5"/>
<ellipse transform="translate(69.0,71.0) rotate(0)" rx="6" ry="5" fill="#d8d8d8" stroke="#111" stroke-width="1.0"/>
<ellipse transform="translate(69.0,71.0) rotate(0)" rx="5.5" ry="4.5" fill="#000" filter="url(#emn)" opacity="0.5"/>
<ellipse transform="translate(3.0,29.0) rotate(0)" rx="6" ry="9" fill="#d8d8d8" stroke="#111" stroke-width="1.0"/>
<ellipse transform="translate(3.0,29.0) rotate(0)" rx="5.5" ry="8.5" fill="#000" filter="url(#emn)" opacity="0.5"/>
<ellipse transform="translate(139.0,41.0) rotate(0)" rx="6" ry="8" fill="#d8d8d8" stroke="#111" stroke-width="1.2"/>
<ellipse transform="translate(139.0,41.0) rotate(0)" rx="5.4" ry="7.4" fill="#000" filter="url(#emn)" opacity="0.5"/>
<ellipse transform="translate(104.0,102.0) rotate(0)" rx="6" ry="5" fill="#d8d8d8" stroke="#111" stroke-width="1.0"/>
<ellipse transform="translate(104.0,102.0) rotate(0)" rx="5.5" ry="4.5" fill="#000" filter="url(#emn)" opacity="0.5"/>
<path d="M31.600000000000023 22.30000000000001 Q25.0 26.0 27.100000000000023 28.400000000000006 Q33.0 33.0 37.0 36.0 Q45.0 42.0 49.0 43.5 Q55.0 47.0 60.0 49.0 Q66.0 47.0 70.39999999999998 45.0 Q75.0 41.0 78.0 36.0 Q82.0 29.0 83.30000000000001 22.30000000000001" fill="none" stroke="#111" stroke-width="2.2"/>
<ellipse cx="61.5" cy="51.0" rx="3.5" ry="2.4" fill="#111"/>
<circle cx="58.0" cy="71.0" r="2.6" fill="#4a4a4a"/>
<circle cx="65.0" cy="85.0" r="3.0" fill="#4a4a4a"/>
<circle cx="33.0" cy="78.0" r="2.4" fill="#4a4a4a"/>
<circle cx="133.0" cy="105.0" r="3.0" fill="#4a4a4a"/>
<circle cx="63.0" cy="52.0" r="2.8" fill="#4a4a4a"/>
<circle cx="43.0" cy="47.0" r="1.8" fill="#4a4a4a"/>
<line x1="107.0" y1="135.0" x2="141.3" y2="135.0" stroke="#111" stroke-width="1.4"/>
</svg>
<text x="306.3" y="199.0" font-size="9.8" font-weight="bold" fill="#111" text-anchor="start" font-family='"Liberation Serif", serif' textLength="52.5" lengthAdjust="spacingAndGlyphs" >Myelination</text>
<text transform="translate(10.2,306) rotate(-90)" font-size="10" fill="#111" font-family='"Liberation Sans", sans-serif' textLength="103" lengthAdjust="spacingAndGlyphs">Rag2<tspan font-size="6.5" dy="-4">-/-</tspan><tspan dy="4">; Shi/Shi 70DPT</tspan></text>
<g stroke="#1a1a1a" stroke-width="1.2" fill="none">
<path d="M471.2 195.0 V312 H533"/>
<line x1="467.2" y1="312.0" x2="471.2" y2="312.0"/>
<line x1="467.2" y1="288.6" x2="471.2" y2="288.6"/>
<line x1="467.2" y1="265.2" x2="471.2" y2="265.2"/>
<line x1="467.2" y1="241.8" x2="471.2" y2="241.8"/>
<line x1="467.2" y1="218.4" x2="471.2" y2="218.4"/>
<line x1="467.2" y1="195.0" x2="471.2" y2="195.0"/>
<line x1="491.1" y1="312" x2="491.1" y2="316"/><line x1="521" y1="312" x2="521" y2="316"/>
</g>
<text x="465.2" y="314.9" font-size="8.2" font-weight="bold" fill="#111" text-anchor="end" font-family='"Liberation Sans", sans-serif' >0</text>
<text x="465.2" y="291.5" font-size="8.2" font-weight="bold" fill="#111" text-anchor="end" font-family='"Liberation Sans", sans-serif' >20</text>
<text x="465.2" y="268.1" font-size="8.2" font-weight="bold" fill="#111" text-anchor="end" font-family='"Liberation Sans", sans-serif' >40</text>
<text x="465.2" y="244.7" font-size="8.2" font-weight="bold" fill="#111" text-anchor="end" font-family='"Liberation Sans", sans-serif' >60</text>
<text x="465.2" y="221.3" font-size="8.2" font-weight="bold" fill="#111" text-anchor="end" font-family='"Liberation Sans", sans-serif' >80</text>
<text x="465.2" y="197.9" font-size="8.2" font-weight="bold" fill="#111" text-anchor="end" font-family='"Liberation Sans", sans-serif' >100</text>
<text transform="translate(451.3,271.3) rotate(-90)" font-size="9.6" font-weight="bold" fill="#111" text-anchor="start" font-family='"Liberation Sans", sans-serif' textLength="36.3" lengthAdjust="spacingAndGlyphs">% Axons</text>
<rect x="481.8" y="293.3" width="18.8" height="18.7" fill="#d3e2f2" stroke="#b8cfe9" stroke-width="0.9"/>
<rect x="511.8" y="213.7" width="18.8" height="98.3" fill="#d2bfdc" stroke="#a07cbd" stroke-width="1.2"/>
<line x1="491" y1="289.8" x2="491" y2="296.8" stroke="#b8cfe9" stroke-width="0.8"/><line x1="487" y1="289.8" x2="495" y2="289.8" stroke="#b8cfe9" stroke-width="0.8"/>
<circle cx="487" cy="284.5" r="2.2" fill="#7fa4da"/>
<circle cx="491.5" cy="282.2" r="2.2" fill="#7fa4da"/>
<circle cx="495.2" cy="281.6" r="2.2" fill="#7fa4da"/>
<circle cx="491" cy="288.0" r="2.2" fill="#7fa4da"/>
<circle cx="487.5" cy="293.3" r="2.2" fill="#7fa4da"/>
<circle cx="483.3" cy="299.7" r="2.2" fill="#7fa4da"/>
<circle cx="487.5" cy="298.0" r="2.2" fill="#7fa4da"/>
<circle cx="491" cy="299.7" r="2.2" fill="#7fa4da"/>
<circle cx="494.8" cy="299.1" r="2.2" fill="#7fa4da"/>
<circle cx="498.5" cy="298.0" r="2.2" fill="#7fa4da"/>
<circle cx="498.5" cy="302.6" r="2.2" fill="#7fa4da"/>
<circle cx="513.5" cy="207.9" r="2.2" fill="#9424f2"/>
<circle cx="516.5" cy="209.6" r="2.2" fill="#9424f2"/>
<circle cx="520.5" cy="209.0" r="2.2" fill="#9424f2"/>
<circle cx="524" cy="205.5" r="2.2" fill="#9424f2"/>
<circle cx="527.5" cy="209.0" r="2.2" fill="#9424f2"/>
<circle cx="524" cy="211.4" r="2.2" fill="#9424f2"/>
<circle cx="520.5" cy="212.0" r="2.2" fill="#9424f2"/>
<circle cx="520.5" cy="217.2" r="2.2" fill="#9424f2"/>
<circle cx="520.5" cy="223.1" r="2.2" fill="#9424f2"/>
<circle cx="516" cy="226.0" r="2.2" fill="#9424f2"/>
<circle cx="524" cy="225.4" r="2.2" fill="#9424f2"/>
<text transform="translate(495.4,318.2) rotate(-90)" font-size="7.6" font-weight="bold" fill="#111" text-anchor="end" font-family='"Liberation Sans", sans-serif' textLength="39.0" lengthAdjust="spacingAndGlyphs">Myelinated</text>
<text transform="translate(525.0,318.2) rotate(-90)" font-size="7.6" font-weight="bold" fill="#111" text-anchor="end" font-family='"Liberation Sans", sans-serif' textLength="48.0" lengthAdjust="spacingAndGlyphs">Unmyelinated</text>
<g stroke="#1a1a1a" stroke-width="1.2" fill="none">
<path d="M570.7 199.0 V312.1 H685"/>
<line x1="566.7" y1="312.1" x2="570.7" y2="312.1"/>
<line x1="566.7" y1="289.5" x2="570.7" y2="289.5"/>
<line x1="566.7" y1="266.9" x2="570.7" y2="266.9"/>
<line x1="566.7" y1="244.2" x2="570.7" y2="244.2"/>
<line x1="566.7" y1="221.6" x2="570.7" y2="221.6"/>
<line x1="566.7" y1="199.0" x2="570.7" y2="199.0"/>
<line x1="596.7" y1="312.1" x2="596.7" y2="316"/><line x1="657.5" y1="312.1" x2="657.5" y2="316"/>
<path d="M584.9 274.5 V195.7 H608.2 V256.5"/>
</g>
<text x="564.7" y="315.0" font-size="8.2" font-weight="bold" fill="#111" text-anchor="end" font-family='"Liberation Sans", sans-serif' >0</text>
<text x="564.7" y="292.4" font-size="8.2" font-weight="bold" fill="#111" text-anchor="end" font-family='"Liberation Sans", sans-serif' >20</text>
<text x="564.7" y="269.8" font-size="8.2" font-weight="bold" fill="#111" text-anchor="end" font-family='"Liberation Sans", sans-serif' >40</text>
<text x="564.7" y="247.1" font-size="8.2" font-weight="bold" fill="#111" text-anchor="end" font-family='"Liberation Sans", sans-serif' >60</text>
<text x="564.7" y="224.5" font-size="8.2" font-weight="bold" fill="#111" text-anchor="end" font-family='"Liberation Sans", sans-serif' >80</text>
<text x="564.7" y="201.9" font-size="8.2" font-weight="bold" fill="#111" text-anchor="end" font-family='"Liberation Sans", sans-serif' >100</text>
<text transform="translate(544.4,273.4) rotate(-90)" font-size="9.6" font-weight="bold" fill="#111" text-anchor="start" font-family='"Liberation Sans", sans-serif' textLength="37.6" lengthAdjust="spacingAndGlyphs">% Axons</text>
<text x="582.7" y="190.0" font-size="9.4" font-weight="normal" fill="#111" text-anchor="start" font-family='"Liberation Sans", sans-serif' textLength="27.6" lengthAdjust="spacingAndGlyphs" >0.0275</text>
<circle cx="620.5" cy="171.3" r="2.7" fill="#9ebfe6"/><circle cx="620.5" cy="187.8" r="2.7" fill="#c884b0"/>
<text x="636.4" y="174.9" font-size="9.6" font-weight="normal" fill="#111" text-anchor="start" font-family='"Liberation Sans", sans-serif' textLength="29.4" lengthAdjust="spacingAndGlyphs" >Vehicle</text>
<text x="636.4" y="191.5" font-size="9.6" font-weight="normal" fill="#111" text-anchor="start" font-family='"Liberation Sans", sans-serif' textLength="41.1" lengthAdjust="spacingAndGlyphs" >Metformin</text>
<rect x="578.1" y="287.8" width="14.8" height="24.3" fill="#d3e2f2" stroke="#a8c6e8" stroke-width="1"/>
<rect x="601.4" y="281.6" width="14.8" height="30.5" fill="#f6d4d6" stroke="#ee9ea4" stroke-width="1"/>
<rect x="639.0" y="222.8" width="14.8" height="89.3" fill="#d3e2f2" stroke="#a8c6e8" stroke-width="1"/>
<rect x="661.1" y="231.8" width="14.8" height="80.3" fill="#f6d4d6" stroke="#ee9ea4" stroke-width="1"/>
<circle cx="580.5" cy="282.7" r="2.2" fill="#85aadc"/>
<circle cx="584.5" cy="283.8" r="2.2" fill="#85aadc"/>
<circle cx="589" cy="285.5" r="2.2" fill="#85aadc"/>
<circle cx="585" cy="289.5" r="2.2" fill="#85aadc"/>
<circle cx="585" cy="296.3" r="2.2" fill="#85aadc"/>
<circle cx="603.5" cy="282.1" r="2.2" fill="#b5679b"/>
<circle cx="606" cy="279.9" r="2.2" fill="#b5679b"/>
<circle cx="609" cy="281.0" r="2.2" fill="#b5679b"/>
<circle cx="612" cy="278.7" r="2.2" fill="#b5679b"/>
<circle cx="613.5" cy="282.7" r="2.2" fill="#b5679b"/>
<circle cx="608.5" cy="282.1" r="2.2" fill="#b5679b"/>
<circle cx="648.5" cy="214.3" r="2.2" fill="#85aadc"/>
<circle cx="651" cy="220.5" r="2.2" fill="#85aadc"/>
<circle cx="643" cy="225.6" r="2.2" fill="#85aadc"/>
<circle cx="647" cy="223.9" r="2.2" fill="#85aadc"/>
<circle cx="651.5" cy="226.1" r="2.2" fill="#85aadc"/>
<circle cx="663" cy="230.1" r="2.2" fill="#b5679b"/>
<circle cx="666.5" cy="229.0" r="2.2" fill="#b5679b"/>
<circle cx="670" cy="230.1" r="2.2" fill="#b5679b"/>
<circle cx="673.5" cy="228.4" r="2.2" fill="#b5679b"/>
<circle cx="675" cy="231.8" r="2.2" fill="#b5679b"/>
<circle cx="671.5" cy="232.4" r="2.2" fill="#b5679b"/>
<circle cx="667" cy="232.9" r="2.2" fill="#b5679b"/>
<text transform="translate(601.3,318.2) rotate(-90)" font-size="7.6" font-weight="bold" fill="#111" text-anchor="end" font-family='"Liberation Sans", sans-serif' textLength="40.5" lengthAdjust="spacingAndGlyphs">Myelinated</text>
<text transform="translate(660.9,321.5) rotate(-90)" font-size="7.6" font-weight="bold" fill="#111" text-anchor="end" font-family='"Liberation Sans", sans-serif' textLength="50.0" lengthAdjust="spacingAndGlyphs">Unmyelinated</text>
<path d="M23.3 434.0h0M25.2 427.7h0M30.0 416.0h0M32.7 417.7h0M26.6 428.4h0M33.4 414.7h0M46.6 408.7h0M27.5 422.1h0M34.4 414.6h0M24.6 426.4h0M42.5 414.4h0M33.5 419.0h0M27.6 422.3h0M31.7 418.1h0M42.9 411.5h0M40.9 411.8h0M39.2 413.1h0M27.0 420.9h0M42.9 412.1h0M33.9 416.4h0M29.1 418.3h0M34.0 417.3h0M22.3 428.0h0M43.0 413.3h0M24.8 422.6h0M39.9 414.1h0M22.8 432.9h0M23.4 433.0h0M45.1 413.1h0M23.0 425.8h0M22.5 421.9h0M31.0 418.0h0M51.7 408.6h0M47.5 409.7h0M49.7 408.5h0M22.0 429.3h0M34.9 413.5h0M30.8 419.0h0M32.3 417.7h0M26.8 419.7h0M40.6 409.8h0M34.5 412.2h0M33.4 413.0h0M33.0 414.2h0M21.8 430.8h0M23.6 424.6h0M25.8 426.3h0M23.6 423.1h0M43.3 412.9h0M26.8 424.6h0M40.6 411.0h0M36.4 416.6h0M28.3 422.0h0M26.7 427.9h0M40.4 414.6h0M24.7 435.0h0M26.0 422.5h0M21.3 430.0h0M42.8 411.5h0M47.0 408.2h0M30.4 419.2h0M50.6 409.5h0M21.5 428.6h0M38.1 412.4h0M23.1 420.3h0M23.8 429.0h0M47.2 408.7h0M24.9 432.6h0M25.9 419.6h0M42.1 411.6h0M27.9 421.6h0M22.4 433.6h0M43.2 411.6h0M27.1 422.6h0M36.6 411.3h0M29.9 415.6h0M45.2 409.5h0M37.3 413.7h0M37.9 410.6h0M27.6 416.7h0M22.9 429.2h0M48.7 406.9h0M32.0 417.9h0M23.1 423.1h0M31.1 416.0h0M47.8 408.1h0M51.2 407.3h0M37.0 412.2h0M26.4 417.1h0M46.4 410.8h0M27.7 417.8h0M26.6 421.7h0M27.5 424.7h0M24.1 428.0h0M37.7 412.6h0M41.4 411.3h0M47.6 408.3h0M45.8 412.0h0M22.2 425.4h0M23.6 429.7h0M34.6 418.2h0M28.5 420.5h0M29.8 419.3h0M48.0 408.9h0M27.3 417.6h0M27.0 420.0h0M23.5 429.4h0M35.5 414.8h0M44.0 412.7h0M33.0 414.9h0M42.7 411.9h0M29.3 418.4h0M26.8 419.2h0M34.8 413.5h0M20.8 431.5h0M22.9 431.2h0M21.8 424.0h0M32.1 414.1h0M25.5 428.0h0M38.4 413.4h0M38.9 411.1h0M23.9 425.0h0M23.3 425.0h0M36.3 417.2h0M31.8 415.0h0M29.0 417.6h0M25.3 430.0h0M27.0 418.9h0M26.3 418.4h0M23.7 428.9h0M49.3 406.9h0M51.5 409.2h0M32.0 416.2h0M21.0 432.4h0M45.2 408.5h0M24.5 420.0h0M41.0 411.0h0M26.8 423.7h0M46.4 411.4h0M30.4 417.9h0M36.9 411.1h0M30.5 415.4h0M46.8 410.1h0M48.2 406.9h0M49.8 407.4h0M27.1 419.8h0M35.2 414.6h0M32.1 417.8h0M37.7 413.8h0M29.4 414.7h0M30.9 415.1h0M22.6 430.0h0M36.4 417.5h0M49.7 406.3h0M26.7 419.0h0M42.1 411.3h0M28.2 416.2h0M27.3 421.2h0M23.6 419.6h0M22.2 425.9h0M36.3 413.3h0M40.4 412.0h0M25.7 424.8h0M41.5 413.8h0M30.7 420.8h0M38.7 415.1h0M37.1 415.9h0M49.9 408.6h0M29.8 417.1h0M27.8 422.4h0" stroke="#8bd35a" stroke-width="1.90" stroke-linecap="round" fill="none"/>
<path d="M65.6 398.5h0M56.4 402.3h0M65.5 403.5h0M58.7 406.3h0M54.0 407.6h0M72.8 397.9h0M53.7 405.7h0M81.8 397.0h0M68.4 400.1h0M62.9 406.5h0M63.1 403.3h0M73.9 397.9h0M75.9 397.6h0M67.9 399.8h0M57.3 404.2h0M75.4 396.8h0M56.6 402.6h0M65.2 400.8h0M53.3 404.3h0M53.8 399.4h0M56.5 398.6h0M57.1 403.3h0M81.1 393.7h0M66.9 402.9h0M67.0 401.1h0M80.6 394.3h0M66.9 399.7h0M54.1 402.8h0M58.0 404.2h0M58.2 398.0h0M54.3 405.3h0M63.5 399.1h0M54.1 406.2h0M60.5 407.9h0M74.9 400.2h0M63.3 407.7h0M51.3 402.6h0M68.1 400.0h0M58.5 399.5h0M51.0 405.9h0M51.1 405.2h0M57.4 397.7h0M72.7 400.9h0M69.0 401.7h0M53.6 408.7h0M61.3 407.9h0M60.3 405.6h0M73.4 396.4h0M56.1 409.6h0M64.4 400.4h0M49.9 403.9h0M55.1 409.2h0M65.2 403.7h0M60.2 404.6h0M63.1 408.2h0M57.8 404.5h0M54.3 401.0h0M76.4 396.8h0M80.1 396.7h0M53.2 404.6h0M54.0 398.7h0M51.2 407.5h0M62.2 407.5h0M83.8 396.3h0M51.7 401.8h0M70.2 396.1h0M54.5 398.3h0M56.4 399.1h0M59.1 408.7h0M76.4 398.8h0M62.2 405.1h0M72.6 399.7h0M57.9 401.0h0M56.5 407.3h0M64.0 402.5h0M50.6 406.2h0M59.6 406.2h0M61.4 404.9h0M77.8 395.7h0M54.6 402.8h0M57.6 404.6h0M56.5 401.0h0M59.4 399.5h0M75.8 394.7h0M55.5 408.5h0M77.2 398.1h0M55.4 405.5h0M51.3 405.5h0M58.6 397.2h0M81.4 393.4h0M59.1 404.5h0M68.0 401.2h0M50.3 401.4h0M57.1 404.0h0M64.8 398.9h0M57.2 397.2h0M82.6 394.4h0M59.4 399.8h0M58.1 406.8h0M51.9 404.3h0M51.1 402.8h0M61.6 405.2h0M53.3 401.2h0M57.0 403.0h0M74.8 397.0h0M55.1 409.2h0M72.4 396.1h0M82.4 396.7h0M60.9 409.5h0M54.6 404.1h0M76.8 397.8h0M66.3 402.9h0M65.9 398.4h0M59.0 404.0h0M57.5 404.4h0M66.4 402.3h0M64.9 398.8h0M61.3 398.0h0M66.5 401.3h0M62.3 404.4h0M58.1 402.1h0M52.0 399.4h0M53.5 406.6h0M51.1 406.1h0M69.1 397.3h0M61.2 400.8h0M53.2 401.4h0M60.0 403.2h0M59.1 398.1h0M57.7 409.7h0" stroke="#dfc03c" stroke-width="1.90" stroke-linecap="round" fill="none"/>
<path d="M81.2 410.0h0M79.1 402.3h0M76.4 405.4h0M79.7 403.6h0M84.0 408.8h0M85.2 409.5h0M83.5 409.5h0M76.5 407.8h0M78.7 410.2h0M81.0 406.9h0M80.3 410.5h0M82.4 406.3h0M83.2 409.6h0M74.1 404.0h0M84.1 408.1h0M80.3 407.6h0M84.9 407.1h0M84.2 408.4h0M75.5 404.0h0M75.2 406.8h0M75.0 407.6h0M80.2 407.3h0M84.2 409.6h0M81.9 404.9h0M75.6 403.7h0M80.5 408.9h0M78.7 409.6h0M78.4 410.4h0M83.2 407.8h0M77.7 402.9h0M75.5 404.7h0M80.6 407.4h0M77.5 404.5h0M78.6 407.4h0M76.3 405.1h0M82.3 409.1h0M75.6 408.3h0M82.6 411.8h0M80.8 405.8h0M79.1 404.5h0M78.6 408.8h0M83.9 409.2h0M77.4 409.5h0M84.1 409.1h0M83.5 408.0h0" stroke="#dfc03c" stroke-width="1.90" stroke-linecap="round" fill="none"/>
<path d="M93.1 387.3h0M103.3 389.9h0M89.8 394.6h0M92.1 390.9h0M98.3 383.9h0M93.9 401.0h0M105.0 400.5h0M107.2 398.1h0M93.1 387.5h0M101.3 404.7h0M101.2 388.1h0M94.2 386.1h0M103.2 399.9h0M96.3 387.1h0M101.9 388.8h0M96.1 410.2h0M98.8 392.4h0M105.5 403.6h0M106.0 395.5h0M89.7 402.6h0M87.2 390.6h0M102.6 399.1h0M99.4 400.6h0M94.8 396.2h0M108.5 397.3h0M88.1 403.3h0M103.4 387.7h0M85.1 396.1h0M98.1 411.3h0M104.6 396.5h0M85.9 402.5h0M88.7 389.5h0M93.8 409.5h0M96.6 391.7h0M95.8 395.8h0M98.1 386.2h0M91.3 402.9h0M95.1 405.6h0M94.4 397.2h0M91.7 408.3h0M96.2 400.7h0M89.8 404.8h0M101.1 391.4h0M103.3 408.5h0M89.3 400.8h0M83.3 394.5h0M101.5 396.8h0M96.7 403.4h0M95.5 391.1h0M90.4 396.7h0M102.1 390.2h0M103.4 387.9h0M107.9 400.7h0M104.0 390.2h0M106.4 409.3h0M95.7 405.7h0M83.7 393.3h0M91.6 392.5h0M95.0 408.3h0M85.0 391.2h0M103.9 402.3h0M91.0 405.1h0M91.4 404.9h0M102.6 391.5h0M100.8 409.5h0M94.1 392.1h0M89.4 405.3h0M104.9 396.0h0M104.1 402.1h0M97.1 405.5h0M102.5 396.5h0M99.8 410.8h0M92.9 386.0h0M107.5 393.6h0M99.7 388.8h0M92.1 388.2h0M96.6 400.4h0M92.0 410.4h0M93.5 398.0h0M101.3 399.4h0M85.0 399.5h0M96.3 402.7h0M92.9 386.1h0M97.9 397.5h0M102.4 410.3h0M107.7 397.3h0M108.3 400.4h0M98.2 394.6h0M100.6 391.6h0M106.0 399.8h0M91.1 389.5h0M98.5 385.0h0M93.4 400.0h0M98.1 406.8h0M93.3 406.1h0M103.4 404.1h0M96.4 391.3h0M102.1 406.5h0M97.1 401.4h0M99.2 385.9h0M106.1 405.4h0M96.8 393.7h0M92.4 406.2h0M97.9 397.0h0M92.4 385.7h0M102.2 411.0h0M89.7 398.8h0M89.9 388.0h0M96.0 405.4h0M98.4 401.8h0M97.9 390.9h0M100.9 387.7h0M103.5 405.1h0M94.2 402.0h0M90.0 409.2h0M91.4 390.3h0M90.1 402.6h0M89.9 397.9h0M107.2 406.5h0M97.6 410.4h0M88.7 401.7h0M106.4 395.8h0M101.0 411.3h0M86.5 407.5h0M108.4 399.7h0M107.5 399.5h0M105.3 402.6h0M100.4 411.3h0M106.6 391.7h0M99.5 392.8h0M91.8 410.6h0M98.2 405.6h0M93.8 396.7h0M90.8 391.7h0M92.2 407.0h0M99.2 385.8h0M85.8 393.5h0M92.9 389.5h0M93.3 402.0h0M95.3 397.5h0M97.7 388.6h0M103.1 392.2h0M89.7 394.0h0M92.1 394.6h0M103.6 395.9h0M100.1 410.3h0M103.3 393.1h0M106.7 388.6h0M100.9 407.6h0M95.6 409.5h0M89.6 395.0h0M88.0 401.4h0M98.5 408.4h0M91.5 393.9h0M104.9 402.3h0M86.4 391.4h0M89.9 388.5h0M94.9 397.5h0M86.6 396.2h0M86.4 406.8h0M104.8 393.5h0M101.5 408.6h0M95.2 386.0h0M106.2 391.6h0M102.2 398.4h0M88.0 408.6h0M105.3 405.7h0M99.0 387.9h0M92.2 387.9h0M86.0 396.5h0M99.0 403.7h0M97.8 387.9h0M100.3 409.7h0M84.9 393.8h0M88.6 391.8h0M103.0 390.3h0M99.7 405.9h0M93.2 397.0h0M95.1 409.0h0M105.3 393.1h0M98.8 397.9h0M97.9 408.8h0M105.9 395.2h0M86.6 402.0h0M91.9 409.8h0M89.6 395.3h0M89.5 402.4h0M86.6 400.4h0M88.0 391.4h0M93.6 387.4h0M106.4 388.9h0M101.3 400.2h0M107.9 397.4h0M102.3 396.5h0M99.0 387.6h0M97.3 410.3h0M97.2 387.4h0M107.1 398.6h0M90.4 392.1h0M107.2 389.5h0M99.8 410.8h0M90.7 408.0h0M89.9 398.0h0M95.0 409.1h0M92.7 398.5h0M103.5 398.4h0M94.6 397.3h0M91.1 394.4h0M104.9 389.9h0M86.0 391.0h0M91.6 401.6h0M98.1 387.5h0M102.0 390.4h0M99.0 403.7h0M107.4 406.3h0M89.6 395.6h0M90.1 394.3h0M106.2 405.8h0M104.7 389.2h0M88.9 401.7h0M99.3 398.8h0M93.3 405.3h0M87.7 398.9h0M96.3 387.8h0M90.2 387.6h0M83.7 396.4h0M87.1 401.6h0M104.0 390.4h0M98.3 397.1h0M93.9 409.0h0M107.3 396.2h0M93.0 397.1h0M88.2 396.3h0M95.6 393.3h0M83.4 392.8h0M98.2 385.8h0M85.3 392.0h0M89.9 406.9h0M85.3 392.8h0M88.6 396.9h0M105.2 395.3h0M99.2 409.3h0M94.7 393.8h0M98.6 389.0h0M101.0 397.2h0M91.9 392.9h0M86.3 402.4h0M88.3 391.5h0M96.4 402.1h0M94.9 399.1h0M93.7 397.6h0M97.9 384.2h0M91.6 396.8h0M99.3 383.9h0M100.7 407.7h0M97.9 387.0h0M106.6 401.4h0M92.5 405.3h0M100.6 408.2h0M94.2 409.5h0M89.9 405.8h0M91.1 394.4h0M101.3 385.3h0M85.2 393.7h0M93.3 396.1h0M101.0 388.7h0M99.0 388.2h0M95.9 399.2h0M84.2 394.1h0M95.9 406.2h0M98.1 402.4h0M106.5 390.1h0M88.2 406.6h0M93.0 395.2h0M103.0 404.9h0M97.0 394.0h0M86.5 398.8h0M95.6 386.2h0M102.8 408.1h0M94.7 385.4h0M89.0 400.5h0M107.3 390.5h0M87.5 401.3h0M107.3 390.9h0M100.5 387.1h0M106.9 393.0h0M95.8 398.6h0M97.2 388.5h0M93.5 406.5h0M93.1 410.9h0M92.5 385.3h0M95.6 384.5h0M94.1 409.0h0M91.2 392.3h0M107.9 402.5h0M101.6 403.4h0M88.7 393.5h0M105.4 397.4h0M91.2 406.4h0M85.3 400.0h0M105.7 390.3h0M93.3 392.4h0M104.2 405.5h0M107.0 393.2h0M89.6 409.3h0M92.8 395.4h0M101.8 396.2h0M108.3 393.7h0M99.7 392.4h0M91.4 410.0h0M90.9 392.5h0M92.4 404.0h0M87.9 393.2h0M103.1 401.3h0M105.2 410.3h0M103.8 409.4h0M96.4 404.4h0M103.5 404.8h0M91.1 397.8h0M91.9 386.4h0M98.5 401.6h0M106.8 406.9h0M90.1 407.1h0M99.5 388.0h0M98.6 390.3h0M104.8 397.4h0M103.0 388.4h0M106.1 399.9h0M95.5 394.9h0M99.4 387.8h0" stroke="#f24a1e" stroke-width="1.90" stroke-linecap="round" fill="none"/>
<path d="M139.9 415.1h0M128.8 409.7h0M144.7 415.2h0M147.3 419.1h0M112.5 395.9h0M127.2 409.0h0M111.3 399.2h0M114.7 397.5h0M140.4 411.5h0M142.7 419.9h0M142.9 419.7h0M143.6 421.3h0M116.8 399.2h0M129.9 402.2h0M133.5 400.3h0M128.2 411.4h0M121.3 400.7h0M111.4 396.9h0M108.5 393.1h0M142.4 419.3h0M128.8 402.7h0M122.5 392.1h0M130.9 409.3h0M143.0 423.5h0M140.1 408.7h0M123.4 393.1h0M127.6 404.3h0M118.4 400.1h0M119.6 398.3h0M118.7 398.9h0M125.9 410.6h0M105.0 392.4h0M109.7 409.1h0M133.8 409.1h0M105.5 392.4h0M136.1 403.7h0M116.6 405.9h0M105.9 402.3h0M146.0 415.1h0M107.9 399.3h0M117.0 404.2h0M108.4 395.4h0M116.2 407.8h0M113.8 409.8h0M138.2 417.4h0M145.3 429.8h0M114.2 396.5h0M116.3 397.4h0M132.9 401.6h0M104.5 397.2h0M133.2 404.9h0M146.2 418.3h0M109.2 393.8h0M113.9 394.4h0M125.4 400.8h0M131.5 395.8h0M146.9 417.7h0M108.1 389.4h0M137.4 416.6h0M112.0 395.5h0M130.2 399.6h0M109.3 401.1h0M131.0 399.3h0M123.9 395.9h0M143.0 421.1h0M130.2 399.5h0M109.0 404.6h0M108.5 402.8h0M105.1 391.0h0M107.0 400.7h0M143.3 426.6h0M115.1 390.0h0M104.6 400.0h0M108.5 406.6h0M125.8 394.4h0M118.5 394.0h0M137.2 405.8h0M126.2 410.0h0M112.0 391.0h0M146.9 426.1h0M117.8 390.1h0M144.4 410.5h0M139.3 415.3h0M121.3 390.7h0M144.4 429.2h0M139.8 410.6h0M147.1 416.5h0M122.7 397.2h0M116.4 398.0h0M111.3 407.5h0M143.0 426.5h0M141.2 411.8h0M116.8 399.7h0M123.9 406.1h0M144.1 426.4h0M137.0 408.1h0M105.1 399.6h0M107.4 388.0h0M118.9 408.7h0M125.6 392.9h0M128.2 410.0h0M138.1 401.7h0M134.1 403.6h0M109.8 395.9h0M126.5 399.2h0M145.6 421.9h0M124.8 398.9h0M115.0 405.0h0M109.6 404.4h0M103.5 392.2h0M135.2 401.2h0M138.9 408.2h0M127.2 407.4h0M141.2 404.8h0M132.7 397.3h0M108.0 403.3h0M132.8 401.5h0M126.2 400.3h0M114.1 395.5h0M142.3 416.7h0M104.8 400.9h0M140.8 420.1h0M104.6 398.2h0M120.2 394.1h0M129.6 409.8h0M128.6 405.0h0M135.9 402.6h0M115.6 388.4h0M132.3 401.3h0M106.9 408.9h0M129.9 407.1h0M125.9 398.6h0M115.5 408.4h0M143.7 412.6h0M105.0 390.6h0M138.7 404.4h0M112.6 396.7h0M143.9 408.6h0M108.5 387.7h0M121.9 401.4h0M145.8 412.2h0M109.3 389.1h0M104.4 391.1h0M140.6 409.0h0M134.9 408.8h0M126.8 406.3h0M114.5 409.4h0M139.4 404.9h0M121.5 395.4h0M125.4 403.4h0M123.1 392.9h0M125.2 405.5h0M135.7 411.9h0M113.8 402.2h0M127.4 396.8h0M106.2 399.1h0M146.2 427.3h0M146.9 425.3h0M128.5 411.2h0M133.9 408.9h0M128.2 396.6h0M107.3 394.2h0M139.1 404.7h0M123.1 395.7h0M109.0 400.2h0M104.5 401.6h0M135.8 404.7h0M140.9 422.6h0M109.2 387.2h0M118.6 391.1h0M145.7 430.8h0M105.9 402.2h0M137.5 408.0h0M120.6 401.4h0M123.0 399.5h0M145.5 425.2h0M147.7 424.8h0M146.7 429.4h0M144.7 427.3h0M145.5 416.6h0M114.1 407.5h0M134.5 412.8h0M121.8 405.8h0M127.4 393.7h0M105.5 398.8h0M121.5 409.9h0M133.6 398.8h0M116.0 408.8h0M126.6 399.1h0M111.1 409.4h0M143.3 408.9h0M135.9 411.7h0M143.0 428.8h0M133.0 405.5h0M144.6 423.3h0M124.2 399.4h0M122.0 405.6h0M113.3 400.7h0M104.9 389.9h0M106.9 393.6h0M109.4 391.2h0M120.2 395.8h0M139.4 412.5h0M107.9 397.5h0M146.2 412.3h0M136.0 407.7h0M107.3 395.3h0M139.3 409.4h0M112.0 409.3h0M120.6 407.6h0M121.7 398.5h0M146.4 415.8h0M127.4 394.7h0M119.7 397.4h0M131.5 400.3h0M123.1 398.3h0M122.4 395.0h0M128.5 400.3h0M129.7 398.9h0M143.0 408.7h0M124.9 401.5h0M137.1 411.7h0M118.1 395.2h0M136.5 402.3h0M136.6 415.6h0M112.6 407.2h0M108.0 393.6h0M135.3 408.9h0M104.7 403.1h0M142.6 419.9h0M146.8 419.3h0M148.3 421.9h0M137.6 401.7h0M117.1 390.4h0M117.4 397.5h0M120.2 404.0h0M124.0 402.5h0M121.2 402.9h0M131.2 398.7h0M128.8 407.7h0M139.4 404.9h0M111.9 406.4h0M122.8 391.1h0M107.8 390.4h0M141.2 422.0h0M130.4 406.6h0M112.8 409.6h0M111.8 409.5h0M116.5 406.3h0M120.7 400.3h0M119.8 409.0h0M109.4 401.8h0M107.0 389.1h0M117.7 393.8h0M118.3 394.5h0M136.4 403.0h0M105.0 403.0h0M123.1 395.4h0M145.2 429.4h0M115.8 391.5h0M120.2 396.2h0M137.2 404.7h0M116.4 405.4h0M119.7 391.3h0M142.9 428.7h0M126.3 404.9h0M133.6 411.7h0M133.0 398.2h0M140.6 411.6h0M127.2 408.1h0M141.7 419.0h0M126.8 397.3h0M122.8 398.5h0M137.3 407.1h0M108.9 395.3h0M140.2 404.6h0M144.5 426.9h0M140.5 405.7h0M117.4 401.6h0M139.0 408.1h0M146.0 413.8h0M111.9 398.2h0M118.5 400.0h0M127.4 402.1h0M118.2 406.6h0M116.2 399.1h0M126.6 405.0h0M132.0 411.9h0M129.8 399.2h0M105.0 401.9h0M123.1 396.0h0M116.9 393.4h0M114.4 400.1h0M127.3 409.2h0M104.5 396.3h0M120.2 395.2h0M125.8 409.6h0M131.9 405.5h0M111.4 390.8h0M145.3 430.1h0M134.6 403.7h0M138.1 402.0h0M118.6 393.1h0M123.5 398.7h0M111.8 404.3h0M104.7 401.8h0M105.4 387.5h0M147.7 422.5h0M122.6 397.7h0M137.8 414.6h0M106.5 392.9h0M116.0 398.1h0M108.3 395.2h0M123.5 398.4h0M141.5 405.6h0M145.4 419.7h0M129.8 407.5h0M146.1 430.4h0M145.6 418.5h0M126.4 399.7h0M108.6 401.1h0M138.7 407.5h0M138.7 410.6h0M146.7 416.0h0M108.5 406.0h0M132.3 402.4h0M109.9 405.8h0M142.2 419.3h0M131.5 410.4h0M127.4 402.7h0M129.0 395.1h0M109.2 394.6h0M108.7 407.0h0M119.2 400.1h0M109.9 392.8h0M104.1 395.3h0M137.4 403.7h0M125.0 400.9h0M124.3 391.4h0M117.3 398.0h0M146.2 423.5h0M107.6 402.0h0M123.0 393.5h0M140.8 415.6h0M115.8 391.0h0M140.1 408.3h0M137.1 417.0h0M121.3 406.0h0M131.7 411.6h0M145.0 429.7h0M144.0 418.3h0M110.4 409.2h0M134.6 402.7h0M110.1 387.5h0M109.3 392.5h0M114.9 390.5h0M123.1 408.3h0M120.1 404.6h0M113.4 395.8h0M130.3 397.7h0M126.1 397.4h0M105.4 393.8h0M138.3 408.9h0M146.3 428.9h0M114.5 406.8h0M107.2 397.7h0M116.3 388.9h0M106.9 402.0h0M105.5 402.9h0M107.3 391.5h0M120.3 410.0h0M143.6 423.3h0M146.0 421.4h0M131.3 409.0h0M143.6 408.6h0M145.3 422.6h0M120.2 405.1h0M113.3 392.5h0M120.8 394.1h0M140.5 417.4h0M128.7 411.0h0M115.7 403.9h0M105.2 386.3h0M144.4 414.8h0M146.2 414.2h0M132.2 410.6h0M127.2 401.3h0M112.3 388.8h0M143.3 417.6h0M112.3 407.2h0M115.9 388.6h0M118.5 405.5h0M139.3 408.5h0M135.5 403.8h0M107.9 389.5h0M104.6 390.0h0M124.1 406.9h0M131.9 408.8h0M111.4 400.8h0M118.5 393.8h0M125.8 403.1h0M122.2 409.9h0M134.0 406.4h0M114.8 393.3h0M142.8 407.8h0M116.7 388.7h0M148.8 418.8h0M136.2 400.6h0M118.2 402.7h0M107.7 397.5h0M127.7 396.7h0M138.9 405.5h0M107.4 406.9h0M131.5 399.5h0M103.7 387.9h0M112.0 396.3h0M105.3 396.1h0M116.6 399.4h0M105.6 396.3h0M128.3 399.8h0" stroke="#b3a38c" stroke-width="1.90" stroke-linecap="round" fill="none"/>
<path d="M110.2 417.5h0M101.8 421.2h0M119.1 428.8h0M107.2 424.1h0M108.9 426.5h0M117.6 413.7h0M111.9 426.7h0M92.2 410.8h0M109.8 419.3h0M127.0 432.9h0M112.0 431.9h0M107.3 414.0h0M97.0 419.9h0M115.0 432.0h0M91.0 417.9h0M116.4 419.3h0M107.2 415.2h0M109.7 423.2h0M91.5 414.3h0M113.5 429.4h0M114.1 423.0h0M115.0 430.3h0M107.4 411.2h0M120.3 422.6h0M124.6 432.0h0M107.3 420.2h0M136.2 426.2h0M131.6 428.8h0M104.6 415.0h0M110.3 428.7h0M108.7 417.6h0M113.3 420.1h0M127.7 432.1h0M115.4 417.3h0M119.4 426.7h0M114.8 413.6h0M99.8 413.2h0M101.8 421.0h0M120.2 420.8h0M107.4 429.4h0M107.2 420.4h0M112.7 411.9h0M104.1 425.6h0M134.4 425.1h0M113.1 426.9h0M117.5 430.4h0M123.7 432.9h0M99.8 422.5h0M98.7 422.7h0M126.2 420.5h0M98.5 416.6h0M98.5 422.7h0M128.0 432.3h0M108.5 413.2h0M101.8 416.4h0M123.0 416.9h0M129.3 423.2h0M123.9 415.8h0M98.1 418.6h0M120.5 426.8h0M130.4 425.0h0M114.8 417.9h0M103.1 415.9h0M115.2 429.0h0M98.4 410.9h0M110.4 411.3h0M109.0 421.0h0M128.8 425.4h0M105.4 427.3h0M98.2 414.9h0M92.3 418.8h0M122.3 422.1h0M116.2 425.0h0M102.7 418.2h0M115.0 417.7h0M99.6 419.5h0M117.3 422.9h0M107.7 420.8h0M93.3 411.7h0M108.8 413.7h0M110.5 430.6h0M115.0 413.1h0M98.8 418.4h0M119.9 419.8h0M114.0 431.1h0M114.0 412.5h0M102.1 418.0h0M112.5 417.0h0M94.2 412.7h0M104.6 413.1h0M109.7 426.5h0M119.9 428.5h0M104.6 416.5h0M125.0 428.0h0M118.5 427.6h0M117.2 419.8h0M99.7 415.4h0M101.0 424.4h0M129.9 420.6h0M131.3 423.9h0M124.2 429.0h0M127.2 425.0h0M103.1 422.7h0M115.6 426.1h0M88.7 412.4h0M117.5 426.9h0M101.6 416.1h0M128.9 420.8h0M105.9 418.7h0M124.5 430.0h0M131.0 425.8h0M123.4 432.1h0M97.6 423.7h0M129.4 427.1h0M123.6 430.4h0M134.3 428.6h0M104.8 414.2h0M120.5 425.5h0M110.9 416.4h0M130.6 427.3h0M103.4 424.9h0M99.3 417.6h0M112.9 419.3h0M122.0 432.3h0M123.1 420.5h0M119.3 430.9h0M112.9 431.9h0M95.6 423.4h0M108.3 421.4h0M110.0 424.7h0M116.9 415.5h0M107.6 422.1h0M122.8 426.3h0M115.1 431.4h0M99.9 424.9h0M116.9 418.9h0M94.3 412.6h0M107.9 414.9h0M130.6 424.9h0M104.8 429.7h0M122.1 421.2h0M102.5 417.6h0M89.8 414.6h0M119.7 414.0h0M126.0 425.0h0M119.8 417.5h0M112.8 415.5h0M127.1 417.8h0M120.2 415.8h0M109.0 412.1h0M117.2 419.2h0M87.7 412.5h0M112.4 428.6h0M135.3 429.6h0M120.8 422.3h0M106.1 412.7h0M96.5 418.4h0M99.7 421.2h0M98.9 417.3h0M102.3 421.0h0M133.3 428.3h0M98.6 415.3h0M101.8 411.5h0M95.7 422.1h0M131.8 428.7h0M101.4 413.1h0M106.4 414.5h0M120.1 424.1h0M121.9 430.0h0M116.1 430.5h0M111.9 422.7h0M132.1 426.0h0M96.7 410.4h0M130.1 424.9h0M129.5 425.6h0M120.3 417.1h0M118.2 418.1h0M132.4 428.7h0M105.3 416.9h0M122.8 424.9h0M113.6 415.9h0M126.8 421.9h0M127.0 421.3h0M110.8 421.9h0M106.0 422.7h0M113.1 424.2h0M111.0 423.6h0M103.2 421.0h0M110.1 413.4h0M117.6 428.9h0M111.2 419.7h0M131.4 425.9h0M112.7 412.2h0M95.6 415.5h0M114.8 416.4h0M102.4 428.1h0M116.3 413.7h0M124.2 428.0h0M132.7 426.3h0M120.9 431.7h0M123.1 417.7h0M128.2 424.9h0M124.7 426.8h0M105.1 418.4h0M109.9 414.4h0M127.4 429.3h0M111.2 415.6h0M128.6 420.6h0M118.9 424.4h0M95.6 422.3h0M127.5 427.9h0M128.0 420.9h0M99.9 410.4h0M93.6 414.7h0M126.8 420.9h0M126.6 428.0h0M90.0 412.2h0M108.5 411.3h0M116.1 428.6h0M127.1 425.3h0M96.3 421.5h0M112.9 427.1h0M121.6 432.6h0M101.9 415.2h0M126.4 429.9h0M96.2 423.7h0M106.8 429.6h0M120.0 420.9h0M120.4 423.4h0M118.5 429.6h0" stroke="#8cf0f8" stroke-width="1.90" stroke-linecap="round" fill="none"/>
<path d="M155.5 473.9h0M181.0 478.6h0M162.8 482.0h0M150.6 455.0h0M193.6 464.1h0M184.5 482.2h0M156.5 467.0h0M192.1 468.1h0M157.3 472.5h0M196.0 475.0h0M189.7 469.2h0M149.1 461.3h0M162.2 477.0h0M168.3 459.7h0M184.6 484.6h0M184.7 468.8h0M179.6 474.0h0M163.9 466.1h0M180.8 483.5h0M191.5 465.8h0M192.4 464.6h0M168.8 454.4h0M161.2 481.0h0M157.6 446.3h0M158.5 479.2h0M159.3 473.3h0M195.1 480.7h0M180.2 484.5h0M192.3 469.5h0M187.4 471.4h0M160.3 457.0h0M193.3 464.8h0M167.2 464.0h0M188.2 469.8h0M189.5 480.4h0M165.2 455.2h0M154.3 467.7h0M184.5 473.7h0M158.0 477.9h0M188.6 483.1h0M163.1 470.8h0M169.5 460.8h0M164.0 452.9h0M174.8 467.4h0M153.0 462.8h0M154.4 454.9h0M175.9 455.9h0M196.6 481.9h0M168.4 479.4h0M186.9 483.0h0M165.5 461.1h0M179.9 475.8h0M182.0 473.6h0M163.0 473.9h0M194.9 487.1h0M160.4 446.7h0M151.7 466.9h0M163.4 452.5h0M163.1 474.7h0M173.0 469.4h0M189.4 484.2h0M169.7 480.9h0M179.5 453.6h0M158.2 479.1h0M190.4 477.0h0M162.6 480.7h0M152.5 456.8h0M184.0 461.3h0M183.4 458.1h0M164.2 454.0h0M149.4 454.0h0M195.4 474.3h0M167.9 449.1h0M193.4 468.5h0M161.6 458.0h0M153.0 463.0h0M176.4 471.3h0M156.5 467.8h0M179.7 482.9h0M183.6 470.7h0M155.0 460.0h0M170.2 460.5h0M176.8 462.1h0M192.0 486.9h0M158.9 463.4h0M161.4 478.4h0M196.0 470.8h0M162.0 471.4h0M158.7 461.6h0M153.1 446.1h0M175.7 455.7h0M169.2 480.3h0M174.5 458.6h0M190.4 469.2h0M167.1 450.0h0M167.1 475.2h0M184.4 477.2h0M176.6 454.7h0M191.7 483.9h0M192.7 468.8h0M192.1 482.0h0M158.7 476.1h0M175.2 460.9h0M174.5 475.0h0M160.4 477.2h0M156.0 454.0h0M165.1 464.0h0M169.7 461.6h0M154.6 446.1h0M184.0 472.4h0M153.7 453.7h0M160.5 471.8h0M184.5 463.6h0M176.1 452.4h0M167.8 480.7h0M160.6 454.6h0M163.3 467.8h0M180.9 476.7h0M178.0 463.4h0M156.9 458.7h0M180.5 478.2h0M190.1 466.3h0M192.0 462.1h0M190.2 468.4h0M191.1 480.1h0M156.7 452.9h0M179.3 482.6h0M167.9 459.9h0M160.6 464.2h0M196.0 481.0h0M168.3 483.2h0M176.5 454.8h0M184.5 468.0h0M183.9 474.3h0M168.7 450.9h0M190.5 482.4h0M187.1 472.7h0M180.6 475.0h0M190.5 475.0h0M174.2 450.8h0M184.8 470.7h0M163.2 461.1h0M177.9 456.2h0M153.1 467.8h0M179.6 481.3h0M179.3 479.7h0M161.4 446.8h0M163.3 467.3h0M190.4 465.6h0M161.3 464.7h0M161.7 462.4h0M165.3 458.8h0M178.7 479.5h0M176.5 469.3h0M183.1 460.3h0M183.6 462.6h0M187.2 477.0h0M159.1 473.5h0M157.5 446.6h0M158.3 472.3h0M182.6 472.1h0M175.2 451.9h0M152.2 460.9h0M171.3 479.3h0M174.0 450.7h0M192.9 487.0h0M190.6 467.8h0M174.5 474.9h0M196.9 478.8h0M194.9 476.2h0M190.2 470.5h0M185.7 469.0h0M180.5 480.9h0M175.9 469.0h0M167.6 461.0h0M158.6 467.1h0M184.0 483.6h0M169.7 483.3h0M174.5 460.7h0M184.8 476.2h0M172.4 469.7h0M191.6 478.4h0M181.3 477.9h0M161.5 451.3h0M152.7 466.6h0M153.3 470.7h0M163.5 470.3h0M174.5 461.2h0M151.3 452.0h0M167.6 467.5h0M175.1 463.3h0M160.3 481.4h0M156.2 457.1h0M165.3 469.3h0M173.4 453.4h0M168.7 461.1h0M195.7 470.1h0M162.7 452.9h0M191.1 466.3h0M168.9 473.0h0M162.4 464.1h0M184.4 486.2h0M181.5 480.3h0M158.0 467.5h0M175.7 475.7h0M181.8 480.0h0M157.2 475.2h0M193.1 470.8h0M178.4 482.2h0M159.3 476.1h0M195.0 468.4h0M168.2 473.6h0M189.2 487.8h0M159.2 469.3h0M164.9 481.4h0M161.4 463.5h0M182.0 484.7h0M183.2 470.6h0M165.4 465.4h0M166.7 470.0h0M169.2 476.8h0M164.9 460.1h0M183.6 467.8h0M166.1 475.9h0M181.6 465.1h0M172.8 454.8h0M176.8 457.7h0M180.4 454.2h0M150.3 462.1h0M154.6 455.4h0M165.5 455.8h0M173.4 473.9h0M169.0 479.7h0M165.4 457.1h0M177.2 477.4h0M178.1 473.8h0M164.4 478.5h0M192.8 477.0h0M154.3 466.7h0M184.6 463.8h0M166.2 461.6h0M194.4 480.7h0M191.4 468.6h0M189.3 470.9h0M171.0 460.7h0M175.7 455.0h0M165.2 466.9h0M168.7 454.7h0M159.5 467.1h0M160.7 465.0h0M172.9 452.6h0M171.9 480.2h0M191.6 476.1h0M174.8 461.5h0M176.0 478.0h0M180.5 466.1h0M179.6 483.2h0M182.1 479.5h0M187.3 479.2h0M183.2 472.6h0M154.6 450.9h0M173.6 451.7h0M169.5 473.7h0M190.2 464.0h0M158.9 477.6h0M160.4 463.3h0M157.7 468.3h0M186.8 472.3h0M173.2 462.6h0M152.4 457.6h0M176.6 459.7h0M197.0 479.8h0M164.0 449.6h0M172.0 480.3h0M193.4 477.6h0M184.8 469.8h0M191.4 476.6h0M161.3 471.9h0M188.7 466.3h0M149.5 464.5h0M152.4 469.4h0M156.0 455.6h0M185.5 470.4h0M191.1 475.2h0M156.2 459.3h0M185.8 486.7h0M174.8 470.1h0M182.7 463.3h0M189.9 475.4h0M161.1 456.7h0M192.8 474.9h0M176.5 484.1h0M177.5 477.0h0M173.3 472.6h0M167.9 483.0h0M158.4 448.9h0M156.6 458.1h0M169.1 453.3h0M189.4 478.3h0M165.2 457.8h0M186.9 473.8h0M160.9 469.5h0M184.9 462.7h0M156.3 458.0h0M162.2 468.1h0M195.7 474.7h0M157.7 458.4h0M181.2 459.8h0M163.3 456.1h0M158.6 468.5h0M171.1 481.5h0M183.4 482.0h0M169.2 483.1h0M177.2 465.5h0M173.2 449.4h0M162.0 478.4h0M184.3 470.7h0M190.1 478.7h0M173.6 480.3h0M182.3 480.5h0M175.9 458.6h0M161.8 453.2h0M173.6 467.1h0M192.9 472.8h0M156.0 462.4h0M159.6 471.2h0M165.9 454.1h0M178.3 474.6h0M182.8 467.6h0M171.4 473.0h0M159.7 469.7h0M184.4 466.0h0M184.2 482.1h0M196.8 482.6h0M169.8 453.9h0M170.3 463.6h0M161.7 473.1h0M158.0 474.2h0M173.2 463.3h0M151.4 464.6h0M160.9 474.0h0M162.6 472.6h0M165.9 477.8h0M180.5 485.3h0M181.5 476.4h0M183.1 469.9h0M189.9 482.3h0M160.7 455.5h0M189.3 474.3h0M179.8 465.8h0M178.3 484.0h0M176.1 479.2h0M176.7 480.4h0M157.2 474.1h0M177.9 464.9h0M180.1 469.6h0M153.2 456.5h0M191.8 471.5h0M151.5 463.9h0M172.2 459.2h0M162.7 453.2h0M180.0 469.5h0M177.2 481.9h0M153.9 445.2h0M157.0 470.3h0M161.8 467.0h0M184.2 474.8h0M179.2 468.4h0M173.2 457.4h0M167.7 451.0h0M156.1 449.3h0M174.0 450.7h0M165.0 482.3h0M167.3 468.0h0M165.2 454.9h0M175.0 463.2h0M173.4 449.7h0M169.5 464.5h0M176.9 482.3h0M153.4 456.7h0M160.8 471.3h0M163.5 472.0h0M194.6 475.0h0M173.1 464.1h0M164.9 450.7h0M157.5 471.6h0M166.6 456.1h0M180.8 464.3h0M187.8 475.6h0M168.6 483.1h0M179.1 459.5h0M163.9 464.9h0M177.8 463.9h0M151.6 454.5h0M153.4 452.9h0M178.3 456.7h0M183.3 467.0h0M170.4 451.3h0M195.1 469.7h0M166.4 479.1h0M152.4 454.6h0M178.4 457.8h0M158.8 456.7h0M166.7 477.3h0M177.2 452.3h0M179.6 483.8h0M170.8 451.9h0M196.2 470.9h0M191.7 471.5h0M165.0 475.9h0M195.6 471.1h0M168.3 483.7h0M187.4 480.4h0M151.6 457.7h0M164.2 463.2h0M159.6 459.0h0M164.1 474.3h0M161.6 448.4h0M164.1 477.2h0M156.5 455.3h0M184.5 472.2h0M182.5 460.0h0M178.9 457.8h0M155.0 453.6h0M180.9 457.2h0M171.3 465.7h0M151.0 460.4h0M163.5 449.3h0M183.9 478.3h0M194.4 477.2h0M165.8 456.2h0M177.5 478.8h0M149.3 463.8h0M150.9 453.2h0M149.9 456.9h0M152.0 452.8h0M159.4 467.7h0M160.5 450.0h0M170.3 476.7h0M187.0 473.8h0M176.1 450.3h0M172.9 450.1h0M171.7 468.9h0M163.9 479.9h0M173.1 467.9h0M164.8 461.1h0M157.8 461.1h0M164.4 481.1h0M195.5 471.6h0M159.3 473.7h0M195.9 485.6h0M168.5 465.5h0M192.1 474.6h0M171.7 455.7h0M193.5 481.0h0M191.4 486.9h0M190.6 473.4h0M173.7 464.2h0M155.4 453.4h0M173.1 483.3h0M183.4 462.4h0M190.8 466.0h0M156.1 463.4h0M158.9 477.5h0M163.5 472.3h0M156.7 464.1h0M175.4 463.0h0M193.0 472.9h0M165.4 479.3h0M185.1 468.0h0M167.3 463.6h0M167.3 450.7h0M168.3 480.3h0M156.5 459.7h0M183.3 480.8h0M161.6 471.8h0M172.8 475.9h0M173.4 481.3h0M180.3 458.9h0M165.5 477.7h0M174.8 463.3h0M189.1 479.9h0M175.0 450.2h0M180.4 469.2h0M155.9 452.1h0M155.2 472.2h0M153.8 460.4h0M176.9 465.7h0M166.5 476.4h0M181.3 478.4h0M180.8 483.2h0M163.6 481.1h0M192.8 463.9h0M150.0 454.4h0M164.0 474.8h0M192.2 463.6h0M162.2 472.8h0M187.4 476.3h0M176.8 480.6h0M156.0 451.2h0M175.5 482.5h0M153.5 465.1h0M164.6 456.7h0M189.1 478.8h0M177.9 455.5h0M193.8 487.6h0M157.8 467.8h0M175.2 479.3h0M159.0 479.3h0M163.9 476.9h0M194.6 488.0h0M173.2 455.8h0M181.2 469.8h0M163.4 469.9h0M158.5 450.4h0M190.8 472.2h0M184.9 486.7h0M164.7 455.2h0M177.7 455.4h0M155.8 468.5h0M152.4 453.4h0M190.4 475.0h0M185.5 471.7h0M173.5 480.5h0M181.4 457.0h0M177.5 481.3h0M157.7 451.1h0M171.1 469.2h0M180.4 473.5h0M167.7 477.0h0M169.8 454.0h0M161.0 477.9h0M163.8 482.2h0M185.2 476.3h0M151.3 463.8h0M177.3 461.3h0M169.0 452.2h0M149.8 456.0h0M181.0 458.0h0M188.7 471.1h0M163.7 468.5h0M179.5 480.0h0M196.2 473.7h0M177.3 460.0h0M158.5 455.1h0M158.2 470.3h0M159.3 457.9h0M180.5 477.4h0M157.5 470.8h0M187.4 464.2h0M189.3 481.6h0M157.9 463.0h0M160.1 448.5h0M151.6 459.0h0M151.4 450.1h0M190.3 477.5h0M172.7 457.1h0M187.7 483.1h0M184.8 475.8h0M192.4 476.7h0" stroke="#e9a391" stroke-width="1.90" stroke-linecap="round" fill="none"/>
<path d="M195.1 454.2h0M183.4 450.9h0M189.5 454.4h0M188.5 451.4h0M187.5 447.8h0M187.4 446.8h0M200.2 447.0h0M200.3 448.6h0M185.6 448.3h0M192.4 449.2h0M198.8 445.5h0M191.7 442.1h0M203.6 445.2h0M189.9 448.0h0M191.6 456.3h0M184.5 451.1h0M187.2 453.1h0M192.4 453.2h0M183.2 448.2h0M194.0 446.0h0M201.8 453.2h0M187.0 453.1h0M194.6 443.9h0M194.2 441.2h0M200.0 447.6h0M188.0 451.6h0M182.0 448.9h0M197.1 446.8h0M202.8 449.6h0M184.3 444.6h0M203.5 446.7h0M187.1 444.1h0M189.9 447.2h0M185.1 444.6h0M185.1 454.3h0M194.0 439.5h0M206.3 449.0h0M181.5 449.0h0M195.5 443.8h0M194.3 442.3h0M205.7 444.3h0M204.2 449.4h0M190.7 453.0h0M188.0 450.8h0M194.2 440.2h0M193.1 441.6h0M187.5 448.4h0M184.7 452.2h0M202.8 450.8h0M188.9 452.5h0M187.7 446.5h0M195.3 440.8h0M205.2 448.9h0M196.7 443.6h0M197.1 450.5h0M194.4 439.1h0M193.7 456.0h0M190.7 449.7h0M205.3 446.0h0M185.5 448.8h0M204.7 445.4h0M192.3 455.1h0M184.2 449.6h0M197.8 455.4h0M187.4 446.7h0M182.0 450.8h0M198.4 440.3h0M204.6 450.5h0M189.8 449.9h0M199.9 455.5h0M195.7 442.4h0M186.2 451.8h0M204.3 452.5h0M190.6 446.0h0M205.9 447.8h0M203.6 447.8h0M181.8 450.5h0M196.2 447.8h0M187.2 455.8h0M195.0 446.7h0M181.8 446.8h0M186.1 449.1h0M205.5 450.2h0M191.1 443.9h0M202.0 443.2h0M206.3 444.5h0M196.9 444.5h0M194.9 442.2h0M207.0 447.8h0M186.8 456.2h0M194.6 447.5h0M194.5 447.6h0M194.1 446.2h0M195.6 443.3h0M199.3 446.6h0M192.6 442.9h0M198.1 454.0h0M188.3 450.4h0M187.9 442.3h0M189.1 448.9h0M194.6 441.8h0M204.1 447.2h0M188.2 446.8h0M191.3 440.8h0M206.8 445.7h0M190.9 455.6h0M193.1 438.7h0M191.5 452.2h0M188.1 447.4h0M198.1 440.2h0M193.6 448.8h0M200.2 455.0h0M189.1 453.3h0M196.8 448.3h0M193.3 451.3h0M199.9 450.4h0M206.9 450.8h0M184.7 445.0h0M200.4 455.2h0M202.9 442.6h0M185.8 442.0h0M198.5 448.2h0M197.7 446.4h0M208.7 449.1h0M186.8 453.7h0M190.2 456.2h0M183.8 451.2h0M194.9 444.9h0M194.5 452.7h0M204.0 447.5h0M196.0 439.4h0M188.0 446.0h0M198.4 452.8h0M190.7 453.9h0M189.2 450.6h0M191.2 448.1h0M184.9 448.9h0M191.6 440.6h0M198.1 445.5h0M182.8 450.6h0M197.6 447.9h0M194.3 442.3h0M188.1 455.2h0M206.8 449.6h0M190.6 443.1h0M188.6 443.4h0M200.8 445.5h0M188.5 454.9h0M199.2 442.8h0M194.5 456.0h0M184.1 447.3h0M202.4 450.5h0M195.0 447.7h0M189.7 443.7h0M202.5 443.7h0M192.5 448.4h0M197.3 454.0h0M193.9 451.6h0M194.7 447.4h0M187.4 445.4h0M204.3 448.7h0M198.2 442.9h0M203.5 442.9h0M186.3 447.4h0M202.3 450.3h0M207.6 450.3h0M193.1 454.0h0M203.2 450.1h0M205.5 446.7h0M197.6 445.1h0" stroke="#d0dee6" stroke-width="1.90" stroke-linecap="round" fill="none"/>
<path d="M153.2 443.2h0M149.3 434.8h0M144.6 429.8h0M147.8 434.4h0M145.9 431.8h0M147.3 429.8h0M152.8 442.0h0M150.9 439.8h0M151.7 443.2h0M150.1 439.8h0M146.3 430.9h0M149.2 438.4h0M146.7 432.9h0M147.1 435.6h0" stroke="#b3a38c" stroke-width="1.90" stroke-linecap="round" fill="none"/>
<path d="M138.5 495.0h0M144.8 483.0h0M135.4 496.3h0M145.5 474.3h0M138.7 494.7h0M136.8 489.3h0M135.7 492.5h0M138.2 488.8h0M144.4 475.6h0M138.1 495.5h0M137.8 493.1h0M138.7 485.4h0M142.0 484.3h0M137.5 492.3h0M144.5 474.8h0M147.8 475.1h0M143.2 485.8h0M144.9 478.3h0M144.8 475.5h0M143.1 484.0h0M137.2 492.7h0M141.0 487.9h0M142.4 478.9h0M141.8 481.9h0M142.5 478.8h0M138.4 488.5h0M141.1 484.1h0M145.5 479.4h0M137.1 496.3h0M140.0 484.0h0M139.1 485.6h0M138.8 487.7h0M144.5 484.5h0M145.0 482.0h0M142.1 479.9h0M136.9 494.3h0M148.6 473.5h0M142.5 482.5h0M140.6 482.8h0M143.7 478.1h0" stroke="#a6dcc6" stroke-width="1.90" stroke-linecap="round" fill="none"/>
<path d="M166.3 517.0h0M161.3 518.6h0M166.9 511.9h0M169.7 513.0h0M158.4 524.3h0M163.1 516.0h0M169.6 516.1h0M168.1 519.9h0M169.1 506.1h0M160.9 512.5h0M154.4 538.3h0M163.6 524.2h0M171.0 510.1h0M162.5 505.2h0M156.4 533.2h0M161.4 519.2h0M163.3 512.8h0M159.4 523.1h0M160.9 515.3h0M152.3 531.8h0M154.6 535.6h0M167.4 514.6h0M165.2 519.9h0M162.4 519.2h0M154.9 530.5h0M168.6 511.8h0M170.6 517.9h0M153.8 532.3h0M161.6 525.3h0M162.7 524.6h0M161.6 510.6h0M164.2 505.4h0M166.2 520.1h0M156.2 531.2h0M168.1 508.0h0M151.8 532.2h0M170.0 511.6h0M163.7 524.4h0M151.7 532.6h0M164.7 505.2h0M168.4 512.5h0M162.4 517.2h0M166.3 516.0h0M161.1 521.0h0M155.8 535.0h0M165.4 515.7h0M154.3 536.1h0M163.2 519.6h0M161.9 515.0h0M152.7 537.6h0M167.1 521.8h0M165.7 512.1h0M164.5 520.8h0M167.3 519.6h0M154.9 530.5h0M166.5 506.0h0M152.4 534.0h0M168.2 509.2h0M168.8 511.3h0M166.5 514.9h0M169.7 512.8h0M162.1 523.8h0M162.0 517.6h0M166.3 516.1h0M166.4 518.2h0M166.7 517.7h0M162.6 505.6h0M152.1 533.6h0M158.3 528.6h0M167.0 518.6h0M165.9 518.4h0M161.8 514.6h0M156.5 534.8h0M166.9 507.6h0M162.6 522.2h0M168.3 511.0h0M168.8 513.9h0M165.0 509.5h0M162.6 520.5h0M159.5 522.5h0M159.4 526.6h0M159.2 525.6h0M155.3 532.7h0M165.3 523.9h0M171.1 515.0h0M162.1 523.1h0M153.7 531.7h0M169.5 511.4h0M170.6 512.6h0M160.1 526.4h0M166.4 517.0h0M165.9 519.6h0M163.4 514.9h0M163.3 508.9h0M153.8 534.1h0M167.8 509.9h0M164.1 510.0h0M162.3 522.9h0M161.7 511.4h0M155.0 535.0h0M168.7 515.1h0M153.6 535.6h0M158.0 529.0h0M155.1 531.1h0M150.1 534.7h0M165.2 519.2h0M157.5 529.5h0M164.3 512.4h0M166.2 521.8h0M165.3 521.3h0M163.7 510.4h0M161.1 518.1h0M165.0 521.5h0M154.0 529.7h0M162.3 510.1h0M169.3 515.0h0M161.6 515.7h0M165.4 519.8h0M160.8 524.3h0M154.2 532.1h0M169.4 508.2h0M155.0 532.6h0M154.2 532.6h0M166.3 518.2h0M161.8 512.6h0M168.5 515.6h0M164.7 505.4h0M159.8 522.0h0M168.1 510.5h0M165.2 511.0h0M162.3 510.6h0M157.9 528.2h0M167.6 518.5h0M160.1 519.5h0M165.6 509.9h0M166.5 509.4h0M153.1 536.8h0M162.6 519.8h0M162.3 505.9h0M165.0 520.3h0" stroke="#8893c2" stroke-width="1.90" stroke-linecap="round" fill="none"/>
<path d="M157.7 495.4h0M155.9 495.3h0M156.6 497.5h0M157.0 495.8h0M155.5 495.7h0M157.1 496.8h0M157.0 496.8h0M155.8 496.9h0M156.3 494.6h0M156.7 495.2h0" stroke="#8893c2" stroke-width="1.90" stroke-linecap="round" fill="none"/>
<circle cx="42.7" cy="458.7" r="2.6" fill="#e9a391"/>
<text x="53.3" y="461.8" font-size="8.75" font-weight="normal" fill="#222" text-anchor="start" font-family='"Liberation Sans", sans-serif' >chi_COP</text>
<circle cx="42.7" cy="469.6" r="2.6" fill="#8893c2"/>
<text x="53.3" y="472.7" font-size="8.75" font-weight="normal" fill="#222" text-anchor="start" font-family='"Liberation Sans", sans-serif' >chi_CYP_1</text>
<circle cx="42.7" cy="480.5" r="2.6" fill="#a6dcc6"/>
<text x="53.3" y="483.6" font-size="8.75" font-weight="normal" fill="#222" text-anchor="start" font-family='"Liberation Sans", sans-serif' >chi_CYP_2</text>
<circle cx="42.7" cy="491.5" r="2.6" fill="#b3a38c"/>
<text x="53.3" y="494.6" font-size="8.75" font-weight="normal" fill="#222" text-anchor="start" font-family='"Liberation Sans", sans-serif' >chi_Oligo_1</text>
<circle cx="42.7" cy="502.4" r="2.6" fill="#f24a1e"/>
<text x="53.3" y="505.5" font-size="8.75" font-weight="normal" fill="#222" text-anchor="start" font-family='"Liberation Sans", sans-serif' >chi_Oligo_2</text>
<circle cx="42.7" cy="513.3" r="2.6" fill="#8cf0f8"/>
<text x="53.3" y="516.4" font-size="8.75" font-weight="normal" fill="#222" text-anchor="start" font-family='"Liberation Sans", sans-serif' >chi_Oligo_3</text>
<circle cx="42.7" cy="524.2" r="2.6" fill="#dfc03c"/>
<text x="53.3" y="527.3" font-size="8.75" font-weight="normal" fill="#222" text-anchor="start" font-family='"Liberation Sans", sans-serif' >chi_Oligo_4</text>
<circle cx="42.7" cy="535.1" r="2.6" fill="#8bd35a"/>
<text x="53.3" y="538.2" font-size="8.75" font-weight="normal" fill="#222" text-anchor="start" font-family='"Liberation Sans", sans-serif' >chi_Oligo_5</text>
<circle cx="42.7" cy="546.1" r="2.6" fill="#d4e2ea"/>
<text x="53.3" y="549.2" font-size="8.75" font-weight="normal" fill="#222" text-anchor="start" font-family='"Liberation Sans", sans-serif' >chi_OPC</text>
<g stroke="#111" stroke-width="1.25" fill="#111"><line x1="16" y1="569.5" x2="16" y2="535"/><line x1="16" y1="569.5" x2="50" y2="569.5"/><path d="M16 532 L14 536 L18 536 Z"/><path d="M53 569.5 L49 567.5 L49 571.5 Z"/></g>
<text transform="translate(12.2,565.0) rotate(-90)" font-size="6.8" font-weight="normal" fill="#111" text-anchor="start" font-family='"Liberation Sans", sans-serif' textLength="23.6" lengthAdjust="spacingAndGlyphs">UMAP2</text>
<text x="20.0" y="579.0" font-size="6.8" font-weight="normal" fill="#111" text-anchor="start" font-family='"Liberation Sans", sans-serif' textLength="23.4" lengthAdjust="spacingAndGlyphs" >UMAP1</text>
<circle cx="274.4" cy="395.3" r="0.65" fill="#d8b05c"/>
<circle cx="286.0" cy="395.3" r="0.65" fill="#d8b05c"/>
<circle cx="297.6" cy="395.3" r="1.10" fill="#d8b05c"/>
<circle cx="309.3" cy="395.3" r="6.25" fill="#b05ccb"/>
<circle cx="320.9" cy="395.3" r="5.50" fill="#a23ae8"/>
<circle cx="332.5" cy="395.3" r="6.40" fill="#a23ae8"/>
<circle cx="344.1" cy="395.3" r="1.60" fill="#d8b05c"/>
<circle cx="355.8" cy="395.3" r="4.20" fill="#d49a7c"/>
<circle cx="367.4" cy="395.3" r="2.10" fill="#dcd24c"/>
<circle cx="379.0" cy="395.3" r="3.05" fill="#d8b05c"/>
<circle cx="390.6" cy="395.3" r="4.20" fill="#d8b05c"/>
<circle cx="402.3" cy="395.3" r="6.40" fill="#d49a7c"/>
<circle cx="413.9" cy="395.3" r="4.65" fill="#dcd24c"/>
<circle cx="425.5" cy="395.3" r="0.80" fill="#d49a7c"/>
<circle cx="437.1" cy="395.3" r="4.00" fill="#e0dc48"/>
<circle cx="448.8" cy="395.3" r="0.80" fill="#d8b05c"/>
<circle cx="460.4" cy="395.3" r="1.40" fill="#dcd24c"/>
<circle cx="472.0" cy="395.3" r="1.75" fill="#d8b05c"/>
<circle cx="483.6" cy="395.3" r="2.30" fill="#d8b05c"/>
<circle cx="495.3" cy="395.3" r="0.65" fill="#dcd24c"/>
<circle cx="506.9" cy="395.3" r="0.65" fill="#dcd24c"/>
<circle cx="518.5" cy="395.3" r="0.65" fill="#dcd24c"/>
<circle cx="530.1" cy="395.3" r="0.90" fill="#dcd24c"/>
<circle cx="541.8" cy="395.3" r="1.95" fill="#d8b05c"/>
<circle cx="553.4" cy="395.3" r="0.65" fill="#dcd24c"/>
<circle cx="565.0" cy="395.3" r="0.65" fill="#dcd24c"/>
<text x="261.2" y="397.7" font-size="6.6" font-weight="normal" fill="#222" text-anchor="end" font-family='"Liberation Sans", sans-serif' >chi_OPC</text>
<circle cx="274.4" cy="417.6" r="0.65" fill="#d8b05c"/>
<circle cx="286.0" cy="417.6" r="0.65" fill="#d8b05c"/>
<circle cx="297.6" cy="417.6" r="2.00" fill="#d8b05c"/>
<circle cx="309.3" cy="417.6" r="0.80" fill="#dcd24c"/>
<circle cx="320.9" cy="417.6" r="1.10" fill="#dcd24c"/>
<circle cx="332.5" cy="417.6" r="1.30" fill="#e0dc48"/>
<circle cx="344.1" cy="417.6" r="0.65" fill="#dcd24c"/>
<circle cx="355.8" cy="417.6" r="1.00" fill="#dcd24c"/>
<circle cx="367.4" cy="417.6" r="3.05" fill="#dcd24c"/>
<circle cx="379.0" cy="417.6" r="5.00" fill="#d8b05c"/>
<circle cx="390.6" cy="417.6" r="2.55" fill="#d8b05c"/>
<circle cx="402.3" cy="417.6" r="3.05" fill="#e0dc48"/>
<circle cx="413.9" cy="417.6" r="5.30" fill="#e0dc48"/>
<circle cx="425.5" cy="417.6" r="0.65" fill="#e0dc48"/>
<circle cx="437.1" cy="417.6" r="6.40" fill="#d8b05c"/>
<circle cx="448.8" cy="417.6" r="2.40" fill="#d8b05c"/>
<circle cx="460.4" cy="417.6" r="6.50" fill="#b05ccb"/>
<circle cx="472.0" cy="417.6" r="6.50" fill="#a23ae8"/>
<circle cx="483.6" cy="417.6" r="6.50" fill="#b05ccb"/>
<circle cx="495.3" cy="417.6" r="6.50" fill="#a23ae8"/>
<circle cx="506.9" cy="417.6" r="6.50" fill="#a23ae8"/>
<circle cx="518.5" cy="417.6" r="6.50" fill="#a23ae8"/>
<circle cx="530.1" cy="417.6" r="4.00" fill="#c97c9e"/>
<circle cx="541.8" cy="417.6" r="6.50" fill="#b05ccb"/>
<circle cx="553.4" cy="417.6" r="2.65" fill="#a23ae8"/>
<circle cx="565.0" cy="417.6" r="1.75" fill="#c97c9e"/>
<text x="261.2" y="420.0" font-size="6.6" font-weight="normal" fill="#222" text-anchor="end" font-family='"Liberation Sans", sans-serif' >chi_Oligo_5</text>
<circle cx="274.4" cy="439.9" r="0.65" fill="#d8b05c"/>
<circle cx="286.0" cy="439.9" r="0.65" fill="#d8b05c"/>
<circle cx="297.6" cy="439.9" r="1.75" fill="#d8b05c"/>
<circle cx="309.3" cy="439.9" r="1.10" fill="#dcd24c"/>
<circle cx="320.9" cy="439.9" r="0.95" fill="#dcd24c"/>
<circle cx="332.5" cy="439.9" r="4.80" fill="#dcd24c"/>
<circle cx="344.1" cy="439.9" r="0.65" fill="#dcd24c"/>
<circle cx="355.8" cy="439.9" r="1.10" fill="#dcd24c"/>
<circle cx="367.4" cy="439.9" r="5.00" fill="#c97c9e"/>
<circle cx="379.0" cy="439.9" r="6.10" fill="#c97c9e"/>
<circle cx="390.6" cy="439.9" r="6.10" fill="#c97c9e"/>
<circle cx="402.3" cy="439.9" r="5.30" fill="#dcd24c"/>
<circle cx="413.9" cy="439.9" r="6.25" fill="#d08888"/>
<circle cx="425.5" cy="439.9" r="0.65" fill="#e0dc48"/>
<circle cx="437.1" cy="439.9" r="6.40" fill="#c97c9e"/>
<circle cx="448.8" cy="439.9" r="5.00" fill="#c97c9e"/>
<circle cx="460.4" cy="439.9" r="6.40" fill="#b05ccb"/>
<circle cx="472.0" cy="439.9" r="6.40" fill="#d08888"/>
<circle cx="483.6" cy="439.9" r="6.40" fill="#c97c9e"/>
<circle cx="495.3" cy="439.9" r="5.80" fill="#d08888"/>
<circle cx="506.9" cy="439.9" r="5.10" fill="#d49a7c"/>
<circle cx="518.5" cy="439.9" r="1.95" fill="#d49a7c"/>
<circle cx="530.1" cy="439.9" r="3.35" fill="#d08888"/>
<circle cx="541.8" cy="439.9" r="6.00" fill="#c97c9e"/>
<circle cx="553.4" cy="439.9" r="0.65" fill="#dcd24c"/>
<circle cx="565.0" cy="439.9" r="3.35" fill="#a23ae8"/>
<text x="261.2" y="442.3" font-size="6.6" font-weight="normal" fill="#222" text-anchor="end" font-family='"Liberation Sans", sans-serif' >chi_Oligo_4</text>
<circle cx="274.4" cy="462.2" r="0.65" fill="#d8b05c"/>
<circle cx="286.0" cy="462.2" r="0.65" fill="#d8b05c"/>
<circle cx="297.6" cy="462.2" r="1.45" fill="#d8b05c"/>
<circle cx="309.3" cy="462.2" r="1.10" fill="#dcd24c"/>
<circle cx="320.9" cy="462.2" r="3.20" fill="#d49a7c"/>
<circle cx="332.5" cy="462.2" r="6.40" fill="#d08888"/>
<circle cx="344.1" cy="462.2" r="1.30" fill="#dcd24c"/>
<circle cx="355.8" cy="462.2" r="0.95" fill="#dcd24c"/>
<circle cx="367.4" cy="462.2" r="5.15" fill="#b05ccb"/>
<circle cx="379.0" cy="462.2" r="6.10" fill="#b05ccb"/>
<circle cx="390.6" cy="462.2" r="6.40" fill="#b05ccb"/>
<circle cx="402.3" cy="462.2" r="6.10" fill="#a23ae8"/>
<circle cx="413.9" cy="462.2" r="6.40" fill="#c97c9e"/>
<circle cx="425.5" cy="462.2" r="1.00" fill="#d49a7c"/>
<circle cx="437.1" cy="462.2" r="6.40" fill="#d08888"/>
<circle cx="448.8" cy="462.2" r="4.65" fill="#c97c9e"/>
<circle cx="460.4" cy="462.2" r="4.40" fill="#d8b05c"/>
<circle cx="472.0" cy="462.2" r="5.10" fill="#d8b05c"/>
<circle cx="483.6" cy="462.2" r="6.00" fill="#d8b05c"/>
<circle cx="495.3" cy="462.2" r="3.15" fill="#d8b05c"/>
<circle cx="506.9" cy="462.2" r="1.25" fill="#d8b05c"/>
<circle cx="518.5" cy="462.2" r="0.65" fill="#d8b05c"/>
<circle cx="530.1" cy="462.2" r="3.00" fill="#b05ccb"/>
<circle cx="541.8" cy="462.2" r="5.80" fill="#d08888"/>
<circle cx="553.4" cy="462.2" r="0.65" fill="#dcd24c"/>
<circle cx="565.0" cy="462.2" r="1.60" fill="#c97c9e"/>
<text x="261.2" y="464.6" font-size="6.6" font-weight="normal" fill="#222" text-anchor="end" font-family='"Liberation Sans", sans-serif' >chi_Oligo_3</text>
<circle cx="274.4" cy="484.5" r="0.65" fill="#d8b05c"/>
<circle cx="286.0" cy="484.5" r="0.65" fill="#d8b05c"/>
<circle cx="297.6" cy="484.5" r="1.45" fill="#d8b05c"/>
<circle cx="309.3" cy="484.5" r="1.10" fill="#dcd24c"/>
<circle cx="320.9" cy="484.5" r="1.30" fill="#dcd24c"/>
<circle cx="332.5" cy="484.5" r="6.10" fill="#dcd24c"/>
<circle cx="344.1" cy="484.5" r="0.80" fill="#dcd24c"/>
<circle cx="355.8" cy="484.5" r="0.80" fill="#dcd24c"/>
<circle cx="367.4" cy="484.5" r="5.30" fill="#c97c9e"/>
<circle cx="379.0" cy="484.5" r="6.25" fill="#c97c9e"/>
<circle cx="390.6" cy="484.5" r="6.25" fill="#c97c9e"/>
<circle cx="402.3" cy="484.5" r="6.10" fill="#d49a7c"/>
<circle cx="413.9" cy="484.5" r="6.40" fill="#b05ccb"/>
<circle cx="425.5" cy="484.5" r="0.95" fill="#d8b05c"/>
<circle cx="437.1" cy="484.5" r="6.40" fill="#b05ccb"/>
<circle cx="448.8" cy="484.5" r="5.60" fill="#b05ccb"/>
<circle cx="460.4" cy="484.5" r="6.50" fill="#d49a7c"/>
<circle cx="472.0" cy="484.5" r="6.50" fill="#d49a7c"/>
<circle cx="483.6" cy="484.5" r="6.50" fill="#d49a7c"/>
<circle cx="495.3" cy="484.5" r="5.45" fill="#d49a7c"/>
<circle cx="506.9" cy="484.5" r="2.80" fill="#d8b05c"/>
<circle cx="518.5" cy="484.5" r="0.65" fill="#d8b05c"/>
<circle cx="530.1" cy="484.5" r="3.85" fill="#c97c9e"/>
<circle cx="541.8" cy="484.5" r="6.15" fill="#d49a7c"/>
<circle cx="553.4" cy="484.5" r="0.65" fill="#d8b05c"/>
<circle cx="565.0" cy="484.5" r="2.30" fill="#c97c9e"/>
<text x="261.2" y="486.9" font-size="6.6" font-weight="normal" fill="#222" text-anchor="end" font-family='"Liberation Sans", sans-serif' >chi_Oligo_2</text>
<circle cx="274.4" cy="506.8" r="0.65" fill="#d8b05c"/>
<circle cx="286.0" cy="506.8" r="0.65" fill="#d8b05c"/>
<circle cx="297.6" cy="506.8" r="1.30" fill="#d8b05c"/>
<circle cx="309.3" cy="506.8" r="1.10" fill="#dcd24c"/>
<circle cx="320.9" cy="506.8" r="4.00" fill="#d8b05c"/>
<circle cx="332.5" cy="506.8" r="6.40" fill="#dcd24c"/>
<circle cx="344.1" cy="506.8" r="3.35" fill="#c97c9e"/>
<circle cx="355.8" cy="506.8" r="1.30" fill="#dcd24c"/>
<circle cx="367.4" cy="506.8" r="5.00" fill="#d08888"/>
<circle cx="379.0" cy="506.8" r="5.45" fill="#d49a7c"/>
<circle cx="390.6" cy="506.8" r="6.10" fill="#d49a7c"/>
<circle cx="402.3" cy="506.8" r="6.50" fill="#c97c9e"/>
<circle cx="413.9" cy="506.8" r="6.50" fill="#c97c9e"/>
<circle cx="425.5" cy="506.8" r="1.75" fill="#a23ae8"/>
<circle cx="437.1" cy="506.8" r="6.40" fill="#c97c9e"/>
<circle cx="448.8" cy="506.8" r="4.65" fill="#d49a7c"/>
<circle cx="460.4" cy="506.8" r="3.70" fill="#dcd24c"/>
<circle cx="472.0" cy="506.8" r="4.75" fill="#d8b05c"/>
<circle cx="483.6" cy="506.8" r="6.00" fill="#d8b05c"/>
<circle cx="495.3" cy="506.8" r="3.00" fill="#d8b05c"/>
<circle cx="506.9" cy="506.8" r="0.90" fill="#d8b05c"/>
<circle cx="518.5" cy="506.8" r="0.90" fill="#d8b05c"/>
<circle cx="530.1" cy="506.8" r="3.00" fill="#d49a7c"/>
<circle cx="541.8" cy="506.8" r="4.90" fill="#d8b05c"/>
<circle cx="553.4" cy="506.8" r="0.65" fill="#d8b05c"/>
<circle cx="565.0" cy="506.8" r="1.05" fill="#d8b05c"/>
<text x="261.2" y="509.2" font-size="6.6" font-weight="normal" fill="#222" text-anchor="end" font-family='"Liberation Sans", sans-serif' >chi_Oligo_1</text>
<circle cx="274.4" cy="529.1" r="5.30" fill="#a23ae8"/>
<circle cx="286.0" cy="529.1" r="6.60" fill="#a23ae8"/>
<circle cx="297.6" cy="529.1" r="2.10" fill="#d8b05c"/>
<circle cx="309.3" cy="529.1" r="6.25" fill="#d49a7c"/>
<circle cx="320.9" cy="529.1" r="4.00" fill="#d8b05c"/>
<circle cx="332.5" cy="529.1" r="6.25" fill="#d8b05c"/>
<circle cx="344.1" cy="529.1" r="3.85" fill="#c97c9e"/>
<circle cx="355.8" cy="529.1" r="5.80" fill="#d08888"/>
<circle cx="367.4" cy="529.1" r="0.80" fill="#e0dc48"/>
<circle cx="379.0" cy="529.1" r="1.10" fill="#dcd24c"/>
<circle cx="390.6" cy="529.1" r="2.10" fill="#dcd24c"/>
<circle cx="402.3" cy="529.1" r="5.30" fill="#dcd24c"/>
<circle cx="413.9" cy="529.1" r="4.65" fill="#dcd24c"/>
<circle cx="425.5" cy="529.1" r="1.30" fill="#d49a7c"/>
<circle cx="437.1" cy="529.1" r="5.30" fill="#e0dc48"/>
<circle cx="448.8" cy="529.1" r="0.80" fill="#dcd24c"/>
<circle cx="460.4" cy="529.1" r="1.95" fill="#dcd24c"/>
<circle cx="472.0" cy="529.1" r="1.95" fill="#d8b05c"/>
<circle cx="483.6" cy="529.1" r="3.00" fill="#dcd24c"/>
<circle cx="495.3" cy="529.1" r="0.90" fill="#dcd24c"/>
<circle cx="506.9" cy="529.1" r="1.05" fill="#d8b05c"/>
<circle cx="518.5" cy="529.1" r="0.90" fill="#d8b05c"/>
<circle cx="530.1" cy="529.1" r="1.25" fill="#dcd24c"/>
<circle cx="541.8" cy="529.1" r="1.40" fill="#dcd24c"/>
<circle cx="553.4" cy="529.1" r="0.90" fill="#d8b05c"/>
<circle cx="565.0" cy="529.1" r="0.90" fill="#dcd24c"/>
<text x="261.2" y="531.5" font-size="6.6" font-weight="normal" fill="#222" text-anchor="end" font-family='"Liberation Sans", sans-serif' >chi_CYP_2</text>
<circle cx="274.4" cy="551.4" r="2.55" fill="#d49a7c"/>
<circle cx="286.0" cy="551.4" r="4.35" fill="#d08888"/>
<circle cx="297.6" cy="551.4" r="4.80" fill="#a23ae8"/>
<circle cx="309.3" cy="551.4" r="6.40" fill="#d49a7c"/>
<circle cx="320.9" cy="551.4" r="5.30" fill="#d49a7c"/>
<circle cx="332.5" cy="551.4" r="6.40" fill="#d49a7c"/>
<circle cx="344.1" cy="551.4" r="4.20" fill="#c97c9e"/>
<circle cx="355.8" cy="551.4" r="5.80" fill="#c97c9e"/>
<circle cx="367.4" cy="551.4" r="1.60" fill="#dcd24c"/>
<circle cx="379.0" cy="551.4" r="1.95" fill="#dcd24c"/>
<circle cx="390.6" cy="551.4" r="3.50" fill="#dcd24c"/>
<circle cx="402.3" cy="551.4" r="6.10" fill="#d8b05c"/>
<circle cx="413.9" cy="551.4" r="5.00" fill="#dcd24c"/>
<circle cx="425.5" cy="551.4" r="1.10" fill="#d49a7c"/>
<circle cx="437.1" cy="551.4" r="5.00" fill="#e0dc48"/>
<circle cx="448.8" cy="551.4" r="1.10" fill="#dcd24c"/>
<circle cx="460.4" cy="551.4" r="1.95" fill="#dcd24c"/>
<circle cx="472.0" cy="551.4" r="2.10" fill="#d8b05c"/>
<circle cx="483.6" cy="551.4" r="3.50" fill="#dcd24c"/>
<circle cx="495.3" cy="551.4" r="0.90" fill="#dcd24c"/>
<circle cx="506.9" cy="551.4" r="1.05" fill="#d8b05c"/>
<circle cx="518.5" cy="551.4" r="0.90" fill="#d8b05c"/>
<circle cx="530.1" cy="551.4" r="1.05" fill="#dcd24c"/>
<circle cx="541.8" cy="551.4" r="1.75" fill="#dcd24c"/>
<circle cx="553.4" cy="551.4" r="0.70" fill="#d8b05c"/>
<circle cx="565.0" cy="551.4" r="0.90" fill="#dcd24c"/>
<text x="261.2" y="553.8" font-size="6.6" font-weight="normal" fill="#222" text-anchor="end" font-family='"Liberation Sans", sans-serif' >chi_CYP_1</text>
<circle cx="274.4" cy="573.7" r="0.65" fill="#d8b05c"/>
<circle cx="286.0" cy="573.7" r="0.65" fill="#d8b05c"/>
<circle cx="297.6" cy="573.7" r="1.45" fill="#d8b05c"/>
<circle cx="309.3" cy="573.7" r="6.40" fill="#c97c9e"/>
<circle cx="320.9" cy="573.7" r="5.60" fill="#d08888"/>
<circle cx="332.5" cy="573.7" r="6.40" fill="#d49a7c"/>
<circle cx="344.1" cy="573.7" r="4.00" fill="#c97c9e"/>
<circle cx="355.8" cy="573.7" r="6.40" fill="#b05ccb"/>
<circle cx="367.4" cy="573.7" r="1.75" fill="#dcd24c"/>
<circle cx="379.0" cy="573.7" r="2.25" fill="#dcd24c"/>
<circle cx="390.6" cy="573.7" r="4.00" fill="#dcd24c"/>
<circle cx="402.3" cy="573.7" r="6.25" fill="#d8b05c"/>
<circle cx="413.9" cy="573.7" r="5.60" fill="#dcd24c"/>
<circle cx="425.5" cy="573.7" r="1.30" fill="#d49a7c"/>
<circle cx="437.1" cy="573.7" r="5.80" fill="#e0dc48"/>
<circle cx="448.8" cy="573.7" r="1.10" fill="#dcd24c"/>
<circle cx="460.4" cy="573.7" r="2.10" fill="#dcd24c"/>
<circle cx="472.0" cy="573.7" r="2.25" fill="#d8b05c"/>
<circle cx="483.6" cy="573.7" r="3.50" fill="#dcd24c"/>
<circle cx="495.3" cy="573.7" r="0.90" fill="#dcd24c"/>
<circle cx="506.9" cy="573.7" r="1.05" fill="#d8b05c"/>
<circle cx="518.5" cy="573.7" r="0.90" fill="#d8b05c"/>
<circle cx="530.1" cy="573.7" r="1.05" fill="#dcd24c"/>
<circle cx="541.8" cy="573.7" r="1.75" fill="#dcd24c"/>
<circle cx="553.4" cy="573.7" r="0.70" fill="#d8b05c"/>
<circle cx="565.0" cy="573.7" r="0.90" fill="#dcd24c"/>
<text x="261.2" y="576.1" font-size="6.6" font-weight="normal" fill="#222" text-anchor="end" font-family='"Liberation Sans", sans-serif' >chi_COP</text>
<g stroke="#111" stroke-width="1" fill="none">
<path d="M267.5 381.3 V586.8 H572.6"/>
<line x1="264.5" y1="395.3" x2="267.5" y2="395.3"/>
<line x1="264.5" y1="417.6" x2="267.5" y2="417.6"/>
<line x1="264.5" y1="439.9" x2="267.5" y2="439.9"/>
<line x1="264.5" y1="462.2" x2="267.5" y2="462.2"/>
<line x1="264.5" y1="484.5" x2="267.5" y2="484.5"/>
<line x1="264.5" y1="506.8" x2="267.5" y2="506.8"/>
<line x1="264.5" y1="529.1" x2="267.5" y2="529.1"/>
<line x1="264.5" y1="551.4" x2="267.5" y2="551.4"/>
<line x1="264.5" y1="573.7" x2="267.5" y2="573.7"/>
<line x1="274.4" y1="586.8" x2="274.4" y2="589.8"/>
<line x1="286.0" y1="586.8" x2="286.0" y2="589.8"/>
<line x1="297.6" y1="586.8" x2="297.6" y2="589.8"/>
<line x1="309.3" y1="586.8" x2="309.3" y2="589.8"/>
<line x1="320.9" y1="586.8" x2="320.9" y2="589.8"/>
<line x1="332.5" y1="586.8" x2="332.5" y2="589.8"/>
<line x1="344.1" y1="586.8" x2="344.1" y2="589.8"/>
<line x1="355.8" y1="586.8" x2="355.8" y2="589.8"/>
<line x1="367.4" y1="586.8" x2="367.4" y2="589.8"/>
<line x1="379.0" y1="586.8" x2="379.0" y2="589.8"/>
<line x1="390.6" y1="586.8" x2="390.6" y2="589.8"/>
<line x1="402.3" y1="586.8" x2="402.3" y2="589.8"/>
<line x1="413.9" y1="586.8" x2="413.9" y2="589.8"/>
<line x1="425.5" y1="586.8" x2="425.5" y2="589.8"/>
<line x1="437.1" y1="586.8" x2="437.1" y2="589.8"/>
<line x1="448.8" y1="586.8" x2="448.8" y2="589.8"/>
<line x1="460.4" y1="586.8" x2="460.4" y2="589.8"/>
<line x1="472.0" y1="586.8" x2="472.0" y2="589.8"/>
<line x1="483.6" y1="586.8" x2="483.6" y2="589.8"/>
<line x1="495.3" y1="586.8" x2="495.3" y2="589.8"/>
<line x1="506.9" y1="586.8" x2="506.9" y2="589.8"/>
<line x1="518.5" y1="586.8" x2="518.5" y2="589.8"/>
<line x1="530.1" y1="586.8" x2="530.1" y2="589.8"/>
<line x1="541.8" y1="586.8" x2="541.8" y2="589.8"/>
<line x1="553.4" y1="586.8" x2="553.4" y2="589.8"/>
<line x1="565.0" y1="586.8" x2="565.0" y2="589.8"/>
</g>
<text transform="translate(276.4,591.8) rotate(-90)" font-size="5.9" font-weight="normal" fill="#333" text-anchor="end" font-family='"Liberation Sans", sans-serif'>MKI67</text>
<text transform="translate(288.0,591.8) rotate(-90)" font-size="5.9" font-weight="normal" fill="#333" text-anchor="end" font-family='"Liberation Sans", sans-serif'>TOP2A</text>
<text transform="translate(299.6,591.8) rotate(-90)" font-size="5.9" font-weight="normal" fill="#333" text-anchor="end" font-family='"Liberation Sans", sans-serif'>PCNA</text>
<text transform="translate(311.3,591.8) rotate(-90)" font-size="5.9" font-weight="normal" fill="#333" text-anchor="end" font-family='"Liberation Sans", sans-serif'>PDGFRA</text>
<text transform="translate(322.9,591.8) rotate(-90)" font-size="5.9" font-weight="normal" fill="#333" text-anchor="end" font-family='"Liberation Sans", sans-serif'>PCDH15</text>
<text transform="translate(334.5,591.8) rotate(-90)" font-size="5.9" font-weight="normal" fill="#333" text-anchor="end" font-family='"Liberation Sans", sans-serif'>PTPRZ1</text>
<text transform="translate(346.1,591.8) rotate(-90)" font-size="5.9" font-weight="normal" fill="#333" text-anchor="end" font-family='"Liberation Sans", sans-serif'>GAP43</text>
<text transform="translate(357.8,591.8) rotate(-90)" font-size="5.9" font-weight="normal" fill="#333" text-anchor="end" font-family='"Liberation Sans", sans-serif'>FABP7</text>
<text transform="translate(369.4,591.8) rotate(-90)" font-size="5.9" font-weight="normal" fill="#333" text-anchor="end" font-family='"Liberation Sans", sans-serif'>GPR17</text>
<text transform="translate(381.0,591.8) rotate(-90)" font-size="5.9" font-weight="normal" fill="#333" text-anchor="end" font-family='"Liberation Sans", sans-serif'>SMOC1</text>
<text transform="translate(392.6,591.8) rotate(-90)" font-size="5.9" font-weight="normal" fill="#333" text-anchor="end" font-family='"Liberation Sans", sans-serif'>TNR</text>
<text transform="translate(404.3,591.8) rotate(-90)" font-size="5.9" font-weight="normal" fill="#333" text-anchor="end" font-family='"Liberation Sans", sans-serif'>GRIA2</text>
<text transform="translate(415.9,591.8) rotate(-90)" font-size="5.9" font-weight="normal" fill="#333" text-anchor="end" font-family='"Liberation Sans", sans-serif'>BCAS1</text>
<text transform="translate(427.5,591.8) rotate(-90)" font-size="5.9" font-weight="normal" fill="#333" text-anchor="end" font-family='"Liberation Sans", sans-serif'>UCP2</text>
<text transform="translate(439.1,591.8) rotate(-90)" font-size="5.9" font-weight="normal" fill="#333" text-anchor="end" font-family='"Liberation Sans", sans-serif'>SIRT2</text>
<text transform="translate(450.8,591.8) rotate(-90)" font-size="5.9" font-weight="normal" fill="#333" text-anchor="end" font-family='"Liberation Sans", sans-serif'>TMEM108</text>
<text transform="translate(462.4,591.8) rotate(-90)" font-size="5.9" font-weight="normal" fill="#333" text-anchor="end" font-family='"Liberation Sans", sans-serif'>MBP</text>
<text transform="translate(474.0,591.8) rotate(-90)" font-size="5.9" font-weight="normal" fill="#333" text-anchor="end" font-family='"Liberation Sans", sans-serif'>PLP1</text>
<text transform="translate(485.6,591.8) rotate(-90)" font-size="5.9" font-weight="normal" fill="#333" text-anchor="end" font-family='"Liberation Sans", sans-serif'>CNP</text>
<text transform="translate(497.3,591.8) rotate(-90)" font-size="5.9" font-weight="normal" fill="#333" text-anchor="end" font-family='"Liberation Sans", sans-serif'>MOG</text>
<text transform="translate(508.9,591.8) rotate(-90)" font-size="5.9" font-weight="normal" fill="#333" text-anchor="end" font-family='"Liberation Sans", sans-serif'>MAG</text>
<text transform="translate(520.5,591.8) rotate(-90)" font-size="5.9" font-weight="normal" fill="#333" text-anchor="end" font-family='"Liberation Sans", sans-serif'>MOBP</text>
<text transform="translate(532.1,591.8) rotate(-90)" font-size="5.9" font-weight="normal" fill="#333" text-anchor="end" font-family='"Liberation Sans", sans-serif'>PPP1R16B</text>
<text transform="translate(543.8,591.8) rotate(-90)" font-size="5.9" font-weight="normal" fill="#333" text-anchor="end" font-family='"Liberation Sans", sans-serif'>NFASC</text>
<text transform="translate(555.4,591.8) rotate(-90)" font-size="5.9" font-weight="normal" fill="#333" text-anchor="end" font-family='"Liberation Sans", sans-serif'>OPALIN</text>
<text transform="translate(567.0,591.8) rotate(-90)" font-size="5.9" font-weight="normal" fill="#333" text-anchor="end" font-family='"Liberation Sans", sans-serif'>KANK2</text>
<text x="584.3" y="447.0" font-size="8.0" font-weight="normal" fill="#222" text-anchor="start" font-family='"Liberation Sans", sans-serif' textLength="71.0" lengthAdjust="spacingAndGlyphs" >Average Expression</text>
<rect x="584.2" y="451.7" width="8.8" height="43.8" fill="url(#gexp)"/>
<text x="596.7" y="459.9" font-size="6.6" font-weight="normal" fill="#222" text-anchor="start" font-family='"Liberation Sans", sans-serif' >2</text>
<line x1="584.2" y1="457.6" x2="586" y2="457.6" stroke="#fff" stroke-width="0.6"/><line x1="591.2" y1="457.6" x2="593" y2="457.6" stroke="#fff" stroke-width="0.6"/>
<text x="596.7" y="470.5" font-size="6.6" font-weight="normal" fill="#222" text-anchor="start" font-family='"Liberation Sans", sans-serif' >1</text>
<line x1="584.2" y1="468.2" x2="586" y2="468.2" stroke="#fff" stroke-width="0.6"/><line x1="591.2" y1="468.2" x2="593" y2="468.2" stroke="#fff" stroke-width="0.6"/>
<text x="596.7" y="481.3" font-size="6.6" font-weight="normal" fill="#222" text-anchor="start" font-family='"Liberation Sans", sans-serif' >0</text>
<line x1="584.2" y1="479.0" x2="586" y2="479.0" stroke="#fff" stroke-width="0.6"/><line x1="591.2" y1="479.0" x2="593" y2="479.0" stroke="#fff" stroke-width="0.6"/>
<text x="596.7" y="492.0" font-size="6.6" font-weight="normal" fill="#222" text-anchor="start" font-family='"Liberation Sans", sans-serif' >-1</text>
<line x1="584.2" y1="489.7" x2="586" y2="489.7" stroke="#fff" stroke-width="0.6"/><line x1="591.2" y1="489.7" x2="593" y2="489.7" stroke="#fff" stroke-width="0.6"/>
<text x="584.3" y="510.3" font-size="8.0" font-weight="normal" fill="#222" text-anchor="start" font-family='"Liberation Sans", sans-serif' textLength="67.0" lengthAdjust="spacingAndGlyphs" >Percent Expressed</text>
<circle cx="589.1" cy="519.1" r="0.3" fill="#111"/>
<text x="598.0" y="521.5" font-size="6.6" font-weight="normal" fill="#222" text-anchor="start" font-family='"Liberation Sans", sans-serif' >0</text>
<circle cx="589.1" cy="528.0" r="1.1" fill="#111"/>
<text x="598.0" y="530.4" font-size="6.6" font-weight="normal" fill="#222" text-anchor="start" font-family='"Liberation Sans", sans-serif' >25</text>
<circle cx="589.1" cy="536.8" r="2.2" fill="#111"/>
<text x="598.0" y="539.2" font-size="6.6" font-weight="normal" fill="#222" text-anchor="start" font-family='"Liberation Sans", sans-serif' >50</text>
<circle cx="589.1" cy="545.3" r="3.0" fill="#111"/>
<text x="598.0" y="547.7" font-size="6.6" font-weight="normal" fill="#222" text-anchor="start" font-family='"Liberation Sans", sans-serif' >75</text>
<circle cx="589.1" cy="554.5" r="3.7" fill="#111"/>
<text x="598.0" y="556.9" font-size="6.6" font-weight="normal" fill="#222" text-anchor="start" font-family='"Liberation Sans", sans-serif' >100</text>
<polygon points="56.3,676.3 64.2,665.8 74.7,659.2 87.8,656.6 100.9,657.9 108.8,663.1 110.1,671.0 108.8,676.3 116.7,678.9 124.6,684.2 135.1,684.2 143.0,680.2 153.5,678.9 164.0,681.5 167.9,689.4 166.6,699.9 169.3,710.4 169.3,726.2 164.0,736.7 161.4,749.8 161.4,768.2 160.0,781.4 158.7,794.5 155.0,797.0 149.8,808.9 143.2,822.0 131.4,832.5 118.2,839.1 105.1,843.1 89.3,844.4 78.8,841.7 65.7,835.2 55.2,824.7 49.9,811.5 48.6,795.8 47.1,776.1 44.5,760.4 43.1,742.0 44.5,718.3 48.4,697.3" fill="#8794b4" stroke="#8794b4" stroke-width="1" stroke-linejoin="round"/>
<polygon points="166.0,779.0 175.0,778.0 185.0,783.0 195.0,787.0 200.0,792.0 196.0,796.0 185.0,798.0 177.0,800.0 170.0,796.0 167.0,788.0" fill="#8794b4" stroke="#8794b4" stroke-width="1" stroke-linejoin="round"/>
<path d="M86.0 657.1h0M159.8 785.1h0M129.8 830.7h0M150.4 806.4h0M49.1 789.7h0M121.5 681.0h0M146.6 810.7h0M51.0 688.0h0M56.4 824.1h0M140.2 682.5h0M169.0 710.8h0M47.0 716.1h0M46.9 784.8h0M161.9 760.5h0M154.6 797.2h0M131.5 834.6h0M159.9 772.6h0M165.6 739.7h0M131.7 683.2h0M45.4 770.8h0M119.3 838.5h0M146.3 817.5h0M42.3 747.7h0M164.0 741.7h0M122.5 683.5h0M63.2 833.5h0M140.6 825.0h0M62.2 828.9h0M112.2 842.2h0M82.3 657.2h0M50.4 690.0h0M101.4 660.0h0M169.4 691.4h0M122.4 683.2h0M111.0 677.4h0M61.4 671.4h0M45.6 715.0h0M120.6 680.6h0M143.7 818.5h0M152.9 678.7h0M168.0 727.3h0M64.5 668.3h0M143.0 821.2h0M86.3 844.3h0M42.5 733.3h0M165.0 738.0h0M44.3 768.4h0M89.7 657.4h0M167.7 701.1h0M132.6 831.3h0M43.4 727.4h0M109.4 678.8h0M161.7 747.4h0M50.5 683.7h0M44.6 763.3h0M69.5 838.7h0M56.4 826.9h0M140.1 824.8h0M42.0 729.5h0M69.0 663.0h0M161.1 761.3h0M70.6 838.0h0M156.2 796.0h0M170.2 716.9h0M47.4 704.2h0M102.8 844.6h0M151.5 809.0h0M62.4 668.9h0M99.9 844.3h0M128.7 683.2h0M143.1 679.6h0M40.2 738.0h0M163.7 762.4h0M109.4 841.2h0M63.6 836.7h0M54.3 816.6h0M134.9 684.4h0M48.3 781.1h0M164.8 737.7h0M112.9 676.8h0M45.0 721.2h0M152.3 678.0h0M105.8 843.1h0M143.7 817.9h0M114.5 678.3h0M85.2 842.8h0M76.0 660.8h0M67.9 664.6h0M161.5 761.1h0M46.0 708.7h0M71.2 838.3h0M53.2 685.4h0M48.5 809.4h0M111.7 675.1h0M160.4 778.1h0M47.2 785.4h0M150.7 800.3h0M45.4 727.5h0M47.1 793.3h0M51.4 817.9h0M118.7 839.3h0M159.1 791.1h0M66.6 836.2h0M168.3 715.1h0M108.0 674.3h0M57.8 674.0h0M92.7 844.1h0M156.9 796.5h0M91.7 655.6h0M163.2 732.4h0M102.3 843.8h0M162.1 748.6h0M124.4 836.9h0M167.3 699.9h0M162.1 749.7h0M110.7 841.1h0M161.3 778.3h0M73.7 660.6h0M49.9 705.8h0M48.3 695.9h0M45.9 710.8h0M143.4 820.5h0M43.6 743.0h0M50.8 814.0h0M73.0 660.7h0M167.9 689.6h0M43.4 744.9h0M149.8 806.2h0M82.3 657.6h0M44.2 715.9h0M78.1 842.3h0M144.6 818.9h0M159.6 751.7h0M84.7 654.8h0M165.9 703.2h0M43.6 759.2h0M49.3 802.6h0M142.2 822.4h0M168.0 712.5h0M120.7 681.2h0M50.2 797.5h0M107.4 663.0h0M69.9 839.6h0M131.1 685.8h0M45.5 763.4h0M163.9 735.4h0M47.5 787.4h0M148.9 808.0h0M156.6 681.8h0M46.6 784.3h0M60.6 667.4h0M47.5 701.8h0M45.3 707.0h0M150.4 807.0h0M42.2 741.0h0M162.3 745.1h0M107.9 664.1h0M50.9 815.3h0M50.6 797.5h0M147.7 679.0h0M152.2 680.9h0M150.8 807.0h0M152.7 809.0h0M46.2 770.5h0M48.4 793.1h0M82.3 841.2h0M110.8 841.0h0M124.0 836.0h0M132.3 832.6h0M51.1 687.4h0M54.8 822.9h0M72.0 660.9h0M44.7 723.7h0M52.0 684.1h0M95.2 657.2h0M47.2 786.6h0M165.6 700.6h0M127.8 834.8h0M48.0 703.5h0M42.6 747.7h0M44.4 721.3h0M50.8 800.3h0M133.5 831.1h0M50.9 815.6h0M168.5 713.4h0M88.3 845.2h0M168.6 730.6h0M43.6 756.4h0M169.8 722.8h0M56.0 825.8h0M167.5 702.5h0M163.8 733.3h0M88.2 845.8h0M160.3 779.6h0M167.2 704.4h0M143.4 821.7h0M167.6 695.7h0M107.8 677.0h0M166.4 699.5h0M97.2 657.8h0M42.9 729.6h0M46.8 768.7h0M161.8 752.3h0M73.9 841.5h0M53.7 676.7h0M108.7 664.3h0M159.1 679.3h0M154.0 803.4h0M48.0 775.8h0M68.2 836.0h0M103.8 843.3h0M44.6 759.5h0M140.9 681.1h0M47.5 782.6h0M158.6 795.1h0M59.1 670.9h0M148.6 809.3h0M122.9 835.9h0M159.2 781.7h0M145.9 817.2h0M48.4 793.7h0M128.6 832.1h0M122.6 836.8h0M163.2 751.2h0M108.7 672.1h0M93.0 843.0h0M81.2 656.8h0M96.3 657.4h0M101.2 656.1h0M134.0 828.6h0M45.3 741.4h0M161.0 777.0h0M102.8 660.4h0M158.0 795.3h0M113.5 679.0h0M50.7 689.2h0M109.3 674.7h0M166.9 709.5h0M49.1 803.0h0M169.3 730.7h0M46.1 766.6h0M47.6 706.1h0M164.8 737.0h0M123.0 837.1h0M138.6 826.1h0M81.4 657.5h0M42.1 737.7h0M54.3 678.6h0M121.3 682.5h0M110.9 674.5h0M64.5 834.6h0M129.5 685.8h0M92.4 656.4h0M70.1 662.6h0M52.4 688.6h0M43.2 715.8h0M169.2 728.0h0M45.5 769.2h0M43.6 744.7h0M86.0 656.7h0M149.8 808.3h0M53.9 820.2h0M104.3 843.2h0M51.0 812.4h0M44.8 738.9h0M47.2 779.7h0M44.7 725.7h0M70.2 661.2h0M159.1 681.6h0M49.7 692.4h0M53.2 821.5h0M60.5 831.5h0M133.8 831.4h0M123.4 683.9h0M69.7 837.3h0M78.9 656.8h0M89.4 657.6h0M119.9 838.7h0M65.8 833.4h0M74.2 842.3h0M168.2 710.6h0M133.5 684.8h0M162.0 743.8h0M149.3 806.3h0M70.7 662.0h0M144.7 820.7h0M46.9 781.0h0M162.5 753.9h0M159.3 786.5h0M158.0 763.1h0M160.1 760.9h0M43.4 754.4h0M168.7 705.6h0M158.5 760.3h0M50.8 815.3h0M168.6 706.3h0M45.2 730.1h0M48.7 784.8h0M79.5 657.4h0M123.1 834.7h0M152.2 805.9h0M45.3 730.6h0M143.3 817.0h0M93.4 656.9h0M163.2 682.0h0M97.2 656.9h0M74.4 838.3h0M44.7 720.5h0M166.3 685.9h0M48.4 796.3h0M111.1 679.5h0M46.1 723.9h0M62.1 670.7h0M160.4 774.8h0M43.9 736.3h0M146.0 815.3h0M94.4 842.7h0M57.1 681.6h0M118.2 678.8h0M128.8 685.9h0M58.3 827.2h0M76.9 839.0h0M97.9 843.0h0M78.4 657.6h0M108.3 665.5h0M167.0 705.5h0M109.5 673.8h0M121.4 838.3h0M120.3 682.4h0M56.3 680.0h0M167.9 718.9h0M118.1 837.6h0M130.5 684.5h0M43.7 742.4h0M86.6 656.5h0M96.9 657.9h0M48.2 700.5h0M54.7 685.7h0M45.8 776.1h0M149.3 678.6h0M131.4 830.7h0M139.6 825.2h0M107.6 665.2h0M44.1 731.7h0M159.3 790.2h0M84.4 658.1h0M160.7 763.0h0M51.5 809.1h0M159.3 787.2h0M57.0 825.3h0M113.4 678.2h0M150.6 803.9h0M65.9 665.2h0M143.3 680.5h0M115.1 839.5h0M84.1 842.0h0M168.7 727.6h0M53.6 678.7h0M75.6 658.5h0M55.2 823.3h0M104.7 844.5h0M169.0 705.1h0M112.9 676.8h0M163.5 747.3h0M48.3 776.2h0M43.0 756.5h0M154.1 798.8h0M132.0 684.6h0M158.3 679.7h0M98.0 657.8h0M157.8 679.6h0M49.4 805.1h0M62.1 832.8h0M48.4 699.8h0M50.7 812.9h0M45.8 707.3h0M169.0 711.5h0M100.5 841.4h0M45.1 728.6h0M64.3 832.0h0" stroke="#8794b4" stroke-width="2.20" stroke-linecap="round" fill="none"/>
<path d="M193.0 796.1h0M178.8 800.2h0M195.3 788.7h0M175.7 798.8h0M165.9 785.6h0M174.3 796.0h0M167.3 785.2h0M197.9 796.1h0M198.5 794.5h0M168.2 780.8h0M198.4 794.7h0M174.7 800.1h0M172.2 795.9h0M184.1 798.5h0M173.5 796.5h0M169.2 794.8h0M194.7 794.5h0M166.6 789.6h0M181.4 798.0h0M182.9 783.2h0M165.7 781.1h0M195.9 788.7h0M188.8 784.6h0M177.2 801.7h0M175.3 799.1h0M168.3 793.7h0M167.6 788.7h0M177.0 799.8h0M187.8 796.1h0M192.8 795.6h0M190.7 785.2h0M168.7 794.2h0M181.6 796.8h0M169.7 789.7h0M197.4 794.8h0M198.7 791.8h0M181.1 800.4h0M166.7 779.4h0M177.2 779.1h0M170.3 797.3h0" stroke="#8794b4" stroke-width="2.20" stroke-linecap="round" fill="none"/>
<polygon points="46.0,694.0 54.0,682.0 62.0,683.0 72.0,688.0 86.0,691.0 100.0,690.0 110.0,686.0 118.0,683.0 128.0,688.0 140.0,686.0 150.0,682.0 158.0,683.0 162.0,690.0 158.0,704.0 154.0,720.0 151.0,736.0 149.0,752.0 146.0,762.0 136.0,772.0 122.0,778.0 100.0,781.0 80.0,780.0 60.0,779.0 48.0,778.0 45.0,760.0 44.0,740.0 45.0,715.0" fill="#789ee0"/>
<path d="M89.6 780.0h0M45.6 757.8h0M105.3 687.6h0M118.1 779.0h0M61.9 684.6h0M153.3 715.3h0M138.1 770.7h0M128.1 775.8h0M46.1 706.0h0M46.2 711.1h0M143.4 685.0h0M66.5 781.5h0M115.5 782.4h0M134.1 687.6h0M50.8 778.7h0M152.2 719.2h0M44.9 731.0h0M143.6 682.8h0M46.0 713.8h0M110.2 689.0h0M110.8 777.6h0M138.2 688.0h0M45.2 765.4h0M150.8 730.6h0M151.2 744.4h0M42.2 741.4h0M107.3 684.3h0M64.4 684.8h0M80.5 689.4h0M115.7 683.9h0M121.0 686.9h0M109.3 780.9h0M43.3 707.6h0M101.7 687.3h0M111.1 778.7h0M85.3 777.3h0M145.0 762.2h0M145.6 758.6h0M107.8 689.0h0M157.6 706.6h0M107.7 781.5h0M131.9 692.3h0M93.3 688.4h0M149.3 752.0h0M98.6 783.0h0M153.8 720.3h0M74.3 688.2h0M152.1 730.6h0M148.3 743.6h0M160.3 691.0h0M141.4 765.6h0M91.2 687.3h0M158.0 713.7h0M51.4 779.6h0M145.1 762.7h0M151.5 730.0h0M83.0 687.8h0M131.7 774.6h0M89.3 690.1h0M44.3 766.2h0M79.7 777.7h0M44.1 719.7h0M70.7 778.2h0M156.7 707.9h0M68.6 685.4h0M82.2 782.0h0M40.6 747.5h0M58.6 776.9h0M83.4 691.4h0M154.3 720.2h0M45.1 709.2h0M145.3 756.5h0M158.6 696.0h0M59.7 679.9h0M52.6 685.9h0M48.2 768.1h0M96.4 779.9h0M46.0 713.0h0M45.6 773.2h0M119.8 777.9h0M55.2 682.5h0M85.1 690.7h0M145.4 763.4h0M49.1 731.6h0M74.6 779.4h0M60.3 780.3h0M147.2 681.8h0M53.7 779.5h0M154.6 681.5h0M147.1 747.1h0M51.4 778.9h0M65.2 687.0h0M48.2 709.0h0M151.5 727.1h0M86.9 780.7h0M161.2 687.2h0M158.9 701.4h0M115.7 684.7h0M94.4 689.9h0M68.0 684.9h0M115.9 777.3h0M108.6 777.6h0M143.0 765.7h0M161.3 690.5h0M109.2 683.1h0M86.8 779.6h0M116.7 780.3h0M126.2 777.8h0M150.5 728.1h0M63.1 683.3h0M133.4 689.1h0M45.2 748.1h0M80.0 691.4h0M42.4 753.9h0M119.1 781.7h0M45.3 733.8h0M41.9 743.6h0M148.8 746.2h0M132.9 772.3h0M143.2 766.3h0M139.4 766.7h0M101.7 690.1h0M159.9 703.9h0M150.4 682.0h0M162.4 682.8h0M46.8 768.0h0M77.1 782.0h0M45.0 771.0h0M44.4 726.1h0M149.1 747.6h0M103.6 687.9h0M163.0 688.0h0M45.0 712.6h0M45.6 693.6h0M75.8 779.4h0M70.5 690.6h0M89.2 691.0h0M64.1 777.4h0M48.5 772.3h0M122.7 683.1h0M59.1 780.1h0M158.6 701.4h0M94.4 688.4h0M151.0 728.7h0M43.2 747.4h0M43.7 751.0h0M116.7 682.3h0M46.7 762.7h0M128.1 777.2h0M62.2 684.1h0M44.6 731.4h0M88.8 690.9h0M58.1 779.3h0M45.6 745.7h0M160.4 684.2h0M74.3 779.4h0M143.8 763.0h0M149.7 748.8h0M149.3 682.4h0M154.7 730.0h0M122.5 683.5h0M44.6 714.0h0M71.5 778.2h0M147.8 760.8h0M47.2 773.0h0M127.9 779.5h0M53.4 781.0h0M46.4 701.9h0M162.5 685.4h0M140.0 766.0h0M90.5 784.5h0M155.6 708.2h0M44.5 770.9h0M43.4 694.6h0M129.1 684.1h0M50.6 778.9h0M43.8 736.9h0M158.6 701.4h0M44.5 735.3h0M58.7 684.2h0M58.4 779.5h0M53.4 777.5h0M77.6 778.6h0M75.1 691.2h0M148.8 757.7h0M147.7 747.7h0M98.3 781.8h0M147.5 683.3h0M78.9 781.0h0M145.2 756.9h0M46.0 689.5h0M132.6 773.4h0M52.4 686.4h0M135.8 775.2h0M126.5 774.3h0M43.4 747.4h0M142.9 765.3h0M153.7 731.8h0M46.4 702.3h0M75.1 687.0h0M64.1 777.5h0M44.3 747.8h0M159.4 691.1h0M44.6 729.2h0M148.9 755.4h0M82.2 690.8h0M44.3 701.4h0M60.9 777.2h0M43.1 738.2h0M161.5 692.4h0M141.9 766.9h0M114.6 780.3h0M126.6 777.5h0M159.5 704.3h0M108.4 687.0h0M82.3 687.1h0M150.5 756.5h0M51.5 778.9h0M63.2 780.4h0M159.2 702.6h0M105.3 780.8h0M72.2 687.2h0M156.8 709.5h0M152.1 746.5h0M77.9 778.3h0M134.0 687.4h0M47.1 692.5h0M145.6 765.8h0M47.7 691.3h0M59.5 779.3h0M115.3 779.7h0M76.5 690.4h0M45.0 735.6h0M43.5 711.2h0M68.5 779.2h0M43.8 733.6h0M64.2 779.1h0M154.7 717.4h0M49.3 717.7h0M45.8 703.1h0M92.6 781.2h0M156.9 684.2h0M149.7 732.1h0M150.2 682.1h0M109.7 682.4h0M42.8 710.7h0M90.5 690.4h0M42.0 720.9h0M118.4 683.5h0M45.7 738.5h0M115.1 776.4h0M111.3 779.5h0M160.9 696.3h0M90.9 780.7h0M148.7 751.9h0M47.3 763.1h0M55.2 775.6h0M140.3 769.2h0M43.7 752.0h0M154.9 683.2h0" stroke="#789ee0" stroke-width="2.20" stroke-linecap="round" fill="none"/>
<path d="M157.8 744.2h0M159.0 729.7h0M157.7 745.1h0M155.0 725.0h0M63.9 685.1h0M152.0 687.5h0M154.3 775.5h0M150.4 755.2h0M157.0 684.1h0M158.8 731.2h0M155.3 779.8h0M160.1 765.8h0M158.5 712.7h0M59.0 685.1h0M160.4 762.8h0M151.9 753.6h0M157.9 748.2h0M158.2 756.3h0M155.7 731.1h0M159.1 704.1h0M160.9 770.4h0M151.1 719.7h0M160.6 769.9h0M157.7 725.8h0M166.2 715.9h0M57.1 680.1h0M150.4 687.7h0M163.2 691.5h0M151.3 761.7h0M156.0 755.7h0M169.3 718.6h0M166.7 701.8h0M162.0 745.4h0M152.2 768.4h0M151.8 773.4h0M69.9 663.3h0M157.2 747.1h0M185.9 790.0h0M178.4 787.0h0M179.2 788.7h0M183.4 788.8h0M176.5 785.5h0M196.0 791.7h0M190.7 788.5h0M193.9 790.9h0M178.6 787.9h0M192.8 791.4h0M182.4 789.8h0M186.0 787.2h0M173.6 786.8h0M170.6 784.7h0M182.3 786.3h0M190.3 789.9h0M182.9 787.3h0M180.5 789.1h0M188.6 790.6h0M190.5 790.8h0M188.7 786.7h0M181.5 785.6h0M194.0 790.8h0M179.5 788.5h0M173.8 786.2h0" stroke="#789ee0" stroke-width="2.20" stroke-linecap="round" fill="none"/>
<path d="M45.3 721.2h0M112.3 775.6h0M123.7 729.7h0M71.2 702.2h0M59.0 758.7h0M83.4 730.3h0M82.9 713.2h0M88.2 750.8h0M105.5 701.0h0M49.8 722.9h0M80.7 736.2h0M135.3 759.0h0M82.1 737.9h0M116.4 753.3h0M73.0 744.1h0M149.1 722.4h0M108.8 744.5h0M153.5 690.0h0M101.5 730.8h0M105.0 778.0h0M63.2 713.3h0M77.8 762.0h0M55.4 682.8h0M62.1 714.5h0M141.2 760.1h0M126.0 749.8h0M49.6 749.9h0M98.2 698.6h0M70.9 735.8h0M98.3 702.9h0M145.0 695.5h0M80.4 692.5h0M81.6 710.6h0M78.4 697.6h0M129.4 747.7h0M57.0 691.8h0M155.2 693.9h0M55.7 730.3h0M139.3 760.0h0M65.4 755.5h0M70.9 695.8h0M67.4 707.6h0M149.2 686.7h0M81.6 727.9h0M60.2 702.3h0M103.4 746.1h0M122.7 732.6h0M49.5 774.8h0M72.0 753.6h0M80.2 712.8h0M57.0 698.1h0M137.9 738.9h0M86.9 761.4h0M59.1 743.1h0M60.0 704.8h0M135.2 753.0h0M72.7 743.8h0M55.6 768.6h0M138.3 693.3h0M76.8 727.8h0M136.2 757.3h0M112.7 705.5h0M131.5 771.8h0M116.7 773.2h0M82.2 694.2h0M115.6 777.2h0M132.5 692.8h0M81.9 716.7h0M54.3 747.3h0M92.3 699.1h0M91.1 748.0h0M106.8 766.6h0M103.2 693.5h0M132.1 757.5h0M82.5 694.9h0M58.6 747.2h0M131.6 764.6h0M94.2 751.2h0M114.0 746.8h0M75.0 714.3h0M74.9 733.0h0M105.3 737.4h0M45.1 746.5h0M58.9 747.0h0M66.3 757.6h0M46.7 767.8h0M59.5 768.7h0M52.2 745.8h0M137.4 769.4h0M59.1 703.9h0M139.5 687.9h0M61.7 706.5h0M132.9 734.5h0M119.4 743.8h0M123.6 710.4h0M92.6 774.5h0M66.8 762.1h0M91.3 747.4h0M60.5 745.0h0M101.0 697.3h0M115.9 755.3h0M128.4 765.7h0M64.8 687.3h0M117.9 690.3h0M147.5 733.0h0M65.9 704.4h0M119.1 725.1h0M57.0 684.2h0M151.4 714.9h0M136.5 760.5h0M144.6 738.8h0M106.0 693.8h0M122.9 719.3h0M146.7 730.0h0M133.9 725.2h0M124.2 706.3h0M129.7 699.1h0M139.6 695.1h0M141.1 745.1h0M135.6 722.2h0M136.3 736.3h0M133.5 720.2h0M147.3 730.1h0M147.7 718.0h0M134.5 736.0h0M142.1 743.6h0M153.7 731.0h0M129.0 701.3h0M118.8 693.0h0M125.2 693.6h0M139.1 747.4h0M135.9 713.6h0M117.1 698.5h0M122.9 688.3h0M112.6 691.7h0M142.0 690.6h0M113.5 711.4h0M128.9 717.2h0M153.4 706.7h0M116.9 710.8h0M107.4 688.9h0M128.4 711.0h0M115.7 689.3h0M116.5 700.4h0M154.7 728.6h0M114.1 707.8h0M141.9 691.7h0M115.8 703.6h0M133.2 690.8h0M128.4 695.7h0M144.0 742.9h0M151.9 706.3h0M122.4 719.7h0M121.2 724.1h0M135.8 700.9h0M131.9 703.2h0M138.9 703.2h0M113.2 710.2h0M144.7 709.7h0M121.8 718.3h0M125.5 725.3h0M108.4 689.9h0M134.6 739.1h0M104.5 694.3h0M116.5 708.0h0M128.7 708.4h0M149.6 740.8h0M142.9 738.5h0M146.9 722.4h0M119.1 711.3h0M143.6 729.3h0M150.8 725.5h0M156.3 727.0h0M154.8 732.6h0M143.7 710.9h0M124.9 709.0h0M124.9 705.7h0M126.6 713.2h0M144.7 744.5h0M141.1 734.6h0M147.9 743.7h0M130.2 735.0h0M130.3 697.4h0M147.6 695.1h0M142.7 709.9h0M134.0 710.4h0M132.2 694.5h0M151.3 709.0h0M144.7 693.1h0M127.2 703.0h0M152.1 702.1h0M146.8 741.4h0M153.0 724.7h0M146.5 724.8h0M139.4 749.9h0M124.5 705.5h0M114.6 702.0h0M153.1 718.2h0M116.8 691.1h0M129.1 724.6h0M94.0 697.8h0M117.1 687.5h0M96.8 689.2h0M100.8 695.0h0M93.9 691.4h0M116.0 696.7h0M105.4 698.3h0M98.3 695.0h0M98.4 686.1h0M91.9 699.3h0M104.2 702.4h0M111.8 685.6h0M109.0 700.5h0M98.8 694.3h0M89.9 690.2h0M93.9 686.7h0M94.5 693.9h0M95.8 685.4h0M89.3 693.4h0M96.0 695.6h0M112.4 689.4h0M103.0 698.1h0M97.2 689.9h0M93.4 698.8h0M96.5 693.4h0M113.3 702.1h0M95.4 686.3h0M109.6 685.0h0M93.2 698.9h0M87.3 688.7h0M101.5 699.8h0M107.6 696.8h0M91.7 693.4h0M103.5 695.6h0M97.8 692.3h0M113.8 690.6h0M111.2 688.6h0M96.6 699.8h0M107.9 690.6h0M89.9 689.4h0M90.7 689.6h0M99.8 687.4h0M100.4 694.3h0M100.8 691.7h0M110.2 693.0h0M112.8 695.1h0M114.5 703.3h0M111.4 703.4h0M102.3 701.3h0M111.8 699.2h0M110.9 688.0h0M93.1 694.6h0M115.5 686.1h0M98.1 692.6h0M87.2 689.4h0M102.0 688.6h0M104.9 688.9h0M103.3 700.6h0M112.7 689.6h0M101.8 697.6h0M105.9 702.0h0M96.7 699.7h0M99.3 687.7h0M116.4 687.7h0M90.0 692.2h0M115.7 695.9h0M101.2 686.0h0M93.9 692.4h0M111.7 688.1h0M114.8 695.7h0M104.6 697.4h0M112.7 702.4h0M113.9 696.9h0M93.3 695.6h0M106.7 691.6h0M112.9 694.1h0M101.1 697.9h0M105.7 702.3h0M114.9 701.8h0M97.7 690.7h0M110.0 696.0h0M114.0 687.1h0M102.3 687.6h0M104.9 697.9h0M92.4 698.0h0M91.0 694.9h0M108.4 684.8h0M102.0 697.0h0M110.1 690.1h0M108.0 690.0h0" stroke="#8794b4" stroke-width="2.20" stroke-linecap="round" fill="none"/>
<g fill="#fff" opacity="0.85">
<circle cx="136.3" cy="706.8" r="0.6"/>
<circle cx="140.9" cy="770.1" r="0.6"/>
<circle cx="135.1" cy="751.5" r="0.6"/>
<circle cx="128.0" cy="737.0" r="0.6"/>
<circle cx="151.3" cy="774.4" r="0.6"/>
<circle cx="139.8" cy="716.3" r="0.6"/>
<circle cx="117.8" cy="728.8" r="0.6"/>
<circle cx="122.2" cy="728.4" r="0.6"/>
<circle cx="150.4" cy="776.6" r="0.6"/>
<circle cx="140.8" cy="692.6" r="0.6"/>
<circle cx="114.9" cy="727.4" r="0.6"/>
<circle cx="116.0" cy="707.5" r="0.6"/>
<circle cx="112.9" cy="714.2" r="0.6"/>
<circle cx="143.7" cy="684.6" r="0.6"/>
<circle cx="140.2" cy="788.2" r="0.6"/>
<circle cx="138.5" cy="711.8" r="0.6"/>
<circle cx="137.8" cy="700.7" r="0.6"/>
<circle cx="110.2" cy="737.6" r="0.6"/>
<circle cx="152.6" cy="708.4" r="0.6"/>
<circle cx="140.8" cy="710.9" r="0.6"/>
<circle cx="122.2" cy="729.0" r="0.6"/>
<circle cx="141.7" cy="771.3" r="0.6"/>
<circle cx="153.5" cy="766.4" r="0.6"/>
<circle cx="157.5" cy="756.6" r="0.6"/>
<circle cx="130.3" cy="746.7" r="0.6"/>
<circle cx="157.4" cy="721.4" r="0.6"/>
<circle cx="159.2" cy="762.2" r="0.6"/>
<circle cx="126.2" cy="762.7" r="0.6"/>
<circle cx="129.6" cy="739.3" r="0.6"/>
<circle cx="137.2" cy="702.0" r="0.6"/>
<circle cx="115.0" cy="693.2" r="0.6"/>
<circle cx="155.8" cy="734.7" r="0.6"/>
<circle cx="146.4" cy="685.0" r="0.6"/>
<circle cx="143.5" cy="771.0" r="0.6"/>
<circle cx="138.8" cy="734.9" r="0.6"/>
<circle cx="135.6" cy="711.6" r="0.6"/>
<circle cx="140.0" cy="738.7" r="0.6"/>
<circle cx="159.7" cy="724.9" r="0.6"/>
<circle cx="134.8" cy="716.7" r="0.6"/>
<circle cx="132.8" cy="740.9" r="0.6"/>
<circle cx="143.6" cy="734.1" r="0.6"/>
<circle cx="119.0" cy="741.5" r="0.6"/>
<circle cx="135.9" cy="686.2" r="0.6"/>
<circle cx="142.1" cy="710.8" r="0.6"/>
<circle cx="104.7" cy="682.8" r="0.6"/>
<circle cx="122.1" cy="737.1" r="0.6"/>
<circle cx="112.3" cy="680.4" r="0.6"/>
<circle cx="142.6" cy="786.4" r="0.6"/>
<circle cx="162.8" cy="732.8" r="0.6"/>
<circle cx="107.9" cy="692.7" r="0.6"/>
<circle cx="129.5" cy="732.1" r="0.6"/>
<circle cx="145.7" cy="750.5" r="0.6"/>
<circle cx="104.1" cy="707.2" r="0.6"/>
<circle cx="128.9" cy="767.7" r="0.6"/>
<circle cx="124.4" cy="740.5" r="0.6"/>
<circle cx="133.3" cy="720.9" r="0.6"/>
<circle cx="109.2" cy="707.8" r="0.6"/>
<circle cx="156.0" cy="714.0" r="0.6"/>
<circle cx="111.7" cy="737.8" r="0.6"/>
<circle cx="121.4" cy="743.1" r="0.6"/>
<circle cx="156.3" cy="756.1" r="0.6"/>
<circle cx="102.5" cy="718.1" r="0.6"/>
<circle cx="116.3" cy="713.0" r="0.6"/>
<circle cx="145.9" cy="743.9" r="0.6"/>
<circle cx="137.5" cy="703.3" r="0.6"/>
<circle cx="123.6" cy="690.7" r="0.6"/>
<circle cx="151.2" cy="740.2" r="0.6"/>
<circle cx="149.1" cy="705.9" r="0.6"/>
<circle cx="119.5" cy="695.0" r="0.6"/>
<circle cx="145.6" cy="709.2" r="0.6"/>
<circle cx="144.1" cy="734.9" r="0.6"/>
<circle cx="111.7" cy="716.0" r="0.6"/>
<circle cx="129.8" cy="747.5" r="0.6"/>
<circle cx="109.0" cy="700.0" r="0.6"/>
<circle cx="153.2" cy="705.3" r="0.6"/>
<circle cx="137.8" cy="727.3" r="0.6"/>
<circle cx="155.1" cy="752.6" r="0.6"/>
<circle cx="148.1" cy="775.6" r="0.6"/>
<circle cx="144.6" cy="756.0" r="0.6"/>
<circle cx="138.4" cy="698.6" r="0.6"/>
<circle cx="135.6" cy="758.3" r="0.6"/>
<circle cx="125.0" cy="732.0" r="0.6"/>
<circle cx="130.7" cy="771.7" r="0.6"/>
<circle cx="140.5" cy="723.8" r="0.6"/>
<circle cx="155.8" cy="691.4" r="0.6"/>
<circle cx="146.6" cy="723.2" r="0.6"/>
<circle cx="115.2" cy="690.3" r="0.6"/>
<circle cx="124.8" cy="702.1" r="0.6"/>
<circle cx="101.8" cy="701.1" r="0.6"/>
<circle cx="128.7" cy="699.5" r="0.6"/>
</g>
<path d="M82.1 717.4h0M78.5 721.0h0M86.3 729.1h0M84.7 726.6h0M81.6 727.4h0M79.0 721.5h0M96.9 731.1h0M63.2 702.5h0M96.4 741.9h0M88.9 719.6h0M65.1 713.3h0M60.3 707.3h0M83.0 725.4h0M96.3 742.1h0M92.5 722.5h0M73.1 722.3h0M89.0 713.7h0M72.5 704.5h0M80.3 713.9h0M96.8 736.0h0M66.5 708.7h0M93.5 741.1h0M90.4 718.1h0M76.7 705.6h0M64.8 709.7h0M98.1 728.5h0M95.2 725.1h0M90.8 719.5h0M72.2 716.6h0M62.2 706.5h0M77.9 721.7h0M89.3 740.6h0M77.5 714.8h0M76.5 714.8h0M86.4 735.3h0M64.5 699.5h0M60.2 707.5h0M74.5 703.9h0M97.4 730.5h0M78.1 724.6h0M71.0 709.4h0M99.2 737.2h0M92.9 729.5h0M87.6 735.5h0M89.3 730.0h0M86.1 716.0h0M73.9 717.9h0M70.5 718.7h0M85.5 726.6h0M94.8 734.3h0M85.1 717.1h0M77.3 716.4h0M70.3 713.3h0M83.7 730.3h0M80.9 721.7h0M88.2 738.1h0M61.3 704.1h0M88.9 726.4h0M84.7 728.6h0M77.4 725.9h0M78.5 715.6h0M98.2 744.1h0M63.8 703.9h0M61.8 701.3h0M60.5 705.8h0M83.9 711.5h0M74.4 717.3h0M72.5 717.8h0M98.8 745.8h0M66.6 702.5h0M80.5 731.3h0M88.0 735.8h0M80.4 722.8h0M89.0 733.1h0M82.3 715.0h0M73.1 711.4h0M61.1 704.2h0M85.5 712.2h0M88.5 739.3h0M68.5 702.4h0M76.6 722.9h0M70.7 717.1h0M59.6 699.7h0M83.1 719.9h0M78.8 709.2h0M80.6 723.2h0M85.1 717.0h0M85.0 724.0h0M93.3 721.9h0M78.5 727.3h0M81.4 720.2h0M90.0 725.5h0M83.3 714.6h0M91.2 740.8h0M89.9 737.7h0M81.4 713.1h0M63.5 703.3h0M90.9 732.4h0M66.9 698.9h0M91.7 723.5h0M91.9 735.0h0M73.4 711.4h0M90.6 724.8h0M96.1 731.5h0M91.9 739.1h0M89.1 736.3h0M82.3 727.8h0M85.9 728.9h0M94.9 744.0h0M67.1 711.7h0M99.4 742.9h0M77.4 720.8h0M66.1 705.6h0M67.1 712.7h0M68.1 712.5h0M85.0 728.2h0M80.7 716.9h0M87.7 726.2h0M81.0 731.2h0M86.0 716.2h0M90.9 715.7h0M80.1 711.7h0M97.4 732.9h0M97.9 744.4h0M68.7 703.9h0M99.3 742.4h0M92.9 731.6h0M85.0 721.7h0M61.9 699.8h0M63.2 703.3h0M82.0 730.8h0M59.3 700.2h0M74.8 716.4h0M82.5 726.5h0M72.6 706.4h0M66.2 703.4h0M81.5 728.7h0M74.7 711.8h0M69.2 711.7h0M70.1 702.6h0M89.5 739.4h0M87.3 720.7h0M92.8 738.1h0M87.9 722.9h0M98.1 746.3h0M85.3 718.1h0M71.2 720.5h0M98.3 733.5h0M97.3 744.1h0M95.0 725.4h0M93.8 728.8h0M71.6 713.9h0M78.7 715.4h0M82.5 722.7h0M96.2 745.1h0M73.7 719.0h0M86.9 722.5h0M81.7 711.3h0M75.5 726.3h0M89.5 722.6h0M71.2 716.4h0M92.0 732.8h0M72.1 717.5h0M80.1 721.7h0M91.1 727.2h0M85.7 727.0h0M95.1 724.5h0M96.4 737.3h0M93.1 725.1h0M80.6 730.9h0M112.5 720.9h0M97.1 723.1h0M104.2 730.3h0M115.9 722.4h0M107.3 724.5h0M113.6 729.2h0M97.7 718.9h0M115.3 719.4h0M100.1 711.7h0M94.1 713.4h0M99.4 717.4h0M97.9 720.6h0M112.3 712.0h0M113.8 723.4h0M96.5 713.9h0M100.0 724.4h0M105.1 725.4h0M101.4 709.5h0M100.7 729.5h0M96.1 714.1h0M116.8 713.3h0M114.0 714.2h0M116.4 720.3h0M119.3 727.0h0M100.2 731.1h0M119.2 713.8h0M100.7 717.6h0M105.5 728.7h0M97.6 710.9h0M101.7 722.3h0M101.1 712.6h0M103.2 717.7h0M108.9 728.2h0M98.6 714.3h0M105.6 724.2h0M118.5 728.2h0M104.3 723.0h0M120.0 722.4h0M121.7 727.1h0M100.6 721.7h0M120.1 717.2h0M110.7 715.6h0M104.9 713.3h0M95.1 713.6h0M103.7 729.9h0M124.3 811.5h0M98.7 829.5h0M102.3 763.4h0M76.0 726.0h0M150.9 738.7h0M56.1 695.6h0M57.1 811.1h0M88.3 766.5h0M135.7 755.2h0M93.7 781.6h0M107.6 762.1h0M167.5 704.1h0M98.1 733.9h0M52.2 719.1h0M95.5 795.8h0M78.9 720.5h0M139.1 709.6h0M60.6 785.1h0M128.8 730.6h0M88.7 711.1h0M114.9 786.0h0M126.1 697.7h0M70.1 723.2h0M115.8 795.0h0M77.6 814.4h0M145.2 777.3h0M49.7 751.5h0M153.1 699.3h0M65.9 793.3h0M129.1 738.3h0M105.3 688.9h0M67.9 736.5h0M122.2 725.4h0M50.0 745.5h0M57.3 685.8h0M90.8 728.3h0M107.3 767.7h0M72.5 803.2h0M124.1 780.2h0M50.1 701.8h0M73.0 729.2h0M98.1 730.1h0M72.9 755.0h0M83.3 705.0h0M135.1 740.0h0M74.6 742.5h0M59.4 720.9h0M67.2 789.1h0M81.4 689.4h0M110.6 739.8h0M130.3 747.8h0M86.2 689.4h0M131.6 804.1h0M70.3 722.0h0M166.4 715.4h0M81.8 690.5h0M136.7 776.9h0M121.9 760.0h0M111.0 776.8h0M73.4 814.9h0M64.0 710.1h0M122.9 809.5h0M163.0 734.1h0M129.5 723.9h0M127.7 796.6h0M58.2 770.3h0M85.0 752.9h0M121.5 697.4h0M49.2 772.1h0M82.9 762.0h0M137.4 735.5h0M129.3 765.1h0M110.7 750.0h0M80.3 791.9h0M85.9 694.9h0M76.7 776.7h0M66.6 729.1h0M66.0 809.5h0M68.8 746.8h0M109.5 800.7h0M116.6 724.8h0M73.3 781.9h0M118.9 700.2h0M53.7 784.1h0M66.5 699.2h0M58.4 707.7h0M108.2 750.4h0M108.9 693.8h0M52.6 750.1h0M71.6 726.0h0M54.6 780.8h0M70.4 694.3h0M91.4 771.6h0M109.2 732.2h0M81.5 816.5h0M86.5 709.5h0M123.0 778.2h0M116.0 711.5h0M167.7 712.5h0M117.2 747.2h0M60.7 789.6h0M114.7 716.6h0M100.4 738.1h0M127.4 716.0h0M103.8 795.5h0M147.5 724.9h0M86.8 738.8h0M55.0 708.0h0M148.2 808.3h0M121.9 774.8h0M50.3 725.4h0M126.2 733.9h0M113.7 751.2h0M148.9 782.6h0M76.2 694.8h0M64.3 697.4h0M54.9 701.7h0M96.1 750.3h0M101.9 705.4h0M77.0 748.0h0M63.4 685.8h0M56.4 734.8h0M61.7 725.2h0M60.4 692.7h0M120.8 748.5h0M63.8 776.2h0M159.5 713.5h0M55.6 698.8h0M82.6 754.6h0M122.3 820.4h0M99.3 773.0h0M58.7 794.7h0M66.7 748.2h0M61.0 746.2h0M112.0 817.7h0M129.4 742.4h0M79.1 777.1h0M95.0 761.3h0M104.0 726.2h0M129.8 817.3h0M55.0 789.5h0M43.7 744.5h0M94.8 776.8h0M115.2 697.0h0M102.0 738.6h0M124.3 779.6h0M82.3 714.3h0M158.5 768.7h0M126.4 726.9h0M100.2 698.5h0M48.4 788.4h0M87.4 796.5h0M49.2 739.6h0M64.4 735.4h0M126.5 702.5h0M80.9 740.4h0M123.1 745.5h0M79.4 758.3h0M106.9 735.8h0M44.5 741.5h0M50.7 765.1h0M99.2 806.3h0M69.3 803.0h0M109.6 813.7h0M156.7 702.5h0M60.9 726.6h0M139.8 781.6h0M78.5 804.9h0M163.2 725.2h0M86.1 804.3h0M129.3 735.8h0M63.9 798.4h0M124.5 806.5h0M72.6 744.8h0M54.6 689.1h0M112.6 739.1h0M74.1 811.5h0M98.5 736.4h0M65.4 753.6h0M117.1 795.8h0M127.1 801.4h0M57.0 718.7h0M88.2 685.2h0M133.8 701.8h0M161.5 716.2h0M72.6 755.2h0M64.3 746.6h0M96.2 781.1h0M80.9 727.4h0M53.4 766.0h0M86.3 791.3h0M142.4 789.6h0M121.4 703.2h0M102.1 707.8h0M123.0 748.9h0M48.0 744.2h0M96.2 753.7h0M155.9 741.2h0M45.0 726.7h0M100.2 801.4h0M122.1 742.3h0M94.7 776.4h0M55.3 768.0h0M73.0 709.1h0M45.7 746.6h0M128.3 738.8h0M68.6 692.7h0M74.4 686.8h0M136.9 796.5h0M91.6 826.5h0M113.9 700.0h0M63.2 806.9h0M57.3 696.3h0M99.6 687.2h0M64.1 750.4h0M81.1 686.8h0M66.2 784.3h0M84.3 693.1h0M142.1 710.7h0M111.9 827.8h0M164.1 726.3h0M139.7 770.9h0M122.7 739.1h0M103.9 704.2h0M66.5 709.8h0M119.4 754.9h0M81.1 820.4h0M55.9 720.1h0M48.0 759.9h0M115.8 696.4h0M81.6 730.7h0M58.8 734.4h0M94.5 775.1h0M146.5 740.4h0M89.2 808.1h0M68.6 815.4h0M140.6 802.7h0M162.9 686.8h0M70.7 730.8h0M140.2 810.3h0M100.8 789.5h0M70.6 693.4h0M124.1 816.4h0M81.2 772.4h0M118.6 796.5h0M124.1 754.9h0M136.1 779.8h0M58.5 781.0h0M154.8 701.0h0M76.8 759.2h0M109.7 739.3h0M109.2 698.1h0M72.3 716.8h0M77.1 729.2h0M106.2 699.7h0M143.9 729.4h0M47.4 738.8h0M97.4 735.1h0M75.9 746.9h0M78.5 818.8h0M102.7 728.9h0M122.2 750.8h0M131.8 750.4h0M129.9 758.4h0M112.8 722.3h0M108.2 733.5h0M58.8 754.2h0M69.5 719.5h0M149.2 795.9h0M125.2 751.7h0M127.0 714.3h0M86.5 814.4h0M60.0 821.2h0M100.0 778.7h0M97.9 693.0h0M114.2 772.2h0M114.3 811.8h0M86.6 745.3h0M54.7 746.1h0M72.1 754.8h0M127.6 720.6h0M78.0 708.2h0M110.2 773.4h0M121.5 695.6h0M156.5 697.9h0M54.1 786.0h0M159.7 741.3h0M55.9 751.9h0M99.9 810.8h0M119.1 719.2h0M94.3 746.0h0M93.3 707.0h0M149.8 740.6h0M129.1 829.2h0M113.5 809.6h0M61.1 759.9h0M110.7 726.8h0M161.6 739.4h0M80.1 725.0h0M116.8 831.9h0M156.2 756.3h0M87.0 749.4h0M73.8 698.1h0M54.9 704.9h0M103.6 802.1h0M65.9 743.8h0M73.1 710.8h0M46.8 766.1h0M93.2 737.6h0M135.8 705.0h0M109.3 703.3h0M81.3 769.3h0M138.2 689.2h0M80.8 728.2h0M144.2 771.7h0M64.0 770.2h0M101.1 745.1h0M118.5 823.1h0M141.7 803.2h0M163.2 687.9h0M157.5 689.8h0M158.4 686.5h0M150.5 692.6h0M155.5 687.5h0M149.4 695.7h0M158.9 694.2h0M156.7 686.5h0M148.8 690.1h0M155.2 696.9h0M150.0 690.3h0M159.1 698.8h0M158.1 698.1h0" stroke="#f080f4" stroke-width="2.30" stroke-linecap="round" fill="none"/><path d="M186.1 797.1h0M189.3 785.4h0M190.2 792.0h0M176.0 787.4h0M181.7 794.2h0M190.1 791.1h0" stroke="#f080f4" stroke-width="2.20" stroke-linecap="round" fill="none"/>
<text x="83.9" y="682.8" font-size="6.3" font-weight="normal" fill="#1a1a2a" text-anchor="start" font-family='"Liberation Sans", sans-serif' textLength="21.0" lengthAdjust="spacingAndGlyphs" >Oligo_C</text>
<text x="145.0" y="697.3" font-size="6.3" font-weight="normal" fill="#1a1a2a" text-anchor="start" font-family='"Liberation Sans", sans-serif' textLength="20.3" lengthAdjust="spacingAndGlyphs" >Oligo_F</text>
<text x="89.9" y="713.0" font-size="6.3" font-weight="normal" fill="#1a1a2a" text-anchor="start" font-family='"Liberation Sans", sans-serif' textLength="30.7" lengthAdjust="spacingAndGlyphs" >chi_Oligo_2</text>
<text x="130.6" y="715.2" font-size="6.3" font-weight="normal" fill="#1a1a2a" text-anchor="start" font-family='"Liberation Sans", sans-serif' textLength="20.8" lengthAdjust="spacingAndGlyphs" >Oligo_D</text>
<text x="55.7" y="735.4" font-size="6.3" font-weight="normal" fill="#1a1a2a" text-anchor="start" font-family='"Liberation Sans", sans-serif' textLength="30.3" lengthAdjust="spacingAndGlyphs" >chi_Oligo_4</text>
<text x="79.1" y="744.6" font-size="6.3" font-weight="normal" fill="#1a1a2a" text-anchor="start" font-family='"Liberation Sans", sans-serif' textLength="20.5" lengthAdjust="spacingAndGlyphs" >Oligo_B</text>
<text x="135.1" y="776.6" font-size="6.3" font-weight="normal" fill="#1a1a2a" text-anchor="start" font-family='"Liberation Sans", sans-serif' textLength="20.5" lengthAdjust="spacingAndGlyphs" >Oligo_E</text>
<text x="59.7" y="780.0" font-size="6.3" font-weight="normal" fill="#1a1a2a" text-anchor="start" font-family='"Liberation Sans", sans-serif' textLength="30.7" lengthAdjust="spacingAndGlyphs" >chi_Oligo_5</text>
<text x="97.8" y="809.5" font-size="6.3" font-weight="normal" fill="#1a1a2a" text-anchor="start" font-family='"Liberation Sans", sans-serif' textLength="20.2" lengthAdjust="spacingAndGlyphs" >Oligo_A</text>
<polygon points="292.3,739.4 306.7,736.2 319.6,739.4 321.2,747.4 318.0,757.1 310.0,755.5 298.7,749.0 292.3,744.2" fill="#8794b4" stroke="#8794b4" stroke-width="1.5" stroke-linejoin="round"/>
<path d="M293.0 740.6h0M309.2 754.7h0M299.8 747.8h0M308.3 738.6h0M320.8 747.7h0M294.4 745.5h0M318.3 755.0h0M317.1 755.5h0M308.5 753.5h0M297.9 739.2h0M319.3 749.3h0M301.8 735.9h0M294.9 740.7h0M307.4 735.2h0M318.3 757.6h0M322.1 743.6h0M316.7 758.3h0M319.9 738.7h0M299.4 748.2h0M312.0 756.6h0M305.7 753.4h0M316.9 737.8h0M318.0 738.2h0M304.8 752.8h0M314.4 738.0h0M291.9 741.9h0M312.5 738.5h0M312.3 737.8h0M297.8 747.3h0M307.3 753.9h0M317.0 738.7h0M311.8 754.9h0M293.1 743.2h0M292.2 739.7h0M321.4 745.1h0M310.4 754.9h0M296.8 737.9h0M318.2 738.9h0M313.7 756.1h0M305.8 736.7h0" stroke="#8794b4" stroke-width="2.00" stroke-linecap="round" fill="none"/>
<polygon points="252.9,747.4 258.5,746.6 266.6,750.7 273.0,755.5 281.0,760.3 292.3,763.5 303.5,763.5 308.3,766.7 312.3,779.6 311.5,786.0 303.5,790.8 292.3,792.4 284.2,795.6 279.4,798.8 276.2,792.4 268.2,787.6 263.4,781.2 260.1,773.1 260.1,766.7 256.9,760.3 254.5,753.9" fill="#789ee0" stroke="#789ee0" stroke-width="1.2" stroke-linejoin="round"/>
<path d="M289.1 763.5h0M282.9 797.2h0M253.3 749.8h0M258.9 771.1h0M298.2 762.6h0M312.3 786.8h0M254.4 747.4h0M311.0 776.4h0M265.7 785.7h0M268.8 750.6h0M310.3 773.9h0M293.4 791.9h0M276.1 755.9h0M286.9 793.3h0M299.5 763.0h0M260.9 774.8h0M269.3 752.8h0M266.6 786.0h0M291.2 793.6h0M311.0 783.1h0M307.7 770.6h0M274.4 755.4h0M276.1 792.9h0M259.4 769.4h0M262.0 749.6h0M270.9 753.6h0M297.3 765.2h0M306.9 788.0h0M282.1 797.0h0M261.4 776.1h0M254.8 755.7h0M311.1 784.4h0M308.9 771.7h0M307.9 767.6h0M256.2 760.0h0M256.0 746.9h0M288.2 793.8h0M261.9 748.6h0M278.4 795.2h0M286.4 761.7h0M258.0 769.4h0M264.8 782.2h0M263.7 748.5h0M251.2 749.6h0M306.0 788.8h0M256.7 762.0h0M262.3 747.9h0M299.7 791.6h0M297.8 791.6h0M287.2 761.5h0M264.7 749.7h0M275.1 755.7h0M290.8 763.7h0M309.8 786.3h0M266.4 751.2h0M287.5 764.3h0M300.2 762.8h0M259.2 763.0h0M286.7 762.5h0M260.1 771.1h0M302.0 763.8h0M286.8 794.9h0M311.3 781.0h0M267.7 787.3h0M259.0 762.9h0M291.9 792.8h0M254.9 755.7h0M292.2 763.3h0M269.3 788.5h0M286.8 761.8h0" stroke="#789ee0" stroke-width="2.00" stroke-linecap="round" fill="none"/>
<polygon points="262.6,717.7 268.2,717.7 276.2,723.4 284.2,726.6 289.0,729.8 290.7,737.8 292.3,744.2 298.7,749.0 306.7,752.3 310.7,755.5 310.0,760.3 300.3,761.9 290.7,762.0 281.0,759.0 273.0,754.0 266.6,750.0 262.0,750.0 256.9,748.5 247.3,745.8 235.3,743.4 233.7,744.2 240.9,747.4 252.1,752.3 258.5,755.5 262.0,757.0 266.0,754.0 270.0,748.0 268.2,741.0 266.6,731.4 263.4,723.4" fill="#f080f4" stroke="#f080f4" stroke-width="1.4" stroke-linejoin="round"/>
<polygon points="255.3,760.3 258.5,762.0 252.1,769.9 244.1,774.7 239.3,772.3 247.3,766.7" fill="#f080f4" stroke="#f080f4" stroke-width="1.2" stroke-linejoin="round"/>
<path d="M309.8 761.1h0M288.9 735.8h0M285.4 760.2h0M283.5 758.7h0M254.5 747.3h0M306.9 760.1h0M307.8 761.1h0M244.7 749.7h0M247.2 745.0h0M305.3 751.7h0M281.6 759.6h0M268.2 742.7h0M262.7 719.5h0M299.8 761.0h0M252.6 748.8h0M294.1 746.6h0M265.6 718.7h0M291.7 732.2h0M263.7 755.7h0M263.7 716.9h0M290.4 733.5h0M263.3 750.1h0M281.5 761.8h0M286.0 728.1h0M267.5 750.7h0M270.8 747.1h0M259.1 756.7h0M261.8 749.9h0M267.6 743.3h0M240.0 744.0h0M247.4 746.1h0M255.3 753.9h0M234.4 744.1h0M263.1 718.0h0M250.2 745.3h0M267.8 744.2h0M273.8 755.4h0M276.2 756.5h0M296.6 762.3h0M275.0 723.2h0M248.3 749.6h0M269.5 720.3h0M272.5 753.4h0M267.7 749.4h0M272.9 721.0h0M283.3 760.8h0M260.4 748.8h0M233.6 745.3h0M284.9 726.3h0M296.9 747.3h0M236.6 742.4h0M232.9 742.7h0M247.7 745.5h0M296.1 747.3h0M254.5 754.0h0M253.1 752.8h0M291.4 739.7h0M270.2 743.8h0M238.4 745.6h0M259.1 747.7h0M289.0 735.0h0M274.0 755.0h0M246.5 746.4h0M259.6 749.8h0M303.4 751.8h0M266.4 752.6h0M272.0 753.7h0M291.4 735.6h0M278.1 724.1h0M287.2 729.5h0M251.0 751.4h0M266.6 738.4h0M242.6 746.8h0M251.7 750.9h0M236.8 745.7h0M278.6 723.9h0M290.7 735.2h0M302.9 762.9h0M263.0 723.3h0M288.1 727.8h0M270.0 752.4h0M309.5 758.7h0M263.9 720.4h0M248.1 749.7h0M278.7 757.7h0M265.7 731.8h0M256.2 746.6h0M267.1 749.5h0M289.4 730.5h0M296.7 746.3h0" stroke="#f080f4" stroke-width="2.00" stroke-linecap="round" fill="none"/>
<path d="M236 773 L246 769" stroke="#789ee0" stroke-width="2.2"/>
<path d="M262.6 718 Q255.5 711 254.8 704 Q254.5 696.5 259.5 694.8 Q266 694 270.5 700 Q275.5 707 276.5 716 L277.5 726" fill="none" stroke="#8a5aa6" stroke-width="3.6" stroke-linecap="round"/>
<path d="M269 700.5 Q274.5 707 276 716 L277 725" fill="none" stroke="#8a5aa6" stroke-width="5" stroke-linecap="round"/>
<path d="M264 720 Q270 723 275 726" fill="none" stroke="#f080f4" stroke-width="3"/>
<path d="M279 727h0M282 728.5h0" stroke="#8a5aa6" stroke-width="2.20" stroke-linecap="round" fill="none"/><path d="M285 727.5h0M281 731h0M287 731h0" stroke="#8a5aa6" stroke-width="2.00" stroke-linecap="round" fill="none"/><path d="M284 733.5h0" stroke="#8a5aa6" stroke-width="1.80" stroke-linecap="round" fill="none"/>
<path d="M255.5 702h0" stroke="#789ee0" stroke-width="2.00" stroke-linecap="round" fill="none"/><path d="M257 706h0M270 713h0M275 717h0" stroke="#789ee0" stroke-width="1.80" stroke-linecap="round" fill="none"/>
<path d="M266.6 758.5h0M302.8 788.2h0M290.7 785.3h0M287.3 784.9h0M279.0 780.6h0M266.1 780.6h0M309.3 770.6h0M283.5 793.5h0M263.0 778.7h0M283.6 770.6h0M287.4 789.8h0M283.1 791.6h0M301.1 769.8h0M255.4 752.6h0M282.2 776.8h0M279.8 793.1h0M302.3 771.3h0M294.6 771.3h0M305.6 774.1h0M261.3 765.1h0M268.8 779.1h0M263.6 762.9h0M286.8 774.7h0M310.7 779.0h0M288.3 791.3h0M307.1 788.5h0M274.4 788.3h0M287.2 780.1h0M272.0 783.6h0M297.7 764.5h0M282.4 791.4h0M301.5 777.5h0M281.1 782.6h0M301.9 788.6h0M293.7 781.8h0M278.5 766.5h0M285.9 785.9h0M267.8 752.6h0M299.9 778.4h0M299.2 784.2h0M280.6 792.9h0M292.3 774.9h0M258.8 758.2h0M277.8 784.2h0M287.9 783.2h0M304.5 780.5h0M289.6 774.1h0M304.3 767.1h0M302.5 773.9h0M295.8 780.9h0M274.8 789.0h0M302.7 768.0h0M270.2 777.6h0M262.7 765.5h0M262.7 772.6h0M280.5 775.3h0M285.0 768.3h0M300.0 775.8h0M274.9 769.4h0M308.0 776.5h0M264.8 760.0h0M269.6 778.2h0M262.9 765.3h0M275.6 779.5h0M286.4 781.9h0M294.6 769.9h0M298.1 765.3h0M295.3 772.1h0M269.0 777.8h0M271.4 784.5h0M271.0 763.8h0M274.6 763.9h0M295.0 777.1h0M278.9 769.3h0M306.2 773.4h0M294.5 774.8h0M304.1 787.9h0M263.2 754.7h0M275.0 758.1h0M303.3 767.5h0" stroke="#f080f4" stroke-width="2.20" stroke-linecap="round" fill="none"/>
<path d="M285.6 754.4h0M238.4 744.3h0M293.9 760.3h0M283.7 741.3h0M239.3 746.6h0M274.8 738.9h0M266.8 727.2h0M291.1 748.1h0M288.9 748.2h0M264.0 753.3h0M280.5 753.7h0M297.0 752.0h0M286.3 745.1h0M284.9 745.3h0M297.4 761.1h0M282.6 742.2h0M278.6 750.2h0M259.1 752.6h0M281.0 756.3h0M285.6 749.4h0M293.9 759.0h0M267.8 731.6h0M239.0 744.4h0M288.0 742.0h0M294.8 748.9h0" stroke="#789ee0" stroke-width="2.00" stroke-linecap="round" fill="none"/>
<line x1="270.6" y1="750.3" x2="283.4" y2="751.5" stroke="#111" stroke-width="0.6"/>
<path d="M251 825.5 L264 812.5" stroke="#8794b4" stroke-width="2.2" stroke-linecap="round"/>
<path d="M278.5 818 L278.5 841" stroke="#8794b4" stroke-width="2.2" stroke-linecap="round"/>
<circle cx="272" cy="804.5" r="0.9" fill="#789ee0"/><circle cx="277.7" cy="817.6" r="0.9" fill="#789ee0"/><circle cx="263" cy="814" r="0.9" fill="#789ee0"/>
<text x="263.0" y="705.7" font-size="6.3" font-weight="normal" fill="#1a1a2a" text-anchor="start" font-family='"Liberation Sans", sans-serif' textLength="28.5" lengthAdjust="spacingAndGlyphs" >chi_CYP_1</text>
<text x="235.3" y="717.7" font-size="6.3" font-weight="normal" fill="#1a1a2a" text-anchor="start" font-family='"Liberation Sans", sans-serif' textLength="28.1" lengthAdjust="spacingAndGlyphs" >chi_CYP_2</text>
<text x="279.4" y="729.0" font-size="6.3" font-weight="normal" fill="#1a1a2a" text-anchor="start" font-family='"Liberation Sans", sans-serif' textLength="23.3" lengthAdjust="spacingAndGlyphs" >chi_COP</text>
<text x="305.9" y="744.2" font-size="6.3" font-weight="normal" fill="#1a1a2a" text-anchor="start" font-family='"Liberation Sans", sans-serif' textLength="20.1" lengthAdjust="spacingAndGlyphs" >OPC_B</text>
<text x="247.3" y="747.4" font-size="6.3" font-weight="normal" fill="#1a1a2a" text-anchor="start" font-family='"Liberation Sans", sans-serif' textLength="22.5" lengthAdjust="spacingAndGlyphs" >chi_OPC</text>
<text x="284.2" y="753.9" font-size="6.3" font-weight="normal" fill="#1a1a2a" text-anchor="start" font-family='"Liberation Sans", sans-serif' textLength="29.8" lengthAdjust="spacingAndGlyphs" >chi_Oligo_1</text>
<text x="248.1" y="761.9" font-size="6.3" font-weight="normal" fill="#1a1a2a" text-anchor="start" font-family='"Liberation Sans", sans-serif' textLength="30.5" lengthAdjust="spacingAndGlyphs" >chi_Oligo_3</text>
<text x="281.0" y="774.7" font-size="6.3" font-weight="normal" fill="#1a1a2a" text-anchor="start" font-family='"Liberation Sans", sans-serif' textLength="19.3" lengthAdjust="spacingAndGlyphs" >OPC_A</text>
<text x="224.8" y="779.6" font-size="6.3" font-weight="normal" fill="#1a1a2a" text-anchor="start" font-family='"Liberation Sans", sans-serif' textLength="19.3" lengthAdjust="spacingAndGlyphs" >COP_C</text>
<text x="258.3" y="812.4" font-size="6.3" font-weight="normal" fill="#1a1a2a" text-anchor="start" font-family='"Liberation Sans", sans-serif' textLength="20.2" lengthAdjust="spacingAndGlyphs" >COP_B</text>
<text x="261.0" y="843.4" font-size="6.3" font-weight="normal" fill="#1a1a2a" text-anchor="start" font-family='"Liberation Sans", sans-serif' textLength="20.0" lengthAdjust="spacingAndGlyphs" >COP_A</text>
<g stroke="#111" stroke-width="1" fill="#111"><line x1="26.3" y1="852.3" x2="26.3" y2="819.5"/><line x1="26.3" y1="852.3" x2="60" y2="852.3"/><path d="M26.3 816.5 L24.3 820.5 L28.3 820.5 Z"/><path d="M63 852.3 L59 850.3 L59 854.3 Z"/></g>
<text transform="translate(22.3,849.6) rotate(-90)" font-size="6.8" font-weight="normal" fill="#111" text-anchor="start" font-family='"Liberation Sans", sans-serif' textLength="23.6" lengthAdjust="spacingAndGlyphs">UMAP2</text>
<text x="28.9" y="864.0" font-size="6.8" font-weight="normal" fill="#111" text-anchor="start" font-family='"Liberation Sans", sans-serif' textLength="23.6" lengthAdjust="spacingAndGlyphs" >UMAP1</text>
<circle cx="39.3" cy="885.8" r="3.85" fill="#8e5aa8"/>
<text x="48.7" y="888.4" font-size="8.5" font-weight="normal" fill="#222" text-anchor="start" font-family='"Liberation Sans", sans-serif' textLength="150.3" lengthAdjust="spacingAndGlyphs" stroke="#222" stroke-width="0.25">hESC-derived chimeric oligodendroglia</text>
<circle cx="39.3" cy="897.8" r="3.85" fill="#f07ff0"/>
<text x="49.6" y="900.4" font-size="8.5" font-weight="normal" fill="#222" text-anchor="start" font-family='"Liberation Sans", sans-serif' textLength="245.8" lengthAdjust="spacingAndGlyphs" stroke="#222" stroke-width="0.25">hESC-derived chimeric oligodendroglia mapping to Seeker 2023</text>
<circle cx="39.3" cy="909.7" r="3.85" fill="#8890b8"/>
<text x="48.7" y="912.3" font-size="8.5" font-weight="normal" fill="#222" text-anchor="start" font-family='"Liberation Sans", sans-serif' textLength="167.3" lengthAdjust="spacingAndGlyphs" stroke="#222" stroke-width="0.25">Seeker 2023 (adult human &#160;oligodendroglia)</text>
<circle cx="39.3" cy="921.6" r="3.85" fill="#7fa0e0"/>
<text x="48.7" y="924.2" font-size="8.5" font-weight="normal" fill="#222" text-anchor="start" font-family='"Liberation Sans", sans-serif' textLength="287.3" lengthAdjust="spacingAndGlyphs" stroke="#222" stroke-width="0.25">Seeker 2023 clusters mapping to hESC-derived monolayer oligodendroglia</text>
<rect x="444.90" y="708.60" width="11.62" height="11.56" fill="#e8836a" stroke="#fff" stroke-width="0.7"/>
<rect x="456.52" y="708.60" width="11.62" height="11.56" fill="#f0c0a8" stroke="#fff" stroke-width="0.7"/>
<rect x="468.14" y="708.60" width="11.62" height="11.56" fill="#eaa890" stroke="#fff" stroke-width="0.7"/>
<rect x="479.76" y="708.60" width="11.62" height="11.56" fill="#dceef4" stroke="#fff" stroke-width="0.7"/>
<rect x="491.38" y="708.60" width="11.62" height="11.56" fill="#3a70b8" stroke="#fff" stroke-width="0.7"/>
<rect x="503.00" y="708.60" width="11.62" height="11.56" fill="#b8d8e8" stroke="#fff" stroke-width="0.7"/>
<rect x="514.62" y="708.60" width="11.62" height="11.56" fill="#b0d4e6" stroke="#fff" stroke-width="0.7"/>
<rect x="526.24" y="708.60" width="11.62" height="11.56" fill="#eef2f6" stroke="#fff" stroke-width="0.7"/>
<rect x="537.86" y="708.60" width="11.62" height="11.56" fill="#dceaf2" stroke="#fff" stroke-width="0.7"/>
<rect x="444.90" y="720.16" width="11.62" height="11.56" fill="#f4e0d4" stroke="#fff" stroke-width="0.7"/>
<rect x="456.52" y="720.16" width="11.62" height="11.56" fill="#f4ebe4" stroke="#fff" stroke-width="0.7"/>
<rect x="468.14" y="720.16" width="11.62" height="11.56" fill="#f4e6dc" stroke="#fff" stroke-width="0.7"/>
<rect x="479.76" y="720.16" width="11.62" height="11.56" fill="#3060b0" stroke="#fff" stroke-width="0.7"/>
<rect x="491.38" y="720.16" width="11.62" height="11.56" fill="#dceaf2" stroke="#fff" stroke-width="0.7"/>
<rect x="503.00" y="720.16" width="11.62" height="11.56" fill="#f6f6f8" stroke="#fff" stroke-width="0.7"/>
<rect x="514.62" y="720.16" width="11.62" height="11.56" fill="#9ac8e0" stroke="#fff" stroke-width="0.7"/>
<rect x="526.24" y="720.16" width="11.62" height="11.56" fill="#eef2f6" stroke="#fff" stroke-width="0.7"/>
<rect x="537.86" y="720.16" width="11.62" height="11.56" fill="#d8e8f2" stroke="#fff" stroke-width="0.7"/>
<rect x="444.90" y="731.72" width="11.62" height="11.56" fill="#b82030" stroke="#fff" stroke-width="0.7"/>
<rect x="456.52" y="731.72" width="11.62" height="11.56" fill="#d04840" stroke="#fff" stroke-width="0.7"/>
<rect x="468.14" y="731.72" width="11.62" height="11.56" fill="#c83c40" stroke="#fff" stroke-width="0.7"/>
<rect x="479.76" y="731.72" width="11.62" height="11.56" fill="#8ac0da" stroke="#fff" stroke-width="0.7"/>
<rect x="491.38" y="731.72" width="11.62" height="11.56" fill="#f2f4f8" stroke="#fff" stroke-width="0.7"/>
<rect x="503.00" y="731.72" width="11.62" height="11.56" fill="#f6e8e0" stroke="#fff" stroke-width="0.7"/>
<rect x="514.62" y="731.72" width="11.62" height="11.56" fill="#f6ece6" stroke="#fff" stroke-width="0.7"/>
<rect x="526.24" y="731.72" width="11.62" height="11.56" fill="#e88868" stroke="#fff" stroke-width="0.7"/>
<rect x="537.86" y="731.72" width="11.62" height="11.56" fill="#eebaa0" stroke="#fff" stroke-width="0.7"/>
<rect x="444.90" y="743.28" width="11.62" height="11.56" fill="#c02838" stroke="#fff" stroke-width="0.7"/>
<rect x="456.52" y="743.28" width="11.62" height="11.56" fill="#d45048" stroke="#fff" stroke-width="0.7"/>
<rect x="468.14" y="743.28" width="11.62" height="11.56" fill="#cc4444" stroke="#fff" stroke-width="0.7"/>
<rect x="479.76" y="743.28" width="11.62" height="11.56" fill="#8cc0da" stroke="#fff" stroke-width="0.7"/>
<rect x="491.38" y="743.28" width="11.62" height="11.56" fill="#eef2f6" stroke="#fff" stroke-width="0.7"/>
<rect x="503.00" y="743.28" width="11.62" height="11.56" fill="#f6e8e0" stroke="#fff" stroke-width="0.7"/>
<rect x="514.62" y="743.28" width="11.62" height="11.56" fill="#f6f0ee" stroke="#fff" stroke-width="0.7"/>
<rect x="526.24" y="743.28" width="11.62" height="11.56" fill="#ec9c80" stroke="#fff" stroke-width="0.7"/>
<rect x="537.86" y="743.28" width="11.62" height="11.56" fill="#f2ccb8" stroke="#fff" stroke-width="0.7"/>
<rect x="444.90" y="754.84" width="11.62" height="11.56" fill="#d44c44" stroke="#fff" stroke-width="0.7"/>
<rect x="456.52" y="754.84" width="11.62" height="11.56" fill="#ec8c6c" stroke="#fff" stroke-width="0.7"/>
<rect x="468.14" y="754.84" width="11.62" height="11.56" fill="#e8806a" stroke="#fff" stroke-width="0.7"/>
<rect x="479.76" y="754.84" width="11.62" height="11.56" fill="#70aed2" stroke="#fff" stroke-width="0.7"/>
<rect x="491.38" y="754.84" width="11.62" height="11.56" fill="#dceef4" stroke="#fff" stroke-width="0.7"/>
<rect x="503.00" y="754.84" width="11.62" height="11.56" fill="#f4f2f2" stroke="#fff" stroke-width="0.7"/>
<rect x="514.62" y="754.84" width="11.62" height="11.56" fill="#f2f2f6" stroke="#fff" stroke-width="0.7"/>
<rect x="526.24" y="754.84" width="11.62" height="11.56" fill="#f0baa0" stroke="#fff" stroke-width="0.7"/>
<rect x="537.86" y="754.84" width="11.62" height="11.56" fill="#f4e4da" stroke="#fff" stroke-width="0.7"/>
<rect x="444.90" y="766.40" width="11.62" height="11.56" fill="#dc5e50" stroke="#fff" stroke-width="0.7"/>
<rect x="456.52" y="766.40" width="11.62" height="11.56" fill="#ec9c80" stroke="#fff" stroke-width="0.7"/>
<rect x="468.14" y="766.40" width="11.62" height="11.56" fill="#ea9278" stroke="#fff" stroke-width="0.7"/>
<rect x="479.76" y="766.40" width="11.62" height="11.56" fill="#5a98c8" stroke="#fff" stroke-width="0.7"/>
<rect x="491.38" y="766.40" width="11.62" height="11.56" fill="#dcecf4" stroke="#fff" stroke-width="0.7"/>
<rect x="503.00" y="766.40" width="11.62" height="11.56" fill="#f4f2f2" stroke="#fff" stroke-width="0.7"/>
<rect x="514.62" y="766.40" width="11.62" height="11.56" fill="#e6f0f4" stroke="#fff" stroke-width="0.7"/>
<rect x="526.24" y="766.40" width="11.62" height="11.56" fill="#f2cab4" stroke="#fff" stroke-width="0.7"/>
<rect x="537.86" y="766.40" width="11.62" height="11.56" fill="#f6eaea" stroke="#fff" stroke-width="0.7"/>
<rect x="444.90" y="777.96" width="11.62" height="11.56" fill="#e06a58" stroke="#fff" stroke-width="0.7"/>
<rect x="456.52" y="777.96" width="11.62" height="11.56" fill="#eda084" stroke="#fff" stroke-width="0.7"/>
<rect x="468.14" y="777.96" width="11.62" height="11.56" fill="#ea9478" stroke="#fff" stroke-width="0.7"/>
<rect x="479.76" y="777.96" width="11.62" height="11.56" fill="#5090c8" stroke="#fff" stroke-width="0.7"/>
<rect x="491.38" y="777.96" width="11.62" height="11.56" fill="#dceaf2" stroke="#fff" stroke-width="0.7"/>
<rect x="503.00" y="777.96" width="11.62" height="11.56" fill="#f2f2f6" stroke="#fff" stroke-width="0.7"/>
<rect x="514.62" y="777.96" width="11.62" height="11.56" fill="#e6f0f4" stroke="#fff" stroke-width="0.7"/>
<rect x="526.24" y="777.96" width="11.62" height="11.56" fill="#f2ccb8" stroke="#fff" stroke-width="0.7"/>
<rect x="537.86" y="777.96" width="11.62" height="11.56" fill="#f6ece8" stroke="#fff" stroke-width="0.7"/>
<rect x="444.90" y="789.52" width="11.62" height="11.56" fill="#e8806a" stroke="#fff" stroke-width="0.7"/>
<rect x="456.52" y="789.52" width="11.62" height="11.56" fill="#f4e4d8" stroke="#fff" stroke-width="0.7"/>
<rect x="468.14" y="789.52" width="11.62" height="11.56" fill="#f2c8b0" stroke="#fff" stroke-width="0.7"/>
<rect x="479.76" y="789.52" width="11.62" height="11.56" fill="#f6e4d8" stroke="#fff" stroke-width="0.7"/>
<rect x="491.38" y="789.52" width="11.62" height="11.56" fill="#c8e2ee" stroke="#fff" stroke-width="0.7"/>
<rect x="503.00" y="789.52" width="11.62" height="11.56" fill="#7ab4d8" stroke="#fff" stroke-width="0.7"/>
<rect x="514.62" y="789.52" width="11.62" height="11.56" fill="#f6e0d0" stroke="#fff" stroke-width="0.7"/>
<rect x="526.24" y="789.52" width="11.62" height="11.56" fill="#f4dccc" stroke="#fff" stroke-width="0.7"/>
<rect x="537.86" y="789.52" width="11.62" height="11.56" fill="#f0c0a8" stroke="#fff" stroke-width="0.7"/>
<rect x="444.90" y="801.08" width="11.62" height="11.56" fill="#dc6050" stroke="#fff" stroke-width="0.7"/>
<rect x="456.52" y="801.08" width="11.62" height="11.56" fill="#eeb49c" stroke="#fff" stroke-width="0.7"/>
<rect x="468.14" y="801.08" width="11.62" height="11.56" fill="#eca890" stroke="#fff" stroke-width="0.7"/>
<rect x="479.76" y="801.08" width="11.62" height="11.56" fill="#f6e0d0" stroke="#fff" stroke-width="0.7"/>
<rect x="491.38" y="801.08" width="11.62" height="11.56" fill="#eef2f6" stroke="#fff" stroke-width="0.7"/>
<rect x="503.00" y="801.08" width="11.62" height="11.56" fill="#d8eaf2" stroke="#fff" stroke-width="0.7"/>
<rect x="514.62" y="801.08" width="11.62" height="11.56" fill="#f0bca4" stroke="#fff" stroke-width="0.7"/>
<rect x="526.24" y="801.08" width="11.62" height="11.56" fill="#eca88c" stroke="#fff" stroke-width="0.7"/>
<rect x="537.86" y="801.08" width="11.62" height="11.56" fill="#e89878" stroke="#fff" stroke-width="0.7"/>
<rect x="444.90" y="812.64" width="11.62" height="11.56" fill="#c83038" stroke="#fff" stroke-width="0.7"/>
<rect x="456.52" y="812.64" width="11.62" height="11.56" fill="#eca88c" stroke="#fff" stroke-width="0.7"/>
<rect x="468.14" y="812.64" width="11.62" height="11.56" fill="#e88868" stroke="#fff" stroke-width="0.7"/>
<rect x="479.76" y="812.64" width="11.62" height="11.56" fill="#eca084" stroke="#fff" stroke-width="0.7"/>
<rect x="491.38" y="812.64" width="11.62" height="11.56" fill="#eef2f6" stroke="#fff" stroke-width="0.7"/>
<rect x="503.00" y="812.64" width="11.62" height="11.56" fill="#d0e6f0" stroke="#fff" stroke-width="0.7"/>
<rect x="514.62" y="812.64" width="11.62" height="11.56" fill="#e89070" stroke="#fff" stroke-width="0.7"/>
<rect x="526.24" y="812.64" width="11.62" height="11.56" fill="#e88c6c" stroke="#fff" stroke-width="0.7"/>
<rect x="537.86" y="812.64" width="11.62" height="11.56" fill="#e47858" stroke="#fff" stroke-width="0.7"/>
<rect x="444.90" y="824.20" width="11.62" height="11.56" fill="#cc3c40" stroke="#fff" stroke-width="0.7"/>
<rect x="456.52" y="824.20" width="11.62" height="11.56" fill="#eca084" stroke="#fff" stroke-width="0.7"/>
<rect x="468.14" y="824.20" width="11.62" height="11.56" fill="#e88060" stroke="#fff" stroke-width="0.7"/>
<rect x="479.76" y="824.20" width="11.62" height="11.56" fill="#f0b498" stroke="#fff" stroke-width="0.7"/>
<rect x="491.38" y="824.20" width="11.62" height="11.56" fill="#f4f4f6" stroke="#fff" stroke-width="0.7"/>
<rect x="503.00" y="824.20" width="11.62" height="11.56" fill="#e0eef4" stroke="#fff" stroke-width="0.7"/>
<rect x="514.62" y="824.20" width="11.62" height="11.56" fill="#e88868" stroke="#fff" stroke-width="0.7"/>
<rect x="526.24" y="824.20" width="11.62" height="11.56" fill="#e88868" stroke="#fff" stroke-width="0.7"/>
<rect x="537.86" y="824.20" width="11.62" height="11.56" fill="#e88060" stroke="#fff" stroke-width="0.7"/>
<path d="M462.3 708.2 V706.3 H473.9 V708.2 M450.7 708.2 V700.0 H468.1 V706.3 M532.0 708.2 V702.0 H543.7 V708.2 M520.4 708.2 V695.6 H537.9 V702.0 M497.2 708.2 V698.2 H508.8 V708.2 M503.0 698.2 V686.6 H529.1 V695.6 M485.6 708.2 V679.3 H516.1 V686.6 M459.4 700.0 V667.4 H500.8 V679.3 M444.6 714.4 H424.9 V725.9 H444.6 M444.6 737.5 H442.7 V749.1 H444.6 M444.6 772.2 H443.4 V783.7 H444.6 M444.6 760.6 H440.6 V778.0 H443.4 M442.7 743.3 H431.6 V769.3 H440.6 M444.6 818.4 H441.5 V830.0 H444.6 M444.6 806.9 H438.0 V824.2 H441.5 M444.6 795.3 H429.7 V815.5 H438.0 M431.6 756.3 H416.4 V805.4 H429.7 M424.9 720.2 H404.3 V780.8 H416.4" fill="none" stroke="#555" stroke-width="0.9"/>
<text x="551.8" y="717.1" font-size="7.8" font-weight="normal" fill="#111" text-anchor="start" font-family='"Liberation Sans", sans-serif' >COP_C</text>
<text x="551.8" y="728.6" font-size="7.8" font-weight="normal" fill="#111" text-anchor="start" font-family='"Liberation Sans", sans-serif' >Oligo_F</text>
<text x="551.8" y="740.2" font-size="7.8" font-weight="normal" fill="#111" text-anchor="start" font-family='"Liberation Sans", sans-serif' >Oligo_A</text>
<text x="551.8" y="751.8" font-size="7.8" font-weight="normal" fill="#111" text-anchor="start" font-family='"Liberation Sans", sans-serif' >Oligo_B</text>
<text x="551.8" y="763.3" font-size="7.8" font-weight="normal" fill="#111" text-anchor="start" font-family='"Liberation Sans", sans-serif' >Oligo_C</text>
<text x="551.8" y="774.9" font-size="7.8" font-weight="normal" fill="#111" text-anchor="start" font-family='"Liberation Sans", sans-serif' >Oligo_D</text>
<text x="551.8" y="786.4" font-size="7.8" font-weight="normal" fill="#111" text-anchor="start" font-family='"Liberation Sans", sans-serif' >Oligo_E</text>
<text x="551.8" y="798.0" font-size="7.8" font-weight="normal" fill="#111" text-anchor="start" font-family='"Liberation Sans", sans-serif' >OPC_A</text>
<text x="551.8" y="809.6" font-size="7.8" font-weight="normal" fill="#111" text-anchor="start" font-family='"Liberation Sans", sans-serif' >COP_B</text>
<text x="551.8" y="821.1" font-size="7.8" font-weight="normal" fill="#111" text-anchor="start" font-family='"Liberation Sans", sans-serif' >OPC_B</text>
<text x="551.8" y="832.7" font-size="7.8" font-weight="normal" fill="#111" text-anchor="start" font-family='"Liberation Sans", sans-serif' >COP_A</text>
<text transform="translate(448.0,838.7) rotate(90)" font-size="7.7" font-weight="normal" fill="#111" text-anchor="start" font-family='"Liberation Sans", sans-serif'>chi_CYP_2</text>
<text transform="translate(459.6,838.7) rotate(90)" font-size="7.7" font-weight="normal" fill="#111" text-anchor="start" font-family='"Liberation Sans", sans-serif'>chi_COP</text>
<text transform="translate(471.2,838.7) rotate(90)" font-size="7.7" font-weight="normal" fill="#111" text-anchor="start" font-family='"Liberation Sans", sans-serif'>chi_CYP_1</text>
<text transform="translate(482.9,838.7) rotate(90)" font-size="7.7" font-weight="normal" fill="#111" text-anchor="start" font-family='"Liberation Sans", sans-serif'>chi_Oligo_5</text>
<text transform="translate(494.5,838.7) rotate(90)" font-size="7.7" font-weight="normal" fill="#111" text-anchor="start" font-family='"Liberation Sans", sans-serif'>chi_Oligo_3</text>
<text transform="translate(506.1,838.7) rotate(90)" font-size="7.7" font-weight="normal" fill="#111" text-anchor="start" font-family='"Liberation Sans", sans-serif'>chi_OPC</text>
<text transform="translate(517.7,838.7) rotate(90)" font-size="7.7" font-weight="normal" fill="#111" text-anchor="start" font-family='"Liberation Sans", sans-serif'>chi_Oligo_4</text>
<text transform="translate(529.3,838.7) rotate(90)" font-size="7.7" font-weight="normal" fill="#111" text-anchor="start" font-family='"Liberation Sans", sans-serif'>chi_Oligo_1</text>
<text transform="translate(541.0,838.7) rotate(90)" font-size="7.7" font-weight="normal" fill="#111" text-anchor="start" font-family='"Liberation Sans", sans-serif'>chi_Oligo_2</text>
<rect x="585.5" y="708.3" width="7.5" height="115.7" fill="url(#ghm)"/>
<text x="596.0" y="718.5" font-size="8.0" font-weight="normal" fill="#111" text-anchor="start" font-family='"Liberation Sans", sans-serif' >0.65</text>
<text x="596.0" y="734.4" font-size="8.0" font-weight="normal" fill="#111" text-anchor="start" font-family='"Liberation Sans", sans-serif' >0.6</text>
<text x="596.0" y="750.7" font-size="8.0" font-weight="normal" fill="#111" text-anchor="start" font-family='"Liberation Sans", sans-serif' >0.55</text>
<text x="596.0" y="766.9" font-size="8.0" font-weight="normal" fill="#111" text-anchor="start" font-family='"Liberation Sans", sans-serif' >0.5</text>
<text x="596.0" y="783.0" font-size="8.0" font-weight="normal" fill="#111" text-anchor="start" font-family='"Liberation Sans", sans-serif' >0.45</text>
<text x="596.0" y="799.3" font-size="8.0" font-weight="normal" fill="#111" text-anchor="start" font-family='"Liberation Sans", sans-serif' >0.4</text>
<text x="596.0" y="815.6" font-size="8.0" font-weight="normal" fill="#111" text-anchor="start" font-family='"Liberation Sans", sans-serif' >0.35</text>
</svg></body></html>
